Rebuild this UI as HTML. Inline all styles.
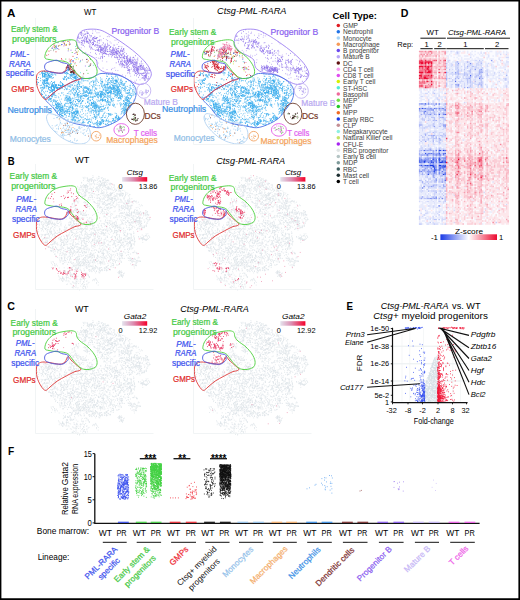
<!DOCTYPE html><html><head><meta charset="utf-8"><style>html,body{margin:0;padding:0;background:#fff;}svg{display:block;}text{font-family:"Liberation Sans",sans-serif;}</style></head><body>
<svg width="520" height="600" viewBox="0 0 520 600">
<rect width="520" height="600" fill="#fff"/>
<defs><g id="nb"><path d="M78.6 94.8h0m15.7-4.6h0m-1.1 12.5h0m32.1-13.3h0m-65.6 15.3h0m48.8 11.7h0m-40.8-16.5h0m37.2-3.6h0m-34.8 1h0m38.7-9.7h0m5.5 5.5h0m7.8-5.5h0m-43.8 10.2h0m21.9 23.7h0m-34.4-35.6h0m6 18.5h0m53.5-7h0m-9.7-7.4h0m-2.3-1.5h0m-62.1 7.1h0m10.2 17.7h0m.3-3.8h0m35.4 14.9h0m3.2-30.1h0m-24.8 20.4h0m53.4-9.4h0m-42.9-14.3h0m-23.3 19.6h0m25-17.6h0m13.3 2.1h0m-39.8 8.2h0m10.1-.9h0m-1.6-15.9h0m39.3 28.8h0m-19.6-32.2h0m4.5-.4h0m12.7 19.2h0m-9.4 22.2h0m-5.9-20.9h0m4.5 15h0m29.3-26.9h0m-45.8 10.1h0m2.3 .7h0m-4.4 3.4h0m12.4 20.1h0m31.7-32.7h0m-27.8 25.3h0m22.7-.8h0m7.9-3h0m-21.6 5.1h0m25.3-14.2h0m-2.7 .1h0m-17.3-18.6h0m9.3 3.1h0m-46.9 17.6h0m29.7-19.4h0m-3.7 36.1h0m-6.2 .3h0m13.6-17.8h0m-37.7 4.9h0m26.5-12.4h0m20.4-21.2h0m11.2 32.2h0m-34.1-10.2h0m36.5 5.7h0m-56.3 7.3h0m40 .5h0m5.6-18.4h0m12 4.3h0m-65.9-11.1h0m9.2 11.9h0m19.8-18.1h0m26.2-.7h0m8.6 28.2h0m-48.7 2h0m8.7-5h0m10.5 1h0m17.3 12.5h0m-15.5-9.2h0m22.3-12.8h0m-25.1 8.7h0m-21-12.6h0m21.3 22.8h0m-18.3-24.2h0m48.3 11.1h0m-41.2-7.9h0m36.4 1.6h0m-29.3 7.7h0m38-6.3h0m-22.5 21.7h0m-54.3-24h0m12.1 7.6h0m9.7 7.6h0m52.5-2.4h0m-54.1-2.8h0m55.3-6.2h0m-62.6 11.2h0m4.7-4.9h0m-18.9-8.1h0m77.3-.1h0m-55.6 14.1h0m58.5-17.1h0m-22.1-17.3h0m-3.9 16.3h0m17.9 14.1h0m7.2-13.7h0m-25.8 14.3h0m19.7-20.2h0m-55.1 21h0m27.5-21.3h0m31.4 14.4h0m-23.9-3.2h0m-28.3 5.7h0m33.6 8.6h0m-4.3-13.9h0m-16.4 5.9h0m20.1-10.6h0m4.7-10.2h0m-46.8 25.2h0m21.5-11.4h0m28.3 17.9h0m-9.1-18.7h0m7.4-3.7h0m-53.8 22.2h0m34.4-11.5h0m31.3-6.5h0m-18.5 3h0m7.8-11.3h0m-60.7 17.2h0m69.8-.2h0m-46.8-26.3h0m40.2 36.9h0m6.3-35h0m-47.9 35.3h0m.6-22.4h0m43.6-15.5h0m-37.9 10.3h0m-30.1 9.1h0m3.8 12.4h0m38.6 5.1h0m-37.6-6.2h0m72.2-5.6h0m-6.8-5.1h0m-38.7 21.7h0m5-29.5h0m12.7 .6h0m-25.6 14.9h0m-6.4-7.9h0m26.6 25.2h0m-42.1-23.8h0m61.5-21.6h0m-8.7 40.8h0m9.7-30.2h0m-3.8 9.8h0m-35.6 11.3h0m45.3-2.8h0m-4.5-11.6h0m-20.5 15.5h0m-30.3-1.4h0m38.4-33.2h0m-54.8 22.6h0m44.5-8.5h0m5 11.9h0m-40.8 3.9h0m66.2-10.8h0m-59.4 11.9h0m34.1-25.6h0m.9 11.1h0m-1.8 28.6h0m10.8-31.5h0m-6.5 25.4h0m21.2-13.3h0m-23.5 5.6h0m-24.8 2.5h0m-5.6-1.8h0m19.7 .9h0m13.5-23.5h0m-25.8 .6h0m8.9-.2h0m27.8-6.7h0m-38.8 33.8h0m16.9-7h0m-22.3-5.6h0m-8.8 9.5h0m6.6-15h0m47.8-5.6h0m-1.8-10.1h0m-38.6 17.9h0m-9.7-.9h0m31.7 25.1h0m21.4-31.2h0m-56.2-2.9h0m37.7-5.7h0m9.6-5.4h0m9.6 12.5h0m-25.3-5.5h0m30.6 24.8h0m-15.5 4.6h0m9.6-30.8h0m-38.9 19.1h0m-2.7-1.2h0m41.7-3.4h0m-30.2 23.8h0m31.1-37.7h0m-71.3 14.5h0m75 3.7h0m-35.5-9.5h0m29-1.5h0m13.9-1.8h0m-8 14.3h0m-25.1 8.6h0m3.5-20.6h0m23.3 7.6h0m-34.4 3.4h0m-19.1-10h0m19.1-1.3h0m29.3-9.5h0m-23.9 24.3h0m17-23.5h0m-56.9 21.9h0m59.8-12.1h0m-20.4 23.3h0m24.5-22h0m-.8-1.4h0m13.3 .7h0m-60.6 15.1h0m9.3-8.1h0m14.6-4.8h0m18.9-5.5h0m-40.5 29.9h0m33.4 1.5h0m3.9-44.7h0m-5.6 31.1h0m1.8-29.3h0m-16.6 24.6h0m-17.4-4.3h0m26.2-7.9h0m7.1 30.6h0m-.8-37.5h0m19.7 12.1h0m-47.4-5.2h0m-24.4 4h0m24.3-11.4h0m-15.9 24.8h0m-6.8-2h0m36.5 5.5h0m-36.2-3.3h0m2.5 4.5h0m18-17.8h0m22.8 1h0m8.2 17.6h0m-37-1.8h0m4-7h0m8-10h0m-9.8 20.5h0m41-35.9h0m-36.5 12.4h0m-4 23.7h0m53.4-14.2h0m-14-12.4h0m-30.1 1.1h0m-26.8 17.7h0m.7-5.6h0m42.7-8.4h0m-22.7 11.7h0m30.1-25.5h0m-23.9 6.9h0m16.7-3.8h0m-2.6 22.9h0m19.1-11.6h0m-55.1 18h0m30.2-13.6h0m-21.8-.9h0m10.1-.7h0m26.8-12.8h0m-40.5 27h0m11.3 8.6h0m40.8-32.1h0m-13.2 2.1h0m-14.9 1.2h0m-19.4 22.2h0m35.1-29.4h0m2.8 1.9h0m-36.5 3h0m-6.7 7.2h0m52.7-4.9h0m-44.8 24.1h0m.1-20.2h0m-3.4-8.8h0m35 7.3h0m-10 23.5h0m-24.5-32.7h0m22.3-.1h0m30 18.5h0m-26.1 17.2h0m-2.6-12.6h0m6-9.8h0m-39.3 17.3h0m69.5-12.7h0m-56-8.9h0m21.8 24h0m33.9-28.9h0m-55.9 32.1h0m13.9-19.9h0m-22.5-3.8h0m23.3 7.5h0m39.1-4.3h0m-72.3 4.8h0m2.9-1.8h0m41.5-9.6h0m-22.5 7.4h0m37.4-6.5h0m-22.9 8.7h0m-20-4.9h0m42.5 18.5h0m13.7-12.9h0m-34.8 12.3h0m-34.4-3.7h0m12.6-5.9h0m6.2 13.9h0m29.8-16.7h0m-51.4 4.5h0m67.1-24.7h0m-53.4 16.4h0m47.4 18.3h0m-9.7-34.7h0m1.1-1.4h0m-36.5 20.3h0m7.8-7h0m-25.1 14.7h0m59.5-27.3h0m-4.3-2.3h0m19.7 17.3h0m-28.9-6.3h0m-43.1 15.1h0m25.8-19h0m6.6 17.1h0m9.4 5.7h0m-6.2-14.3h0m-26.4-.7h0m-11.9 5.5h0m35 3.6h0m-28 2.9h0m45.6-33.7h0m-22.9 18.4h0m32.5 8.3h0m-40.1-18.7h0m-24.8 12.4h0m22.3 6.8h0m27.1-10h0m-36.5 4h0m4.4 10.5h0m26.4-6.1h0m-41.3 7.7h0m62.5 8.6h0m-53.2-1.6h0m12.4-20.9h0m5.6-2.8h0m-32.7 7.9h0m71-.4h0m-44.7-7.2h0m34.4 .4h0m-50.5 10.4h0m61.8-6.4h0m-52.6 17.9h0m35.8-13.8h0m-38.8 7.1h0m28.5-18.9h0m15.9 4.5h0m-24.6-3.8h0m13.6 7.4h0m-.6 28.6h0m16.8-38.1h0m-26.9 32.5h0m26.4-33.3h0m-25 5h0m-21.1 20.9h0m18.6-16h0m37.1 4.3h0m-56.1 8.8h0m15.9-16.9h0m-16.8 17.6h0m23.1-6.8h0m27.2-23.5h0m-3.2 1.5h0m-18 34.4h0m4.1-21.9h0m9.5 .6h0m-55 10.8h0m51.9-15.1h0m0 35.9h0m12.9-33.9h0m-59.4 16.3h0m-6 2.5h0m7.8 6.3h0m32.3-24.5h0m-23.9 13.8h0m34.4 18.6h0m-2.2-38.6h0m-30.8 2.4h0m28.2-6.2h0m20.7 1.6h0m-41 3.9h0m7.7 9.8h0m6-6.3h0m5.9 2.5h0m9.7-9.7h0m.1 3h0m-31.6 26.5h0m45.7-11.3h0m.7-13.7h0m4.1-.9h0m-40.6 6.7h0m38.7-7.6h0m-21.3-4.6h0m16.9 22.6h0m-26.1-9.1h0m-19-.1h0m-14.9 10.7h0m14.2-16.9h0m53.7 6.4h0m-37.7 .9h0m7.4 26.8h0m-14.1-31.3h0m6.9 14.9h0m-37.6-3.7h0m36.5 14.7h0m41.7-22.9h0m-16.9-1.8h0m-21.8 9.8h0m31.3 7.8h0m-48.9-22.5h0m51.9 4.2h0m-22.6 9.5h0m3.8 20.1h0m-40.1-21.2h0m-12.8 5.7h0m54.3-23.9h0m-44.8 11h0m30.7-.5h0m4.7-11.2h0m-33.1 32.1h0m46.5 2.8h0m-.2-21.1h0m-10.6 5.2h0m5.5 13.9h0m9.2-19.1h0m-40.8-3.4h0m5.9 2.2h0m34.3-2.9h0m-3.5-10.7h0m2.3 5.9h0m9.4 3.7h0m-19.9-5.4h0m-5 13.9h0m-7.7 2.9h0m-25.2-2.4h0m17.9-6.7h0m37 14.4h0m-50.8 10.6h0m20.3-31.5h0m-32.6 21.5h0m39 16.7h0m3.3-24h0m2 15.5h0m-30.2-5.8h0m31.5-21.1h0m-50 11.5h0m47.6-7.4h0m11-1.4h0m-11.1 4.8h0m-30 7.5h0m25.3 20.5h0m2-24.6h0m12.2 4.5h0m-54.8 5.2h0m3 .2h0m7.2-7.1h0m28.7-8.3h0m13.5-5.7h0m-14.7 16h0m-10.5 2.9h0m-14 8.2h0m30.3 5.8h0m-28.1-2.3h0m14.6-27.3h0m24.2 1.9h0m-43.5 15.3h0m-6.2 1.2h0m-2.2-6.7h0m1.1 11.9h0m65.3-17.8h0m-27.3-1.7h0m-40.4 11.7h0m20.1-9.7h0m10.7 10.6h0m-16.1-22.9h0m25.1 21h0m9.8-1.4h0m-28-11.5h0m46.9-.1h0m-44.6-6.7h0m2.1 8.1h0m-9.8 18.6h0m19-7.6h0m-1.6 18h0m8.5-29.8h0m-6.3-.6h0m6.5-11.1h0m15.6 34.9h0m-21.7-5.9h0m11.8-18.7h0m-4.2-8.6h0m-28.3 36.5h0m35.1-30.7h0m-.4-2.2h0m-15.1 8.7h0m-31.7-1.8h0m-6.9 12.1h0m9.8 4.3h0m29.6 11.4h0m-8.2 .8h0m9.7 2.6h0m19.2-38.1h0m-52.4 12.1h0m51.2-9.1h0m-47.1 12.7h0m61.1-11.4h0m-6.9 18.1h0m-9.5-19.1h0m8.7 20.6h0m-9.3-25.8h0m13.3 14.4h0m-6.7-16h0m-28.1 18.7h0m-3.5-15.6h0m10.7-5.2h0m24.2 13.9h0m-12.1-1.5h0m2.4-12h0m-36.1 4.4h0m3.2 13.3h0m7.1 15.6h0m7.4-12.2h0m13.5-10.8h0m-8.1 7.5h0m-40.6 8.3h0m71.7-11.4h0m-42.1 24h0m-11-27.5h0m20 17.1h0m22.3-12.7h0m-65.6-3.5h0m40.1 13.6h0m19.2-27.7h0m-7.6 16.4h0m10.1-2h0m-3.1 24.4h0m-50.4-12.7h0m45.8-2.1h0m-30.2-23.5h0m-5.5 27.4h0m51.4-4.5h0m-55.1 11.9h0m43.1-30.5h0m-25.6 5.3h0m13.2 31.3h0m-.8 2.2h0m20.5-38.2h0m-34.4 10.5h0m10.4 14.2h0m18.4-18.5h0m4.4 25.3h0m-5.7-24.2h0m-32.3 7.3h0m20.5 10.5h0m17.3 5.4h0m-31.9-9.7h0m-30 .3h0m4.3 2.6h0m39.6-14.6h0m22.7-10.2h0m-9.4 13.4h0m-20.5 8.6h0m32.6-20.7h0m-56.5 20.9h0m31.8 10.2h0m-18.4-16.7h0m34.6-13.7h0m-38.7 12.2h0m-20.3-2.3h0m15 8h0m51.8-4.8h0m-22.7-18.5h0m-27 11.3h0m21.2 15.1h0m-1.6-1.5h0m9-11.5h0m-24.2-8.6h0m27.7 14.7h0m-13.6 .1h0m35.3-6.1h0m-56.4 24.6h0m31.1-29.3h0m-20.8-4.8h0m17.8 33.2h0m-45.1-15h0m3.4 2.9h0m.4-.4h0m60.2-15.8h0m3.7 12.9h0m-33 22.4h0m-23-12.9h0m52.7-10.1h0m-16.6-13.7h0m-8.7 15.3h0m-6.4-6.2h0m-5.9 24.1h0m13.4-17.5h0m22.4-7.1h0m-18.2 25.6h0m8.5-26.6h0m12.2-14.7h0m-22.1 26.7h0m3.1-29.7h0m-2.5 16.6h0m24.4 5.4h0m-45.4-17.2h0m-20.5 24.6h0m7.5-23h0m47.4-5.7h0m12.4 7.7h0m-33.7 17.5h0m26 13.5h0m-33.5-25.2h0m-.9 14.7h0m16.4 13.8h0m27.7-22.3h0m-74.7-4.9h0m37.1-1.4h0m29.8 .4h0m-12-17.2h0m4.5 17.5h0m-40.2 8.3h0m-3.5-3.5h0m59.2-5h0m1 12.8h0m-17.7-16.1h0m-51.8 18.6h0m41.1-14.6h0m-26.5 18.2h0m22.8-5.4h0m-7.8-17.2h0m12.2 3.5h0m-29.8 9.1h0m18.8-13.9h0m-6.3 4.4h0m-16.3 7.7h0m21.3-2.9h0m-32.6 6.1h0m32.3 6.5h0m-6.3 7.3h0m19.8-22.6h0m15.4-8.6h0m-40.9 25.1h0m48.1-27.8h0m-59.9 27.7h0m42.8-9.4h0m-8.2 9.3h0m8.5-11h0m-10.1 20.9h0m-28.2-9.9h0m52-28.7h0m-25.2 5.4h0m-12 .6h0m-11 18.7h0m50.9-23.4h0m-45.1 17.4h0m-1.4-15.1h0m14.2 26.5h0m27.5 4.8h0m-38.2-35.6h0m-13.7 19.9h0m43.6-2.2h0m-33.8 17.5h0m45.7-35.4h0m-3.7 37.5h0m-58.7-8.2h0m35.6-1.2h0m-37.9-6.3h0m4.1 7.9h0m51.3-30.3h0m-38.4 11.1h0m-2.6-7.5h0m15.3 37.9h0m8.7-19.6h0m24.7-3.5h0m-18.5-7.4h0m19.5-3.3h0m-9.7 29.7h0m2.7-30h0m-48.6 .9h0m60.8 10.6h0m-29.1-5.6h0m-20.9 26.9h0m43.2-23.3h0m4.1 12.8h0m-45.1-10h0m35.2-15.2h0m-2.1 3.2h0m-40.6 25.1h0m25.3-8.6h0m-6.5-15.2h0m39.7 12.5h0m-18.9-13.2h0m2.4 3.9h0m17.7 9.3h0m-17.3 18.2h0m.7-40.7h0m-36.9 30.7h0m26-13.5h0m-5.8-.3h0m-16 8.5h0m-13.8-19.4h0m41.9 .9h0m-49.5 24.1h0m35.2 4.6h0m-7.8-26.4h0m4.2 18h0m16.3-17.3h0m-15.1 12.5h0m-18.8 9.8h0m5.6-19h0m36.7-12.1h0m-7.8 11.2h0m-.4-3.5h0m-31.4 22.8h0m4.4 5.3h0m6.9-24.4h0m-36.8 3.5h0m64.3-15.8h0m-39.3 3.7h0m-3.8 6.6h0m11.9 4.2h0m21.1-7.8h0m-8 6.7h0m-26-8.6h0m46.1 2.6h0m-53.6 17.1h0m40.7 19.4h0m7.3-20h0m-.9-3.6h0m-17.3-4.7h0m-4.4 1.1h0m28.6-5.3h0m-15.4-2.7h0m14.3 5.6h0m-28.1-3.7h0m12.9 3.5h0m-34.6 16.2h0m19.2-3.9h0m-32.4-13.3h0m24.3-7.3h0m11.9 7.9h0m11.8-6.5h0m-25 6.4h0m5.2 25.9h0m44.1-27.6h0m-58.2 15.3h0m52.8 4.2h0m-23-14h0m15.6-6.4h0m-45.5 7.2h0m8.8 13h0m10.4 8h0m-11.5-2.4h0m42.9-19.2h0m13.7-8.6h0m-33.9 21.7h0m26.6-1.3h0m-51 4h0m-25.6-15.2h0m76.2 12.6h0m1.6-8.4h0m-15.3-26.5h0m-12.6 35.3h0m30.2-8.6h0m-18.9 1h0m-45-4.1h0m32.9 25.8h0m34.5-40.1h0m-31.2 7.2h0m28 8.5h0m-32.9 3.7h0m31.2-1.6h0m-20 3.9h0m12.5-11.5h0m-49.3 15.5h0m1.3-7.8h0m-23.1-6.1h0m23.6 16h0m53.5-14.9h0m-43.9 2.8h0m34 14.1h0m-47.2-31.9h0m-6.9 31.8h0m24-20.8h0m15.3-.3h0m-.6 28.2h0m-29.3-10.1h0m-18.4-17.7h0m35.5-4.4h0m19.1 4.5h0m7.4 26.3h0m-48.5-23.5h0m28.5 7.2h0m34.6 2.2h0m-44.2-18.6h0m12.3 33.8h0m29.3-29h0m-8.7 24.2h0m-20.6-21.3h0m27.9-14.3h0m-17 9.3h0m7.8-6.9h0m-39.4 26h0m11.2 11.8h0m-34.6-28.6h0m48.9 6.3h0m15.7 19.8h0m-1.8-38.3h0m-11.7 8.1h0m17.1 19.4h0m-34.9-12.8h0m-31.3 8.6h0m4.6 2.5h0m25.7-14.8h0m18.6 1.5h0m0-9.6h0m-47.4 19.7h0m69.8-13.4h0m-17.4 31.2h0m8.4-26.5h0m9.4 6.2h0m-43.7-20.6h0m-13.3 4.3h0m1.9 34.4h0m33.1-27.4h0m-24.2-5.3h0m-1.6 29.3h0m-12.9-27.3h0m36.2 12h0m7.1 1.6h0m-33.3 1.3h0m47-15.1h0m-12.7-7.4h0m-31.7 .9h0m-12.3 21.6h0m31.7 2.2h0m22.3-22.9h0m-34.6 4.3h0m-18.7-1.6h0m29.7 8.7h0m-11.8-6.8h0m2.8 1.4h0m27.4 3.7h0m-53.8 16.7h0m6.3 7h0m27.2 3.2h0m22.7-35.6h0m-57.1 24.9h0m-6.1-8.4h0m9 12.1h0m40.4-26.6h0m-29.4 33.8h0m9-28.4h0m24.3 22.3h0m18.4-6.5h0m-14.4-17.7h0m-25 12.3h0m-2.2-15.1h0m22.7-2.2h0m7.2 36.3h0m-53.1-13.4h0m58.9-10.7h0m-64.5 5.4h0m38.1 4h0m-19.2 10.3h0m-10.2-29.5h0m13.7 14.8h0m-7.6 14.4h0m9.6-12.8h0m-23.8 5.4h0m60.6-20.7h0m-52.8 26.8h0m18.2-16.4h0m37.8-5.2h0m-62.2 17.4h0m17.6-19.2h0m26 9.3h0m-9.2 5.1h0m-19.7-5.3h0m32.8-9.3h0m3.9 1.4h0m-46.3 17.1h0m57.9-13.1h0m-16.1 3.3h0m3.4-21.3h0m11.4 1.8h0m15 13.4h0m-78.1 13.3h0m38.7-1.1h0m-3.1-18.7h0m23.3 26.3h0m-54-4h0m10.4 .3h0m46.5-15.3h0m-18.5-3.2h0m.1 18.3h0m6.6-19h0m-18 30.6h0m31.4-34.6h0m-37-7.8h0m-5.8 15.9h0m13.6-13h0m-18 38.1h0m-12.9-9.3h0m34.4 1h0m2.9-10.1h0m17.8-9.2h0m10.6 10.4h0m-47.4-6.5h0m29.3-16.6h0m-45.7 8.5h0m62.5 21.6h0m-65.8-5.2h0m8.8-2.7h0m49.6-13.8h0m-7.9 .3h0m-46 23h0m22.7-14.8h0m-27.9 11h0m60.4-14.2h0m-11.4 .3h0m-32.4 20.3h0m2.5-24.3h0m-4.2 23.9h0m21.4-32.3h0m-38.8 23.9h0m26-24.1h0m31.9 10.2h0m-2.4 .2h0m-11.8 0h0m3.9 4.5h0m13-5.1h0m7.8 21.8h0m-50.2 7.9h0m20.2 6.1h0m25.1-7.9h0m-44.3-36.2h0m23.8 43.9h0m-18.2-21.1h0m23.1-11h0m19.4 12.1h0m1-.6h0m-64.2-1.5h0m55.9 15.1h0m-39.9-4.7h0m32.7-22h0m-42.7 10.9h0m11.6 11.9h0m-7.2-12.3h0m31.3 7.9h0m-36.9-2.3h0m42.9-11.7h0m-39.3 1h0m58.5 2.9h0m-49.7-.9h0m22.6 23.3h0m.2 2h0m29.2-18.5h0m-.8-1.2h0m-53.5 8.4h0m1.6-1.6h0m37-24.9h0m-23 34.6h0m-35.6-24.9h0m11 20.2h0m59.1-26.8h0m-47.3 22h0m34.8-24.7h0m-31.5 7.5h0m-9.7 23.9h0m12.2-29.8h0m28 9.5h0m14.1 7.7h0m-41.4-10.6h0m9.1-13.8h0m7.6 13.2h0m22.2-10.1h0m-15.3 12.9h0m-25.1-3h0m18.1-2.5h0m-8-6.5h0m-15.9 8.7h0m19.2-5.7h0m15.4-.7h0m-50.9 16.6h0m47.2-18h0m-1.6 32.1h0m-4.5-12.6h0m13.2-22.5h0m-24.9 41.3h0m5.7-13.2h0m-11.8-16.8h0m33.8-8.3h0m-39.6 16.6h0m20.6 19.6h0m25.6-38.3h0m-63.2 22.5h0m26.6 .3h0m25.6-21.7h0m1.5 3.5h0m-.1-1.5h0m-15.4 28.9h0m4.4 4.2h0m13.2-35.7h0m-14.2 13.4h0m-24.5-11.7h0m18.4 19.8h0m14.9-7.5h0m-50.8 12.4h0m-3.6-5.5h0m12.5-10.1h0m46.4 22.2h0m12.2-13.4h0m-46.6-8.9h0m-4.5-1.8h0m18 9.3h0m2.7 2.2h0m-39.2 .1h0m27.7 13.5h0m32.4-26.5h0m-43.5 18.3h0m35.9-11.9h0m16-1.9h0m-57.9 2.9h0m25.6 16.6h0m-3.8-24.1h0m-37 2.1h0m43 28h0m16.5-32.1h0m-20.3 9.8h0m31.2 10h0m-47.9 2.5h0m43.1-22.8h0m-44.1 11.4h0m12-3.4h0m14.9 21.7h0m-39.7-12.9h0m14.7 4.3h0m0-25.6h0m47.5 22.6h0m-63.9 2.8h0m28.2-8.2h0m1.8-9.9h0m-18.1 24h0m27.4-39.4h0m9.1 27.4h0m-49.3 4.8h0m9.4-12h0m57 7.7h0m-21-19.3h0m-20.4 32.1h0m10.8-5.3h0m31.2-12.1h0m-19.4-8.4h0m-47.6 14.1h0m13.2-18h0m3.7 21.3h0m22.8 .5h0m-5.5 3.8h0m24.2-22.7h0m-21.7 3.1h0m8.3 6.7h0m5.2-8.8h0m-2.9-9.5h0m-12.9 24.4h0m15.8-18.8h0m-38.2 19.1h0m-22.2-8.2h0m16.4 13.2h0m50.3-23h0m-28.4 15.4h0m11.3-19.7h0m13.4 .2h0m-10.2 25.3h0m-20 11.9h0m21.4-9.6h0m5-9.3h0m4.1-17.2h0m-4.4 14.3h0m-44.2 13.3h0m59.7-6.5h0m-15.4-16.2h0m-33.9 25h0m39-28.6h0m-47.8 20.3h0m-15.3-9.6h0m8.6 13.4h0m66.9-15.6h0m-61.2 13.9h0m49.2-23.5h0m-11.6 2.7h0m29.6 1.3h0m-48.9 4h0m-4-10.1h0m8.7 21h0m-9.7-22.8h0m47.6-1.7h0m-10.1 11.8h0m-13.4 6.2h0m16.3-13.4h0m-15.3 11.6h0m-10.6-3.9h0m26.2 1.1h0m-27.2-4.7h0m31.1 20h0m-24.7-2.7h0m8.6-17.1h0m7.8 4.4h0m-37.3-10.4h0m5 22.3h0m30.8-18.4h0m-17.5-7h0m-33.2 25.7h0m43.8-16.9h0m-33.1 21.6h0m44.7-13.7h0m0-4.7h0m11.7 8.8h0m-81-1.6h0m74.4-15.3h0m-16.3 7.2h0m-11.6 30.8h0m23.7-33.6h0m10.4 13.7h0m-26.9-21.9h0m-10.1 5.4h0m-23.3 13.7h0m12.3-1.5h0m26.3-16.4h0m6.7 22.3h0m-58.2-3.5h0m36.7 4.4h0m0-2.1h0m33.9-10.3h0m-50.7-12.1h0m-13.7 25.4h0m53.6-26.4h0m2.1 9.4h0m-23.1 21h0m6.4-1.9h0m20.4 4.5h0m-21.4-13.9h0m-26.2-4.8h0m-.3-6.3h0m-11 22.5h0m65.9-17.6h0m-69.6 14.6h0m60.8 9.5h0m-5.8 4.8h0m-12.6 1.3h0m-19.5-43.9h0m-4.6 20.9h0m-13 12.2h0m36.9-31h0m27 23.1h0m-26.2 12.6h0m-26.8-3h0m34.2-23.1h0m-7.8 30.3h0m-33.4-12.4h0m13.9-8.1h0m-18.3 12.4h0m17.7-26.4h0m10.3 22.9h0m6.2 4.8h0m-23.6-29.5h0m-2.6 21.8h0m38.8-10.8h0m-49.3-8.6h0m3.5 10.4h0m59.4 15.6h0m-12.2-28.8h0m-26 3h0m7.2-5h0m-12.8 29.1h0m-11.3-14h0m-17.5-1h0m8.4 12.6h0m69.2-19.1h0m-63 25.3h0m-12.3-15.1h0m22.3-9.6h0m9.5 4.7h0m39.7 8.2h0m3.4-3.6h0m-40.8 19.2h0m28-29.6h0m-48.5 9.7h0m39.1 4.3h0m-14.1-6.5h0m-34 5.5h0m25.2 16.8h0m21-7.5h0m-46.7-7.6h0m2.7 9.8h0m56.4-29.6h0m-2 32.3h0m-21.9-14.6h0m-14.5 11.5h0m-22.1-5.7h0m-3.2-6.9h0m64.8-3.3h0m-5.7 7.1h0m1.1 1.1h0m-37.2-6.9h0m32.2-11.7h0m17.4 20.9h0m-69 3.3h0m45.5-12.2h0m.8 23.7h0m3.1-3.2h0m-6.3 2.2h0m-7.4-15.8h0m-33 3.9h0m48.7-6.5h0m-38.4-.8h0m58.1-5.7h0m-23 10.2h0m-7.4-14.8h0m-5.5 30h0m-18-33.4h0m-14.7 19.4h0m12.4 6.7h0m-11-8.9h0m17.1 5.1h0m-3.1-2.9h0m-3.4-10h0m20.2 3.4h0m22.6-12.2h0m-22.9 6.9h0m23.6-20.3h0m2.3 13.9h0m-51.3 9.4h0m27 9.9h0m3.7 12.4h0m20.9-33.7h0m-1.7-12.9h0m-19.3 36.9h0m-6.2-22.9h0m-17.7 26.5h0m38.5-33.9h0m-54.8 23.8h0m36.8 4.5h0m-6.5-14.6h0m36.4-7.7h0m-68.6 4.1h0m11.2-3.9h0m41.7 34.8h0m-29.6-35.1h0m-11 9.3h0m11.3-15.1h0m34.9 1.5h0m5.1 6.9h0m-47.8 8.8h0m31-5.3h0m-2.4 14.1h0m-.2 5.4h0m11.8 1.2h0m-32.7-25.6h0m22.2 7h0m-33.5 3.4h0m61.7-1.9h0m-77.1-1.7h0m12.8 22h0m44.3-36.1h0m-14.5 21.3h0m-21.1-2.2h0m43.5-3.9h0m-2.9-9.8h0m-5.6 8.6h0m2-9h0m-13.8 20.7h0m1.4-10.7h0m-.6-17.8h0m-4.8 13.5h0m-2.3-6.2h0m14.7 21.8h0m7.8-10.4h0m3.9-10h0m-4.4 3.9h0m7.2-.2h0m-57.4 19.1h0m32.5 0h0m14.3-22.4h0m-7.1 8.9h0m.3-.9h0m-3.9 27.4h0m.7-23.6h0m-25.7 13.3h0m21.1 .5h0m-.9-33.2h0m-22.3 21.3h0m17.9 7.6h0m-8.9-25.5h0m24.8 3.3h0m-4.7 22.1h0m-.8 5.6h0m21.1-19.2h0m-20.5 11.6h0m6.8-16.2h0m-24.3 5.4h0m35.5-3.2h0m-20.4 .6h0m-28.5 5.2h0m25.1 4.7h0m-1.1 6h0m8-12.9h0m16.9-.9h0m-1.3-14.2h0m-21.3 10.9h0m-17.5-4.4h0m-17.8 25.7h0m54.2-25.1h0m-39.5 24.5h0m-14.2 1h0m22-18.4h0m12.7 9.2h0m27.6 2.7h0m-47-15.5h0m32.1-.3h0m-4.1 27.5h0m4.5-17.4h0m-17.4-1.9h0m23.6-8.8h0m-17.8 13.4h0m-31 .7h0m-4.5 8.6h0m19.8 5.2h0m-8.3-11.8h0m15.4-19.5h0m38.3 14.5h0m-22.7-2.6h0m18.1 4.5h0m-64.5-.1h0m48.5-9.8h0m19.4 15h0m-51.8-5.3h0m2.3 6.5h0m4.2 9.1h0m9.7-41.1h0m35.7 32.7h0m3.9-10.5h0m6.9-7.2h0m-77 11.8h0m65.2-5.1h0m-18.3-10.3h0m9.7-2.1h0m-14.1 3.1h0m9.2 1.6h0m-47.8 22.8h0m46.8-13.9h0m-2.5-9.1h0m-20.9-.8h0m26.4 8.9h0m-24.9 1.4h0m43.4-8.7h0m-56.2 18.6h0m38.3 8.3h0m-4.7-20.9h0m-31.8-13.9h0m-23.4 8.8h0m14.5 16.9h0m23.1-11.4h0m.8 2.3h0m-.6-9.5h0m38.9-3.2h0m-50.6 .8h0m29.7 23.3h0m-5.9 2.8h0m2.7-19.8h0m14.7-3.4h0m-8.7 6.7h0m-59.4-5.1h0m54.2-21.1h0m-.8 13.7h0m-30.4 18.6h0m41.7-23.6h0m-29.4 24.1h0m-25.8 8.6h0m6.3-19.1h0m15.7 26.2h0m27.8-34.7h0m5.9 4.4h0m-22.8 13.9h0m-19.5-1.5h0m44.8 13.9h0m3-31.2h0m-22.2 13.3h0m-39.9 4.3h0m58.9-7.8h0m-17.8-.3h0m-18.6-3.9h0m18.1 27.4h0m-30.3-3.1h0m16.7-28.3h0m-6.2-9.2h0m19.8 19.8h0m4.3-14.3h0m-17.3 23.5h0m-17.6-1.2h0m32.4 13.8h0m21.6-31.5h0m-54.4 14.1h0m14.4-11.4h0m21 28.7h0m9.7-3.4h0m-13.2-17.2h0m8.4-19.7h0m-8.9 42h0m-48.7-17.4h0m65-18.4h0m-36.7 .1h0m29.7 4.8h0m-7.2-6h0m-34 5.4h0m57.3 18.1h0m-65.2-4.2h0m55.2-23.1h0m9.6 21.5h0m-33.5-5.8h0m16.8-12.7h0m15.8 23.9h0m-3.3-25.1h0m-14.4 23.1h0m-9.4 7.3h0m11.5-23.7h0m-15.9 25.9h0m-41.9-13.7h0m49.2-17.6h0m-32.8 8.4h0m35 .5h0m-27.9 17h0m54.1-12.3h0m-.1 4.2h0m-34.7 7.1h0m32.5-14.7h0m-51.5 17.4h0m-7.1-23.4h0m5.2 22.8h0m-5.3-6.1h0m62.3-9.6h0m-25.5-7.5h0m-19.6 16.6h0m8.9 2.9h0m12.6-8.5h0m3.5 23.2h0m-31-25.3h0m-13-8.9h0m41 4.2h0m-31.6-1.4h0m-4.1 16.5h0m5.8 10.4h0m5.1 2.8h0m24.7-28.9h0m-10.2 1.6h0m12.5-2.4h0m2.9-13.2h0m-12.4 45.8h0m3.1-31.1h0m13.4 26.3h0m-3.7-.9h0m11.1-31h0m-42 1h0m4.7 .6h0m25.2 31.2h0m-21.1-16.2h0m30-9.5h0m-48 23.3h0m5.2-18.2h0m19.7-7.1h0m-2.1 13.2h0m-27.7-5.4h0m18 19.2h0m3.5-23.7h0m27.4-18.4h0m-52.6 9.7h0m23.3 6.1h0m23.3 28.4h0m-16.9 1.3h0m22.8-28.3h0m-23.7 10.5h0m-8.8-18h0m-7.1 29.9h0m18.1-21.7h0m25.1-16.6h0m-19.5 7.3h0m16.7 3h0m-1.6 .4h0m-51 8.6h0m51 16.6h0m-5.9-27.2h0m-7.8 34.3h0m-7.7-28.6h0m36.5-.1h0m-14.1-.8h0m-10.6-4.8h0m1.4 22.6h0m-52.5-4.3h0m23-9h0m27.1 23.7h0m5.8-33.3h0m-49.4 21.3h0m26.5 2.9h0m36.3-9h0m-8.1-13h0m-37.1 6.7h0m29.7-8.5h0m-3 37.1h0m12.6-35.7h0m-58.6 25.1h0m24.2 4.3h0m-15.2-17.1h0m.9 1h0m-19.8-3.9h0m34-3h0m18 24.9h0m4.1-25h0m8.7-12.1h0m-20.6 18.7h0m11.5-26h0m-11.3 12.7h0m21.4 27h0m-36.5-12.2h0m43.2 3.5h0m-9-19.9h0m-63.4 13.8h0m29.7-14.6h0m-21.7 19.4h0m72.1-17.4h0m-16.4 8.1h0m-56.1 7.9h0m9.3 14.8h0m-11.1-8.6h0m70.7-11.3h0m-39.9-8h0m38.1 14.4h0m-53-17.6h0m45.2-.8h0m-43.6 29.7h0m24.7-10.1h0m13.6 13.9h0m3.1-44.9h0m-8.2 42h0m-33.8 .1h0m29.6 3.3h0m-26.9-10.4h0m49.3-1.7h0m-36.6-16.8h0m-39.2 6.4h0m26.1 5.9h0m20.7 1.4h0m21.8-18.9h0m-63.7 21.8h0m20.6-20.9h0m19.3 15.6h0m-21.6 14h0m19.3-20.8h0m-23.1 17.5h0m8.2-1.5h0m15.6-9.7h0m-6.6-12.9h0m39.4 13.9h0m-68.2-.7h0m68.5 .8h0m-5.6 .3h0m-62.6 .3h0m-1.5-.6h0m66.9 7.7h0m-22.1-2.6h0m18.2-24.2h0m5.4 13.5h0m-57.5 11.2h0m26.3-28.3h0m-4.9 7.9h0m25.4-6h0m.7 37h0m-5.3-28.1h0" stroke="#30a8ec" stroke-width=".9" stroke-linecap="round"/><path d="M132.8 95h0m-31.3 22.6h0m31.8-30.1h0m-61.4 25.2h0m15.8-13.4h0m20.4-11.9h0m12.5 18h0m-6.9 13.4h0m-9.9-24h0m13 1h0m-46.2 11h0m63.6-17.9h0m-26.8-8h0m21.7 11.1h0m-13.2-12.8h0m-37.7 22.5h0m-27.6-.1h0m48.8-.4h0m-6.2-16.3h0m22.3 10.7h0m-48.1 11h0m41.6-26.6h0m20.9 5.4h0m-27.6 23.9h0m-47.2-7.8h0m36.8 20.5h0m12.7-37.3h0m-30.9 9.7h0m9.9 19.1h0m35.1-30.5h0m-53.3 20.7h0m-16.9-4.2h0m41.5-2.2h0m21.4-12.8h0m11 12.6h0m.2 14.7h0m-47.5-14.3h0m28.3 12.2h0m-7.5-26.9h0m-25 11h0m1.5 27.1h0m14.8-25.3h0m-28.3 2.2h0m36.6-20h0m20.4 9h0m-15.1-6.5h0m-35.9 24.6h0m48.3-5.9h0m-2.2 14.9h0m-28 8.5h0m-23.5-8.5h0m60.4-31.9h0m-53.9 13.8h0m53.7 4.7h0m-19.2 5.9h0m8.2 13.7h0m-13.2-25.6h0m9.7 29.6h0m-21.8-23.3h0m2.2 2.5h0m42.8-3h0m-5.6-5.4h0m-34.7 11.9h0m42.5-20.9h0m-34-7.7h0m23.6 18.7h0m-54.3 13.5h0m9.1-20.7h0m18.3-8.7h0m23.7 8.4h0m-34-10.6h0m-26.9 18.8h0m44.1 9.6h0m-53.2-7.8h0m27.5-18h0m3.4 15.6h0m31 5.2h0m-23.9-5.9h0m-22-3.6h0m10.2 21.2h0m.5-12.7h0m39.9 17.5h0m20.2-18.5h0m-34.9 7.9h0m-13 5.7h0m-.8-33.4h0m18.6 12.3h0m25.3 8.4h0m-7.6-13h0m-47.4 10.2h0m-5.7 15h0m56.6-17h0m0-10.2h0m-34.4 25.6h0m11.6-26.4h0m30.9 7.4h0m-43 7.9h0m44.3-9.4h0m-52.7 32.1h0m2.4-17.6h0m-8.9-10.5h0m53.8 2.8h0m-63.3 15.6h0m29.4-17.2h0m-12.4 13.1h0m24.4-20.8h0m-5.9-6.9h0m-25.7 8.4h0m-25.6 8.2h0m7.9 12.8h0m8.1-8.1h0m52.2-2.5h0m-6.5 23h0m-37.1-28.3h0m23-14h0m13.3 21.5h0m-48.6 9h0m41.4 2.3h0m-26.8-10.4h0m33.2-7.8h0m-51.1 14.6h0m51.2-28.1h0m-22.5 30.8h0m-5 8.9h0m-13-22.3h0m18.5-18.6h0m25.6 24.3h0m17.4-22.5h0m-45.5 4.4h0m9.8 22.5h0m7.5-3.4h0m-25.4-18.1h0m12.5-4.3h0m-10.5 10.7h0m21.4 8.3h0m-38.9-9.6h0m27.1 16.3h0m7.6 .3h0m24.1-3.4h0m-49.5 14.2h0m62.4-29.7h0m-67.9 6.6h0m32.1 11.9h0m-.9-29.4h0m13.2 15.5h0m-12.3 11.9h0m-24.4-17.1h0m.4-3.6h0m-1.3 11h0m-3.7-5.8h0m51.1 11.6h0m-49.6-9.1h0m13-7.7h0m6.7 26h0m1.3-20.3h0m-23.7-5.7h0m-7.7 2.6h0m28.4 13.3h0m-15.8 11.2h0m62-21.5h0m-74.2 19.6h0m33.2 14.5h0m10.2-17.9h0m-.4 6.5h0m14 4h0m-55.8-20.2h0m23.2-11.9h0m44.4 5.5h0m-43.9 22.5h0m28.4-32.4h0m-39.8 .4h0m49.9 7.4h0m6.6-5.4h0m-14 9.2h0m-15.1 5.8h0m-23.7 15.2h0m43.9-11.7h0m-72.6-3.8h0m53.8 20h0m-46.2-12.7h0m45.6-1h0m-48.3-12.2h0m50.2 11.2h0m11.7-19.6h0m-11.1 8.2h0m-20.9 23.3h0m41.7-5.2h0m-48 1.8h0m2.3 7.2h0m-7.4-10.9h0m9-2.5h0m15.4 7.1h0m-5.1-20.8h0m42.1-8.1h0m-37.5 20.3h0m-34.7-13.3h0m30.1 27.4h0m26.5-40h0m-27.7 35.4h0m18.4 8.9h0m-35.9-4.1h0m47.3-44.4h0m-45.1 41.6h0m47.1-20.7h0m-6.9 10.4h0m13.9-12h0m-28.4-15.1h0m12.2-1.4h0m-.2 2.1h0m-25.6 19.1h0m18.9-15.2h0m2.1 24.3h0m3.3-34.7h0m-61.5 25.4h0m63.3 3.4h0m.4-17h0m-11.6 36.7h0m-15.9-42.1h0m13 11.7h0m-8.4 4.9h0m42.3-1.6h0m-43.1 13.1h0m-13.2-3.2h0m16.7 18.3h0m-30.9-10.6h0m33.7-29.6h0m9.1 23.9h0m-28.7-10.5h0m27.5 23.4h0m1.8-14.8h0m-14.7-15.8h0m-21.4-3.1h0m-4.9 24.6h0m-7.7-4.9h0m45.4-25.4h0m-7.1-2h0m-4.8 28.8h0m-15.4-2.7h0m14.2-1.6h0m-1 19h0m30.4-39.5h0m-33.7 23.9h0m-14.2-15.8h0m45.8-5.7h0m-32.9 13h0m-18.4 16.3h0m28.8-30.1h0m22.9 19.3h0m-36.9-7.7h0m26-11.6h0m-26.4 30.6h0m-22-12.1h0m65.6 10.5h0m-43 2.8h0m21.9-1.1h0m-45.1-3.1h0m52.9-25.9h0m9.1 3.8h0m-59.5 9.8h0m61.2 14.2h0m-22.1-18.4h0m8.1 9.2h0m-14.6-16.1h0m-32.7 0h0m68.7 3.7h0m-38.6 27h0m-17.2-27h0m8.3 24.6h0m48.3-23h0m-18.9 3.3h0m-7.7-10.8h0m-20.1 7h0m8.6 25.4h0m-9.2-35.9h0m23.7 34.2h0m-6.6-7h0m-27.2-21.1h0m43.3 23.9h0m13.5-23.4h0m-3.1 3.2h0m-72 14.8h0m33.4-21h0m-5.6 22.9h0m36.6-34.6h0m-1.4 42.1h0m-21.9-1.7h0m26.6-6.2h0m-41-9.9h0m-9.2-9h0m-5 8.3h0m54.9-8.7h0m-5.6 4.6h0m-14.4 12.3h0m16-26.9h0m-56.4 15.7h0m59.5-5.6h0m-16.5 16h0m-19.8-25.1h0m34.8 17.2h0m3.8-16.9h0m-63.4 12.4h0m5.7 12h0m-12.2-9.8h0m38.9-10.4h0m26-8.8h0m11.7 4.1h0m-22 32.7h0m-23.1-22.4h0m46.9 14.5h0m-35.1-25.2h0m5.8 39.5h0m-47.5-14.4h0m35.7 15.9h0m35.9-22.6h0m-43.6 15.8h0m-14.8-13.7h0m37.2-1.1h0m-.1-14.3h0m-16.9 32.5h0m21.1 6.5h0m-10.6-38.8h0m20.3 1.5h0m-7.7 11.2h0m16.1-10h0m-62 16.7h0m43.9-24.9h0m-37.5 10.2h0m34.3-10.2h0m-34.1 11.8h0m37 28.7h0m5.7-15.5h0m3.6-24.2h0m-23.1 24.5h0m-24-18.5h0m50.3 11.5h0m9.4-9.9h0m-53.3 20.3h0m32.7-11.6h0m-56.4 3h0m38 10.2h0m44.4-17.1h0m-80.7 6.5h0m56.7-6.8h0m-54.8 2.8h0m5.8 17.4h0m49.8 1.1h0m-38 7.7h0m37.6-41.5h0m-58.1 19.1h0m5 7.5h0m13.6 11h0m45.6-27.3h0m-3.7-4.7h0m11.1 24.1h0m-42.9 .7h0m5.3-30.5h0m13 42.9h0m13.2-1.3h0m12.4-40.6h0m-15.3 20.1h0m-15.4-16.8h0m-10.1 26h0m34.7-31h0m-50.8 5.5h0m-15.5 20.6h0m25.5 1h0m.6-.3h0m20 .6h0m-18.9-10.3h0m21.2 4.6h0m-31.3 17.8h0m59.6-31.7h0m-33 4.5h0m3.2 4.7h0m20.2-14.4h0m-13.6 10.6h0m-29.8 13.4h0m-12.9 .3h0m9.7-10.7h0m-22.2 8.4h0" stroke="#5cbcf0" stroke-width=".9" stroke-linecap="round"/><path d="M44.5 79.9h0m7.7 6.1h0m0 3.7h0m-6.3-6.6h0m11.1 5h0m18.1-9.9h0m-30.1 3.3h0m11.5 7.3h0m-5.1 0h0m1.6 3.9h0m7.4-6.7h0m-6.4 2.9h0m3.5 .1h0m-14.7-13.9h0m10.4 14.6h0m7-6.8h0m-11.5-6h0m22.4-4.2h0m-22.7 1.9h0m26 3.2h0m-23.5 10.2h0m-6.2-.7h0m7.7-3.9h0m-8.8 8.4h0m27.9-18h0m-26.7 9.5h0m7.5 7.9h0m-.7-17h0m19.9-2.2h0m-25 10.9h0m29.6-3.7h0m-24.2-6.5h0m-10.2 21.1h0m13.7-7.1h0m3.5-1.2h0m-11.6-1.8h0m-.5 2.7h0m5.4-11.2h0m-2.3 1.5h0m17-3.8h0m5.2 2.7h0m-30.4 15.7h0m12.7-1.2h0m18.9-16.2h0m-29.6 7h0m5.4-6h0m-3.7-.9h0m-.8 8.4h0m10.1 4.5h0m-4.1-9.2h0m-8.9 12.3h0m33.5-11.8h0m-14.1 8.7h0m-15.3-11.2h0m.1 3.7h0m5.8 8.7h0m17.7-20.8h0m-25.8 17.3h0m-1.2-4.6h0m10.1 10.6h0m14-15.7h0m-11.2 9.7h0m-4.2 3.2h0m-3.2-9.4h0m-5.1-5.7h0m-1.1 20.5h0m10.9-7.9h0m-1.5-1.2h0m5.2 3.4h0m10.1-14.8h0m7.6 .8h0m-8.4-.2h0m-19.5-1h0m25.1 3.8h0m-12.8 8.9h0m4.3-.9h0m14.7-6.6h0m-34.9 9.9h0m10.7-14.8h0m3.6 12.2h0m13.4-7.2h0m-10.9 10.5h0m-13-13.1h0m-3.9 .6h0m-1.3 12.2h0m2-4.3h0m3.8-3h0m19.5-.5h0m-12.5 7.4h0m-10.8-.4h0m.3-13.5h0m24.9-3.4h0m5.8 8.5h0m-23.3-4.4h0m-3.9 5.9h0m-6.2 .6h0m13.4 9.6h0m-.3-3.5h0m-9.1 10.2h0m23.3-29.1h0m-13.5 20.1h0m4-.4h0m-13.8-14h0m-.1 23.9h0m2.9-6.2h0m7-2.8h0m-16-6h0m13.6 9.3h0m21.4-17.2h0m-24.1 12.9h0m16.8-18.6h0m-16.7 7.3h0m18.1-3.2h0m-23.8 11.6h0m8.7-11.8h0m-1.8 3h0m3.4 11.8h0m-8-7.1h0m15.7 5.2h0m8.8-11h0m-10.4 13.3h0m-17.8-5.8h0m.4 1.6h0m11.7 6.1h0m-6.6-14.6h0m15.8 3.7h0m-18.7 1.4h0m7.7 4.1h0m11.9-5.6h0m6.5-3.7h0m-28.4-.7h0m5.3 4.9h0m26.6-4.6h0m0 2h0m-28.8 18.2h0m3.8-10.1h0m-6.3 12.2h0m-.8-22h0m8.9 14.9h0m-2-14.5h0m14.7 10.6h0m-14.2 3.8h0m8.6-4.7h0m-15.8-10.8h0m.5 14.1h0m20.5-3.9h0m-16.7-5.8h0m8.7 8.5h0m5.2-1.8h0m-1.1 2.2h0" stroke="#30a8ec" stroke-width="1" stroke-linecap="round"/></g>
</defs>
<use href="#nb" xlink:href="#nb" x="0" y="0"/>
<path d="M49.9 90.1h0m-1.4-12.1h0m28.4 .2h0m-28.6 5h0m.8 3.9h0m-7.2 .7h0m36.2-11h0m-2.6 2.2h0m-27.8-6.9h0m-2.2 2.5h0m6.3 12.3h0m1.8 .3h0m20.7-9.7h0m-25.8-2.2h0m-4 .4h0m2.4-2.8h0m-1.1 18.4h0m21.5-23.6h0m-3.7 11.7h0m-.3-7.6h0m1.2 5.2h0m-12 6.1h0m14.1-3.9h0m-26.2 8.8h0m11.8-9.8h0m1.4-5.8h0m21.3 4.2h0m-2.5-3.6h0m-4.4-5.7h0m-26.1 27.3h0m33.2-19.7h0m-6.9-1.3h0m-19.5 10.6h0m19.6-13.7h0m-16.9 6h0m-4.2 5.7h0m4.9 4.3h0m19.6-10.6h0m-26.9-4.6h0m34.9 7.3h0m-37.1-1.4h0m32.7-.4h0m-22.2-1.9h0m-5.5 5.7h0m15 4.7h0m2.3-8.4h0m-15.2-3.5h0m6.5 11.2h0m-4.7 2.3h0m2-1.6h0m22-8.2h0m-28-.1h0m-2.8 16h0m-.7 4.2h0m13-10.2h0m19.8-11.4h0m-30.9 5h0m-1.6-9.3h0m18.1 14.2h0m-12-13.5h0m-13.3 12.4h0m22.5 .8h0m3.2-.6h0m-17.9-10.6h0m-4.7 11.6h0m8-11.3h0m15.4 11.9h0m-16.4-.2h0m29-8.1h0m-16.7 9.9h0m-13.3 .2h0m1.8-14.7h0m6.3 8.9h0m-11.6 12.4h0m3.6-16.4h0m20.5 .9h0m-10.6 8.9h0m-10.7-15.8h0m8.9 .6h0m7 13.9h0m-12.9 1.4h0m-7.2-15.1h0m23.9-1.3h0m-20.5-.4h0m4.2 12.6h0m25.8-9.6h0m-23.2 11.6h0m16.8-8.5h0m-.6 .5h0m-21.7 17.5h0m2.2-20.4h0m-.3 7.7h0m-3.1 4.2h0m15.6-.6h0m-12.4-13.2h0m5.4 13.2h0m3.9 1.6h0m-20.2-8.5h0m4.4 5.8h0m10.7 1h0m5.7 3.3h0m-.3-1h0m-10.5-2.4h0m8.1-1h0m-10.4-8.5h0m17.9 7.4h0m-14.4 3.9h0m-3.3-2h0m1.1-7.4h0m.7-1.9h0m.1 9.1h0m14.3-3.1h0m-6.6 .6h0m-10.6-2.6h0m10.9 5.3h0m-.7 1.1h0m18.2-12.5h0m3.3 3.9h0m-23.1 11.2h0m4.8-2.1h0m-4.2-.8h0m20.6-13.4h0m-36.1 6.3h0m4.7-6.4h0m4.5 5.7h0m20.9-7.9h0m-24.8 5.3h0m10.4 13.8h0m-13.4 2.6h0m35.5-15.8h0m-10.3 .6h0m-21.3 10.2h0m9.6-5.2h0m1.2-.6h0m-7.3 1.5h0m-3.8 13.5h0m10.3-6.2h0m22.2-14.5h0m-29 5.1h0m26-4.3h0m-12.7 4.6h0m-23.5 .9h0m7.3 2.9h0m.1-11.6h0m2.4 6.6h0m8.3-6.1h0m-6.5 14h0m-3.5-14.1h0m-2.1 2.3h0m17.8 8.8h0m-4.6 .3h0m-6 6.8h0m-5-15.3h0m4.5-1h0m12.6 7.3h0m-19.7-11.9h0m4.3 7.1h0m9-3.6h0m12.9-5.5h0m-1 4.2h0m-23.3 .1h0m22.3-3.2h0m2 7.9h0m-18.1 12.1h0m-1.8-1h0m11.4-4.3h0m-9.7 6.9h0m25.3-14.4h0m-4.4-3.1h0m-26 8.9h0m31.1-7.5h0m-33.7-2.9h0m4 12.6h0m15.7-1.8h0m-17.9-3h0m-3.1-8.2h0m10.6 18.3h0m17.9-12.7h0m-23.2 3.7h0m9.2 3.7h0m-4.3 5.7h0m21.9-13.9h0m-33.6-3.3h0m26.4 2.1h0m-12.5 8.6h0m-.5-7.3h0m-16.4 4.1h0m32.3-7.1h0m2.9-4.1h0m-34.9 13.3h0m18.7 1.5h0m-9.7-10.8h0m-3.4 7.7h0m0 7.1h0m28.5-10.7h0m-16.5 6h0m-3.5 3.5h0m7.5 .6h0m13.8-11.6h0m-20.9 .6h0m-7.2 20.5h0m2.7-19h0m22.8-3h0m-4-3.1h0m-16.5 4.4h0m28.8 1.5h0m-2.5-4.3h0m-3.8 7.1h0m-18.3 6.1h0m-1.9-2h0m-7.3-2.1h0m-2.8 10.9h0m6.5-19.4h0m14.8 2.9h0m-18.3 7.6h0m5.1 1.5h0m-5.2-10.4h0m3 3.4h0m-2.8-4.6h0m7.2-1.7h0m-7.3-2.1h0m20 1h0m-8.8 12.8h0m-11.2-3.7h0m6.7 2.9h0m1.5 .7h0m-6.9-2.1h0m9.7 2.4h0m-8.2-13h0m-3.7 8h0m6.9-4.6h0m-6.9-.3h0m20.9 3.2h0m-22.6 11.2h0m5.7-11.4h0m-3.5 9.1h0m7.1-6.7h0m24.1-5h0m-31.4 4.9h0m28.7-1.8h0m.2-3.9h0m-29.1 4.4h0m10 9.4h0m-9.3-15.2h0m3.3 2.6h0m-3.8-5.3h0m-.4 11.2h0m4.6 3.9h0m1 6.1h0m-2.7-7.7h0m-4.2-11.2h0m3.8 4.3h0m16 7.7h0m-21.7-7.6h0m3.7-2.7h0m20.7 1.1h0m-.5-3.9h0m-14.3 10.1h0m3.1 2.4h0m-9.5-8.4h0m11 11.3h0m18.6-14.4h0m-14.7 11.1h0m-8 2.1h0m1.2 3.2h0m-3.2 5.3h0m-3.6-18.7h0m-6.7 .7h0m32.1-2.2h0m-14 12.1h0" stroke="#30a8ec" stroke-width="1" stroke-linecap="round"/>
<path d="M103.9 50.8h0m5 3.6h0m39.3 15.9h0m-26.2-6.3h0m-29.2-25.8h0m-4.1 4.9h0m56 32.8h0m-25.9-20.2h0m18.9 12.2h0m-17-17h0m-15.3 1.1h0m27.2 8.6h0m-6-3.3h0m-46.8-18.7h0m57 27.5h0m-18.4-14.2h0m26.4 28.6h0m-53.5-33h0m38.1 23.4h0m-35.3-30.4h0m.6 5.1h0m-7.7-12.4h0m8.7 17.3h0m34.1 9.8h0m8.4 12.9h0m-42.8-34.8h0m45.3 30.6h0m-25.3-17.3h0m12 8.1h0m-13.7-9.7h0m-14-9.8h0m32.3 19.6h0m-10.5-9.1h0m6.1 13h0m-30.5-14.3h0m-7-7.4h0m15.6 11.4h0m32 15.7h0m-48-28.8h0m15.5 10.3h0m-4.5-.7h0m27.4 12.1h0m-.3-6.6h0m16.2 17.7h0m-59.7-35.3h0m59.2 27.8h0m-23.2-8.2h0m-7.7-1.9h0m16.6 3.2h0m-28-6.2h0m40.2 17h0m-.4 3.7h0m1.6 2.1h0m-12.3-14.5h0m-7.2 .4h0m.5-12.6h0m23.6 22.6h0m-44.8-23.4h0m21.5 16.5h0m10.9-2.3h0m-4.2 1.8h0m-24.1-16.9h0m35.8 20h0m-55.7-27.1h0m26.6 14.8h0m27.6 10.8h0m-57.3-20.1h0m16.1-4.5h0m24.2 7.7h0m3.6 24.4h0m-1.2-16.3h0m1.4 4.3h0m-24.2-12.7h0m35.4 19.9h0m-6-10.4h0m-9.1 6.9h0m-8.4-12.8h0m-11.8 1.6h0m14.3 4h0m-1.9 .1h0m12.4 8h0m.3 4.2h0m-10.1-9.9h0m2.5-4.9h0m-.2 7.1h0m-22.7-21.6h0m31.4 20.9h0m-33.4-22.9h0m31.4 22.6h0m-3.3 6.4h0m18.3 10.2h0m-34.4-26.1h0m19.3 9.5h0m-14.8-12.1h0m20.4 22.2h0m-12.2-7.4h0m-31.4-28.8h0m23.4 12.6h0m3.2 5.3h0m-11.3-5.7h0m23.6 16h0m-11.2-11.3h0m4.3 3.5h0m-29.7-7.4h0m32.9 18h0m-21.4-17.3h0m19.2 2.3h0m4.1 2.8h0m-20.9-.2h0m-21-10.6h0m51.5 20.2h0m-51.8-28.8h0m60.7 34.4h0m-41.8-26.1h0m9.3 11.4h0m9.8 9.5h0m-24.9-21.7h0m47.2 33.8h0m-18.8-14.4h0m-33.1-18.8h0m-14-.5h0m30.9 6.4h0m3.4 4.3h0m-7.6-4.3h0m36.6 18.9h0m-21-17.7h0m-26.6-8.1h0m42.9 27.2h0m-27.8-18.9h0m-5.6-1.8h0m13.2 5.7h0m-.2 2.9h0m26.7 12.7h0m-38.2-22.4h0m-15.2-5.3h0m23.1 10.9h0m-15.2-5.3h0m-2.9-8.6h0m-9.2 .9h0m27.3 13.4h0m-10.3-.5h0m-2.2-4.3h0m-20.1-15.5h0m5 1.6h0m44.8 25.5h0m-42.8-18.2h0m14.1 5.9h0m5.6 4h0m-13.9-7.2h0m47.2 29.4h0m-8.7-11.7h0m-32.3-16h0m1.6 3.2h0m-6-7.5h0m4.2 5.4h0m-17.5-6.2h0m6-2.6h0m-9.7-.2h0m54.7 21.7h0m-5.7-3.1h0m-36-13.4h0m32.2 14.7h0m-17.5-8h0m24.2 8h0m-10.7-1.9h0m10.4 17.7h0m-10.6-18.6h0m26 15.7h0m-18.9-8.2h0m-30.2-24.9h0m-2.6 6.8h0m-5.2-2.5h0m26.7 10.7h0m32.8 16h0m-21.1-12h0m7.3 9h0m2.5 4.9h0m-30.4-16.8h0m-26-15.8h0m36.9 12.8h0m5.7 15.9h0m-40.7-23.9h0m51.6 14.5h0m-5.7 13.2h0m5.3-7.6h0m-40.8-18.2h0m13.2 6.5h0m30.2 11.5h0m-49.4-23.9h0m47.5 32.4h0m4.8 .9h0m-1.5 2.4h0m-21.4-21.3h0m2.1 .9h0m16.6 10.1h0m-53.3-30h0m23 18.8h0m-5.9-4.4h0m12.4-2.1h0m33.3 31.4h0m2-2.5h0m.5 1.6h0m-40.1-29.9h0m7.6 2.6h0m-32.6-7.2h0m59.9 32.3h0m-43.7-29h0m-10.1-8.7h0m11.6 6.1h0m40.2 32.4h0m-14.8-17h0m-27.3-13.6h0m24.9 6.6h0m-21.5-2.5h0m37.9 28.2h0m-39.4-30h0m17.3 4.4h0m25.1 9.4h0m-15.5-.8h0m.1 4.5h0m-39.4-26.8h0m59.3 38h0m-.7 .7h0m-2.8-8.1h0m4.6 4.4h0m-39.8-28.9h0m21.4 18.6h0m18.6 10.3h0m-1.3-2.2h0m-62-30.8h0m51.9 33.4h0m-48.7-38h0m37.2 19.8h0m15.3 11h0m-18.5-8.5h0m8.5 3.1h0m15.8 16.2h0m-19-12.6h0m5-1.2h0m-44.7-21.9h0m41.1 17.4h0m1.5 .8h0m16.1 12.8h0m-16-11.7h0m-22.4-9h0m22.4 8.2h0m-3.3 6.2h0m-32.8-22.6h0m9.2 11.6h0m8.3-2.5h0m35.5 25.3h0m-52.8-34.2h0m52.7 26.6h0m-40.7-20.7h0m-3.3 8.8h0m18.1-7.5h0m19.1 13.1h0m-52.3-30.5h0m46.3 36.4h0m-32.5-22.2h0m25.9 13.4h0m-4.3 4.3h0m-8.2-14.4h0m-18.3-12.1h0m41 20.5h0m6.1 7.7h0m-60.9-29.5h0m18.7 12.7h0m-1 1.2h0m37.3 19.6h0m-45.8-35.1h0m26.8 25.6h0m-3.7-7.3h0m-22.1-5.2h0m45.3 23.5h0m-13-6.9h0m2.9 2.7h0m-8.3-15.7h0m-37.3-15.4h0m18.9 19.3h0m20.3 8.4h0m11.5 1.1h0m-27-18.9h0m35.2 17.8h0m-7.7 2.6h0m-27.8-22.4h0m6.7 8.3h0m12.4 8.8h0m19.6 10.8h0m-21.2-21.2h0m18.2 16.1h0m2.8 11h0m-32.3-24.1h0m.1-1h0m20.3 8.6h0m-50.3-19.4h0m46.5 18.9h0m-6.8-.2h0m8.6-.6h0m3.5-.4h0m-24.7-15.5h0m-24.5-3.8h0m53.3 16.7h0m-27-3.5h0m11.4-3.4h0m23.1 26.7h0m-42.6-28.8h0m27.5 8h0m.5 2.4h0m5.6 8.2h0m-49.3-25.5h0m50.5 28.3h0m-46.6-24.3h0m46.4 20.9h0m11.1 9.8h0m-3.8-6.5h0m-2.1-1.1h0m-55.8-29.1h0m-8.7-2.4h0m59 27.1h0m-41.5-20.4h0m6 5.7h0m12.3 1.1h0m-30.5-11.1h0m16.3 6.9h0m37.4 15.1h0m-46.3-14.1h0m45.6 17.6h0m-43.1-26.5h0m28.7 7.7h0m.8 3.2h0m22.9 25.6h0m-46.8-26.1h0m-1.6-6.8h0m40.9 26.8h0m-8.6-5h0m18.7 14.3h0m-30.9-25.3h0m20.8 17.3h0m-45.4-37.6h0m21.2 15.5h0m-28.9-7.8h0m10.4 4.8h0m38 18.6h0m-40.7-19.7h0m50.8 28.4h0m-3.4-7.7h0m-16.9-11.9h0m-43.4-11.6h0m13.1 .8h0m31.6 19.8h0m18.9 6.2h0m-42.7-10.9h0m-4.2-19.7h0m-12.1 3.8h0m54.3 27.6h0m-60.6-28.9h0m23.3 9h0m35.8 14h0m-20.8-9.9h0m7.6 4h0m-3.8-6.4h0m-5.5 3.2h0m-29.5-20.6h0m45.4 27.1h0m-4.8 2.3h0m-42.9-29.4h0m52.6 21.8h0m-7.4 10.7h0m-11.8-11.1h0m-32.3-15h0m58.9 27.2h0m-21-12.5h0m22.7 14.2h0m-30.8-20.6h0m21.4 23h0m-48.3-29.5h0m10.4-4.5h0m6.3 14h0m37.9 14.4h0m-41.1-18.9h0m-11.5-7.5h0m21.1 7.8h0m27 23.6h0m-6.7-9.7h0m-12.2-11h0m10.2 20.3h0m8-7.5h0m-35.1-13.7h0m33.9 20.6h0m-43.8-29.7h0m5.1 4.8h0m6.4 4.9h0m33.6 23.7h0m-26.9-22.2h0m-27.5-13.2h0m33 11.7h0m22 19.2h0m-24.3-18.7h0m-22.2-8.3h0m33.9 18h0m13.3 8.7h0m-17.8-16.5h0m4.3 6h0m-22.3-8h0m-16.5-13.4h0m-3.8-3.9h0m63.3 45.7h0m-.7-10.9h0m-9.6 7.2h0m-17.7-21.5h0m8 7.1h0m-28-13.3h0m41.8 26h0m-8.9-14.2h0m5 7.4h0m-4.5-3.8h0m-2.7-1.1h0m-24.9-4.7h0m24.6 .9h0m-8.7-11.3h0m21.9 19.7h0m9 3.6h0m-25.1-8.4h0m-41.5-20.6h0m-1.3-5.4h0m25.9 15.8h0m19.1 7h0m15.2 15.4h0m-22.6-9.6h0m-11.5-18.9h0m.1 1.4h0m27.6 13.5h0m-34.6-12.9h0m-19.5-2.5h0m4.9-3.1h0m17.9 4.3h0m31.4 21.8h0m-.7 .9h0m-36.2-18.2h0m27.8 8.5h0m-27.1-19h0m-20.6-3.2h0m21 17.2h0m29.9 7.7h0m-25.2-12.6h0m-16.9-7.7h0m23 5.6h0m35.6 27.3h0m-.2-1.1h0m-.5 6.8h0m-18.6-21.6h0m-8.3 3.9h0m-11.7-7.9h0m30.1 15.7h0m-7.2-2.4h0m4.8 2.8h0m-33.8-18.9h0m4.1-.4h0m41.3 23.6h0m-31.4-17.5h0m26.4 8.6h0m-19.3-4.8h0m-24.8-10.9h0m23.6 11.2h0m-28.3-23.1h0m18.3 9.3h0m7.3 6.4h0m24.1 24.3h0m-5.8-8.9h0m-35.8-18.4h0m44.4 25h0m-60.8-39.7h0m30.3 16.5h0m-11.2-3.2h0m-9.6-11.7h0m21.2 12.5h0m21.4 11.4h0m-8.9 6.1h0m-41.3-30.7h0m37.1 19.9h0m24.9 13.2h0m-49-20h0m5.7 2.3h0m14.9 4.2h0m16 16.8h0m-49.4-35.3h0m14.3 8h0m44 32.8h0m-1.7-5.6h0m-43.9-22h0m3.5 2.7h0m34.1 15.9h0m-49.4-38.3h0m2.3 14.3h0m51.3 19.8h0m-22.3-14.6h0m15.8 18.5h0m-10.8-15.6h0m15.8 12.5h0m3.9 7.1h0m-6-.9h0m-29.8-25.7h0m18.6 15.1h0m-32.3-19.5h0m42.4 24.4h0m-21.2-10.2h0m-24.9-17.6h0m25.9 12.7h0m5.7-3.5h0m-16.4-3.6h0m-.6 11.6h0m29.6 9.9h0m-30.9-17.7h0m24.1 11.6h0m6.5-2.8h0m-2 6.2h0m-29.4-18.9h0m37.7 22.6h0m-7.2-4.3h0m-8-4.7h0m-3.1-2.5h0m-38.4-20.5h0m27.2 14.5h0m22.7 14.8h0m-4.6-2h0m17.8 11.1h0m-14-11.3h0m-34.5-17.4h0m40.3 21.5h0m-21.4-12.5h0m13.1 15.6h0m-12.3-10.7h0m-19.6-18.4h0m30.2 28.7h0m-16.4-17h0m-1.2 2h0m-6-7.7h0m39.9 23.5h0m-55.2-29.7h0m56.7 35.8h0m-38.3-35.5h0m8.5 22.1h0m25.5 2.6h0m-19.7-6.1h0m-22-23.1h0m.9 16.3h0m15.5-3.2h0m11.2 11.1h0m-9-11.9h0m16.4 24.1h0m-.8-3.6h0m-6.1-8.6h0m-33.5-22.1h0m41.9 37.5h0m-1.3-4.1h0m-34.5-25.6h0m13.2-1h0m-8 8.6h0m9.2 1.3h0m13.8 6.1h0m-42-19.7h0m24.6 9.8h0m25.7 18h0m1.4-2.6h0m-4.5 1.4h0m-51.2-24.1h0m64.1 34.7h0m-57-33.9h0m22.8 7.1h0m21 15h0m-4.3 2.7h0m-19.6-16.1h0m19.2 6.6h0m-10.8-8.7h0m-4.7-1.3h0m2.8-.6h0m-22.9-11.9h0m45.4 31.4h0m-44.1-32.5h0m32.7 28.2h0m-40.1-28.2h0m6.5 3.6h0m27 14.5h0m28.6 16h0m-21.8-3.9h0m-5.1-2.6h0m-22.4-5.4h0m35.7 4h0m-16.4-9.5h0m19.3 14.6h0m-3.4-3.5h0m-45.7-23.5h0m-1.6-7.1h0m36.7 34h0m-7.2-10h0m22.8 10.6h0m-2.5-8.1h0m-20-8.1h0m-5.5-2.3h0m10.5 8h0m22.3 19.6h0m-54.8-36.5h0m35.8 26.7h0m-45.7-33.5h0m40.4 29.8h0m-27.6-22.7h0m27 16.3h0m12.1 8.4h0m-42.2-28.8h0m2.3 7.4h0m47.6 25.5h0m-23.2-19.3h0m13.9 10.3h0m7 10.9h0m-28.7-26.3h0m25.3 16.7h0m-22.7-9.6h0m4.7 0h0m-9.7-4h0m9.5 9h0m7.8-1.1h0m-9.8-2.1h0m-11.5-4.1h0m-21-9.9h0m46.4 30.1h0m-41.5-32.2h0m2.4 5.1h0m-6.1-2h0m52.8 23.8h0m-18.9-13.3h0m5.5 11h0m9.4-1.6h0m-7.9-3.9h0m5.3 15.2h0m19.8 .5h0m-37.7-22.8h0m-8 3.3h0m-1.1-.8h0m-3.6-3.3h0m25.3-.2h0m9.4 14.1h0m-29-16.4h0m20.5 5.3h0m14.4 21.1h0m-11.4-13.6h0m-19-4.9h0m-6.3 2.6h0m3.5-6.7h0m10.1 1.7h0m7.6-2.8h0m-4 9.9h0m15.5 7.7h0m-30.4-13.7h0m18 10.3h0m23.8 3.6h0m-.5 8h0m-9.2-7.3h0m7.1 8.9h0m-20.7-11.9h0m-30.9-25.6h0m21.1 14.5h0m3-1.8h0m-15.8-2.5h0m42.4 16.4h0m-48.8-28.2h0m43.2 33.1h0m-1.6-8.1h0m-34.6-14.4h0m-11.7-1.6h0m49.7 27.2h0m-28.5-22.6h0m26.1 16.6h0m-55.1-35.7h0m23.2 18.3h0m33.8 19.4h0m-7.7-7.6h0m-42.8-29.5h0m36.5 22.7h0m-6.9-7.2h0m-18.9-2.9h0m-11.2-12.8h0m20 16.7h0m24.2 12h0m-52-18.8h0m31.5 14.1h0m-13.7-6.6h0m14.4 .3h0m12.8 5.9h0m16.3 6.7h0m-11.5 7.8h0m-27-14.7h0m42.3 14.9h0m-8.8-6.9h0m-9.9-.9h0m8.1 1h0m-3.7-6.2h0m14.8 17.2h0m-4.9-9.1h0m-20.2-12.4h0" stroke="#8d72ea" stroke-width=".9" stroke-linecap="round"/>
<path d="M83.8 40.4h0m31.9 30h0m-12-26.8h0m18.7 11.2h0m-13.6 1.4h0m-7.7-15.4h0m11.4 31.9h0m-10.4-21h0m19.4 15.3h0m-22.5-34.3h0m48.5 47.2h0m-62.8-48.3h0m42.1 33.6h0m-15.3 4.1h0m-5.9-19.9h0m-10 4.1h0m30.8 9.9h0m-10.6-15h0m-23-17.6h0m53 37.9h0m-36.5-32h0m-15.4 12.8h0m1.5 3.6h0m32.1 4.6h0m-43.2-26.8h0m38.3 29.7h0m23.3 14.5h0m-28.8-30.7h0m2.2 13.6h0m12.5 10.1h0m17.1 5.6h0m-38.1-19.2h0m-10.8-8.3h0m12.9 22.2h0m-30.2-23.2h0m24.1 16.6h0m8.2-21.5h0m-16.9 22.8h0m45.2 12.6h0m-42.2-29.9h0m40.1 15.8h0m-56.7-22.8h0m16.5 .8h0m5.3 .1h0m37.2 29.4h0m-28.7-1.3h0m-2.2-16.5h0m-3.7-15.3h0m-12.7 21.5h0m-5.7-4.9h0m14.9-8.6h0m35.7 25.4h0m-56.6-22.7h0m50.4 19.7h0m-4 13.9h0m-10.6-17.5h0m-12.7-19.6h0m6.4 9.8h0m4.4-10.6h0m-23.9 3.4h0m39.1 20.7h0m-47.8-14.1h0m49 28.8h0m8-17.4h0m-58.3-25.1h0m55.5 41.1h0m-41.7-21.6h0m-2.6-27.2h0m14.3 10.9h0m-14.7 8.4h0m19.4-5.1h0m-7.7 24.3h0m-10.2-8.7h0m10.4-6.3h0m-16.9-19h0m33.7 15h0m-6.1 20.1h0m-30.6-27.9h0m51.1 25.9h0m-2.7 13.7h0m-13.4-28.8h0m-6.2-1.5h0m-19.8 2.5h0m6 6.5h0m18.3-3h0m-.7-11.6h0m2.5 28.6h0m14 5.1h0m-16.7-15.6h0m17.3-3.3h0m-18.2-12.7h0m-31 5.9h0m55.8 22.7h0m-40.6-9h0m-6.5-30.5h0m14.6 5.5h0m34.1 26.6h0m-48.2-36.9h0m10.3 3.8h0m36.4 42h0m-9.1-19.3h0m-18.9-11.7h0m-12.1-9.1h0m25.5 31.8h0m2.3-.9h0m-11.4-3.7h0m-38.8-17.9h0m30.4 21.9h0m35.4 5.2h0m-13.5-13.8h0m4.1 1.1h0m-3.3-3.1h0m-42.8-23h0m5.9 14.3h0m19.6-10.4h0m-26.2 9.4h0m34.6 26.5h0m-11.9-28.7h0m35 31.5h0m-17.8-2.5h0" stroke="#a890f0" stroke-width=".8" stroke-linecap="round"/>
<path d="M76.1 52.4h0m-4.9 7.2h0m-9.8-.9h0m8.5-14.4h0m-23.1 11h0m26.5 6.5h0m-17.3-10h0m-7-.7h0m24 5.3h0m4.3-2h0m-23.1-9h0m10.9-4.5h0" stroke="#e02828" stroke-width="1" stroke-linecap="round"/>
<path d="M66.5 44.7h0m23.2 21.4h0m-17.5-13.6h0m18.2 7h0m-16.9 7h0m-7.7-7.4h0m-10.1-13h0m31.1 24.2h0m-11.9-6.5h0m13.1 9.6h0m-34.1-23.8h0m1.5-2.9h0" stroke="#44cc44" stroke-width="1" stroke-linecap="round"/>
<path d="M63.9 45.9h0m1.9-.8h0m-6 .2h0m17 6.6h0m-28.4 2.7h0m5.5-10.2h0m21.3 18.3h0m-6-3.6h0m7.2-6.5h0m-23.5-5.7h0m6 2.6h0m3 10h0" stroke="#f07090" stroke-width="1" stroke-linecap="round"/>
<path d="M68.7 49.2h0m-2.3-4.8h0m11.9 6.6h0m-9-10.9h0m6.8 19.5h0m1.4-6.8h0m-30.5-1.8h0m31.3 8h0m11.5-.3h0m-21.5-8.9h0m3.1 14.7h0m-11.5-18.9h0" stroke="#d8e830" stroke-width="1" stroke-linecap="round"/>
<path d="M88.5 66.4h0m-12.9-20h0m-19.7 2.9h0m21 2.8h0m3.5 20.6h0m-8.9-9.3h0m11.4-10.4h0m-7.4-4h0m-.7 9.5h0m5.7 2.9h0m-9.9-21.4h0m22.7 25.3h0" stroke="#60e0d0" stroke-width="1" stroke-linecap="round"/>
<path d="M87.4 59.3h0m-12.5-5.8h0m15.2 11.4h0m-21.9-16.5h0m12.5 12h0m-16.3-15.8h0m3.8 6.3h0m.4-9.5h0m2.4 8.8h0m-8.8-5.7h0m-7.1 4h0m30.2 17.5h0" stroke="#8a6ee8" stroke-width="1" stroke-linecap="round"/>
<path d="M77 48.6h0m-18.4-2.6h0m25.7 7.5h0m-29.4-6.1h0m15.1 13.7h0m20.8 2.8h0m-26.5-20.6h0m22.1 16.1h0m3.9 5.9h0m-28.2-23.6h0m25 20.4h0m-3.4 11.7h0" stroke="#703020" stroke-width="1" stroke-linecap="round"/>
<path d="M70 44h0m-12-1.4h0m15.1 17.9h0m-1 .6h0m-8.8-19.5h0m-6.7 6.2h0m4.8-3.1h0m-4.7 1.4h0m20.2 11.5h0m-6.4 6.3h0m-12.7-15.3h0m-5.1-.4h0" stroke="#2040e0" stroke-width="1" stroke-linecap="round"/>
<path d="M77.6 47.8h0m-8.1-2.9h0m18.8 15.9h0m-20.6-19.4h0m-13.5 5.4h0m9.6 14.1h0m5.8-18.7h0m1 19.9h0m0-1.5h0m-6.7-17.7h0m12.4 22.7h0m-9.9-20.4h0" stroke="#f08030" stroke-width="1" stroke-linecap="round"/>
<path d="M73.5 66h0m8.9-6.1h0m6.7 6.4h0m-38.2-15.9h0m32.1 25.8h0m-31.6-28h0m13.7-3.1h0m4.1-.9h0m-15.6 6.5h0m21.7-.2h0m2.9-2h0m1.7 13.6h0" stroke="#a0a0a0" stroke-width="1" stroke-linecap="round"/>
<path d="M66.2 67.7h0m4.1 3.5h0m3.7-.4h0m-1.9 1.3h0m-.1-2.5h0m-.1-3.1h0m3.1 5.3h0m-4 .6h0m-4.5-5.3h0m1.6 .5h0m6.3 5.3h0m-2.8-1.4h0m-1.9-1.8h0m4.1 2.4h0m-6.2-6.5h0m6.2 8h0m-.2-.6h0m-.3-.7h0m-2.9-6.3h0m3.7 4.5h0m-4.2-.6h0m4.9 1.1h0m-6.3-3.5h0m2.6 4.2h0m1.4-.3h0m-1.5-4.7h0m-3.5-1.6h0m4.2 7h0m-3.6-5.8h0m-.7 .9h0m2.9-.4h0m3.4 6h0m-.2-1.7h0m-.2-3.1h0m-2.2-.7h0m-.5-.9h0m1.1 1.2h0m-2.5-2.3h0m1.4 7.3h0m-1.9-3.7h0m-.4-3.8h0m5.1 5.6h0m-3.4-.9h0m.1-4.7h0m1.3 6.8h0m.6 .6h0m.7-.9h0m-3-3.1h0m4.9 1.7h0m-3.4 1.5h0" stroke="#602828" stroke-width="1" stroke-linecap="round"/>
<path d="M62.1 131.9h0m16.7-3.7h0m-7.5 1.3h0m-2.3 11.7h0m17.3-9.8h0m-15.7-1h0m-3.3-6.2h0m-1.3 11.2h0m9-6.4h0m3 3.3h0m-19.6-5.4h0m21.5-2.3h0m-19.2 10.3h0m12.7-3.9h0m.9-2.3h0m-11.6 5.3h0m-6.3-16.4h0m2 10.8h0m8.6-2.9h0m-9.5-8h0m2.3 .7h0m9.9 11.8h0m-7.6 6.1h0m12.7 2.7h0m-20.3-7.6h0m5.9-8.6h0m9.5 12.5h0m14.2-2.3h0m-12.6 .5h0m-2.9-2.9h0m-7 2.3h0m6.2-2h0m6.2 1.1h0m-11.1 3.6h0m8.5-6.6h0m-17.4-10.4h0m23.6 11.3h0m-12.4-6.3h0m4.2-.7h0m-13.7 8.7h0m29.4 4.1h0m-18.7-5.4h0m1 4.5h0m16.1-.6h0m-18.5-10.6h0m22.4 5.4h0m-21.2 3.7h0m-10.8-17.3h0m14.8 21h0m14.6-6.5h0m-7.5 10.6h0m-25.1-14.6h0m6.3 3.5h0m24.7-4.2h0m-17.8 5.1h0m-1.7-2.9h0m-3.6-6.3h0m10.5 19.8h0m-.4-9.3h0m5.5 1.8h0m-7.6-1.1h0m-.4-5.3h0m5.2 3.6h0m10.3-.3h0m-5.9 3.1h0m-17.2-10h0m10.9 1.9h0m-7.4 11.9h0m8.7-12.2h0m-1.5 5.9h0m5.5 10.2h0m2.7-14h0m-19.6-8.1h0m27.6 11.5h0m-20 .3h0m-9.8-5.7h0m5.7 10.3h0m-3.1-10.2h0m7.5 1.2h0m9.6 6.7h0m-8.3-3.6h0m-6.5 2.7h0m4.8-10.1h0m-3.9 6.5h0m6.5 5.9h0m-1.3-1.4h0m-5.4 1.7h0m-4.5-18h0m-1.1 1.1h0m22.8 11.2h0m-11.1-3.4h0m9.3 5h0m-3.6 9.6h0m-4.9-7.7h0m-8.1-2.3h0m-4.6 1.9h0m11.4-6.4h0m2.8 2.5h0m-7.5 10.4h0m1.9-12.8h0m14.4 2.6h0m-3 2.6h0m8.3 4.3h0m2.8-1.5h0m-21.8-5.4h0m20.2-1.8h0m-7.3 1.3h0m5-1.3h0m-16.6-3.3h0m4.9 18.8h0m-8.6-7.9h0m10.8-2.6h0m-9.9-2.2h0m-9.6-3.3h0m1.2-.7h0m24.5 6.8h0m-4.2-2.4h0m3.1-2.9h0m-17.9-2.9h0m3.9 8.4h0m17 1h0m-18.6-1.7h0m-11.2-3.5h0m8.8 7.6h0m10.6-3.2h0m-15.6-3.8h0m7.8 6.6h0m4.3-7.3h0m-6 3.9h0m19-4.3h0" stroke="#9ccbef" stroke-width="1" stroke-linecap="round"/>
<path d="M65.2 130.5h0m-2.6 1.7h0m4.8-8.7h0m-8.2-4.4h0m2.3 13.5h0m.2 .3h0m6.4-3.4h0m4.9-2h0m-12.3 .9h0m2.9 4.3h0" stroke="#f0a060" stroke-width="1" stroke-linecap="round"/>
<path d="M67.2 123.2h0m21.2 12.9h0m-19.5-1.8h0m-5.1-8.8h0m13.6 7.9h0m-7.7-6.4h0m6.4 3.8h0m-3.6 1.2h0m-7.2-7h0m4.9 8.2h0" stroke="#a06050" stroke-width="1" stroke-linecap="round"/>
<path d="M143.2 93.4h0m-3.5-.3h0m2.8-1h0m-.1 1.9h0m.3 .6h0m3-2.5h0m-.5 0h0m.8-2.3h0m-2.1 3.1h0m2.8-1.7h0m-4.7 1.6h0m-1 0h0m-1.3-.8h0m7.3 .6h0m-5.3 2.2h0m.7 .2h0m3.7-1h0m.7-1.5h0m-4-.5h0m-1.8-1.2h0m4.9 .1h0m2.5-.5h0m.2 1.1h0m-6.7 2.4h0m-.6 1.1h0m5-1.9h0m-.3-2h0m1.9-.4h0m-1.8-.4h0m1.5 2.2h0" stroke="#b8a8f0" stroke-width="1" stroke-linecap="round"/>
<path d="M133.7 120.3h0m1.5-1.5h0m-.5 .4h0m-.6 .6h0m2.5 .2h0m-2.7-3.3h0m1.2 3.1h0m-.3-.6h0m-.3-3.7h0m-1.2 3.1h0" stroke="#60a050" stroke-width="1" stroke-linecap="round"/>
<path d="M134.3 114.2h0m1.2 3.2h0m-.4-2.7h0m-.6 .3h0m-1.1 4.1h0m.7 .4h0m1.4 1.7h0m-.3-.8h0m2-.5h0m-2-1.2h0" stroke="#806060" stroke-width="1" stroke-linecap="round"/>
<path d="M133.1 114.4h0m-.4 5h0m2.2-1.6h0m.5-2.7h0m2.6 3.4h0m-.5 1.5h0m-5.7-.8h0m3.8-1.3h0m.4 2.8h0m-2.3-6.6h0" stroke="#3a2020" stroke-width="1.2" stroke-linecap="round"/>
<path d="M119.2 129h0m0 2.2h0m3.2 .9h0m2.2-2.8h0m-4.1-.5h0m1.6 2.2h0m2.6-.8h0m-6.2 .2h0m3.2-.7h0m-.5-2.8h0m-.8 .5h0m-.4 3.1h0m-.5-4.2h0m1.1 3.9h0m.3-3.7h0m1.7 5.4h0" stroke="#e060e0" stroke-width="1" stroke-linecap="round"/>
<path d="M121.6 128.5h0m-1.4-.7h0m.5-1h0m2.8 3.2h0m-4.7 1.8h0m1-4h0m.5-1.9h0m.5 .9h0m1.7 5.6h0m-.4-5h0m1.2-.6h0m1.1 .4h0m-7.3 1.8h0m4.3 1.7h0" stroke="#70c060" stroke-width="1" stroke-linecap="round"/>
<path d="M98 137.7h0m-2.4-1.6h0m3.7-.9h0m-2.6-.4h0m-1.5 1.2h0m3.1 1.4h0m-2.2 .7h0m.3-1.1h0" stroke="#f0a060" stroke-width="1" stroke-linecap="round"/>
<use href="#nb" xlink:href="#nb" x="157.5" y="0"/>
<path d="M212.4 74.5h0m-1 .2h0m-12.2 .5h0m15.1 2.4h0m12.1 2h0m-27.8 4.8h0m33.6-4.9h0m-20.8-2.9h0m-14.4 .9h0m19.7 5h0m-6.2-5.9h0m1.9 .6h0m-15.2 9.4h0m6.1-10.8h0m29.2-1.4h0m-36.4 14.6h0m36.9-14.4h0m-2.4 1.8h0m-16.2-1.5h0m.7 .5h0m17.4-.1h0m-20.4 1.2h0m-16.4 11.1h0m3.5-12.2h0m17.2 9.9h0" stroke="#d83040" stroke-width="1" stroke-linecap="round"/>
<path d="M289.8 62h0m-38.8-28.6h0m-9.5 6.7h0m56.9 27.4h0m-18-6.3h0m-33.7-12.7h0m2.9-9.4h0m13.4 11.4h0m10.8 4.4h0m25.5 14.4h0m-11.3-2h0m-27.8-20.9h0m46 32.4h0m-43.3-26.6h0m14.7 11.7h0m10.7-4.5h0m-12.6-3.8h0m13 5.7h0m-7-3.7h0m-3.3 2.8h0m-22.7-17.8h0m44.2 28h0m-43.1-28.5h0m44.8 34.6h0m-49.8-31.4h0m16.1 5.7h0m23.2 17.9h0m-23.4-13.5h0m38.7 18.2h0m-10.4-.8h0m-31.5-19h0m.6-6.3h0m22 22.2h0m-28.1-26.6h0m18.7 7.8h0m.2 9.2h0m27.3 16.4h0m-55.4-35.5h0m47.7 29.7h0m-49.6-22.4h0m32.5 11.7h0m-22.9-22.4h0m4.1 14h0m20.2 5.4h0m4.2 5.8h0m9.5 7.9h0m.1-.5h0m-13.7-2.8h0m-28.7-26h0m22.9 11.4h0m9.5 9.3h0m-8.2-4.5h0m-23.2-9.8h0m-1-7.8h0m7.9-5.6h0m-17.4 5.5h0m23.8 11.1h0m-2.6-8.4h0m41.8 34.1h0m-43.2-25.5h0m2 1.1h0m-19.9-9.1h0m7.6-2h0m40.5 26.8h0m-38.9-25.5h0m43.5 34.4h0m-53.1-33.5h0m49.1 25.7h0m-9-5.7h0m-11.1-10.1h0m-22.8-5.4h0m51.3 23.3h0m-29.7-9.9h0m-1.9-8.3h0m-1.4-2.1h0m-22.4-2.6h0m19.3 2.6h0m15.8 8.4h0m-11.8-6.9h0m20 11.3h0m-20-12.9h0m-9.2-2.3h0m29.2 13.5h0m-32.6-14.7h0m24.5 20h0m-26.8-23.2h0m10.7 3.1h0m-6 1.7h0m39.6 20.6h0m-22.4-5.6h0m24.2 3.8h0m-55.9-25.2h0m32.2 11.5h0m-19.5-10.6h0m9.6 9.8h0m28.9 25.7h0m4.6-3.9h0m-1.1 1.2h0m-51.3-31.3h0m32.4 19h0m10.9-4.5h0m12.4 11.7h0m-26.2-19.2h0m13.4 16.3h0m-44.3-29.6h0m10.8 6.4h0m-18.2-5.4h0m57.7 28.8h0m-61.4-28.4h0m16.5 3.3h0m45.4 28.5h0m-38.9-22.8h0m10.7 4.2h0m-10.5-3h0m17.7 10.9h0m.7-.4h0m-22.2-18.3h0m50.2 27.9h0m-43.9-19.8h0m29.1 9.8h0m-42.5-19.4h0m-12.8-4.6h0m52.5 32.7h0m-20.2-21.6h0m10.5 8.1h0m2.6 2.3h0m9.3 3.6h0m-4.2 4.6h0m-8.6-4.8h0m17.8 8.2h0m-7.1-7h0m-3.2 5.3h0m-6.6 1.1h0m-29.9-19.7h0m29 13.3h0m-16.5-15.2h0m-7-6.7h0m-3.4 .9h0m45.1 27.3h0m-5.1-4.2h0m16.3 10.1h0m-44.4-26.8h0m9.5 7.4h0m15.6 5.9h0m18 12h0m-47.4-30.7h0m45.5 24.4h0m-21.6-10.2h0m13 15.2h0m-49.6-38.1h0m23.3 12.4h0m29 33.2h0m-31.5-28.2h0m-11.3-11.6h0m-3.4 6.4h0m4.8-1.5h0m33.5 9h0m.8 9.3h0m-13.5-1.1h0m-13.5-12.4h0m15.3 16.9h0m-27.9-26.1h0m7.1-4.1h0m13.7 17.4h0m8.4 8.4h0m-32.8-15.5h0m46.1 26.2h0m-6.4-12.1h0m-43.3-15.4h0m52.7 23.3h0m-41.5-27h0m43.6 20.7h0m-52.9-22.6h0m-2.4-.2h0m46.1 28.4h0m12.1 13.8h0m-12.1-10.4h0m-47.2-29.5h0m25.5 7.1h0m12.1 11.6h0m1.6 4.7h0m-43.4-25.9h0m15.9 3h0m2.6 4.6h0m10.1 11.6h0m29.2 18.1h0m-3.3-8.9h0m-52.6-28.1h0m49.8 34h0m-18.3-23.8h0m25.2 19.3h0m-19.2-8.3h0m-35.4-21.7h0m11.5 2.5h0m44.4 31.9h0m1.7-7.7h0m-1.7-1.3h0m-36-14.6h0m39 20.2h0m-30.6-11.3h0m4.1 2.6h0m20.5 11.8h0m-33.8-20.8h0m44 21.1h0m-48.3-29.8h0m49.7 32.6h0m-11.5-5.7h0m-45.8-27.4h0m-1.7 3.5h0m15.3 7.4h0m-10.6-7.1h0m35.3 16.3h0m-20.8-10.2h0m-19.2-15.8h0m3.4 8.2h0m49.4 23.8h0m-53.2-21.5h0m-6.5-14.2h0m19.3 14.6h0m9.7 3.2h0m-16.2-3.2h0m15.1 5h0m31.1 24.8h0m-47.1-35.3h0m43.4 24.6h0m3.5 10.1h0m-47.5-30.4h0m54.9 27h0m-32.8-23.1h0m16.9 20.2h0m-24.9-24.3h0m-22-.6h0m54 24.2h0m-12.6-3.1h0m-7-5.5h0m-31.1-12.8h0m30.9 20.8h0m-37.2-32.7h0m37.5 22.3h0m-6.6-6.6h0m-24.7-9.9h0m4 5.3h0m46.4 23.5h0m5.3 5.2h0m-4.9-7.2h0m-8.9 5.5h0m-2.9-14.3h0m17.7 7.3h0m-65.8-27.1h0m17.7 5.5h0m43.7 28.1h0m-63.4-38.3h0m65.1 39.5h0m-49.3-31.6h0m46.7 25h0m-13.5-8.7h0m6.6 8.8h0m6.4 4.6h0m-30.4-28.4h0m18 22.8h0m-38.3-32.9h0m33.5 30.9h0m-12.7-14.2h0m-15.5-6.9h0m20.8 6.6h0m-10.8-1.2h0m16 11.2h0m18.3 9.6h0m3.2-3h0m-38.2-17h0m16.9 8.2h0m15.1 10.8h0m1.7 .7h0m-42.9-29.1h0m32.7 23h0m-29.7-23.2h0m-.7 8.6h0m-6.4-9.4h0m-11.7-.4h0m44.8 19.4h0m-34-14.1h0m-5-3.8h0m50.2 27h0m-5.1-13.4h0m-35.7-9.4h0m-1.9-4.3h0m48.8 27.8h0m-36.2-17.8h0m5.9 1.9h0m21 15.5h0m-47-37.5h0m26.6 21.4h0m-9.7-2.2h0m35.9 18.4h0m3.4-8.1h0m1 7.6h0m-2 3.9h0m-37-21.4h0m32.4 19.5h0m-52.3-31.3h0" stroke="#8d72ea" stroke-width=".9" stroke-linecap="round"/>
<path d="M256.9 59.8h0m32 18.6h0m-22.2-11.4h0m12.1-24.9h0m9.7 28.5h0m-43.9-34.6h0m23.3 22.7h0m-3.8-9.9h0m-2.9-3.4h0m-14.9 5.3h0m2.1-12.8h0m11.8 12.9h0m36 9h0m-20.7-1.4h0m-18.8-4.1h0m-8-9.5h0m-1.6-7.6h0m35.2 17.8h0m-34.7-10.2h0m20.9 14.6h0m-20.1-27.4h0m29.7 26.3h0m7.3 15.4h0m-19.7-4.6h0m.4-23.4h0m-7.2-11.8h0m17.9 28.1h0m4.9-.6h0m5.9 5.6h0m7.3 12.2h0m-29.2-43.3h0m15.4 21.4h0m-45.1-16.7h0m27.5-6.9h0m-6.3 13.3h0m-2.2 8.4h0m1.5 7.2h0m-12.8-10.5h0m55.3 16.5h0m-34.5-19.4h0m40.1 26.4h0m-27.3-7.3h0m1.1-17.9h0m-28.2 6.4h0m27.3 13.8h0m-6-13.2h0m14.8-3.6h0m-31-13.2h0m-6.7 1.5h0m19.2 29.7h0m-16.2-39.6h0m17.3 39.3h0m10.1-6.5h0m-32.3-28.7h0m-2.1 .9h0m43.3 37.9h0m-45.2-36.9h0m19.8 32.5h0m24.6 3.4h0m-24.3-6.8h0m8.6-3h0m-6-6.7h0m25.3 3.1h0m-26.7-17.8h0m3.6 18.4h0m2.1 1.4h0m-16.3-20.2h0m-2.7 12.7h0m-15.7-14.8h0m56.3 20.7h0m5.7 15h0m-13-8.9h0m8.9-1.3h0m-13-22.1h0m-27.5 12.3h0m-6.9-26.3h0m44.8 52.2h0m-48.1-31.6h0m6.9-15h0m14.7 .3h0m34.9 34.2h0m-56.7-30.5h0m16.9-.9h0m35.6 16.8h0m-27.3 3h0m13.7-2.4h0m-9-12.4h0m-8.5 22.4h0m-.2-28.6h0m18.4 26.8h0m16.1-3.7h0m-43.2-25.2h0m-16.3 8h0m52.8 34.5h0m-53.8-41.4h0m45.2 34.1h0m-15.8-5.2h0m2.2-14.3h0m9 8h0m-21.9-15.6h0" stroke="#a890f0" stroke-width=".8" stroke-linecap="round"/>
<path d="M272.8 70.3h0m-3.7-2.4h0m-4.8-.2h0m-.4 1.2h0m11 2.2h0m-4-4.3h0m-4.4 .2h0m-1.9 .6h0m3.6-1.2h0m-3.8 1.7h0m9.4 1.1h0m-5.9-2.3h0m-.5 .6h0m3.9 2.6h0m6.6 1.9h0m-3.9-1.1h0m-4.5-2.9h0m2.3 1.7h0m2.9-2h0m-9.6 0h0m2 2.6h0m2.5-.7h0m-.2 1.1h0m1.4-3.6h0m-6.2 .2h0m-3.1 .3h0m13.8 2.7h0m-2.4-.2h0m1.5-1.2h0m-3-.1h0m-4.5-.1h0m.1 2.3h0m10.2-1.3h0m-3.6 2.6h0m1.5-4.1h0m1.8-.2h0m-15.7 1h0m5.6-1.5h0m-2.2 1.7h0m-2.8-2h0m7.4 2.2h0m1.6-.3h0m3.7-.7h0m-1.5 1.4h0m-2.8 1.2h0m6 .6h0m-3.6-3.1h0m2.9 0h0m-1.6 2.2h0m-7.1-4.4h0m4.7 5h0m1.1-1.4h0m.4 .4h0m-4.4 .3h0m7-3.2h0m-2.8 1.5h0m4.5 3.3h0m-9.5-2.5h0m7.9 1.1h0m-8.8-2.4h0m9.9 1.8h0m-5.9 2h0m-8.6-3.1h0m11.6-1.3h0m-6.4 .8h0m.4-1.4h0m8.1 2.4h0m-8.8-1.9h0m6.9 2.2h0m-7.1-4.4h0m10.2 5h0m-6.1-2.5h0m3.2 1.5h0m-6.3 1.7h0m3.2-2.6h0m-5.4-.7h0m7.2 4.9h0m-10.1-3.9h0m3 1.3h0m4.3 .3h0m4.7 0h0m-1.8-2.4h0m-11.1 2.2h0m15.3-1.1h0m-6.5-1.2h0m-1.7 3.2h0m3.8-1.6h0m2.7-.2h0m-12.8-2.8h0m7.2 4.8h0m-.9-1.8h0m2.1 1.4h0m6.4-.1h0m-5.2-4.3h0m2.5 2.5h0m1.5-1.3h0m-11.5-.9h0m6.1 2.2h0m2.5 2.1h0m-1.4-3.4h0m-2.1 4.1h0m6.8-.8h0m-1.1-1.1h0m-10.9-3.8h0m-3.4-.3h0m9.1 5.1h0m3.9 0h0m3 1.5h0m-14.4-3.9h0m10.4 1.3h0" stroke="#8466e6" stroke-width=".9" stroke-linecap="round"/>
<path d="M248.8 69.6h0m-12.9-8.5h0m10.2 6.8h0m-21.2-13h0m-2.7-2.1h0m5.9 .4h0m11.6-.3h0m-35.6-1.5h0m31.1 0h0m-13.5 2.8h0m-1.3 .5h0m26 20.8h0m-2.6-6.2h0m6.8 6.2h0m-28.6-27.1h0m-14.4 2.8h0m19 7.3h0" stroke="#e02828" stroke-width="1" stroke-linecap="round"/>
<path d="M227.9 56.7h0m-1-1.7h0m19.4 13.9h0m-17.7-16.6h0m-4.2-4h0m8.5 9.2h0m-7.1-4h0m-5.8-3.9h0m13.7 12.1h0m-9.1-7.2h0m5.5-.2h0m-11.2-3h0m-8.9 5.4h0m32.3 11.1h0m-18.3-17.9h0m-1 6.5h0m-8.5-4.2h0" stroke="#44cc44" stroke-width="1" stroke-linecap="round"/>
<path d="M223.4 50.6h0m-.6-1.2h0m2 1.5h0m9.6 9.5h0m-15.7-5.3h0m27.3 7.4h0m-20.2-16h0m11.2 3.4h0m11.7 16.8h0m-3 5.4h0m-2.8-14.4h0m-5.7-2.3h0m10.4 19.4h0m-24.2-21h0m-4.6 1.6h0m4.2-5.4h0m14.2 2.6h0" stroke="#f07090" stroke-width="1" stroke-linecap="round"/>
<path d="M217.4 41.6h0m16.5 11.3h0m12.8 15.1h0m-13.3-12.3h0m-24.7-4.4h0m32.1 2.3h0m-4.5-1.8h0m5.9 5.2h0m-27.2-13h0m27.4 11.1h0m-30.1 5h0m19.2-1.8h0m-13.1-5.2h0m14.9 10.8h0m-8.9-7.3h0m19.7 14.2h0m-4.6-17.1h0" stroke="#d8e830" stroke-width="1" stroke-linecap="round"/>
<path d="M230.5 63.2h0m-24.8-8.9h0m19.9-5.8h0m-19.3 5h0m20.6-.3h0m-5.5-4.8h0m15 12.6h0m-3.7-2.4h0m-11.6-6h0m-2.1 .7h0m5.6 2.6h0m-18-3.1h0m36.6 8.8h0m-21-7.4h0m22.5 1.4h0m-24.5-1h0m19.3 .9h0" stroke="#60e0d0" stroke-width="1" stroke-linecap="round"/>
<path d="M226.3 60.5h0m-2.3-12.1h0m3.3 9.5h0m-2.9-3.3h0m-17.8-2.7h0m31.8 0h0m-12.1 4.6h0m-4.6-8.4h0m-3.7 7.6h0m29.3 13.4h0m-24.9-12.2h0m19.8-1.1h0m-13.4 .8h0m-9.3-7.5h0m16.1 5.4h0m-24.8-2.7h0m33.2 16h0" stroke="#8a6ee8" stroke-width="1" stroke-linecap="round"/>
<path d="M222.7 60.4h0m-.8-3.8h0m12.6-.1h0m-13.2-3.4h0m2.7-2.1h0m-7.2-.2h0m-8.7 .6h0m11.1 1.4h0m5.1 3.4h0m-19.4-2.2h0m1.4-2h0m20.1 6.3h0m.6-1.4h0m3.5-4h0m-8.1-3.3h0m-.1 2.7h0m-5.4-2.1h0" stroke="#703020" stroke-width="1" stroke-linecap="round"/>
<path d="M226.7 56.4h0m-4.2-3.3h0m-1.6 .6h0m29.9 22.3h0m-44.8-22.5h0m-1.5-1.1h0m23 1.1h0m15.3 5.6h0m-17.2-6.5h0m8.2 .6h0m0-.1h0m11.1 15.9h0m-.6-6.7h0m-20.1-15.2h0m13.5 3.4h0m-10.5-3.3h0m-1 12.3h0" stroke="#2040e0" stroke-width="1" stroke-linecap="round"/>
<path d="M223.7 57.5h0m11.4-1.6h0m9.5 7.2h0m-6.6-12.3h0m11.2 23.6h0m-21-24.6h0m24.1 25.7h0m-46.7-24.2h0m21 3h0m-6.1-.7h0m10.1 .9h0m8.4 12.1h0m-6.8-9.8h0m-10.5 .5h0m-7.5-.8h0m22-7.9h0m-5.5 13.9h0" stroke="#f08030" stroke-width="1" stroke-linecap="round"/>
<path d="M228.1 53.7h0m9.2 1.2h0m-4.2 1.5h0m-22.7-1.1h0m7.6-.3h0m-7.3-1.6h0m15.2 2.4h0m10.5 .2h0m3.4 .8h0m-21.8 .8h0m3.7-2.8h0m-6.8 .6h0m16.7-.6h0m7-3.7h0m-16.2 6.1h0m13.4-2.8h0m-27.6-2.4h0" stroke="#a0a0a0" stroke-width="1" stroke-linecap="round"/>
<path d="M223.1 53.9h0m7.5-3.8h0m.3-1.5h0m-4.8 .5h0m-2.6-1h0m-11.4 1.8h0m18.4-3.7h0m-9.4 2.6h0m3-4.6h0m-5.8 7.4h0m-6.6 .1h0m17.5-2.7h0m-7.3 .8h0m-.1 5.1h0m2.9-10.4h0m2.7 2.6h0m2.1-1.5h0m-9.9 8.3h0m2-1.8h0m4.7-2.4h0m3.1-.8h0m-18.1 1.6h0m11-.9h0m.1 4.2h0m2.3-8.2h0m4.5 3.8h0m-8.4-1.4h0m1.7 1.7h0m2.7-4.9h0m-3.3 10.3h0m7.1-9.9h0m-11.2 11h0m-6.6-7.1h0m17.5 .5h0m-17-1.2h0m13.9 3h0m1.4-8.9h0m1.3 4.4h0m-1.9 3.8h0m-15.4-.1h0m15.6-8.4h0m4.9 7.3h0m-8.7-2.3h0m-.2 2.1h0m.5 4.8h0m1.2-5.2h0m7.7-.7h0m-3.9 .4h0m-3.3-2.5h0m-3.8 3.2h0m-7.1 1.5h0m16.9-1.9h0m-4.4-4.9h0m-6 7.7h0m.1-.1h0m3.3-4.8h0m3.4-1.4h0m-1.9 4.6h0m-3.4 3.7h0m-1.5 3.4h0m9.2-9.8h0m-2.1 1.5h0m-5.9 3.1h0m6.8-3.4h0m-15.8-1h0m14.4-2.7h0m2.3 3.1h0m1 .7h0m-19.4 1.7h0m16.5-1.2h0m3.9-2.4h0m-9.5 6.1h0m-9.8-5.5h0m11.5 5.6h0m7.2-3.8h0m-16.3-1h0m6.9 5.6h0m8.6-5.7h0m-12 1.6h0m7-1.8h0m-1.6-1.5h0m-.7 7.7h0m-2.2 .7h0m-1.4 2.4h0m1.5-7.5h0m1.8 6.1h0m7.3-7.5h0m-8.2 6.8h0m-.5-2.4h0m-8.6-3.7h0m6.8 6.7h0m.1-1.8h0m6.6-2.2h0m-13.6-2.2h0m17.5-2.6h0m1.1 4.9h0m-10 .9h0m10.2-3.5h0m-2.3 3.7h0m-6.1-2.8h0m-3 .3h0m7.9-2.7h0m-8.2 9.2h0m1.3-6.8h0m7.8-2.7h0m1 2.4h0m1.7 .8h0m-7.7 2.8h0m2.5-5.4h0m-6.4 3.5h0m5.3 1.2h0m4.9-3.1h0m-11.3 5h0m9.8-5.7h0m-6.4 6.7h0m2.7-4.5h0m7.4-2.4h0m-5-3.6h0m-15.2 6.3h0m12.7-6.7h0m5.4 .9h0m.5 5.3h0m-5.7-.8h0m-.3-2.8h0m4.7-3.2h0m-5.6 2.5h0m2.8 2.4h0m-13.7 .8h0m6.4 6.2h0m4.1-12h0" stroke="#f080aa" stroke-width="1.1" stroke-linecap="round"/>
<path d="M217.4 70.6h0m-9.7-5.2h0m7.2-.1h0m-1.2-4.2h0m1.2 2h0m8.5 3.7h0m-8.9-6.3h0m-8.6 6.8h0m13.4 0h0m-6.1-4.1h0m4.5 1h0m-3 2.3h0m-6.9-2.8h0m6.5-.6h0m1.9 1h0m2.5 3.9h0m-4-3.4h0m8.9 5h0m-.2-.8h0m-8.7-3h0m1.4-4.4h0m7.8 8.5h0m-19.4-5.1h0m9-1.1h0m1 2.7h0m1.6 3.5h0m5.4 1.5h0m-4.9-4.9h0m.7-1h0m-5.2-4.2h0m3 .5h0m0 5.3h0m.2-3.3h0m-2.5 .5h0m2.1 3.5h0m-1.2-4.6h0m-1.4-1.7h0m.3 .6h0m6.4 9.8h0m-.9-8.2h0m-10.1 3.1h0m15.8 1.6h0m-8.7 0h0m5.4 0h0m-13.7-1.2h0m11.8-.9h0m-3.7-4.7h0m-8.3 9.7h0m1.7-4.9h0m9.5 1.8h0m-11.5-2.6h0m7.5-4.2h0m3.7 5.8h0m-2.6-1h0m1.3 3.6h0m1.1-2.3h0m.8 .8h0m2.8 4.2h0m-4.6-5.6h0m4.3 1.7h0m3.3-.9h0m-6.9-2h0m-3.6-3.2h0m4.3 4.8h0m-9.1 3.2h0m2.1-8h0m6.1 5.3h0m-1.7 1.3h0m-.9-7.7h0m2.4 .9h0m-2.2-1.5h0m8.3 7.6h0m-4.6-4.2h0m-.8 6h0m3.1 1.9h0m-1.8-4.3h0m6.6-.1h0m-3.8-.8h0m-16.3-.1h0m.2-1.6h0m9.3 3.2h0m9.1-1.1h0m-5.3 .6h0m-12.1 .3h0m10.8-1h0m2.8 2.4h0m1.4 2.1h0m-8.5-5.2h0m4.7-1h0m2.5 6.4h0m-.2 .6h0m-5.9-7.7h0m3.7 1.9h0m-1.2-2.2h0m-.8 .1h0m-.4 3.5h0m3.7 1.1h0m-7.1-1.9h0m9.8 1.4h0m-14.1 .6h0m-2.5-1.5h0m9.5-2.7h0m-.4 .6h0m4.6 6.6h0m5.7-2.9h0m-18.4-1.8h0m.8 .5h0m12.2-.3h0m-13.5-1.5h0m7-4.2h0" stroke="#d02030" stroke-width="1" stroke-linecap="round"/>
<path d="M236.9 52.2h0m-28.6 .3h0m18.1-1.9h0m-1.8-1.3h0m-16 5.5h0m23.1 3.8h0m11.7 8.8h0m-31.5-21.3h0m5.9 12.6h0m5.8-6.8h0m14 .9h0m-9.3 5.4h0m-17.6-5.9h0m1-1.7h0m-4.2 1.6h0m29.4 .3h0m-25.3-3.7h0m-.3 2.8h0m11.4 6.8h0m3.1-4.5h0m2.2-.4h0m-21.6-2.2h0m14.3 8.6h0m10.7 .7h0m-6.2-9.2h0m-14.9 3.5h0m19.5 3.2h0m-5.6-5.5h0m7.4 6.2h0m-9.3-.3h0m2.8-1.6h0m10-4.4h0m9.8 14.6h0m-8-14.1h0m-22.6-5.7h0m12.6 9.6h0m4.4 2.5h0m-20.1-5.8h0m1.7-7.1h0m6.2 10.4h0m19.3-5.8h0m-16.2-1.7h0m12.9 .8h0m-21.2 .4h0m-4.9 5.5h0m17.6-4h0m4.6 6h0m-7.9-7.6h0m-11.1 .5h0m18.3 10h0m-17.4-11.6h0m18.4 12.1h0m-18.9-14.2h0m-.9 2.3h0m12.3 4.6h0m-15.6 .9h0m18.2 2h0m-20.4-3.2h0m3.2-2.9h0m17 6.2h0" stroke="#c02030" stroke-width="1" stroke-linecap="round"/>
<path d="M212.4 124.5h0m3.3-.9h0m-2.2 3.7h0m23.8 .6h0m-12 8.2h0m-5.8-.3h0m21.1 6.4h0m-8.5-16.2h0m-4.4 6.3h0m-12.7-.8h0m-9.6-11.7h0m20.9 3.6h0m-17 3.4h0m26.1 6.3h0m2.3 6.7h0m-23.4-22.7h0m22.5 7.4h0m-6.6 7.6h0m-19-8.2h0m29.5 7.1h0m-15.1-1.7h0m12.1 1.2h0m-.1-1.7h0m-3-2.4h0m-9.4 12.6h0m-4.8-19.7h0m-9.1 8h0m8.6 9.8h0m-10.8-15.4h0m30.9 18.1h0m-23.8-15.2h0m-6.7-7.9h0m26.1 9.7h0m-8.6 6h0m16.8 6.7h0m-25.3-11h0m19.3 14.8h0m-25.7-19h0m14.4-2.2h0m5.9 3.2h0m3-.5h0m-11.3 14.9h0m1.6-10.6h0m14.9 10.7h0m-25.3-17.2h0m6.3 15.4h0m-16.4-18.6h0m36.6 22.2h0m-20.6-16.3h0m-12.2-.7h0m9.4 2.2h0m-8-7.8h0m6.8 7.3h0m-12.6-9.1h0m30.8 13.2h0m4.7-1.3h0m-23.6-5.4h0m2.8 11.8h0m11.4-1.7h0m-13.4-4.5h0m-.9-3.7h0m.5-2.2h0m-3.9 4.5h0m17.1 6.1h0m-10.2-7.2h0m4.6 7.9h0m-.8 .8h0m18.4 6.1h0m-12.7-6.4h0m-.3 1.6h0m-8.2-9.5h0m-3.3 6.4h0m7 5.9h0m14.2-9.9h0m-16.7-4.9h0m-16.9-6.2h0m39.3 19.8h0m-1.1-1.2h0m-23.2-1h0m6.7 .4h0m-20.8-17.6h0m21.3 8.6h0m10-2.4h0m-16.6-2.5h0m12.2 13.5h0m-13.9-11.5h0m8.7 13.8h0m-11.7-11.6h0m-5.6 .3h0m11.5-4.4h0m-2.6-2.4h0m-9.8-4.3h0m36.5 23h0m-25.1-.6h0m7.6-9.9h0m-20.4-9.5h0m34.4 22.2h0m-27.8-16.1h0m5-3.3h0m14.1 2.9h0m3.3 5.4h0m-11.3 5.8h0m16.2-1.2h0m-19.6-6.8h0m11.4 1.5h0m-14.9 8.2h0m24.3 .3h0m-6.1 2.4h0m-13.7-5.2h0m7.2-4.6h0m-3.7 1.2h0m.3-3h0m-15.4-3.8h0m14.1 11.8h0m-11-5.2h0m22.3-5.7h0m-7.5 8.2h0m-12-2.4h0m20.9-3.5h0m-1.3 2.5h0m-29.7-10.6h0m21.9 12.2h0m-10.3 3.2h0m-1.9-12.9h0m2.6 14.9h0m5.5-.9h0m15.5 5.4h0m2.8-.3h0m-26.7-15.7h0m10.4 3h0" stroke="#9ccbef" stroke-width="1" stroke-linecap="round"/>
<path d="M210.7 125.6h0m15.9 5.6h0m3.9 4.3h0m-4.2-12.9h0m-13.8 6.1h0m10.7-.5h0m.3 3.9h0m-12.3-6.5h0m4.2 .8h0m4 9.8h0" stroke="#f0a060" stroke-width="1" stroke-linecap="round"/>
<path d="M211.9 115.1h0m3.9 14.2h0m8.4-.4h0m15.1 14h0m-14-5.5h0m-14.8-19.8h0m28.1 8.3h0m-19.4 3.8h0m15.2 3.4h0m-1.3-8.9h0" stroke="#a06050" stroke-width="1" stroke-linecap="round"/>
<path d="M301.6 88h0m1 6.3h0m-3-3.7h0m5.7 1.7h0m-2.9-1h0m-4.2-3h0m5.3 3.3h0m.6 1.6h0m-.2-3.3h0m1.9-.6h0m-3.5 2.3h0m.8 .4h0m-1.1 2.5h0m-1.1-6h0m1.1 2.2h0m-2-4h0m3.3 5.6h0m-2.8-3.2h0m-1.1-.6h0m4.9-.3h0m-4.3 .4h0m3.5 1.5h0m-2.8-2h0m-.5-1.7h0m-1.1 .3h0m6.3 2.3h0m-3.8-1.7h0m1.6 1.2h0m2.4 1.2h0m-4.6-3.1h0" stroke="#b8a8f0" stroke-width="1" stroke-linecap="round"/>
<path d="M292.8 117.7h0m4.5 .5h0m-3.2-1.1h0m3.6-.8h0m-2.3-1.6h0m-1.9 2.8h0m.5-1.6h0m-4.9-1.9h0m4.9 4.6h0m-6.2-4.8h0" stroke="#60a050" stroke-width="1" stroke-linecap="round"/>
<path d="M298 117.3h0m-3.2-.4h0m1.5 0h0m-3.7 1.1h0m-4.2-4.9h0m4.9 4h0m1.8-3.2h0m.4 2.6h0m-5 .6h0m4.7-.8h0" stroke="#806060" stroke-width="1" stroke-linecap="round"/>
<path d="M293.7 117.9h0m-.7-2.6h0m4.4-2.2h0m-5 5.2h0m2.1-2.1h0m-1.1 1h0m2.3-3.3h0m-3.6 4.8h0m-2.9-5h0m3.4 3.6h0" stroke="#3a2020" stroke-width="1.2" stroke-linecap="round"/>
<path d="M274.8 127.7h0m2.5 1.6h0m2.8 2h0m-3.3-5.3h0m4.2 1.6h0m-.2-.5h0m-2 3.1h0m-3.6 .3h0m7.6 1.5h0m-.9-1.2h0m-1.4 1h0m-.3-2.1h0m-1.3-3.6h0m1.4 6.1h0m-6.3-3.8h0m7.6 0h0" stroke="#e060e0" stroke-width="1" stroke-linecap="round"/>
<path d="M278.5 128.6h0m3.5-2h0m-.3 6.3h0m-5-3.2h0m4.4 .5h0m.5 3.5h0m1.3-1.1h0m-2.9-3.9h0m3.3-.5h0m-1.9 1.6h0m-1.1-3.5h0m-5.1 1.5h0m.9 1.8h0m5.5 1.2h0" stroke="#70c060" stroke-width="1" stroke-linecap="round"/>
<path d="M253.8 135.2h0m1.5 1.1h0m-1.2 2.3h0m-.6-1.4h0m-1.7-.6h0m.3 2.4h0m2.5-2.8h0m1.1 .1h0" stroke="#f0a060" stroke-width="1" stroke-linecap="round"/>
<path d="M80.4 32.1C82.1 30.6 84.1 29.8 87.3 29.4C90.5 29.0 95.7 28.9 99.4 29.8C103.2 30.7 106.0 32.6 109.8 34.7C113.6 36.8 117.7 39.5 122.0 42.5C126.3 45.5 131.8 49.4 135.8 52.9C139.8 56.4 143.7 60.1 146.2 63.3C148.7 66.5 150.3 69.6 151.0 72.0C151.7 74.4 151.2 75.8 150.3 77.6C149.4 79.4 147.3 81.9 145.5 83.0C143.7 84.1 141.8 84.6 139.6 84.4C137.4 84.2 135.4 83.5 132.3 82.0C129.2 80.5 124.1 77.0 121.0 75.6C117.9 74.2 116.3 74.1 113.5 73.5C110.7 72.9 106.8 73.0 104.2 72.0C101.6 71.0 99.3 69.3 98.0 67.3C96.7 65.3 97.6 61.9 96.3 60.0C95.0 58.1 92.7 57.1 90.4 55.8C88.1 54.5 84.9 53.8 82.7 52.0C80.5 50.2 78.2 47.2 77.3 45.0C76.4 42.8 76.8 40.6 77.3 38.5C77.8 36.4 78.7 33.6 80.4 32.1Z" fill="none" stroke="#9d80f2" stroke-width="0.9"/>
<path d="M45.4 99.4C44.9 97.5 48.1 97.5 50.0 96.0C51.9 94.5 54.3 92.0 57.0 90.2C59.7 88.4 63.4 86.5 66.2 85.0C69.0 83.5 71.6 82.1 74.0 81.0C76.4 79.9 79.0 78.9 80.8 78.5C82.6 78.1 83.3 78.6 85.0 78.5C86.7 78.4 89.2 78.5 91.0 78.0C92.8 77.5 94.3 76.2 96.0 75.5C97.7 74.8 98.7 73.8 101.0 73.5C103.3 73.2 107.2 73.8 110.0 74.0C112.8 74.2 115.2 74.2 118.0 75.0C120.8 75.8 124.5 77.5 127.0 79.0C129.5 80.5 131.5 82.0 133.0 84.0C134.5 86.0 135.9 88.1 136.2 90.8C136.5 93.5 135.9 96.9 134.6 100.0C133.3 103.1 130.8 106.1 128.5 109.2C126.2 112.3 123.9 115.9 120.8 118.5C117.7 121.1 113.6 123.1 110.0 124.6C106.4 126.1 102.8 127.5 99.2 127.7C95.6 127.9 92.9 126.8 88.5 126.0C84.1 125.2 77.6 124.5 73.0 123.0C68.4 121.5 64.1 119.5 60.8 117.0C57.5 114.5 55.6 110.6 53.0 107.7C50.4 104.8 45.9 101.4 45.4 99.4Z" fill="none" stroke="#4a72e6" stroke-width="0.9"/>
<path d="M48.5 113.8C49.8 113.2 52.1 114.0 54.0 114.5C55.9 115.0 57.8 116.0 60.0 117.0C62.2 118.0 64.8 119.6 67.0 120.5C69.2 121.4 70.7 122.1 73.0 122.5C75.3 122.9 78.5 122.4 80.8 123.0C83.1 123.6 85.5 124.7 87.0 126.0C88.5 127.3 89.5 129.0 90.0 131.0C90.5 133.0 90.6 136.1 90.0 138.0C89.4 139.9 88.2 141.5 86.5 142.5C84.8 143.5 82.1 143.9 80.0 144.0C77.9 144.1 76.0 143.5 74.0 143.0C72.0 142.5 70.2 142.0 68.0 141.0C65.8 140.0 63.1 138.7 60.8 137.0C58.5 135.3 56.0 133.0 54.0 131.0C52.0 129.0 50.2 127.2 49.0 125.0C47.8 122.8 46.6 119.9 46.5 118.0C46.4 116.1 47.2 114.4 48.5 113.8Z" fill="none" stroke="#b3d3f2" stroke-width="0.9"/>
<ellipse cx="143.8" cy="90.8" rx="7.0" ry="7.5" fill="none" stroke="#c4b4f2" stroke-width="0.9"/>
<ellipse cx="135.4" cy="113.8" rx="9.0" ry="10.6" fill="none" stroke="#6e3e30" stroke-width="0.9"/>
<ellipse cx="121.4" cy="129.9" rx="7.5" ry="6.3" fill="none" stroke="#e35ce8" stroke-width="0.9"/>
<ellipse cx="96.2" cy="136.2" rx="4.8" ry="4.8" fill="none" stroke="#f2a463" stroke-width="0.9"/>
<path d="M36.6 76.0C37.0 73.7 38.3 72.8 39.5 72.0C40.7 71.2 41.9 71.0 44.0 71.0C46.1 71.0 49.3 71.6 52.0 72.0C54.7 72.4 57.8 73.4 60.0 73.2C62.2 73.0 63.7 72.3 65.0 71.0C66.3 69.7 67.0 65.8 68.0 65.5C69.0 65.2 69.9 67.9 71.0 69.0C72.1 70.1 73.0 70.7 74.6 72.3C76.2 73.9 80.9 77.0 80.8 78.5C80.7 80.0 76.4 79.9 74.0 81.0C71.6 82.1 69.0 83.5 66.2 85.0C63.4 86.5 59.7 88.4 57.0 90.2C54.3 92.0 51.9 94.5 50.0 96.0C48.1 97.5 46.9 99.6 45.4 99.4C43.9 99.2 42.4 97.2 41.0 95.0C39.6 92.8 37.7 89.2 37.0 86.0C36.3 82.8 36.2 78.3 36.6 76.0Z" fill="none" stroke="#df3a3a" stroke-width="0.9"/>
<path d="M45.0 58.0C44.5 56.8 45.2 53.9 46.0 52.0C46.8 50.1 48.3 48.1 50.0 46.5C51.7 44.9 53.7 43.5 56.0 42.5C58.3 41.5 61.3 41.0 64.0 40.5C66.7 40.0 70.0 39.6 72.0 39.8C74.0 40.0 75.2 40.5 76.0 41.5C76.8 42.5 76.3 44.6 77.0 46.0C77.7 47.4 78.2 48.3 80.0 50.0C81.8 51.7 85.7 53.8 88.0 56.0C90.3 58.2 92.5 60.7 94.0 63.0C95.5 65.3 96.7 67.9 97.0 70.0C97.3 72.1 97.0 74.2 96.0 75.5C95.0 76.8 92.8 77.5 91.0 78.0C89.2 78.5 86.8 78.8 85.0 78.5C83.2 78.2 81.7 77.7 80.0 76.5C78.3 75.3 76.7 73.4 75.0 71.5C73.3 69.6 71.2 66.5 70.0 65.0C68.8 63.5 68.8 63.2 67.5 62.5C66.2 61.8 64.1 61.3 62.0 61.0C59.9 60.7 57.2 60.8 55.0 60.5C52.8 60.2 50.7 59.9 49.0 59.5C47.3 59.1 45.5 59.2 45.0 58.0Z" fill="none" stroke="#4ccf3c" stroke-width="0.9"/>
<path d="M44.6 67.0C44.6 65.8 44.9 64.2 46.2 63.2C47.5 62.2 50.5 61.5 52.3 61.0C54.1 60.5 55.5 60.0 57.0 60.2C58.5 60.5 59.7 61.9 61.5 62.5C63.3 63.1 66.6 63.2 67.7 64.0C68.8 64.8 68.0 66.1 68.0 67.0C68.0 67.9 68.5 68.4 67.7 69.4C66.9 70.4 64.8 72.4 63.0 73.0C61.2 73.6 58.8 73.1 57.0 73.0C55.2 72.9 54.1 73.0 52.3 72.5C50.5 72.0 47.5 71.1 46.2 70.2C44.9 69.3 44.6 68.2 44.6 67.0Z" fill="none" stroke="#4a58e0" stroke-width="0.9"/>
<path d="M237.9 32.1C239.6 30.6 241.6 29.8 244.8 29.4C248.0 29.0 253.1 28.9 256.9 29.8C260.6 30.7 263.5 32.6 267.3 34.7C271.1 36.8 275.2 39.5 279.5 42.5C283.8 45.5 289.3 49.4 293.3 52.9C297.3 56.4 301.2 60.1 303.7 63.3C306.2 66.5 307.8 69.6 308.5 72.0C309.2 74.4 308.7 75.8 307.8 77.6C306.9 79.4 304.8 81.9 303.0 83.0C301.2 84.1 299.3 84.6 297.1 84.4C294.9 84.2 292.9 83.5 289.8 82.0C286.7 80.5 281.6 77.0 278.5 75.6C275.4 74.2 273.8 74.1 271.0 73.5C268.2 72.9 264.3 73.0 261.7 72.0C259.1 71.0 256.8 69.3 255.5 67.3C254.2 65.3 255.1 61.9 253.8 60.0C252.5 58.1 250.2 57.1 247.9 55.8C245.6 54.5 242.4 53.8 240.2 52.0C238.0 50.2 235.7 47.2 234.8 45.0C233.9 42.8 234.3 40.6 234.8 38.5C235.3 36.4 236.2 33.6 237.9 32.1Z" fill="none" stroke="#9d80f2" stroke-width="0.9"/>
<path d="M202.9 99.4C202.4 97.5 205.6 97.5 207.5 96.0C209.4 94.5 211.8 92.0 214.5 90.2C217.2 88.4 220.9 86.5 223.7 85.0C226.5 83.5 229.1 82.1 231.5 81.0C233.9 79.9 236.5 78.9 238.3 78.5C240.1 78.1 240.8 78.6 242.5 78.5C244.2 78.4 246.7 78.5 248.5 78.0C250.3 77.5 251.8 76.2 253.5 75.5C255.2 74.8 256.2 73.8 258.5 73.5C260.8 73.2 264.7 73.8 267.5 74.0C270.3 74.2 272.7 74.2 275.5 75.0C278.3 75.8 282.0 77.5 284.5 79.0C287.0 80.5 289.0 82.0 290.5 84.0C292.0 86.0 293.4 88.1 293.7 90.8C294.0 93.5 293.4 96.9 292.1 100.0C290.8 103.1 288.3 106.1 286.0 109.2C283.7 112.3 281.4 115.9 278.3 118.5C275.2 121.1 271.1 123.1 267.5 124.6C263.9 126.1 260.3 127.5 256.7 127.7C253.1 127.9 250.4 126.8 246.0 126.0C241.6 125.2 235.1 124.5 230.5 123.0C225.9 121.5 221.6 119.5 218.3 117.0C215.0 114.5 213.1 110.6 210.5 107.7C207.9 104.8 203.4 101.4 202.9 99.4Z" fill="none" stroke="#4a72e6" stroke-width="0.9"/>
<path d="M206.0 113.8C207.2 113.2 209.6 114.0 211.5 114.5C213.4 115.0 215.3 116.0 217.5 117.0C219.7 118.0 222.3 119.6 224.5 120.5C226.7 121.4 228.2 122.1 230.5 122.5C232.8 122.9 236.0 122.4 238.3 123.0C240.6 123.6 243.0 124.7 244.5 126.0C246.0 127.3 247.0 129.0 247.5 131.0C248.0 133.0 248.1 136.1 247.5 138.0C246.9 139.9 245.7 141.5 244.0 142.5C242.3 143.5 239.6 143.9 237.5 144.0C235.4 144.1 233.5 143.5 231.5 143.0C229.5 142.5 227.7 142.0 225.5 141.0C223.3 140.0 220.6 138.7 218.3 137.0C216.0 135.3 213.5 133.0 211.5 131.0C209.5 129.0 207.8 127.2 206.5 125.0C205.2 122.8 204.1 119.9 204.0 118.0C203.9 116.1 204.8 114.4 206.0 113.8Z" fill="none" stroke="#b3d3f2" stroke-width="0.9"/>
<ellipse cx="301.3" cy="90.8" rx="7.0" ry="7.5" fill="none" stroke="#c4b4f2" stroke-width="0.9"/>
<ellipse cx="292.9" cy="113.8" rx="9.0" ry="10.6" fill="none" stroke="#6e3e30" stroke-width="0.9"/>
<ellipse cx="278.9" cy="129.9" rx="7.5" ry="6.3" fill="none" stroke="#e35ce8" stroke-width="0.9"/>
<ellipse cx="253.7" cy="136.2" rx="4.8" ry="4.8" fill="none" stroke="#f2a463" stroke-width="0.9"/>
<path d="M194.1 76.0C194.5 73.7 195.8 72.8 197.0 72.0C198.2 71.2 199.4 71.0 201.5 71.0C203.6 71.0 206.8 71.6 209.5 72.0C212.2 72.4 215.3 73.4 217.5 73.2C219.7 73.0 221.2 72.3 222.5 71.0C223.8 69.7 224.5 65.8 225.5 65.5C226.5 65.2 227.4 67.9 228.5 69.0C229.6 70.1 230.5 70.7 232.1 72.3C233.7 73.9 238.4 77.0 238.3 78.5C238.2 80.0 233.9 79.9 231.5 81.0C229.1 82.1 226.5 83.5 223.7 85.0C220.9 86.5 217.2 88.4 214.5 90.2C211.8 92.0 209.4 94.5 207.5 96.0C205.6 97.5 204.4 99.6 202.9 99.4C201.4 99.2 199.9 97.2 198.5 95.0C197.1 92.8 195.2 89.2 194.5 86.0C193.8 82.8 193.7 78.3 194.1 76.0Z" fill="none" stroke="#df3a3a" stroke-width="0.9"/>
<path d="M202.5 58.0C202.0 56.8 202.7 53.9 203.5 52.0C204.3 50.1 205.8 48.1 207.5 46.5C209.2 44.9 211.2 43.5 213.5 42.5C215.8 41.5 218.8 41.0 221.5 40.5C224.2 40.0 227.5 39.6 229.5 39.8C231.5 40.0 232.7 40.5 233.5 41.5C234.3 42.5 233.8 44.6 234.5 46.0C235.2 47.4 235.7 48.3 237.5 50.0C239.3 51.7 243.2 53.8 245.5 56.0C247.8 58.2 250.0 60.7 251.5 63.0C253.0 65.3 254.2 67.9 254.5 70.0C254.8 72.1 254.5 74.2 253.5 75.5C252.5 76.8 250.3 77.5 248.5 78.0C246.7 78.5 244.3 78.8 242.5 78.5C240.7 78.2 239.2 77.7 237.5 76.5C235.8 75.3 234.2 73.4 232.5 71.5C230.8 69.6 228.8 66.5 227.5 65.0C226.2 63.5 226.3 63.2 225.0 62.5C223.7 61.8 221.6 61.3 219.5 61.0C217.4 60.7 214.7 60.8 212.5 60.5C210.3 60.2 208.2 59.9 206.5 59.5C204.8 59.1 203.0 59.2 202.5 58.0Z" fill="none" stroke="#4ccf3c" stroke-width="0.9"/>
<path d="M202.1 67.0C202.1 65.8 202.4 64.2 203.7 63.2C205.0 62.2 208.0 61.5 209.8 61.0C211.6 60.5 213.0 60.0 214.5 60.2C216.0 60.5 217.2 61.9 219.0 62.5C220.8 63.1 224.1 63.2 225.2 64.0C226.3 64.8 225.5 66.1 225.5 67.0C225.5 67.9 226.0 68.4 225.2 69.4C224.4 70.4 222.3 72.4 220.5 73.0C218.7 73.6 216.3 73.1 214.5 73.0C212.7 72.9 211.6 73.0 209.8 72.5C208.0 72.0 205.0 71.1 203.7 70.2C202.4 69.3 202.1 68.2 202.1 67.0Z" fill="none" stroke="#4a58e0" stroke-width="0.9"/>
<defs><g id="gc"><path d="M61.1 112h0m12.9 7.6h0m28.5-17.6h0m-46.4-4.8h0m23.6 4.6h0m-.3 11.6h0m28.2-36.4h0m-35.5 24.6h0m-5.8 4.4h0m52.9-22.2h0m-22.8 13h0m21.2-15.6h0m-31.4 37.1h0m-4.8-21.3h0m46.1-9.8h0m-8.2 25h0m-8.6-16.5h0m-54 6.5h0m4.1-8.3h0m29.2 29.9h0m-12-34h0m6.4 15.7h0m-10.2-4.8h0m56.3-11.9h0m-62.2 13.4h0m-3.9 9.8h0m6.6-27.8h0m36.9 10.2h0m-12.4 25.7h0m20.9-35.6h0m-14.7 26.9h0m-43.8-7.4h0m41.2-9.2h0m24.2 2.1h0m-43.5-7h0m14.4-6.9h0m9.2 6.2h0m-2.5 5.5h0m30.7 3.9h0m-45.5-3.4h0m21.7 3.7h0m8.7-9.6h0m-15.2 27.3h0m-28.9-17.2h0m62.1-6h0m-3.2-2.6h0m-4.5-.5h0m-52 10.8h0m20.4-8.3h0m-3.5 32.1h0m5.5-37h0m-4 5.8h0m38.8 1.1h0m-70.8-1.1h0m2.1 13.5h0m16.3-15.6h0m28.6-4.3h0m4.7 18.3h0m-32.3-13.5h0m-1.5 14.2h0m42.5-28.3h0m-27.4 14.5h0m24.3 3.9h0m-40.8-6.4h0m7.7 20h0m4.9 4.2h0m11.4 7.3h0m-23 1.1h0m5.6-11.1h0m30-13.6h0m-41.5-11.4h0m29.7-1.7h0m-42.7 24.8h0m31.7 11h0m-2 .2h0m33.6-42.6h0m-12.6 .3h0m-32.8 11.3h0m-10.4 5.7h0m3.7 11h0m45.2-20.3h0m-24.4 14h0m-43.2 .7h0m29.7 14.8h0m-4.6-13h0m10.9-7.8h0m46.5-7.1h0m-47.7-4.3h0m44.6 9h0m-39.6 22.5h0m-5.2 1.8h0m11.6 6.8h0m15.5-.1h0m-9.9-18.5h0m27.1-7.6h0m-27.4 7.9h0m10-5.6h0m21.4-10.9h0m-27.4 9.8h0m-24.1-5.9h0m15.2 20.7h0m-10.1-6.7h0m-15.3 .3h0m-14.7-2.3h0m54.4 6.1h0m-26.8 8.9h0m34.6-26.2h0m-36.7 25.6h0m49.6-21.6h0m-24.6-13.6h0m12.4 31h0m-23.6 .4h0m36.8-15.8h0m-35.8 7.1h0m38-20.7h0m-56.6 25.7h0m39.3-16.7h0m-23.3-7.1h0m41.9 8.9h0m-82.3 1.6h0m30.4 15.4h0m15.3 9.5h0m-1.2-11.1h0m4.5-19.9h0m32.8 2.9h0m-31.1 10.9h0m-6.4-19.5h0m6.8 22.1h0m-13.2 8.3h0m-25.4-9h0m50.5 8.3h0m-57.8-12.7h0m20.5-6.1h0m-1.5-7.5h0m32.9-10.3h0m-31.4 36.5h0m3.2-16h0m24.3-25.6h0m-39.8 40.1h0m43 .6h0m12.1-15.7h0m-59.9 .1h0m50.7-5.8h0m-10.6 9.3h0m-42.7 1.2h0m37.9-8.1h0m16.1 18.2h0m-35.2-11.3h0m6.1 15.4h0m2.2-32.6h0m8.6 4.8h0m-13.5 28.7h0m37.4-15.3h0m2.6-9.4h0m-20.4-11.3h0m14.4 1.7h0m-51.6 9h0m-1.3 15.6h0m19.7 8h0m-.3-35.6h0m-7.4 37.9h0m-13.5-20.6h0m29.4 12.1h0m34.4-22.4h0m-46.1 30.7h0m28.4-19.1h0m-29.4 17.4h0m12.1 6.1h0m-2.9-20.4h0m-31.7-7.2h0m73-4.3h0m-36.3 14.8h0m-1.4-15h0m4.5 17.2h0m-6.3 7.1h0m7.4-2.3h0m-13.6-27.4h0m12.5 9.3h0m12.9-4.9h0m-17.6 19.3h0m30.7-16.1h0m-15 18.4h0m-37.9-8.6h0m39.3 20.7h0m-35.6-11h0m29.8 10.9h0m-33.4-35h0m36.2 6.4h0m-7.1 29.1h0m37.9-32.4h0m-20.3 21.2h0m-18.1-19.3h0m34.5 1.8h0m-49 8.5h0m41.8-6.3h0m-28-9.8h0m-26.1 17.8h0m-2.6-8.7h0m36.6 16.2h0m-47-10.8h0m73.4 0h0m-36.6-24h0m26.2 9.3h0m12.6 3.1h0m-8.1 4.5h0m-48.6 3.7h0m29.5-12.2h0m11.4-8.1h0m14.9 14.3h0m-44 19.6h0m-33.7-10.9h0m27.6-.3h0m14.6-12.7h0m28.6 11.6h0m-59 10.4h0m35.2-14.5h0m28.9-4.9h0m-9 22h0m-67-9.8h0m55.9-8.7h0m-30.8 25.8h0m38.9-25.6h0m-1.6-1.7h0m14.6 .8h0m-5.7-6.7h0m-29.4 33h0m13.4 1h0m.9-34h0m-45.7 10.9h0m4.9 16.9h0m12.5-.6h0m20-27.7h0m4 24.1h0m-4.4 7h0m-18.8-2.1h0m10.2-29.2h0m29.5 11h0m-30.1 5.9h0m-15.2-17.7h0m49.6 4.9h0m-35.9 17.3h0m16.1 .9h0m-10.8-22.1h0m-29.9 5.5h0m35.1 24.3h0m-3.3-23.8h0m12.1 20.7h0m-16.5-15h0m22.7 1.1h0m-55.9 13.2h0m16.4 8.7h0m40.4-45h0m-51.7 14.9h0m17.8-8.1h0m19.7 23h0m-32.7 6.2h0m6.2 8.3h0m52.2-21.7h0m-28.8 25.6h0m29-37.8h0m-55.5 10.2h0m23.9 17.4h0m9.9-5.5h0m-41.2-.1h0m52-16.9h0m-40.2 22.4h0m18.4 4.1h0m10.7-43.2h0m22.5 28.4h0m-52.1-12.7h0m15.7 17.4h0m-30.8 2.1h0m31.7 11.9h0m-19-19h0m-17.7-6.5h0m-1.4-1.6h0m15.4 8.1h0m47.4-5.5h0m-10.7 6h0m-1 19h0m-21.3-6.4h0m-14.1-14.1h0m1.2-.9h0m1.4-20.1h0m-8.3 15.2h0m19.1 10.3h0m16.1 14.3h0m-7.7 .1h0m7.9-28.2h0m-14.7 21.3h0m10.8 9.6h0m-11.7-23.8h0m15.9 23.9h0m22.1-16.1h0m-38.6-12.6h0m19.2 6.7h0m-24 9.6h0m-27.4-7.4h0m62.3-10.7h0m-20.4 27.8h0m.6-11.4h0m-11 6.4h0m19.6-.7h0m3.6 4.7h0m-37.4-18.9h0m1.4-2.3h0m5 12.2h0m45.6-20.5h0m-45.4 20.1h0m23.2-19.8h0m-46.6 2.8h0m67.9 17.2h0m-20.4 11.9h0m-14.3-32.1h0m37.8 .5h0m-35.2 .8h0m-30.4 5.7h0m44.2-21.6h0m-35.6 16h0m51.8-12.3h0m-37.1 10.8h0m-27.2 3h0m-.6-1h0m4.1 17.4h0m30-19.1h0m2.9-12.8h0m1.4 17.6h0m3.3 16.6h0m-33.1-.4h0m67.2-31.6h0m-16.6 23.3h0m-33.9 12.9h0m7.2-6.4h0m-24.9-10.5h0m21-6.4h0m8.5 25.2h0m31.1-9.8h0m-35.8-11.7h0m33.4 17.5h0m-11.8-10.4h0m14.4 6.6h0m-10.6-33.3h0m-22.4 15.3h0m24.5 27.5h0m-24.7-5.5h0m-7.8-29.6h0m20.8 13.2h0m16.6-3.1h0m-10.5-5.8h0m19.9-2.2h0m-52 8.3h0m33.7 6.7h0m20.9-.6h0m-49.4-.8h0m40.4 5.2h0m6.6-23.9h0m-47.7 22.9h0m18.1-16h0m-28.2 19.9h0m33.6-.8h0m10.6-12.4h0m-16.1-17.6h0m-19 16.4h0m15.6 1.1h0m-5.5 26.9h0m-24.5-10.6h0m24.1 3.2h0m20.4-31.7h0m-4.8 37.1h0m-43-9.6h0m15.3-11h0m38.4-21.7h0m-37.5 2.5h0m7.4 .3h0m15.9 33.3h0m11.9-25.6h0m-11.2 33.6h0m-35.6-24.9h0m-4.1-2.3h0m14.6 19.6h0m12 2.6h0m1.9-35.9h0m-8.4 22.6h0m-15.7-16.3h0m66.3 4.9h0m-69 5.4h0m59.7-13.2h0m-30.7 30.1h0m7-32.3h0m21.6 21.1h0m-33.6 9.3h0m-1.9-16.6h0m25.7 21.4h0m-50.5-25.2h0m17.2 11.7h0m-14.9-10.3h0m40.1 12.5h0m-2.8 7.9h0m21.9-8h0m-5.9 11.3h0m17.8-26.4h0m-60.4 2.7h0m40.1-14.9h0m-49.7 24.7h0m15.3 14.6h0m.6-3.9h0m.9-33.3h0m-6.6 1h0m27.7 13.1h0m19.8 11.1h0m-29.9 12.7h0m-22.8-22.5h0m17.3 8.3h0m27.6 7.6h0m-27.1-24.9h0m-9.8 23.9h0m2.1-10h0m12.1-3.7h0m-24.1 1.8h0m39.8-10.9h0m-7.4 12.1h0m21.3 5.5h0m-28.5-24.8h0m2.1 42.4h0m26.3-43.2h0m3.5 6.8h0m-45.5 9.7h0m20.6-3.4h0m34.7-3.6h0m-36.1 13.7h0m-36.9-7.2h0m36.7-19.2h0m-44.8 19.6h0m23.6 7.9h0m29.7-26.1h0m-34.7 5.1h0m12.3 8.7h0m35.4-1.1h0m-11.3 15.6h0m26.5-13.1h0m-32.4 2.4h0m26.9-16.2h0m3.6 12.2h0m-59.7-9.8h0m34.7 27.6h0m-43.5-2.8h0m15.3-18h0m53.4 3.9h0m-78.4 13.5h0m10.6 6.3h0m5.5-10.9h0m-1.3 3.2h0m51.8-15h0m-50.9 24.7h0m19.9-25.2h0m11.6 22.4h0m-17.8 9.1h0m10.5-28.8h0m-39.4-1.7h0m30-3.8h0m1.4 32.3h0m26.5-39.5h0m-2.5 1.6h0m-27.8 6.4h0m12.1 14.5h0m-19.6 14h0m47.8-5.3h0m-38.3 4.2h0m7.3-4.3h0m9.9 12h0m-6.5-2h0m24.2-26.1h0m-39.7 7.4h0m51.3-12.5h0m-28.1 24.3h0m-20.6 .6h0m-6-30.7h0m25.5-1.7h0m-39.7 12.8h0m-.6 15.8h0m51.3 1.1h0m-60.4-12.2h0m63.9-16.8h0m-9.4 22.5h0m3.4 7.3h0m-48.9-16.1h0m42.1-10.4h0m27.5 11.7h0m-52.3-18.8h0m34-2.5h0m-23.5 38.8h0m36.6-26.6h0m-8.3 17.6h0m-30.7-19.2h0m-22.4 27.6h0m5.9-4.6h0m36.5-35.3h0m-27.7 43.1h0m52.9-21.6h0m-46.2 2.5h0m9.9 21.7h0m26.5-25.3h0m-35.8 24h0m17-37.1h0m-12.4 30.4h0m-.1-6.5h0m-6.4-17.7h0m2.6 .6h0m-8.5 12.7h0m-.6 7.7h0m19.1 1.5h0m-6.6-23.6h0m30.8 20.2h0m-30.6-20.5h0m-20.2 23.2h0m48.6 6.7h0m-45.6-21.7h0m57.1-13.3h0m-2 25.4h0m1.9-10.9h0m-37.5 17h0m-17.1 6.5h0m19.2-7.2h0m25.9 2h0m-12-41.6h0m-35.6 16.3h0m24.1 30.9h0m21.1-38.1h0m-10.7 15h0m3.1 12h0m-34.2 5.8h0m53.7-15.5h0m-6-7.9h0m-60.6 21.5h0m52.1-14.5h0m-22.9 20.1h0m11.7-31.1h0m-19 27.7h0m15.6-23.8h0m9.2-6.7h0m-12.7 2.9h0m-13.8 29.2h0m15.9-35.6h0m34.3 16.2h0m-46.1-7.9h0m-23.4 18.1h0m26.4-30.8h0m1.5 43.4h0m26.2-26.6h0m4.3 10.4h0m-59.7-3.4h0m18.5 .5h0m39-18.2h0m-44 29.5h0m27.1-3.3h0m-7.1-27.4h0m38.1 12h0m-43.6-5.9h0m-9.4 10h0m49.5-4.9h0m-55.9 13.3h0m23.7 14.3h0m10.9-1.4h0m8.1-16.4h0m-53.6-11.8h0m13.6 25.7h0m40.7-17.2h0m-35.5-1.6h0m-1.8 4.7h0m-6.3 9h0m-5.4-28.8h0m6.2 35.6h0m-15.4-5.7h0m-.9-11h0m40.2 12.6h0m-20.8 1.2h0m-13.4-11h0m15.9-20.5h0m19.6 .7h0m-26-2.8h0m24.3 15.7h0m29.6-1.7h0m-34.5-5.6h0m-30.2 2.9h0m33.2 27.5h0m27-18.9h0m-23.1 13.3h0m-3.4-24.3h0m11.5-15.3h0m20 6.1h0m-33.2-7.2h0m-11.6 30.7h0m19.6-23.5h0m-10.9 4.3h0m-1.6-8.4h0m5 30.3h0m4.9 .5h0m-7.2 7.1h0m15.3-33.6h0m-26.6 10.6h0m28.1 19.6h0m12.9-13.5h0m-2.9-2.2h0m-55.8 18.3h0m17.1-.5h0m49.1-13.2h0m-5.9-3.7h0m-10.3-11.8h0m-37.2 23.5h0m36.5-25.9h0m5.4-2.3h0m-34.1 9.6h0m-10-8.4h0m5.6 35.9h0m-14.8-26.5h0m55.6-15.1h0m-30.6 16.8h0m11.6 23.6h0m-15.4-27.8h0m3.4 29.6h0m31.4-37.9h0m-58.1 26h0m50.8-27.6h0m-34.5 29.7h0m11.8 14.3h0m-35.5-26h0m44.5-11.7h0m13.5-7.3h0m-51.7 19.9h0m-12.3-.8h0m64 6.9h0m-45.7-14.5h0m34.9 12.3h0m-.5-6.1h0m-32.5-8.1h0m-11.5 14.4h0m33.4-9.1h0m-3.2 26.2h0m7-9.5h0m-33.8-11.9h0m30.3 22.9h0m-23-5.9h0m48.2-3.2h0m7.2-31.5h0m-56.2 40.1h0m32.7-10.3h0m-19.6 1.9h0m29 4.5h0m8.4-24h0m-19.8 24.2h0m28.7-30.2h0m-43.7 31h0m2.3-26.1h0m32.6 22.8h0m-26.3-15.4h0m-14.4 2.8h0m4.8 12h0m-21.1-4h0m28.3 .8h0m5.3-16.6h0m-6.9 29.9h0m12.7-27.1h0m-2-18.5h0m-21.7 4.1h0m53.9 4.3h0m-38.9 9.5h0m2-2h0m-7.4 .2h0m15.2 1.6h0m-31.9 2.6h0m40.9-4.8h0m-12.6 17.2h0m-18.8-2h0m33.1-29.1h0m10 14.2h0m-19.7-8.3h0m-16.9 25.2h0m24.6-24.3h0m-10.7 37.1h0m-8.7-3h0m-11.7-15.1h0m-21.2 .2h0m19.7-14.6h0m27.2-14.5h0m-9.1 3.9h0m-16.7 10.8h0m35.7-10.1h0m10.8 11h0m-44.1 30.9h0m-21.4-8.6h0m30.6-32.7h0m3.8 32.5h0m1.8 7.7h0m7.5-2.2h0m-7.4 3.3h0m-38.1-25.5h0m34.2 21.2h0m-15.1-39.6h0m6.1 17.6h0m11.5 12.2h0m-4-2.9h0m-14.9-5.5h0m5.5-9.6h0m4.1 28.7h0m30-22.2h0m-40 21.2h0m38.9-10.3h0m4.2-10.2h0m-47 19.8h0m49.2-13h0m-68.5-4.6h0m33.9 23.9h0m-19.8-38.5h0m18.5 23.4h0m-19.4-5.9h0m32.3 17.3h0m-13.2-4.5h0m-10.1-33.4h0m39.3-3.8h0m-24.7 36.1h0m-8.9-6.6h0m-13.1 1.8h0m41.6-26.8h0m-53.2 19.7h0m69-10.6h0m-6.2 22.6h0m-18.2-8.1h0m-16.7-15h0m-39.9 7h0m41-17.1h0m28.6-3.9h0m1.6 12h0m-25.4 3h0m-21.5 .9h0m36.8 11.7h0m-41.6 1.7h0m26.3-13.4h0m-41.3 1.4h0m13.9 17.9h0m3.1-12h0m29.1-2.6h0m-10 12.4h0m2-9h0m-14.4 17.4h0m25.1-3h0m31.2-34.5h0m-54.9 31.2h0m28.1-11h0m-4.6-11h0m-3 28.6h0m12.3 3.1h0m-12.7-3.1h0m-36.5-12.7h0m17.7 14.4h0m16.3-8.7h0m-8.6-1.9h0m41.9-15.9h0m-51 2.4h0m1 5.1h0m16.3-3.4h0m.4 9.9h0m-26.9-4.2h0m61.5 .6h0m-49.8 8.4h0m-16.6 .1h0m14.9 7.6h0m42.1-41.6h0m1.4 16.2h0m-7.9 1.7h0m-11.4 4.8h0m-23.3 13.7h0m34.3-40.1h0m-17.5 7h0m-16.3 8.9h0m10.4 26.8h0m-26.4-2.1h0m-2.4-24.8h0m38.6 4.9h0m19.4-12.5h0m-54.6 19.3h0m52.1-14h0m-16.4 12.1h0m-5.4-22.6h0m3.9 10.2h0m-12.7 26.6h0m2.4-8.1h0m3.3-2.1h0m-33.1-9.8h0m34.5 28.7h0m11.6-39.1h0m-3 29.9h0m-48.4-14.1h0m42-17.9h0m33.6 13.4h0m-46.8 22h0m42.4-32.3h0m-5.5-6.1h0m-7.6 30.1h0m-35.2-6h0m-13.8-11h0m55.5-13.6h0m9.9-1.2h0m-42.6 20.7h0m-13 1.9h0m49.7-23.7h0m-27.9 2.6h0m-37.5 11.7h0m10 12.5h0m32.6-20.7h0m-19.3 23.4h0m-11.1-16h0m24.6-13.5h0m7.7 18.7h0m-2.4 12.3h0m-21.8 9.7h0m9.2-22.6h0m34.8-12.5h0m-27.7-6.4h0m-24.6 24.2h0m53.9 7.8h0m-6.8-27h0m16.7 17.6h0m-37.4 14.5h0m-17.8-14.7h0m46.5-4.1h0m-5-3.7h0m-40.6 26.6h0m1.9-36.5h0m16.5 2.7h0m-14.6 30.4h0m39.3-35.6h0m-6.3 38.4h0m-32.3-18.8h0m-5.1-8h0m24.7-12.3h0m-15.7 8.6h0m43.2 8.7h0m-.2 2.2h0m-38.2-8.2h0m-12.5 15.5h0m45 3.6h0m-34.5 6.1h0m-17.7-23.4h0m46.3-4.6h0m-44.4 20.1h0m34.7 16.6h0m-42.9-31h0m50.4-7.1h0m-46.5 8.4h0m47.1-10.1h0m-33.5-2.2h0m28.9 41.3h0m7-44.5h0m2.2 15.5h0m-1.4 9.3h0m.8-25.2h0m-37.9 18.2h0m7.6-8.7h0m17.6 12.6h0m-33.2-2.8h0m13.6-18.5h0m1.4-.3h0m14.3 43.8h0m-15.3-19.4h0m-7.4 6.6h0m41.8-16.1h0m-14.3 26.5h0m12.4-8h0m-36.1-20.3h0m-19.2 6.2h0m6-.8h0m7.3 0h0m-23.8-4.1h0m32.2 12.9h0m28.3-30h0m-41.3 39.9h0m11.8-13.8h0m25 20.4h0m-20.7 .2h0m-27.7-19.7h0m1.1 3.1h0m36.2 7.1h0m18.8-28.1h0m-30.9 30.6h0m18.4-19.4h0m-14.8 13.8h0m41.1-12.9h0m-42.7-19.2h0m30.7 12.4h0m-28.8 5.6h0m24-18.3h0m-11.2 5.5h0m-34.2 17.8h0m19.5 4.2h0m-33.6-.4h0m29.7 8.2h0m-4.1-11.9h0m25 20.2h0m8.5-35.3h0m-38.8 3.8h0m32.3-14h0m-29 15.3h0m-23.7 4.3h0m50 21.7h0m-26.8-13.1h0m-16 4.2h0m69.1-8h0m-53.9-.3h0m44.6-17.4h0m-3.7 10.8h0m-20.9 16.2h0m1.4-30h0m-21.7 25.9h0m54.3-13.5h0m-77.8 13.4h0m13.8-7.4h0m33.3 11.8h0m-13.5 11.9h0m-32-27h0m18-.4h0m19.5 14.4h0m-22.5-3.9h0m-6.8-8.3h0m46.9 16.1h0m18.3-21.7h0m-62.9 4.4h0m23.3 8.1h0m-2.5 18.1h0m-6.4-15.7h0m31.6-26.4h0m-52.6 11.5h0m22.1-12.9h0m26.8 4.3h0m-10.3 12.3h0m-42.2 15.3h0m49.5-21.3h0m-24.2 19.3h0m39.1 .4h0m-38.1-24h0m43.9-.2h0m-35.6 23.4h0m21 .1h0m-9.5-28.2h0m18.2 22.4h0m-48.9-16.8h0m35.7 35.1h0m20.6-14.7h0m-27.9-28.7h0m34.7 9.7h0m-82.7 17.3h0m45.9-20.1h0m-33.7 15.1h0m36.8-24.5h0m4.8 .7h0m-41.2 20.4h0m9.7 24h0m25.3-26.7h0m-49.4 7.8h0m27.8 9.5h0m33.7-32.6h0m4.6 4h0m-20.2 8h0m18.2 8.2h0m-10.5 1.1h0m-22.3-5.5h0m27.1 13.2h0m-3.5 17.3h0m13.4-5.1h0m-14.3-11h0m-4.4 18.5h0m3.3-8.9h0m-42.4-13h0m14.9 1.6h0m4.1 2.8h0m10.5 8.6h0m3.6 .2h0m11.2 6.1h0m-19.9-29.2h0m-34 6.8h0m64.9-25.8h0m-2.5 33.3h0m16.7-13.9h0m-51.9 10.7h0m-14.5-3.9h0m-8.5-4.2h0m29.1 18h0m45.4-13.3h0m-30.6-16h0m1.4 .9h0m11.1 24.6h0m-41.2-19.8h0m40 3.7h0m-25.7-3.9h0m48.9 9.8h0m-49.6 .1h0m31.5-19.7h0m-41 5.1h0m44.7 31.2h0m-29.5-14.7h0m27.4-17.5h0m-20 29h0m-18.3-21.5h0m21.2-3.5h0m-11.4 11.8h0m24.4 17.4h0m-30.1-.1h0m-29-26.2h0m40.8 23.2h0m-20.9-9h0m40.9-30.9h0m-29.1 42.9h0m30.6-40.4h0m-18.8 2.4h0m5 5.7h0m24.2 6.2h0m-26.7 30.7h0m22.4-30.3h0m-30.5-10.2h0m-14.3 6.8h0m29.7 32.9h0m-43.4-5.4h0m36.6 8.9h0m-8.5-44h0m-34.8 8.3h0m46.4 16h0m-2.1-1.5h0m14.9-26h0m-42.7 23.1h0m-21.1-.5h0m64.5 12.3h0m12.4-8h0m-36 9.8h0m32.3-16.9h0m-41.8 14.6h0m34.1-34.4h0m-21.4 24.1h0m-6.2-12.2h0m-20.1 12.8h0m16.1 5.2h0m40.9-12h0m-9-12.7h0m-34.7-.7h0m9.1 32.1h0m12-8.7h0m-4.9-.9h0m17.5-3.8h0m-6.3-27.8h0m4.8 16.5h0m-68.1 7.5h0m56.9-5.1h0m-31 14h0m23.3 17.6h0m-14.3-11.5h0m-15.5-5.2h0m4.6-11h0m31.9-14h0m-33.1 28.8h0m-9.1-21.1h0m19-3h0m44.5 3.7h0m-42.5 3.4h0m-7.2 5.7h0m34.8 6.2h0m-41.7-11.7h0m46.2 1.5h0m-18-9.4h0m24.4-1.6h0m-34.7-5.4h0m39.2 5.3h0m-37.1 3.1h0m-18.4-.4h0m34.5 23.9h0m-23-11h0m-11.6 8.2h0m29.2-3.6h0m7.5-21.8h0m5.6 .5h0m13.6 1.6h0m-17.2 32.8h0m-46-18.3h0m71.9-2.8h0m-51.1-19.5h0m49.1 24.1h0m-47.5 .2h0m46.9-4.5h0m-72 13.3h0m60.2-5h0m-21.5-11.4h0m-8.5-16h0m-9.8 37.4h0m45.1-13.3h0m-37.3-22.7h0m36.4 3.6h0m-57 9.5h0m18.4-6.5h0m-11.1 18.1h0m27.6 1.4h0m1.9-2.5h0m-17.3-18.2h0m2.8 21.9h0m27.9-1h0m-22.9-2.7h0m-18.2-6.1h0m2.3 14.8h0m-20.1-8.4h0m25.1-2.6h0m42.1 4.8h0m-28.5 4.6h0m-18.1 9.6h0m33.2-26.5h0m-7.2-6.7h0m-.1 23.2h0m8.2-30h0m-60 19.9h0m53.2-17.4h0m14.8 21.7h0m-22.3 1h0m25.3-23.9h0m-17.1 30.5h0m-34-16.1h0m26.1 13.2h0m-18.8-24.7h0m32.8-8.7h0m-30.3 5.8h0m17.6 17.6h0m-8 4.6h0m-38.9-4.1h0m18.4-16.2h0m50 25.3h0m-64 1.7h0m22.6 9.4h0m13.8-20.1h0m29.2-7.5h0m-17.4-.1h0m10.3 11.8h0m-28.6-9.6h0m26.3 13.2h0m-29.4-11h0m16.5-22.6h0m10.8 36.1h0m-46.5-7.7h0m28.6-14.7h0m25.6 1.7h0m-37.2 4.7h0m10.1 14h0m18.9 11.7h0m-4-35.9h0m3 31.8h0m-2.2-38.4h0m-26.7 8h0m-31.7 13.7h0m6 1.5h0m37.9-11.7h0m-2 5.6h0m42.5 2.1h0m-72-2.9h0m24 5h0m36.4 12.3h0m-4.5-3.6h0m1.1 2.5h0m-42-13.2h0m52.2-6h0m.4 4.8h0m-70.2 7.3h0m13.4-1.9h0m42.6-1.7h0m-40.2-11.3h0m2.6 22.9h0m31.3-35.4h0m-.8 21.8h0m-16.5 3h0m3.7-1.8h0m-24-9.8h0m36.7 19.8h0m-22.2-26.2h0m-31 14.6h0m66.7 12.2h0m-8.5 5.6h0m10.4-22.9h0m-27.4-10.8h0m-22.6 1.1h0m40.9 12.9h0m16 .5h0m-65.8 15.9h0m38.3-5.4h0m-1 9.3h0m-8.2-1.6h0m-18.9-26.9h0m49.2 7.3h0m-21.2-7h0m6.2 17.5h0m19.8-8.6h0m-48.2 21.9h0m-7.3-1.8h0m-21.6-21.2h0m54.1 25.2h0m-33.8-10.4h0m46.9-7.8h0m-45.2-8.9h0m21.2 7.5h0m25.6-1.5h0m-36.5 25.1h0m39.2-24.3h0m-55.1 10.3h0m-3.8-20h0m53 21.9h0m-23.7 .6h0m-.5-26.8h0m32.7 2.8h0m-6.2 12h0m-31.2 10.5h0m2.2-1.3h0m-12.3-5.8h0m25.4-20.3h0m-34.3 17.8h0m41.1-7h0m20.8 3.7h0m-19.5-23.9h0m-41.3 33.3h0m20.4-29.9h0m-28.6 22.3h0m35.1 8.3h0m4.7-27.8h0m-41.8 14.1h0m25.4 19.5h0m-16.9-21.2h0m11.1 24.2h0m6-17h0m33.6-11.1h0m-63.1 12.5h0m29-1.9h0m5.1 7.9h0m-1.9-11.8h0m-30.1-3.8h0m10-2.8h0m8.2 3.6h0m-22.8 9.4h0m60.2-6.5h0m19.5-5.8h0m-47.7 25.3h0m-35.6-11.5h0m32.6-21.5h0m32.2 14.7h0m-60 10.5h0m22.7-21.5h0m51.9-3.1h0m-27.7 3.7h0m-.8 .8h0m-34.7-1.9h0m60.3 9.2h0m-12.6 15.7h0m-18.6 15.9h0m16.5-9.7h0m-35.6-5.6h0m.6 11.9h0m15.3-30.1h0m-8.7 19.2h0m-9.2-8h0m-12.4 7.5h0m5.4-16.3h0m38.3-8.6h0m-10.6-2.4h0m4.2 10.1h0m-17.8 2.1h0m5.2 5h0m17.1-1h0m9-23.1h0m-25.7 43.2h0m-20.4-8.6h0m48.7-3.3h0m14.3-13.7h0m-78.4 9.4h0m32.7-12.5h0m45.8-.7h0m-69.2 1h0m33.4 18.8h0m-24.7 3.1h0m44.2 5.1h0m-4.3-42.5h0m-15.1 19.2h0m33-8.6h0m-5-10.8h0m-41 6.5h0m1.3 23.4h0m-2.3-28.1h0m-9.4 3.8h0m-18.9 16.6h0m9.5-5.9h0m28-8.6h0m17 30.4h0m-48.7-8.3h0m49.6-15.3h0m-33.7 11.5h0m30.2-25h0m-21 38.9h0m3-34.1h0m14.1 33.9h0m27.4-26.7h0m-66.9 15.7h0m49.1-3.9h0m-4.8-8.2h0m1 18.6h0m-.7-8.1h0m-9.4-6.7h0m24.4 3.5h0m-21.5-16.9h0m14.9 33.4h0m-40.6-30.6h0m-.9-.8h0m19.4 2.3h0m-5.8 24.7h0m44.6-16.9h0m-25.4-15.9h0m8.6 39.4h0m-18.9-8.8h0m-15.7 3h0m-.7-12.6h0m44.1 8.1h0m7.6-7.4h0m-9.3 7.8h0m-22.6 8.1h0m9.9-33.3h0m-7.8 37.3h0m14.2-44.7h0m.8 37.8h0m-47.6 3.5h0m3.4-2.7h0m32.6-28.4h0m-13.3 27.8h0m15.2-23h0m-10.8-12.7h0m-9.2 5.4h0m21.8-7.8h0m-21.2 2.3h0m-2.5 15.6h0m-3.8 17.4h0m-7-9.3h0m22.2-21.1h0m-4.1 5.3h0m15.7-6.9h0m-12-2.7h0m1.3 36.4h0m31.7-10.5h0m-34.1 10.5h0m16.3-3.9h0m20.2-17.3h0m-66.6 15.3h0m4.3 5.5h0m12.8 10.6h0m11.9-1.8h0m10.5-10.6h0m-3.2 4h0m7.8-41.5h0m-11.1 39.6h0m-23.9-4.7h0m42.4-18.6h0m.7 .8h0m-18.8 6.2h0m-9.7 21.6h0m24.1-6.7h0m8.9-16.7h0m-58.5-5.2h0m12.6 3h0m19 9h0m-1 8.3h0m5.3-19.5h0m7 30.7h0m-44.1-14.6h0m14.6-17.9h0m-24.3 12.2h0m53.5-24.4h0m-32.7 27.7h0m20.1-19.1h0m2.5 1.5h0m-1.9 22.1h0m-19.3-26.3h0m-1.6 23.6h0m59.2-14.1h0m-9.6 8.3h0m-23.6 11.5h0m-6-1.5h0m2-24.6h0m-.6-4.1h0m-5.6 17.5h0m.3-12.5h0m28.2 29.3h0m-43.4-22.9h0m8.1 29.5h0m-.1-39.9h0m29.9 29.8h0m17.7-10.3h0m-56.9-11.1h0m27.2 4.3h0m6.7-17.8h0m-19.9 27.8h0m19.7 10h0m-32 1.8h0m43.2-2.7h0m14-31.3h0m-43 26.1h0m13.3-19.7h0m-44 19.2h0m4.3 6.7h0m2-19.7h0m-9.2 7.3h0m29.5 3.1h0m19.1-10.1h0m-50.6 8.3h0m30.8-6.3h0m-13.8 3.3h0m56.4-12.6h0m-8.6-14.3h0m-58.2 30.7h0m39.1-1.4h0m-29.5-13.7h0m58.1-12.5h0m-54.6 34.1h0m60.9-23.4h0m-24.9-6h0m1.3 39.4h0m5.4-42.1h0m-2.1 3.3h0m-5.7-9.7h0m-42.2 16.1h0m11.2 19.3h0m-4-5.6h0m35.5 1h0m13.7-23.2h0m-33 1.6h0m5.4 25.7h0m-7.1-23.2h0m33.2 18.4h0m2.5-7.6h0m8.5-12.4h0m-47.8 3.7h0m24.1-8h0m4.3 2.2h0m-38.2 24.2h0m40-15.1h0m-4.6 33.1h0m-19.9-33.9h0m2.5 28.7h0m-16-19.4h0m40.4-.6h0m17.6 .5h0m-53.6-19.1h0m28.6 14.7h0m5.1-3.9h0m.2-5.6h0m-38.3 20.5h0m-7.1-9.6h0m48.8-4h0m-65 6.2h0m27.3 19.7h0m-6.5-16.3h0m13.5 12.2h0m23.2 3.1h0m-40.3-26h0m49.6-2.9h0m-48.9 28.1h0m51.7-8.3h0m8 .5h0m-19.5 10.6h0m-44.8-1.7h0m29.8-9.5h0m25.7-12.2h0m-51.9-5.3h0m-18.4 10.8h0m48.4 14.4h0m-13.5-3.2h0m30.4-6.6h0m-27.4-2.6h0m-2-20.6h0m37.6-5.8h0m-49.8 11.6h0m34.6-7.5h0m-8.1 30.5h0m23.5-12.2h0m-55.2-6.5h0m-13.7 4.3h0m77 3h0m-26.3-4.3h0m.6 26.5h0m-25.2-31.3h0m34 14.4h0m-41.8 16.4h0m15.1-11.7h0m-26.9 4.8h0m42.5-7.4h0m-40.9-5h0m64.6 7h0m-62.7-13h0m22.4 9.3h0m21.2-20.3h0m4.1 24.1h0m-39.9-23.2h0m38.2-11.6h0m-38.3 42.5h0m8.4 1.6h0m44.6-6.6h0m-45.1 4h0m-5.6-2.6h0m13-33.8h0m-31.1 20.5h0m30.7-5h0m-5.7-13.1h0m-12.4 5.9h0m57.1 7.3h0m-15.8-13.8h0m-16.6-1.4h0m26.7 1.6h0m-3.3 2.7h0m-3 17h0m-32-13h0m-13.5 22.6h0m24.3-3.2h0m24.5-31.9h0m-1.2 23h0m-37.1 22.9h0m11.2-33.5h0m-5.8 17.2h0m23.4-25.7h0m3.8 23.8h0m4.7 1.1h0m-6.7-5.6h0m-37.2 1.2h0m15.9-1.2h0m31.8 13.5h0m-17-13.4h0m14.5-10.5h0m-33.1 30.8h0m-5.6-36.6h0m-5.4 23.6h0m12.4 14.3h0m-12.9 .1h0m18-12.4h0m-13.5-21.3h0m21.8 18h0m14.1-25.7h0m-1.7 11.7h0m-3.7 9.5h0m-34.7-12.5h0m15.5 30.8h0m12.9-33.8h0m-27.8 33.6h0m32.2-19.2h0m-27.7 14.3h0m8.6-33.6h0m-16.1 28.1h0m6.3 5.5h0m51.4-21.8h0m-41.5 3.4h0m12.8-.3h0m-13.9-4.6h0m16.9 14h0m-10.4 18.8h0m22.8-38.7h0m-16.4 29.7h0m12.7-6h0m-.8-6.6h0m23.8-12.3h0m-50 14h0m11.5-17.2h0m-36-3.9h0m-3.9 4.3h0m20.1-7.3h0m-1.4-2.1h0m-14.7-4.1h0m-8.4 1.3h0m1.7 5.8h0m-6.1 1.7h0m7.5 8.3h0m-6.3-14.2h0m2-.2h0m21.2-3.7h0m-27.3 1.1h0m6 12.1h0m4.5 1.9h0m2.9-2.9h0m-7.4-9.5h0m-12 6.1h0m13.7-7.9h0m7.1 4.1h0m15.5 .7h0m-2.1-7.7h0m.9 9.1h0m-2.2-1.2h0m-22.5 5.3h0m0-5.1h0m4.1 10h0m1.9-4.4h0m-12.3 10.3h0m24-11.2h0m-17.4-7.8h0m23 6.2h0m1.2-1.3h0m-19.3 2.7h0m15.5-4.8h0m-4.1 2.3h0m8.8-4h0m3-1.4h0m-30.7 0h0m25.4 4.9h0m-30.3-4.3h0m6.1 12.2h0m4-2h0m-11.4-4.4h0m9.9-7.4h0m-5 17.3h0m29-14h0m-.1-2.1h0m-27.9 23.8h0m-3-10.1h0m7.5-5.5h0m21.9-9.3h0m6.2 4.3h0m-2.3-4.8h0m-2.8 5.1h0m-30.4 2.3h0m12.2-3.2h0m-7.6 8.2h0m2.9-9.3h0m23.7-1.3h0m-26.3-2.2h0m23.5 0h0m-26.5 23.2h0m4.9-18.7h0m29.1 1.3h0m-18.3 9.1h0m-13.1 .1h0m-2.6-10.6h0m10.5 11.7h0m18.1-9.6h0m-23.2-4.7h0m9.2 11.1h0m16.8-6.4h0m-28.4 3.8h0m-1.9-.7h0m.2 5.3h0m15.4-3.7h0m-11.4-9.2h0m-2.3 3.9h0m-10.4 6.7h0m13.9 1h0m-8.2-7.2h0m0 8.8h0m35.3-11h0m-8.1-5.7h0m-19.7 4.9h0m-11.8-2.7h0m32.2 4.3h0m-20 8.2h0m17.6-7.5h0m-21.2-7h0m-8 2.9h0m25.7 9.4h0m-21.5 .7h0m27.7-9.9h0m-25.9 13.6h0m2.7 2.6h0m7.2-4.5h0m-12.4-3.5h0m16.6 1.4h0m-7.6 .5h0m-4.5-6.2h0m12.3 4.2h0m-2.2 4.4h0m-9.2-10.2h0m24.4-2.8h0m1.9 5.8h0m-2.8-7.6h0m-27.9 7.7h0m25.7-1.2h0m-30.1 9.7h0m31.8-12.9h0m-24 1h0m12.7 6.6h0m-1.4 5.1h0m-11.9-12h0m2.9 12.8h0m-2.2 5.8h0m17.7-10.9h0m-21.6 11.6h0m4.9-15.1h0m13.1 4.8h0m-16.8-3.7h0m3.9 5.5h0m-2.8 .9h0m6.3-9.8h0m-5.3-5.2h0m-3.8 6.3h0m16.2 .9h0m10.5-1.8h0m-12.4-4.4h0m19.5 2.9h0m-25.1 3.9h0m-5.8-2.1h0m26.8-.1h0m-30.1 4.5h0m11.4-5.2h0m-6.6 16.6h0m-4.7-.1h0m18.1-7.8h0m-19.4 1.2h0m11.2-8.1h0m23.5-.6h0m-24.9 2.7h0m26.1-7.3h0m-6 4.8h0m1-9.6h0m2.5 8.2h0m-27.3 17.8h0m-2.6-7.6h0m3.5-7.5h0m-3.4 8.1h0m-1.1-17.1h0m.2 20.7h0m27.7-19.7h0m-17.5 11.9h0m-1.4-7.5h0m19.5-4.7h0m-26 19.4h0m15.4-6.7h0m-11.4-.7h0m1.3 2.3h0m3.4-13.4h0m-13.7 17.1h0m18.9-7.9h0m-5.7-1.4h0m-6.2 10.8h0m25.8-17.3h0m-30.8 3.7h0m27.2 2.9h0m-23-3.1h0m-5.1-3.1h0m13.3 15.3h0m16-10.6h0m-34 5.6h0m4 4.3h0m7.2-2.2h0m-7.6-5.3h0m10.1 4.6h0m-8.7 6.1h0m6.7-17.8h0m23.3-3.2h0m-27.4 23.2h0m1.4-15.3h0m2.9 5.8h0m16.1-6.8h0m-21.3 12.5h0m-2.3-13.6h0m9.4 7.2h0m19.1-9.2h0m.2 .4h0m-22.4-.2h0m22.7 1.1h0m-27.7 15h0m12.6-19.2h0m-12 3.1h0m23 5h0m-16.8 12.2h0m-6.7-12.3h0m8.9-5.1h0m15.9 7.4h0m-7.7-4.7h0m-6.6-.9h0m-4.7 .5h0m-1.7 13.9h0m3.1-6.6h0m-4.6-10.3h0m1 9h0m4.1-6.5h0m-9.1-6h0m15.2 5.7h0m-6.9-4.7h0m.3 10.1h0m-3.5 11.4h0m-5.6-9.6h0m15-8.8h0m-8.2-2.7h0m12.6 2.5h0m.2 4h0m15.3-1h0m-17 7.9h0m-7.8-9.3h0m-4.9-5.6h0m2.8 18.6h0m7.2-3h0m4.6-9.4h0m-20.2 4.6h0m28.9-10.6h0m-18.4 19.9h0m1-2.2h0m-7.4 8.2h0m.8-5.5h0m10.3-19.1h0m-.5 17.6h0m-2.8-17.9h0m-13.7 6.7h0m6.9-4.5h0m12.9 13.6h0m-10.2-11.4h0m10.6-3.7h0m-8.7 14.6h0m14.4-6.4h0m4.6-11h0m-23.1 25.6h0m-2-4.6h0m5.1 0h0m5.3-10.1h0m-17.5-.6h0m23.3-4h0m3 6.8h0m-11.4-7.2h0m22.6 .8h0m-35.7 1.1h0m-1.1 4.7h0m28.2-1.3h0m-12.3-3.5h0m3.1-1.4h0m11.8-9.9h0m-13.9 18.9h0m-13.5-9.7h0m3.6-3.4h0m2 12.7h0m1.5 3.2h0m1.3-17.1h0m-2.5 25.4h0m-9-11.5h0m6.7 3.9h0m28.6-15.2h0m-4.2 1.5h0m-21.3-1h0m-1.3 4.5h0m22.2-7.1h0m-21.5 4.6h0m9.2 2.8h0m7.4 1.9h0m-12.2-4.5h0m5.4-1.8h0m-2.9 4.1h0m4.6-3.2h0m-14.7 16.1h0m2-.5h0m-.8 2.1h0m9.8-15.6h0m13.3-1.7h0m-2.8-3.6h0m-10.9 7h0m-2.2 8h0m-7.7-11.8h0m.2 7.2h0m.4-6.3h0m.5-5.2h0m10.7 7.6h0m-13.7-1.4h0m-2.3-2.3h0m7.2 2.6h0m.3-2.1h0m6.5-2.8h0m-10.1 .6h0m.9 14.3h0m5.1-16h0m13.3-.1h0m-15.6 15.5h0m1-2.9h0m.7-2.9h0m18.1-14.2h0m-3.6 15.8h0m-10.6-6.5h0m-.2 11.3h0m3.9-14.3h0m-2.8 15.6h0m-12.7-7.5h0m15.7 4.1h0m7.3-1.5h0m-5.2-10.3h0m-13 22.8h0m-6-19.4h0m4.2 4.5h0m-6.3-4.5h0m32.4-5.7h0m1.8 8.7h0m43.5-32.3h0m-5.7 12.9h0m13.7-3.3h0m-28.8-16.5h0m33.3 23.9h0m-.7 10.6h0m-9.6-14.6h0m19.7 4.2h0m-9.1 11h0m-22.8-4.9h0m-4.1-31.2h0m-14.1-5.2h0m-2.5 5.4h0m54.2 37.4h0m-41.2-39.2h0m2.1 8.2h0m10.2 4.6h0m19.9 14.5h0m-11.8-3.1h0m20.6 12.5h0m-51.1-32.9h0m18.5 19.4h0m-2.1-11.1h0m9.6-.9h0m4 20.6h0m-19.1-28.4h0m3.9 3.1h0m-6 5.9h0m13.3 1.9h0m36.2 14.7h0m-26.7-20.4h0m18.9 19.8h0m-10 9h0m-1.1-7h0m-31.3-20.6h0m8.2 21.9h0m16.9-8.6h0m-14.6-4h0m-13-24.6h0m44.9 29h0m-3.6 7.7h0m-21.8-18.2h0m-31.3-1.6h0m56.6 21.9h0m-8.2 4.4h0m-23.7-25.4h0m-15.6-18.3h0m33.5 39.6h0m14 4.1h0m-12.3-17.5h0m14.5 9.6h0m-18.5-9.7h0m-22.5-5.6h0m-9.2-9.4h0m18.9-1.9h0m-9.3 18.9h0m31.8 16.1h0m-31.4-31.6h0m36.9 24.5h0m.8 1h0m-1.2 3.3h0m-34.2-23.3h0m22.7 5.3h0m-12.7-6h0m-12.4-13.3h0m24.1 9.9h0m-36.1-8.3h0m48.6 22.4h0m-31.3-6.6h0m-2.3-18.3h0m35.4 36.6h0m-53.5-33.9h0m22.6 13.5h0m-1.9-6.2h0m22.6 21.2h0m-24-28.2h0m40.2 29.1h0m-41-5.2h0m20.7-2.5h0m22.2 7.6h0m-46.7-29.7h0m9.5 8h0m-20.3-13.9h0m13 25.7h0m-.5-21.4h0m32.4 26.4h0m-31.9-27.1h0m-16.9 7.7h0m13 15h0m40.1 16.6h0m-20.1-32.9h0m9.7 13.4h0m-10.4-12.3h0m11.3 9.9h0m-38.4-18.5h0m54.5 30.8h0m-18.1-9.8h0m-42-16.5h0m4.9-1h0m8.8-4.1h0m38.6 32.5h0m-10.2-7.6h0m-1 11.5h0m-18.2-36.3h0m19.8 40.1h0m8 4.4h0m-7.6-19.5h0m-30.3-11.3h0m35.3 27.9h0m-26.3-41.9h0m-17.5 .2h0m22 9.2h0m-26.8-2.4h0m-1.4 .1h0m34.1 11.2h0m3.4 7h0m-24.2-9.7h0m-12-6.9h0m19.3 7.6h0m.9 3.7h0m-14.1-19.4h0m31.5 9.3h0m3.5 32.1h0m-27.2-15.2h0m13.1-9.7h0m-18.4-3.7h0m4.3-7.4h0m42.4 39.5h0m-59.7-36.1h0m22.2 8.6h0m5.2 15h0m-5.3-30.7h0m8.9 6.5h0m17.3 20.7h0m9.5 4.6h0m-13.4 2.6h0m-25.2-33h0m-12.4 2.9h0m18 16.2h0m35.3 18.1h0m-4.1-10.6h0m3.5 12h0m-25.9-24.3h0m23.9 3.7h0m-57.1-15.5h0m47 16.8h0m-6 4.5h0m24.7 7.2h0m-47.2-15.3h0m2-9h0m1.9-5.2h0m-23.1-.3h0m67.2 29.2h0m-20.2-8.4h0m-.1 15.3h0m-39.2-22.7h0m26.4 19.2h0m-14.9-15h0m39.5 20.4h0m-27.3-25.7h0m-1.3 4.5h0m18.4 7.8h0m8.2 7.5h0m-41.8-36.9h0m22.8 10.6h0m15.5 29.6h0m-34.4-33.6h0m46.8 37.6h0m-37.7-37.3h0m15.9 9.3h0m11.8 10.9h0m-28.4 2.2h0m24.7 18.1h0m1.6-16.2h0m-29-33h0m-4.9 2.8h0m7.2 5.4h0m-4.5-6.2h0m-15.5-.7h0m23.1 19.3h0m0 8.5h0m24.9 14.4h0m-45.5-25h0m7.4 12.8h0m24.6 5.7h0m14.7-5.5h0m4.9 13.1h0m-41-41.6h0m2.2 28.4h0m29.2 5.1h0m-25.3-21.5h0m-7.6-12.3h0m-9.8-.9h0m38.5 33.8h0m-25.4-29h0m34.3 33.4h0m-15.3-10.7h0m12.6 18.2h0m-32-28.2h0m35.6 16.3h0m-15.8-12.4h0m-30.1-6.9h0m-9.5-.5h0m30.1-1.6h0m-24.9-7.2h0m54.4 37.5h0m-12.3 2.4h0m-26.7-32.8h0m4.6 7.9h0m20.4 4.1h0m-3.5 1.5h0m-4.5-16h0m-17.4-12.7h0m32.5 49.7h0m-35-42.2h0m15.1 13.8h0m31.1 15.2h0m-17.3 .4h0m17-3.9h0m-42.6-17.4h0m.6-13h0m7.2 19.1h0m-2.3-2.2h0m-2.5-.5h0m25.2 17h0m-1.6 .3h0m17.6-2.2h0m-3.8 1.2h0m-26.7-9.9h0m-20.5-4.9h0m7.6-3.1h0m-1.7 15.6h0m2.1 1.3h0m5.2-3.1h0m-8.8 4.7h0m13.5-7h0m-2.5 1.2h0m-4.5-23h0m-6.8 22.3h0m-18.5-18.2h0m22.5 27.7h0m-4.2-30.7h0m11.6 12.9h0m-29.1-12.9h0m2.8 .9h0m42.7 28.7h0m-35.6-17.8h0m13.7 8h0m21.3 9.2h0m-3.5-2.6h0m13.1 8.5h0m3.5-3.5h0m-53.3-36.4h0m6.2 1.7h0m44.5 30.9h0m-10.6-12.6h0m-44-16.4h0m39.8 22.4h0m-3.3-19.5h0m25.9 38.5h0m-40.7-39.3h0m34 31.7h0m-42.5-14.8h0m-3.5-16.6h0m14.8 9.7h0m-23.1-11.5h0m46.9 32.3h0m-26.3-35.3h0m21.2 33.3h0m12.1 5.1h0m-11.6-7.4h0m4.6-1.3h0m-19.4-11.7h0m-1.7-5.7h0m22.6 7h0m-35.2-.9h0m33.8 21.6h0m-43.5-40.5h0m51 31.5h0m-36.5-1.6h0m25.4-4.5h0m-8.8-.8h0m-14.6-27.1h0m-6.6 33.4h0m40.7 10.2h0m-27.6-39.2h0m28.9 34.7h0m-38.9-29.1h0m-19.4-3.3h0m33.7 3.3h0m8.2 29h0m9.2-5.5h0m-40.5-15.3h0m45.6 26.9h0m4.4-6.4h0m-38.3-15.3h0m-12.9-9.3h0m11.5 10.2h0m10.5-16.1h0m-32.6 5.4h0m22.2 11.1h0m18 3h0m-21.3-8.8h0m13.1 .7h0m-3.9 2.2h0m-24.4-15.4h0m14.6 12.5h0m45.3 29.7h0m-33.8-24h0m12.2-13.2h0m-35.1-10.8h0m6.7 17.7h0m11.4-9.8h0m10.2 11.8h0m5.5 14.3h0m-27.7-30.5h0m29.2 10.1h0m-5.1 4.4h0m-1.2-7.1h0m-4.4 13.7h0m-24.5-20.8h0m30.2 16.2h0m12 22.7h0m-29.5-22.4h0m27.6 9.8h0m-6.6-16.6h0m9 15.6h0m6.8 8.9h0m-38.8-23h0m13.9 5.6h0m-10.9-16.9h0m37.3 41.3h0m-14.9-21.9h0m16.5 8.9h0m-18.2 4h0m1.8-16.6h0m-26.7-18.8h0m47.8 35.2h0m-49-20.6h0m12.3-8.2h0m33.7 41.2h0m-44.1-23.5h0m21.9-9.8h0m-28.3-13.5h0m37.2 31.4h0m-18.8-.5h0m17.3-10.9h0m-42.7-5.4h0m25.7-12.5h0m5.5 12.5h0m12.6 7.8h0m2.5 3.6h0m-45.3-14.8h0m50.8 8.8h0m-12.5 15.4h0m-16-12.2h0m2.2-9.1h0m-8 15.9h0m-2.5-10.5h0m8.3-6h0m25.6 21h0m-17-25.5h0m-31.5 5.5h0m15.8-13.7h0m-9.1-3.2h0m13.9 26.9h0m2.3-25.7h0m27.1 35.9h0m-13.7-8.1h0m20.4 15.9h0m-9.9 3.9h0m-3.8-26.6h0m-32.4 2h0m-11.5-24h0m38.4 14.6h0m-26.6-13.2h0m18.7 6.7h0m23.2 30.9h0m-46-37.9h0m.2 3.5h0m17.6 20.9h0m-1.4 3.8h0m12.3-8.2h0m11.6 1.8h0m-24.3-6.9h0m-19.7-8.6h0m12.5-.8h0m3.6 29.8h0m-18.6-27.2h0m50.4 26h0m-43.9-34.7h0m22.1 5.2h0m11.5 34.1h0m-41.4-21.8h0m9.8-16h0m36.3 43.4h0m-20.9-35.7h0m-23-3.7h0m7.2 5.1h0m38.1 32.4h0m-5.1-18.8h0m-41.2-13h0m63.4 26.8h0m-12.7-5.1h0m-33.9-12.6h0m18.3-4.3h0m7.1 13.5h0m-44.2-22.9h0m15.1 5.3h0m-7.1-11.1h0m15.6 34.4h0m-9.6-11.5h0m26.4 .3h0m20.5 19h0m-11.2-21h0m-39.3 .6h0m-.6-24.7h0m4.9 28.2h0m9-16.5h0m16.6 8.9h0m-23.2-11.2h0m6.6-4.4h0m3.7 13.4h0m-18.8-.2h0m44.9 22.2h0m-3.9-14.5h0m-22.2 2.2h0m-2 1.6h0m35.1 12.8h0m-57-32.6h0m43.8 14.9h0m-40.7-2.3h0m44.4 1.2h0m-24.6-5.4h0m-5.4-10.1h0m-12.8 3.6h0m18.2 9.5h0m19.1 16.7h0m-20.1-25.9h0m-5-2.8h0m3.9 26.1h0m28 10.8h0m-34.5-21.7h0m7.4-2.2h0m16.6 14.6h0m4.2 1.8h0m16.5-5.4h0m-24.4 6.8h0m10.1-4.3h0m10.1 15.3h0m-11.1-21.1h0m-18 6.9h0m-6.1-6.4h0m40.6 15.4h0m-13.3-22.6h0m-23.7-16.5h0m-4.5 10.7h0m18.4 8.7h0m-4.4 11.9h0m20.2 5.5h0m-25.9-28.4h0m-15.3-2.4h0m15.6 9.9h0m5.7-8.7h0m-26.4-9.8h0m34.4 27.2h0m-38.5-26.7h0m17.8 23h0m25.8 11.7h0m-17.7-25.3h0m-12.9 18.6h0m6.7-14.4h0m-14.8 6.3h0m20.4-5.5h0m-10.4 10.7h0m-25.9-14.9h0m57.1 28.9h0m-35.1-36h0m24.7 33.3h0m-22.4-14.3h0m5.3-23.8h0m37.3 33h0m-32.5-11.4h0m-5.9 11.9h0m20.7-5.3h0m18.6 17.7h0m-54.2-29.4h0m42.8 4.2h0m-4.3 19.1h0m-27.6-36.1h0m-19.4 6.3h0m28 4.6h0m-2.1 8.6h0m-5.5-10.9h0m42.4 26h0m-57.1-39.2h0m-.4 20.6h0m28 17.6h0m-14.5-15.8h0m-16.5-11.8h0m8-9.8h0m10.3 3.4h0m44.6 31h0m-12-1.6h0m-29.6-8.1h0m13.5 15.2h0m-35.6-27.6h0m27.1 5.9h0m35.6 21.6h0m-12.7-.7h0m-40.5-35.4h0m27.7 18.1h0m18.5 22.3h0m3.2-10.3h0m-39.4-9.8h0m11.3-8.4h0m16.1 25.9h0m-46.2-35.6h0m20 18.9h0m10.8-4.2h0m20.6 21.5h0m-39.4-39.7h0m-18.1 7.1h0m48.2 18h0m-22.1-22.3h0m30.1 34.4h0m-7-16.5h0m-25.1-14.3h0m-1.3 4.6h0m16.5 11.1h0m-19.1-6.2h0m7.9-18.1h0m-15.8 15.6h0m-4.5-7.8h0m52.4 37h0m-15.4-8.7h0m2.2-9.3h0m-26.9 1h0m29.5 3.6h0m-20.3-14.7h0m-22.1-6.9h0m38.3 11h0m7.2 24.9h0m-9.9-30.1h0m-1.6-3.2h0m27.8 22.7h0m-23.4-20h0m-20.8 6.4h0m6.5-8.4h0m3.3 1.4h0m-9.4 .7h0m27.3 6.6h0m-7.1-1.5h0m-24.6-19.3h0m-13 5.1h0m43.6 22.1h0m-31.3-21.5h0m24.6 25.5h0m-8.3-22.4h0m20.1 30.6h0m-25.2-37.2h0m11.4 11.6h0m9 19h0m-17.1-28.6h0m25.3 35.1h0m-12.1-16.9h0m3.3 21.4h0m-2-18.4h0m-25.4-3.9h0m-5.5-23.6h0m-10 9.8h0m48.1 31.8h0m-1.3-7.8h0m-15.3-17.6h0m9.5 7.6h0m-2.9-.5h0m-12.8-17.6h0m-9.2 8.9h0m13.9-.2h0m-16.3-9.6h0m8.6 13h0m29 20.5h0m-54.8-25h0m50.3 19.9h0m-25.6-29.2h0m22.1 34h0m-6.5-7.6h0m-20.2-25h0m29.9 25.6h0m-19.8-21.5h0m22 40.6h0m-15.6-39.4h0m-27 11.4h0m36 14.5h0m-28.9-4h0m6.9-16.4h0m30.4 25.4h0m-.6 7.5h0m-3.5-6.9h0m-28.9-41.2h0m4.5 18.9h0m34.7 27.9h0m-27.7-11.4h0m-9.6-8.2h0m-6.6-25.6h0m-2.2 12.6h0m20.8 .1h0m-33.3-16.6h0m25.3 23.8h0m-13.8 4.3h0m-8.5-25.8h0m23.7 13h0m-33.9-3.7h0m60.8 30.3h0m-13.2-11.4h0m-33.4-15h0m16.2-6.2h0m30.4 25.9h0m9.8 6.6h0m-42-19.7h0m5.5 5.5h0m-21.2-15.8h0m.8 3.2h0m5.5 8h0m-11.7-15.7h0m60.4 32.8h0m-15.6 1.4h0m-9.4-19.2h0m-36.2-15.1h0m17.3 28.7h0m18.2-14.2h0m26.6 17.5h0m-41.6-3.6h0m-4-4.3h0m-19-17.8h0m-3.5 1.4h0m3.6-3.5h0m20 23.8h0m10.4 4.6h0m21.2-6.6h0m-.7 5.7h0m-10.9-21.7h0m6.7 20.4h0m-26.2-37h0m32.4 35.4h0m-38.9-26.8h0m6.8 11.8h0m29.3 20.3h0m-2.3-12.7h0m17 14.9h0m-41.4-31.4h0m22.8 10.6h0m-6.3-7h0m-3.7 16.4h0m-34-24.7h0m7.6 14.2h0m36 1.4h0m-42.5-11.7h0m19.9-1.7h0m23.2 22.6h0m-11.2-4.2h0m1.3 7.8h0m-19.1-17.4h0m-16-10.1h0m14.7-2.6h0m-20.5 8.5h0m16 10.4h0m46.8 11.4h0m-21.2-.5h0m-42.3-25.6h0m35.4 14.7h0m-15-10.6h0m25.1 16.5h0m-11.8-15h0m30.6 12.2h0m-59.4-9.4h0m1.9-9.4h0m11.4-2.7h0m23.7 12.2h0m2.6-.5h0m-30.7-11.2h0m51.5 28.2h0m-36.8-32h0m29.1 20.9h0m-49.5-10.1h0m32.3 24.2h0m10.5 7h0m-31.8-32.4h0m34.2 15h0m-2.1 19.5h0m2.7-26.3h0m-46.3-3.1h0m22.6-7.3h0m17.3 33.7h0m-15.1-13.9h0m14.3 1.6h0m-2.3 3.2h0m24.1 13h0m-61.7-34h0m5.6-3.2h0m36.8 31.7h0m-35.4-30h0m15.6-1.8h0m13.9 7.1h0m-14.6-.2h0m26.3 26.5h0m-21.9-17h0m.4-18.2h0m-2.8 1.6h0m40.8 30.5h0m-39.4-33.9h0m29.1 19.6h0m-41.3-1.5h0m8.5 8.8h0m-20.9-18h0m34.8 .1h0m-17.3 1.7h0m-13.2-7.1h0m7.3 1.4h0m4-5.3h0m43.1 40.9h0m-21.8-12.4h0m-35.4-21.5h0m17.2 10.1h0m4.4 2h0m5.2 2.6h0m-13.4 .7h0m19.8-16.3h0m-36.3 5.2h0m5.4-.3h0m21.1 22.5h0m-21.5-38.9h0m28.1 16.8h0m27.4 17h0m-29.2-2.1h0m-32.7-21.1h0m7.7-10.4h0m18.5 24.2h0m22.2 10.3h0m-2.3-12.8h0m-21.3 12.2h0m-8-14.9h0m-14.4-4.2h0m44.5 3.7h0m-2 2.3h0m10.6 27.9h0m-11.4-14.1h0m-29.7-25.2h0m44.9 38h0m-30.7-32.8h0m3.6 7.5h0m.9-1.3h0m-16.9-22h0m25.3 20.5h0m-19 10.6h0m14.1-20.6h0m-8.7 6.3h0m13 25.3h0m3.5-26.2h0m-.9-1.6h0m-9.1 3.5h0m-13.7-11.3h0m39 28h0m1.4 3.1h0m-28-17.6h0m11.6 16.7h0m-34.3-39.4h0m53 40.3h0m-25.9-20.6h0m-13.6-11.2h0m-20.4 11h0m39.4 12h0m1.2 5.2h0m3-10.9h0m-24.5-15.7h0m-14.2-6.6h0m51.1 39.4h0m-17.8-20.4h0m17.1 23h0m-33.4-23.2h0m-7.3-16.9h0m6-.4h0m15.7 39.3h0m-5.5-19.8h0m-27.8-7h0m15.5-9.8h0m11.3 34h0m14.5 6.8h0m7.3-13.9h0m-47.3-15.3h0m20.7-.2h0m-2.5 1h0m14.6 10.3h0m-41.3-18.6h0m19.7-2.1h0m28.5 20.9h0m-25.7-7.2h0m17-4.5h0m-16.8-9.8h0m-21.4-7.3h0m18.1 .5h0m-9.5 10.5h0m40.2 16.6h0m-34.7 .6h0m6.6 11.2h0m8.3-23.8h0m25.5 19.2h0m-53.8-18.4h0m36-6.3h0m27.1 25.1h0m-52.6-27.9h0m7.4 22.8h0m28.2 1.3h0m-27-29.3h0m-4.4 26.5h0m48.4 17h0m-30.2-6.8h0m-16.7-14.7h0m33.7 11.3h0m13.3 .1h0m-.9 5.8h0m-12.8 .2h0m-47.9-23.3h0m11.5-6.6h0m4.6 23.3h0m15.3-18.8h0m-7 4.8h0m26.3 22.7h0m-14.3-14.9h0m-18.7 2.2h0m-21.6-14.5h0m15.5-6.9h0m-10.5 4.7h0m11.2-7.2h0m36.2 27.6h0m6.1 14.6h0m-30.4-32.8h0m30.4 26.9h0m-11.8-21.3h0m-37.3-1.9h0m42.7 21.6h0m-21.6-31.1h0m29.2 25.5h0m-31.9-29.2h0m-31.6 2.1h0m51.4 9.6h0m-30.1-17.6h0m15.4 11.4h0m3.8 4.6h0m-30.5-3.2h0m33.4 19.1h0m-32.8-17.6h0m16.1 20.6h0m-10.7-25.6h0m-3.6 5h0m30.8 19.9h0m-28.7-21.3h0m16.1-2.3h0m16.9 33.8h0m-19.3-13.4h0m-15.6-11.9h0m18-1.3h0m-10.8 2.3h0m22.4 18.1h0m28.8 3.5h0m-23.1-11.8h0m-8.1-20.4h0m-18.2 2h0m26.1 5h0m-.5-3.8h0m-25.3 16.1h0m9 3.5h0m.4 5.7h0m2.7-16.9h0m-18.7-19h0m6.4 23.6h0m-10-11.4h0m38.6 24.3h0m-17.4-2.8h0m-.3-24.9h0m31.5 36.3h0m-29.9-25.1h0m31.3 26.5h0m-.9 .4h0m-3.5-11h0m-11.7-1.1h0m10.9 6.4h0m-5.9-4.3h0m-25.3-25.4h0m-9.9-13.9h0m34.8 34.8h0m-32.6-18.1h0m26.5 10.5h0m21.6 14h0m-29.9 .4h0m20.7 3h0m-9.7-26.9h0m3.3 29.6h0m-50.2-43h0m44.4 35.2h0m-20-8h0m7.8-18.9h0m-2.6 24.7h0m2.6-12h0m2.3 13.8h0m23.6 11.4h0m-19.6-38.7h0m16.2 30.4h0m-10.6-25.4h0m-38-16.4h0m24.2 35.2h0m-10.2-35.4h0m20.2 42.9h0m-1-19.1h0m.6 10.8h0m-1.1-13.7h0m1.6 6.5h0m2.4 14.8h0m4.7-1.9h0m-39.6-38.6h0m31.5 11.5h0m-10.9 12.1h0m4.1 14.2h0m-21.3-40.3h0m.7 4.2h0m30.8 25.8h0m3.2 13.3h0m-24.9-33.3h0m-15.2-9.8h0m26.8 34h0m-16.5-4.1h0m47 18.9h0m-42.1-45.8h0m-17.9 5h0m34.9 8.2h0m3.9 .2h0m9 24.3h0m-24.7-24h0m-17.5-7.3h0m49.8 42.9h0m-25.7-28.3h0m-30.9-21.1h0m33.7 24h0m-.9 .6h0m-34-8.7h0m12.4-2.7h0m-15.1-5.7h0m44.3 25.6h0m-10.9-15.5h0m27.3 7.9h0m-41.6-20.8h0m51.5 34.1h0m-52.3-31.1h0m20.5 14.1h0m-19.3 1h0m1.6-9.7h0m40.2 18.4h0m-38.5-21.6h0m-6.9-1.8h0m-14.5-1.5h0m53.8 34.4h0m9-7.3h0m-59.7-26.6h0m12.7-.1h0m50.6 23.9h0m-39.6-11.7h0m18.1 15.2h0m-3.5-21.7h0m7.6 1.3h0m-46.2-16.3h0m48.4 27.3h0m5.7 23.5h0m3-4h0m-37.1-45h0m3.9 8.1h0m31.4 24.7h0m-46.4-24.2h0m44 33h0m-11.6-24.9h0m-25.7-20h0m-13.5 17.1h0m33.3 15.4h0m-7.1-1.8h0m-7-17.8h0m16.9 32.3h0m-20-28.1h0m13 13.8h0m-4.4 9.2h0m-3.6-1.4h0m-21.2-19.5h0m29.6 10.6h0m-7.1 .8h0m21.6-8.7h0m11.7 6.3h0m3.4 16.3h0m-40-39.5h0m-23.2 1.3h0m49.6 32h0m4.7-13.4h0m-16.6 .4h0m8.4-8.9h0m-29.5-4.1h0m-2.7 2.4h0m43.6 35.3h0m-2.3-23.9h0m1 18h0m-22.8-22.6h0m15.8 7.1h0m-18-2.5h0m-10.6 6.9h0m20.2-.9h0m-41.8-21.6h0m49 7.1h0m-41.3 3.1h0m-3.5-20.2h0m13.6-.9h0m-11.1 23.8h0m46.5 19.9h0m-46.8-39.3h0m39.1 23.9h0m-19.5-.1h0m4.4-11h0m32.3 34.1h0m-24.4-16.5h0m-13.2-28.5h0m-15.8 .9h0m42.3 43.1h0m-30.5-33.9h0m9 14.4h0m-27 74.7h0m-16.9-4.4h0m15.9 6.4h0m-31.4-16.4h0m32.5 18.3h0m-15.4-8.6h0m11.7 2.2h0m-5.1 4.1h0m3.2-12.6h0m6.4 13.6h0m-22-6.5h0m12.1 1.6h0m-2.8-4.2h0m9.2-4.6h0m-13.6 4.8h0m-7.3 3.1h0m12.4 3.2h0m-6.9-1h0m-5.8-2.9h0m3.1 2.9h0m17.7 5.2h0m2.9-4.5h0m-7.1-2.6h0m-11.3-6.9h0m-3.7 7h0m18.7 1h0m5 6.5h0m3.7-4.2h0m-5.9 3.8h0m-5.6 3.2h0m-7.8-21.9h0m13.3 9.6h0m-27.9-10.1h0m26.7 17.5h0m-16.6-12.6h0m23.9 5.1h0m-20.1 4.8h0m-5.1-3h0m23.4 8.1h0m-5.4-10.4h0m-4.5 2.8h0m-26.3-17.3h0m26.9 25.8h0m-12.7-15.4h0m-12.7-7.6h0m33.3 8.1h0m-34.2-9.6h0m4.6 .9h0m32.2 10.7h0m-20.1-2.6h0m14.3 15.6h0m3.2-12h0m-15.7-2.7h0m6.5 10.5h0m-9.2-8.9h0m4-.6h0m-12.4-6.2h0m3.8 10.4h0m17.9 .5h0m-2.8 2.1h0m8.9-7.7h0m-7.3 16.6h0m-22.2-24h0m15.9 8.4h0m-10 4.6h0m5.5 1.8h0m14-4.5h0m-20.1 .8h0m7.6 6.8h0m1.2-13.6h0m5.3 8.1h0m-2.7 .8h0m-14.9 .6h0m15.9 3h0m-12.4-5.7h0m13.6 2.7h0m7.1 9h0m-16.4-7.7h0m6.8-6.3h0m-4.1-3h0m-3.6 5.7h0m9.8 7.5h0m-21.3-21.4h0m15.4 11.2h0m-3.2-.1h0m13 15.1h0m-13.4-9.8h0m22.1-4.2h0m-34.9-13.5h0m18.5 25.2h0m-9.3-9.7h0m20.1 1h0m-23.8-1.8h0m-4.5-11.3h0m7.4 13.2h0m22.1 5.9h0m-.6-8.4h0m.6 3.2h0m-11.3 7.5h0m-9.4-16.3h0m21.2 9.3h0m-21.9 1.5h0m24.1 2.6h0m-.1-10.4h0m-4.2 9.8h0m-9.4-1.4h0m3 4h0m-23.2-24.5h0m25.7 21.9h0m10.6-7h0m-12.2 5.6h0m-8.5-9.8h0m2.8-3.2h0m16 5.8h0m-11.4 12.7h0m-13.5-10h0m10.8-3h0m-2.5 4.3h0m1.3-4h0m-7.4-2.7h0m24.8 5.2h0m-15.6 5.6h0m-3.2-10.7h0m-15.9-8.1h0m23.2 12.1h0m-1.7-1.2h0m9.3 12.5h0m-18.2-3.6h0m17.5-10.5h0m-17.6 4.1h0m4.5-8.8h0m.9 18.9h0m-16.8-22.3h0m6.6 13.2h0m24.6 6.3h0m-3.1-2.6h0m-1.8-8.9h0m-23.7 2.4h0m17.8 7.3h0m5.6-3.4h0m-14.8-4.8h0m8.6-5.3h0m11.5 11.3h0m-19.6-9.4h0m-3.2 8.4h0m2-4h0m20.3 5.4h0m-20-2.9h0m-3.8 2.3h0m25.3 2.4h0m-23.1-11.2h0m9 5.7h0m11.8 10.9h0m-22.5-14.9h0m11.1 13h0m-10.4-7.5h0m9.7 8.8h0m-9.9-14.8h0m3.8-.8h0m13.9 2.7h0m-14.7 9.5h0m2.3-5.9h0m14.4 7.8h0m-3.3-4.9h0m-8.2-12.4h0m-4.2-.8h0m8.7 13.2h0m-6.5-11h0m3.7 15.5h0m1.3-13h0m-8.3 4h0m-1.2-6.2h0m9.1 .5h0m-4 2.9h0m5.4 6.9h0m-4.3 3.1h0m3-14.7h0m-13.4 10.8h0m24.4-1.8h0m-21.5-10.7h0m20.6 18.9h0m-14.3-11.1h0m9.7 7.4h0m-6-79.3h0m11.1 9h0m-10.2-6.9h0m10.3-3.3h0m-12 9h0m13.2 4h0m-2.7 0h0m1.5-9.6h0m-.4 9.7h0m-1-1.4h0m-2.8 3.6h0m-6.6-7.9h0m4.1-11.2h0m14 23.7h0m-20.6-17.6h0m5.5-3.4h0m12.9 3.9h0m-1 3.5h0m-8.3 5.4h0m7.2 7.1h0m4 1.2h0m-11.6-10.8h0m6.3 5.7h0m.3-15.4h0m-11 7.6h0m-2.9-10.9h0m12.8 12.3h0m-10-11.7h0m10.9 3.4h0m-8.3 7.4h0m9.8-3.8h0m-11.8 9.8h0m-2.9-1h0m5.6 4.8h0m-8.4-9.4h0m16.3-4.2h0m-4.3 8.9h0m-9.3-2.8h0m13.5-5.9h0m-9.4-4.1h0m11.2 16.3h0m-10.3-17.6h0m13.5 14.3h0m-13.9 2h0m12.5 .5h0m-4.8-13.7h0m1.3 1.2h0m-7.7 13.4h0m-1-3.1h0m5.1 2.2h0m1.3 5.3h0m2.5 .4h0m-11.7-23.7h0m4.6 12.1h0m-5.6-5.7h0m8.8-3.9h0m-9.5 2.6h0m13.3 15h0m-9.6-7.2h0m-1-2.4h0m13.8 11.2h0m-6.1-20h0m-4.1 11.9h0m-9.9-4.7h0m10.1 13.8h0m-8.8-15.3h0m19.9 12h0m-8.8-7.6h0m4.4-7.4h0m-5.2 10.8h0m6-.4h0m-12 1.1h0m5.1-1.6h0m-7.2-11.7h0m8.9 17h0m.1-5.9h0m9.6 6.1h0m-12.9 .3h0m-2.9-9.3h0m-3.8 3.9h0m13.5-.1h0m-11.2 .6h0m2.5-12h0m2.8 19.4h0m7.1-.3h0m-15.8-12h0m4.8-1.9h0m9.8-1.3h0m3.9 14.5h0m-5.6-6.1h0m-5.7 3.7h0m8.5 1.1h0m-9.6-9.3h0m10.3 10.4h0m-7 1.4h0m10.5-2.9h0m-18.1-9.3h0m15.9 11.9h0m-17.6-18.7h0m10.5 13.7h0m8.1 4.5h0m-5.2-15.3h0m-7.9 6.8h0m6.6-7.5h0m2-1.3h0m-11.1 4.3h0m1.2 6.6h0m17.5-.9h0m-13.4 0h0m-2.5 3.2h0m12.3 4.4h0m-16.8-22.2h0m3.1 12.1h0m13.2 10.2h0m-10.6-10.9h0m10.2-5.1h0m-2.7-.6h0m-4.3 9.7h0m4.9-7.7h0m-1.6-4.9h0m-11.9 4.2h0m9.1 5h0m12.3 1.8h0m-5.5 3.9h0m-3.7-2.1h0m4.1 7.8h0m-1-2.1h0m-10.4-7.5h0m12.9 7.5h0m-11.5-1.7h0m-3.9-8.6h0m5.2 7.5h0m-8.5-6h0m-.5-8.8h0m2.9 6.9h0m1.4 1.9h0m14.6 9.4h0m-2.8 2.1h0m-3.2-9h0m-1.3-9.5h0m-8.5 2.7h0m.1 .7h0m9.3 4.9h0m1.9 7.6h0m-13.9-10h0m6.2 6h0m2.5-4.3h0m-5-12.5h0m-.6 .7h0m2.6-2.6h0m1.3 13.7h0m10.3 9.8h0m-12.9-8.1h0m7.5-11.1h0m7.5 18.3h0m-17.6-18.9h0m9.5 21.4h0m-7-12.7h0m11.3-7.7h0m56.3 36.1h0m2.5-.1h0m-.4-3.3h0m-.3-1h0m-3.9 3.5h0m1-2.3h0m2-.5h0m.6 3.6h0m3.4-2h0m-.2-1.1h0m-5.4 2.9h0m-1.3 3.2h0m.8-5.1h0m-4.8 0h0m8.6-.2h0m-4.6 2.1h0m3.2 .1h0m-.7-3.7h0m2.6-1.8h0m-6.6 4.5h0m7.1 .3h0m-5.8 1.5h0m-.2-2.5h0m2.9 2.5h0m-4.6-3.2h0m1.5-1.9h0m3.9-1.1h0m-5.5 4.8h0m3.6 0h0m-5.7-2.2h0m4.6 1.4h0m1.9 1.8h0m.8 .1h0m-1.8-3.6h0m-2.6 1.8h0m1.7 1.4h0m4.1-.4h0m-5.6-.8h0m6.8-2.5h0m-2 4.8h0m-4.6-1.7h0m1.4-.2h0m-12.6 15.4h0m-.1 6.5h0m1.5 1.2h0m3.7-2.1h0m3.2 1.4h0m1.2-.3h0m-5.8 7.3h0m-1.4-15.5h0m3.1-.2h0m.7 1.2h0m-3.5 5.6h0m-2.6-1.2h0m6.4 4.6h0m-2-3.6h0m-3.6 .6h0m-.7-.8h0m1.1 1.5h0m2.3 4.5h0m-3.1-4.8h0m7.7-2.9h0m-4.8-4.7h0m3.2 9.1h0m-7.9-3.1h0m2.8 7h0m5.1-11.4h0m-.9 11.5h0m.4-4.8h0m-2.5 .9h0m-3.5 2.3h0m9.9-2.3h0m-11.7-1h0m6.3 1.3h0m2.3-1.5h0m1.7-2.6h0m-5.8 1.2h0m-1.1 3.7h0m2.5-11.5h0m1.5 12.6h0m.1 2h0m-1.1-.4h0m-5.4-6.4h0m2.2 2.6h0m6.9-.5h0m1 .5h0m-5.5-3.2h0m-.3 7.9h0m1.9-2.4h0m2-5.8h0m-6.6 .3h0m1.7-5.6h0m-.1 7.7h0m2.5 4.7h0m-1.6-12.5h0m-.8 12.3h0m-4.7-6.6h0m1.2-1.6h0m7.2-4h0m.4 .9h0m-2.4 6.1h0m-1.6 1.7h0m2.9 .8h0m-8.1-4.2h0m2 2.8h0m6.9 .1h0m-16.8 10.8h0m-2.2 .9h0m1.4-.3h0m4.4 1.3h0m-1.6 1.8h0m.2 1h0m-.9-.9h0m0-3.1h0m-2.1 0h0m2.4 3.5h0m-2.2-2.4h0m1.2 2.2h0m.8-4.7h0m.9 6.3h0m-4-4.2h0m5.2 2.6h0m-2-2.9h0m.2 2.4h0m1.3-.5h0m-1.8 1.7h0m-.6-2.1h0m-1.2-3.3h0m4.8 2.1h0m-4.2-1.2h0m2.1 .4h0m-2.4-1.5h0m1.5 3.6h0m-.3-1.5h0m-1-.5h0m-.4 3.9h0m-.4-2.4h0m-.4-2.3h0m-22.4 8.6h0m-.2-1h0m2 5.9h0m-2.6-6.7h0m-.7 1.1h0m2.7 1.6h0m.7 1.3h0m-1.9 .1h0m-3.7-1.8h0m2 0h0m1.8 2.9h0m-2.5-4.3h0m-.8 .5h0" stroke="#dce3e8" stroke-width=".9" stroke-linecap="round"/></g></defs>
<use href="#gc" xlink:href="#gc" x="0" y="146"/>
<path d="M53 239.8h0m-7.3 9h0m75.4 2.5h0m11.3 7.3h0m6.8-19.7h0m-72.6-26.6h0m68.4 9.4h0m-28.6 4.9h0m-31.6 33h0m3.8-64.2h0m22.7 47.4h0m-46.9 6.5h0m52.4-34.8h0m33.3 .4h0m-92.8 1.6h0m19.4 19.3h0m10.4 34.1h0m60.7-38.6h0m-10.9-27.8h0m-70.7 53.1h0m10.9-4.9h0m41.5-2.7h0m-21.3-44.6h0m27.9 63.4h0m-49-51.6h0m-28.5 8.1h0m20.4 49.1h0m50.7-12.4h0m-9.1-43.1h0m38.5 35.7h0m-17.6-22.9h0m-25 29.4h0m46.2-30.4h0m-96.9 7.7h0m49.3 7h0m38.6 20.2h0m8.4-35.7h0m-70.6 47.2h0m23-84.6h0m56.5 25.9h0m-76.8 68.4h0m70.3-72.7h0m-31.5 26.2h0m-2.4 30.1h0m8.9 7.9h0m13.6-75.4h0m-33.4 41h0m20.8 20.9h0m-71.5-16.9h0m27.6-7.9h0m44.5-8.1h0m-74.3 11.6h0m7.9-40.7h0m41.1 32.5h0m17.2-50.1h0" stroke="#f09ab4" stroke-width="1" stroke-linecap="round"/>
<path d="M63.7 195.8h0m6.3-5.2h0m-1.4 6.7h0m-3.3 0h0m-13.8-.8h0m26.1 16h0m-1.6-7.2h0m-1.3-4.4h0m-21.4-2h0m1.4-6.4h0m16.6 .4h0m-4.1 .1h0m19 29.1h0m-37.9-24h0m22.6 8.7h0m6.3 2.6h0m-9.2-18.4h0m-17.7 7.4h0m10.9 5.6h0m.2 1.6h0m24.2 .4h0m-17.7-8.6h0m9.5 .5h0m-6.7-9h0m3.3 12.1h0m2.4-2.4h0m-24.4-4.5h0m9.2 2.4h0m22.3 14.2h0m-7.3-14.2h0m10.1 26.2h0m-3.4-3.6h0m-11.1-22.5h0m-4.2 1h0m22.9 26.3h0m-15.5-24.2h0m11.2 7.8h0m-12.7-13.7h0m-14.2 11.1h0m9.1-12.6h0m2.4 17.1h0m-6.3-10.8h0m20 7h0m-.5 17.5h0m-5.4-11.3h0m-8.1-1.2h0m-1.2 1.9h0m4.5 4.1h0m3.7 2.5h0m-7.8-7.3h0m8 4.8h0m-.3 2.3h0m-7-6.9h0m7.9 6.4h0m-8.5-6.9h0m8.4 8.2h0m-.1-1.8h0m-3.1-1.3h0m1.6 1.4h0m-7.3-5h0m6.8 2.6h0m1.2 .9h0m-7.1-6h0m6.9 7.9h0m-.2 0h0m-7.2-6.9h0m1.2-1.5h0m-1.1 2.2h0m.4-2h0m7 8h0m-6.5-8h0m2.9 6.3h0m4 2.7h0m-.4-2h0m-6-5.4h0m14.3 63.7h0m-2.8-.1h0m1.2-1.5h0m.2 2.7h0m-8.5-1.6h0m.2 .2h0m-11.6-4.3h0m-.4 2.1h0m8.4 3.7h0m4.3-3.4h0m5.5 3.6h0m-21.3-3.9h0m5 .9h0m3.1-2.5h0m6.1 7.3h0m8.1-2.9h0m.9 2.2h0m-20.8-3.5h0m12 2.4h0m-8.1-2.9h0m-3.6-1.7h0m-10.3-4.4h0m23.1 3.1h0m-7.5 2.1h0m2.1-5.1h0m12.3 7.1h0m-13.9-7.2h0m.6 2.4h0m5.4 7.6h0m-1.1-4.4h0m11.7 .7h0m-25.9-3h0m22.9 2.4h0m2.2 .9h0m-28.5-5.8h0m7.4 4.5h0m-3 .2h0m24.2 .5h0m-3.7-1.6h0m.4 2.3h0m-5.6 2.3h0m-4-7h0m-2.7-2.1h0m7.6 3.7h0m-2.1 3.1h0m-13.7-1.8h0m20.4 1.7h0m-25.4-5.5h0m11.6 4.1h0m-10.6-2.9h0m1.3 1.4h0m4.2 2.5h0m-10-5.3h0m11.7 4.7h0m10.7 2.9h0" stroke="#e83a64" stroke-width="1" stroke-linecap="round"/>
<path d="M36.6 222.0C37.0 219.7 38.3 218.8 39.5 218.0C40.7 217.2 41.9 217.0 44.0 217.0C46.1 217.0 49.3 217.6 52.0 218.0C54.7 218.4 57.8 219.4 60.0 219.2C62.2 219.0 63.7 218.3 65.0 217.0C66.3 215.7 67.0 211.8 68.0 211.5C69.0 211.2 69.9 213.9 71.0 215.0C72.1 216.1 73.0 216.7 74.6 218.3C76.2 219.9 80.9 223.1 80.8 224.5C80.7 225.9 76.4 225.9 74.0 227.0C71.6 228.1 69.0 229.5 66.2 231.0C63.4 232.5 59.7 234.4 57.0 236.2C54.3 238.0 51.9 240.5 50.0 242.0C48.1 243.5 46.9 245.6 45.4 245.4C43.9 245.2 42.4 243.2 41.0 241.0C39.6 238.8 37.7 235.2 37.0 232.0C36.3 228.8 36.2 224.3 36.6 222.0Z" fill="none" stroke="#df3a3a" stroke-width="0.9"/>
<path d="M45.0 204.0C44.5 202.8 45.2 199.9 46.0 198.0C46.8 196.1 48.3 194.1 50.0 192.5C51.7 190.9 53.7 189.5 56.0 188.5C58.3 187.5 61.3 186.9 64.0 186.5C66.7 186.1 70.0 185.6 72.0 185.8C74.0 186.0 75.2 186.5 76.0 187.5C76.8 188.5 76.3 190.6 77.0 192.0C77.7 193.4 78.2 194.3 80.0 196.0C81.8 197.7 85.7 199.8 88.0 202.0C90.3 204.2 92.5 206.7 94.0 209.0C95.5 211.3 96.7 213.9 97.0 216.0C97.3 218.1 97.0 220.2 96.0 221.5C95.0 222.8 92.8 223.5 91.0 224.0C89.2 224.5 86.8 224.8 85.0 224.5C83.2 224.2 81.7 223.7 80.0 222.5C78.3 221.3 76.7 219.4 75.0 217.5C73.3 215.6 71.2 212.5 70.0 211.0C68.8 209.5 68.8 209.2 67.5 208.5C66.2 207.8 64.1 207.3 62.0 207.0C59.9 206.7 57.2 206.8 55.0 206.5C52.8 206.2 50.7 205.9 49.0 205.5C47.3 205.1 45.5 205.2 45.0 204.0Z" fill="none" stroke="#4ccf3c" stroke-width="0.9"/>
<path d="M44.6 213.0C44.6 211.8 44.9 210.2 46.2 209.2C47.5 208.2 50.5 207.5 52.3 207.0C54.1 206.5 55.5 205.9 57.0 206.2C58.5 206.4 59.7 207.9 61.5 208.5C63.3 209.1 66.6 209.2 67.7 210.0C68.8 210.8 68.0 212.1 68.0 213.0C68.0 213.9 68.5 214.4 67.7 215.4C66.9 216.4 64.8 218.4 63.0 219.0C61.2 219.6 58.8 219.1 57.0 219.0C55.2 218.9 54.1 219.0 52.3 218.5C50.5 218.0 47.5 217.1 46.2 216.2C44.9 215.3 44.6 214.2 44.6 213.0Z" fill="none" stroke="#4a58e0" stroke-width="0.9"/>
<use href="#gc" xlink:href="#gc" x="158" y="146"/>
<path d="M250.1 287.3h0m-8.2-66.2h0m-10.1-11.5h0m1.8 72.7h0m-16.9-29.1h0m16.2-51.5h0m-30.1 18.2h0m86.7 23.3h0m2.7 10.6h0m-66.8-21.7h0m11.2-31.3h0m38.8 1.9h0m-5.4 1.8h0m-44-10.6h0m45.4 60.7h0m26.2-30h0m-44-48.9h0m31.9 96.7h0m-39.2-38.1h0m-16.4 42.4h0m21.8 9h0m-.4-68.3h0m-21.2 2.3h0m61.4 33.1h0m-96.2-22.4h0m83.3 28.5h0m-21.3-41.7h0m8-35.9h0m-36.1 54.7h0m41.2-20.1h0m2.2 64.9h0m19.7-13.5h0m-16.1-21.2h0m-47.2-51.5h0m55.9 3.8h0m-10.6 48.9h0m-53.3 35.1h0m62.8-21.5h0m-77-15.6h0m18 13.1h0m30.6-27.1h0m4.3 1.2h0m20.5 42.2h0m-20.5-73.9h0m-2.3 37h0m37.7-17.2h0m-28.2 10.2h0m-33.8 11h0m67.1 10.6h0m-22-58.6h0m13.9 24.9h0m-34.4 58.4h0m-34.9-8.3h0m26.4-90.7h0m-29.3 9.3h0m26.6 95.6h0m19.6-93.7h0m-19.2 92.6h0m56.8-58.9h0m-59.6 21.2h0m18.4 6h0m-2.1 27h0m1.2 4.3h0m-49.8-43.8h0m-3.7 31h0m89.5-62.9h0m.4 22.6h0m-85.4-13.2h0m.9 39.4h0m27 32.1h0m17.8-24h0m3.1-32.4h0m4 43.9h0m19.4-7.8h0m-19.8-51.9h0m1-9.3h0m19.7 21.5h0m-6.6-16.4h0m18.9 46.3h0m-64.8 24.9h0m26.6-94.7h0m-29.5 15.9h0m57.4 11.5h0m-31.9 52.3h0m-17.4 2.6h0m43.4 7.2h0m-4.7-26.1h0m1.7-54.8h0m24.1 45.1h0m-77.6 45.1h0" stroke="#f09ab4" stroke-width="1" stroke-linecap="round"/>
<path d="M212.5 200.1h0m-2.8-1.3h0m10.3-10.2h0m-4 4.6h0m-.7 6.1h0m1.8 5.2h0m2.5-1.7h0m-12.4-7.4h0m12.9 8h0m-11.1-6.4h0m4.5 2h0m6.9-11.9h0m-.7 17h0m-6.4-3.9h0m4.6-6.9h0m.3 7.5h0m-.4-7.4h0m12.3-.9h0m-12.2 9.8h0m1.6-10.9h0m-7.3-1.9h0m.1 9.3h0m6.1-4.4h0m-9.8 2.2h0m9.2-.2h0m-8.2-.5h0m18.6-3.6h0m-17.3 1.2h0m10.4-3.6h0m-5.6 13.3h0m12.1-12.6h0m-7.3 1h0m-3.6 5.5h0m8.6-6.6h0m-18.3 6.4h0m5.8 1.8h0m16.3-4.9h0m-17.6 1.8h0m2.3 2.8h0m13.6-6.5h0m-18.8 4.1h0m.1 1.3h0m19.4-2.4h0m-8.5-6.2h0m1.5-1.3h0m-2.3 7.3h0m1.1 5.3h0m-7.8-3.8h0m-1.2 1.5h0m2.1-.2h0m3.7-6.6h0m-9.7 6.1h0m11.8 5.4h0m1.7-.4h0m4.1-11.3h0m-16.1 9.2h0m9-3.3h0m-1.7 1.8h0m2.6 2.8h0m-6.2-1.9h0m-.6-3.2h0m5.4 .4h0m3.1 1.2h0m-9.6 1.3h0m6-3h0m2.8 .6h0m-8.6-4.8h0m6.9 .1h0m.9 1.2h0m2 8.3h0m3.4-12.7h0m-9.6 2.2h0m3.6 12.5h0m1.9-8.4h0m-12.3 2.2h0m16.2-8.3h0m-4.8 13.9h0m0-9.1h0m-3.6-1.2h0m12.8-.2h0m-3.3-.9h0m-6.5 6.1h0m.1 5h0m-5.6-10.8h0m14.3 2.7h0m-14.3-4.2h0m-5.3 5h0m7.2 2h0m11.5-3.6h0m-17.3 5.1h0m3.9-6.4h0m5.8 8.6h0m-1.9-5.6h0m-9.5 2.7h0m15.2-7.7h0m-11.9 6.3h0m6.3-1.5h0m3.2-2.7h0m-3 6.3h0m.8-4.3h0m-9.1 1.7h0m9.2-1.4h0m6.2-3.9h0m-5.2 2.2h0m-1.4 1h0m9.5-1.9h0m-9 8.4h0m5.7-10.5h0m-11.6-.8h0m-1.9 11.6h0m.2 1.6h0m16.1-10.7h0m1 .4h0m-17.1 4.7h0m16-4.5h0m4.5 .2h0m-5.9-1.7h0m3.1 2.3h0m.3 .1h0m.1 2.2h0m12.1 22.3h0m1.9-3.9h0m-3.7-5.2h0m0 3h0m-2.2-5h0m-.5 3.3h0m1.1 .7h0m3.1 1.7h0m-.2 5.2h0m1.8-5.1h0m-1.4 .8h0m-3.9-1.5h0m3.7 2.2h0m.1-2.6h0m-1.1-1.6h0m.6 .5h0m-3.3 .2h0m1.7-1.1h0m3.7 3.5h0m2.5-.5h0m-2.9 1.5h0m-.5-.5h0m-4.7-5.5h0m4.9 2.4h0m-1.5 7.3h0m-1.1-.6h0m3-5.6h0m-1.5 2.5h0m2.2-2.3h0m-5.9-3.1h0m4.7 7.1h0m-.7-3.3h0m-.4 4.6h0m-4.9-7.5h0m8 7h0m-.8 1.7h0m-2.1-7.9h0m-4.1-.6h0m4.5 9h0m2.3-5.7h0m-27-4.6h0m2 .2h0m2.2 .5h0m-6.1 1.7h0m-9.2 3.3h0m6.6-6.9h0m3.3 2h0m3.4 1.7h0m3.2 3h0m-3.7 0h0m3.2 .2h0m-4.6-6h0m-12.2 7h0m.9-2.6h0m15.2-2.7h0m-1.6-.6h0m-.6 1.6h0m-.5 1h0m7.3 3.6h0m-7 .2h0m-14.1-4.2h0m1.4-.6h0m15.7 1.6h0m-16.4 1.1h0m20.2 .3h0m-7.9-1.9h0m2.8-2.9h0m-.2-.1h0m-15.5 4.2h0m10.6-4.1h0m8.6 4.4h0m-5.5-.6h0m7.1 2.7h0m-5.9-1.8h0m-15.6-.7h0m2-2.2h0m-.7 4.3h0m.6-4.7h0m8.3-2.3h0m-8.5 4.6h0m18.2-.6h0m.3-1.5h0m-19.4 3.4h0m20 2.1h0m-2.2-.9h0m-5.6-8h0m-12.1 2.8h0m15.7 6.2h0m-5.2-8h0m9 7.9h0m-19.4-6.6h0m20.1 2.6h0m-19.7-1.2h0m.2 .4h0m16.4 2.1h0m-17.7-2.3h0m20 3.6h0m-6.5-3.9h0m-4-3h0m2.2 5.8h0m10.8 57.9h0m-7.8-.1h0m8.2-.1h0m-5.5-3.7h0m17.4 11.5h0m-18.9-14.9h0m-5.5-.7h0m2.2 .3h0m.8-.3h0m-1.7 2.4h0m2.2 3.1h0m20 11h0m-10.4-12h0m-6 1.1h0m5.4 0h0m.1-.4h0m-9-.7h0m21 10.8h0m-22-13.7h0m9.4 3.6h0m9.8 12h0m-22.8-9.9h0m6.5-1.5h0m-1-.1h0m.9 .1h0m-.2-2.2h0m9.4 1.6h0m-14.3-5h0m.4 7.6h0m13.9-3.2h0m-9.2 .3h0m6.8-.1h0m-6.7-.1h0m-2.7 .2h0m-1.4-5.5h0" stroke="#e83a64" stroke-width="1" stroke-linecap="round"/>
<path d="M194.6 222.0C195.0 219.7 196.3 218.8 197.5 218.0C198.7 217.2 199.9 217.0 202.0 217.0C204.1 217.0 207.3 217.6 210.0 218.0C212.7 218.4 215.8 219.4 218.0 219.2C220.2 219.0 221.7 218.3 223.0 217.0C224.3 215.7 225.0 211.8 226.0 211.5C227.0 211.2 227.9 213.9 229.0 215.0C230.1 216.1 231.0 216.7 232.6 218.3C234.2 219.9 238.9 223.1 238.8 224.5C238.7 225.9 234.4 225.9 232.0 227.0C229.6 228.1 227.0 229.5 224.2 231.0C221.4 232.5 217.7 234.4 215.0 236.2C212.3 238.0 209.9 240.5 208.0 242.0C206.1 243.5 204.9 245.6 203.4 245.4C201.9 245.2 200.4 243.2 199.0 241.0C197.6 238.8 195.7 235.2 195.0 232.0C194.3 228.8 194.2 224.3 194.6 222.0Z" fill="none" stroke="#df3a3a" stroke-width="0.9"/>
<path d="M203.0 204.0C202.5 202.8 203.2 199.9 204.0 198.0C204.8 196.1 206.3 194.1 208.0 192.5C209.7 190.9 211.7 189.5 214.0 188.5C216.3 187.5 219.3 186.9 222.0 186.5C224.7 186.1 228.0 185.6 230.0 185.8C232.0 186.0 233.2 186.5 234.0 187.5C234.8 188.5 234.3 190.6 235.0 192.0C235.7 193.4 236.2 194.3 238.0 196.0C239.8 197.7 243.7 199.8 246.0 202.0C248.3 204.2 250.5 206.7 252.0 209.0C253.5 211.3 254.7 213.9 255.0 216.0C255.3 218.1 255.0 220.2 254.0 221.5C253.0 222.8 250.8 223.5 249.0 224.0C247.2 224.5 244.8 224.8 243.0 224.5C241.2 224.2 239.7 223.7 238.0 222.5C236.3 221.3 234.7 219.4 233.0 217.5C231.3 215.6 229.2 212.5 228.0 211.0C226.8 209.5 226.8 209.2 225.5 208.5C224.2 207.8 222.1 207.3 220.0 207.0C217.9 206.7 215.2 206.8 213.0 206.5C210.8 206.2 208.7 205.9 207.0 205.5C205.3 205.1 203.5 205.2 203.0 204.0Z" fill="none" stroke="#4ccf3c" stroke-width="0.9"/>
<path d="M202.6 213.0C202.6 211.8 202.9 210.2 204.2 209.2C205.5 208.2 208.5 207.5 210.3 207.0C212.1 206.5 213.5 205.9 215.0 206.2C216.5 206.4 217.7 207.9 219.5 208.5C221.3 209.1 224.6 209.2 225.7 210.0C226.8 210.8 226.0 212.1 226.0 213.0C226.0 213.9 226.5 214.4 225.7 215.4C224.9 216.4 222.8 218.4 221.0 219.0C219.2 219.6 216.8 219.1 215.0 219.0C213.2 218.9 212.1 219.0 210.3 218.5C208.5 218.0 205.5 217.1 204.2 216.2C202.9 215.3 202.6 214.2 202.6 213.0Z" fill="none" stroke="#4a58e0" stroke-width="0.9"/>
<use href="#gc" xlink:href="#gc" x="0" y="291"/>
<path d="M113 383.4h0m-49.3-35.8h0m39.4 34.3h0m-31.5 15.8h0m-26.5-34.2h0m50.9-26.8h0" stroke="#f09ab4" stroke-width="1" stroke-linecap="round"/>
<path d="M68 332.3h0m-11.7 5.9h0m-6.2 8.6h0m2.8-6.5h0m12-7.9h0m-7.4 9.1h0m11.3-9.5h0m-14.5 13.5h0m-2.1 .8h0m-.8 .2h0m20.7-3.1h0m-14.4 6.5h0m-1.2-8.9h0m9.5-6.5h0m-12.6 11.5h0m-.8-.5h0m13.3-8.2h0m-10.5 3.4h0m.3 0h0m-2.3 5.4h0m20.2-2.1h0m-19.5-4.8h0m5.5 1.5h0m-4.9 4h0m2-3.3h0m-8.1 6.3h0m21.2-15.9h0m-19.2 15.7h0m4.8-3.5h0m-6.6 .5h0m22.8-11.6h0m-19.1 15.4h0m19.9-4.9h0m-18.4 5.4h0m-1.8-5.8h0m.5 3.2h0m11.3-12.6h0m-11 12.8h0m5.5-5.4h0m5.3-5.8h0m-11.3 13.4h0m-.2-5.6h0m5.8 .5h0m-5.9 1.4h0m3.7-1.4h0m-2.6 1.2h0m.2 2.1h0m12.8-13.3h0m-16.2 12.1h0m15.1-11.3h0" stroke="#e83a64" stroke-width="1" stroke-linecap="round"/>
<path d="M36.6 367.0C37.0 364.7 38.3 363.8 39.5 363.0C40.7 362.2 41.9 362.0 44.0 362.0C46.1 362.0 49.3 362.6 52.0 363.0C54.7 363.4 57.8 364.4 60.0 364.2C62.2 364.0 63.7 363.3 65.0 362.0C66.3 360.7 67.0 356.8 68.0 356.5C69.0 356.2 69.9 358.9 71.0 360.0C72.1 361.1 73.0 361.7 74.6 363.3C76.2 364.9 80.9 368.1 80.8 369.5C80.7 370.9 76.4 370.9 74.0 372.0C71.6 373.1 69.0 374.5 66.2 376.0C63.4 377.5 59.7 379.4 57.0 381.2C54.3 383.0 51.9 385.5 50.0 387.0C48.1 388.5 46.9 390.6 45.4 390.4C43.9 390.2 42.4 388.2 41.0 386.0C39.6 383.8 37.7 380.2 37.0 377.0C36.3 373.8 36.2 369.3 36.6 367.0Z" fill="none" stroke="#df3a3a" stroke-width="0.9"/>
<path d="M45.0 349.0C44.5 347.8 45.2 344.9 46.0 343.0C46.8 341.1 48.3 339.1 50.0 337.5C51.7 335.9 53.7 334.5 56.0 333.5C58.3 332.5 61.3 331.9 64.0 331.5C66.7 331.1 70.0 330.6 72.0 330.8C74.0 331.0 75.2 331.5 76.0 332.5C76.8 333.5 76.3 335.6 77.0 337.0C77.7 338.4 78.2 339.3 80.0 341.0C81.8 342.7 85.7 344.8 88.0 347.0C90.3 349.2 92.5 351.7 94.0 354.0C95.5 356.3 96.7 358.9 97.0 361.0C97.3 363.1 97.0 365.2 96.0 366.5C95.0 367.8 92.8 368.5 91.0 369.0C89.2 369.5 86.8 369.8 85.0 369.5C83.2 369.2 81.7 368.7 80.0 367.5C78.3 366.3 76.7 364.4 75.0 362.5C73.3 360.6 71.2 357.5 70.0 356.0C68.8 354.5 68.8 354.2 67.5 353.5C66.2 352.8 64.1 352.3 62.0 352.0C59.9 351.7 57.2 351.8 55.0 351.5C52.8 351.2 50.7 350.9 49.0 350.5C47.3 350.1 45.5 350.2 45.0 349.0Z" fill="none" stroke="#4ccf3c" stroke-width="0.9"/>
<path d="M44.6 358.0C44.6 356.8 44.9 355.2 46.2 354.2C47.5 353.2 50.5 352.5 52.3 352.0C54.1 351.5 55.5 350.9 57.0 351.2C58.5 351.4 59.7 352.9 61.5 353.5C63.3 354.1 66.6 354.2 67.7 355.0C68.8 355.8 68.0 357.1 68.0 358.0C68.0 358.9 68.5 359.4 67.7 360.4C66.9 361.4 64.8 363.4 63.0 364.0C61.2 364.6 58.8 364.1 57.0 364.0C55.2 363.9 54.1 364.0 52.3 363.5C50.5 363.0 47.5 362.1 46.2 361.2C44.9 360.3 44.6 359.2 44.6 358.0Z" fill="none" stroke="#4a58e0" stroke-width="0.9"/>
<use href="#gc" xlink:href="#gc" x="158" y="291"/>
<path d="M219.8 358.3h0m10.3 .8h0m38.1 64.7h0m19-11.2h0m-67.8-47.9h0m75.7 12.1h0m-51.8-6.9h0m36.4 53.5h0m20.4-72h0m-87.8 58.8h0m64.3-4.3h0m23.9-31.6h0m-48.5 30.3h0m-5.5-76.4h0m-35.9 38.5h0m25.5-26.7h0m42.5 3h0m-54.3 29h0" stroke="#f09ab4" stroke-width="1" stroke-linecap="round"/>
<path d="M208.6 342h0m7.8-5.5h0m6.8 5.1h0m-7.1 4.4h0m-1.9 1h0m2.2-3.6h0m4.2 6.7h0m9.9-6.4h0m-8.1-11h0m-8.5 16h0m-3.5-5.8h0m16.4-10.3h0m-7.5 1.8h0m13.9 12.2h0m-23.1-1.2h0m9.4-12h0m-3.8 14.6h0m7.3-.5h0m-2.9 1h0m-9.1-1.1h0m19.1-2.2h0m-8.9-11.8h0m-6.3 11.5h0m6.9-11.3h0m-5.9 15.4h0m-.5-11.6h0m-.9 9h0m7.2-8h0m-6.1 8.3h0m-6.5-4.1h0m5.4 2.3h0m11.6-12.3h0m6.8 11.3h0m-23.9 1h0m3.4-2.8h0m14.1-6.3h0m-10.8 11.9h0m8.8-15.1h0m-14.2 9.1h0m-1.5 3.5h0m9.2-3.9h0m.3-.9h0m-3.2 7.4h0m4-14.3h0m1.7 2.9h0m-.4-2.2h0m11.1 13.3h0m-13.4-9.9h0m-8.6 7.9h0m16.5-11.1h0m5.1 10.5h0m-10.7-4.5h0m-7 3.7h0m8.2 4.5h0m-12.6-7.7h0m13.8 7.6h0m-8.8-.7h0m13.2-14.2h0m-17 8.7h0m18-7.1h0m-5.3 9h0m-6.1-6.2h0m5.4 10.8h0m-7.1-2.6h0m9.4-12.4h0m-3.2 13.5h0m1.2-8.5h0m-4.2-4.8h0m3.3 13.6h0m-9.1-11.7h0m12.3-3.7h0m-6.4 6.5h0m-11.4 3.4h0m8.2-4.1h0m5.5 10.3h0m-2.6-2.6h0m-9-.7h0m10.1-9.2h0m-11.8 6.6h0m14.9 3.4h0m-2.8-10.5h0m-4.7 2.3h0m.8 1h0m7.9-2.1h0m-4.6 2.2h0m-4.4 7.1h0m4 .8h0m-3.7-1.9h0m15.5 .2h0m-19.8 1.7h0m7.3-1.1h0m1.3-10.8h0m8.6-1h0m-13.4 2.5h0m-4.7 8.2h0m10.1-10.7h0m-4.9 10.2h0m3.4-7.2h0m-.2 3.1h0m2.2 7.8h0m-11.7-5.4h0m12.8-9.2h0m-11.4 11h0m-3.4-.2h0m3.3 .7h0m8.7-5.3h0m-5.3 8.3h0m-2.1 .8h0m.3-3.6h0m4.7-6.8h0m.2 10.1h0m7-2.2h0m-13.8-2.2h0m4.9 1.4h0m3.2-.4h0m-8.6-3.6h0m9.2-6.8h0m2.7 5.5h0m-1 8.2h0m3-2h0m-13.3-1.7h0m9.5-3.8h0m5.1-8.2h0m-4.9 1.2h0m-11.9 13.2h0m8.4-1h0m-.5-10.1h0m4.2 13.7h0m-1.3-1.7h0m.6-7.2h0m-4.7 14.8h0m.7 7.9h0m1.7-5.7h0m5.5 2.7h0m-6.9-.1h0m5.6-4h0m-4.6 4.6h0m-.9-1.3h0m-3.1 3.3h0m3.8 .7h0m7.3-2h0m-.1-1.2h0m-.9-1.1h0m2.3-.7h0m-6.8 .9h0m1.6 2.7h0m-.6-5.7h0m-1.6 6.5h0m4.3-3.7h0m-4-2h0m1.3 2.8h0m-2.5 2.1h0m-2.7-3.8h0m-.2-5.6h0m2.4 4.6h0m1.1-.2h0m8.7 1.5h0m-9.2 1.9h0m1-.6h0m3.2-3.8h0m-1.7 3.4h0m2.2-1.7h0m-.1 1.5h0m-1.8-2.5h0m-7 4.6h0" stroke="#e83a64" stroke-width="1" stroke-linecap="round"/>
<path d="M194.6 367.0C195.0 364.7 196.3 363.8 197.5 363.0C198.7 362.2 199.9 362.0 202.0 362.0C204.1 362.0 207.3 362.6 210.0 363.0C212.7 363.4 215.8 364.4 218.0 364.2C220.2 364.0 221.7 363.3 223.0 362.0C224.3 360.7 225.0 356.8 226.0 356.5C227.0 356.2 227.9 358.9 229.0 360.0C230.1 361.1 231.0 361.7 232.6 363.3C234.2 364.9 238.9 368.1 238.8 369.5C238.7 370.9 234.4 370.9 232.0 372.0C229.6 373.1 227.0 374.5 224.2 376.0C221.4 377.5 217.7 379.4 215.0 381.2C212.3 383.0 209.9 385.5 208.0 387.0C206.1 388.5 204.9 390.6 203.4 390.4C201.9 390.2 200.4 388.2 199.0 386.0C197.6 383.8 195.7 380.2 195.0 377.0C194.3 373.8 194.2 369.3 194.6 367.0Z" fill="none" stroke="#df3a3a" stroke-width="0.9"/>
<path d="M203.0 349.0C202.5 347.8 203.2 344.9 204.0 343.0C204.8 341.1 206.3 339.1 208.0 337.5C209.7 335.9 211.7 334.5 214.0 333.5C216.3 332.5 219.3 331.9 222.0 331.5C224.7 331.1 228.0 330.6 230.0 330.8C232.0 331.0 233.2 331.5 234.0 332.5C234.8 333.5 234.3 335.6 235.0 337.0C235.7 338.4 236.2 339.3 238.0 341.0C239.8 342.7 243.7 344.8 246.0 347.0C248.3 349.2 250.5 351.7 252.0 354.0C253.5 356.3 254.7 358.9 255.0 361.0C255.3 363.1 255.0 365.2 254.0 366.5C253.0 367.8 250.8 368.5 249.0 369.0C247.2 369.5 244.8 369.8 243.0 369.5C241.2 369.2 239.7 368.7 238.0 367.5C236.3 366.3 234.7 364.4 233.0 362.5C231.3 360.6 229.2 357.5 228.0 356.0C226.8 354.5 226.8 354.2 225.5 353.5C224.2 352.8 222.1 352.3 220.0 352.0C217.9 351.7 215.2 351.8 213.0 351.5C210.8 351.2 208.7 350.9 207.0 350.5C205.3 350.1 203.5 350.2 203.0 349.0Z" fill="none" stroke="#4ccf3c" stroke-width="0.9"/>
<path d="M202.6 358.0C202.6 356.8 202.9 355.2 204.2 354.2C205.5 353.2 208.5 352.5 210.3 352.0C212.1 351.5 213.5 350.9 215.0 351.2C216.5 351.4 217.7 352.9 219.5 353.5C221.3 354.1 224.6 354.2 225.7 355.0C226.8 355.8 226.0 357.1 226.0 358.0C226.0 358.9 226.5 359.4 225.7 360.4C224.9 361.4 222.8 363.4 221.0 364.0C219.2 364.6 216.8 364.1 215.0 364.0C213.2 363.9 212.1 364.0 210.3 363.5C208.5 363.0 205.5 362.1 204.2 361.2C202.9 360.3 202.6 359.2 202.6 358.0Z" fill="none" stroke="#4a58e0" stroke-width="0.9"/>
<path d="M35.5 18V144.5H153.5" fill="none" stroke="#eef1f3" stroke-width="0.8"/>
<path d="M193.5 18V144.5H311.5" fill="none" stroke="#eef1f3" stroke-width="0.8"/>
<path d="M35.5 164V289.5H153.5" fill="none" stroke="#eef1f3" stroke-width="0.8"/>
<path d="M193.5 164V289.5H311.5" fill="none" stroke="#eef1f3" stroke-width="0.8"/>
<path d="M35.5 309V433.5H153.5" fill="none" stroke="#eef1f3" stroke-width="0.8"/>
<path d="M193.5 309V433.5H311.5" fill="none" stroke="#eef1f3" stroke-width="0.8"/>
<text x="7.0" y="16.5" font-size="11.2" font-weight="bold" textLength="8.4" lengthAdjust="spacingAndGlyphs">A</text>
<text x="84.0" y="15.2" font-size="8.6" textLength="12.3" lengthAdjust="spacingAndGlyphs">WT</text>
<text x="217.0" y="14.3" font-size="8.6" font-style="italic" textLength="69.5" lengthAdjust="spacingAndGlyphs">Ctsg-PML-RARA</text>
<text x="11.0" y="32.1" font-size="9.0" fill="#43c943" stroke="#43c943" stroke-width="0.22" textLength="46.7" lengthAdjust="spacingAndGlyphs">Early stem &amp;</text>
<text x="12.1" y="41.9" font-size="9.0" fill="#43c943" stroke="#43c943" stroke-width="0.22" textLength="44.4" lengthAdjust="spacingAndGlyphs">progenitors</text>
<text x="10.3" y="57.0" font-size="8.2" fill="#3d52ee" stroke="#3d52ee" stroke-width="0.22" font-style="italic" textLength="18.7" lengthAdjust="spacingAndGlyphs">PML-</text>
<text x="9.0" y="66.7" font-size="8.2" fill="#3d52ee" stroke="#3d52ee" stroke-width="0.22" font-style="italic" textLength="21.8" lengthAdjust="spacingAndGlyphs">RARA</text>
<text x="5.8" y="76.4" font-size="8.6" fill="#3d52ee" stroke="#3d52ee" stroke-width="0.22" textLength="28.2" lengthAdjust="spacingAndGlyphs">specific</text>
<text x="11.3" y="92.4" font-size="9.0" fill="#e02a2a" stroke="#e02a2a" stroke-width="0.22" textLength="22.7" lengthAdjust="spacingAndGlyphs">GMPs</text>
<text x="7.5" y="112.6" font-size="8.8" fill="#3a8fe6" stroke="#3a8fe6" stroke-width="0.22" textLength="44.5" lengthAdjust="spacingAndGlyphs">Neutrophils</text>
<text x="9.7" y="142.0" font-size="8.8" fill="#8fbde6" stroke="#8fbde6" stroke-width="0.22" textLength="41.1" lengthAdjust="spacingAndGlyphs">Monocytes</text>
<text x="111.5" y="34.0" font-size="8.8" fill="#8a62ef" stroke="#8a62ef" stroke-width="0.22" textLength="47.6" lengthAdjust="spacingAndGlyphs">Progenitor B</text>
<text x="143.8" y="105.2" font-size="8.8" fill="#b9a9f1" stroke="#b9a9f1" stroke-width="0.22" textLength="34.2" lengthAdjust="spacingAndGlyphs">Mature B</text>
<text x="144.6" y="119.2" font-size="8.8" fill="#7a3c2c" stroke="#7a3c2c" stroke-width="0.22" textLength="16.2" lengthAdjust="spacingAndGlyphs">DCs</text>
<text x="133.8" y="135.7" font-size="8.8" fill="#e05ef0" stroke="#e05ef0" stroke-width="0.22" textLength="23.2" lengthAdjust="spacingAndGlyphs">T cells</text>
<text x="106.2" y="143.3" font-size="8.8" fill="#f4a35a" stroke="#f4a35a" stroke-width="0.22" textLength="51.5" lengthAdjust="spacingAndGlyphs">Macrophages</text>
<text x="169.0" y="35.2" font-size="9.0" fill="#43c943" stroke="#43c943" stroke-width="0.22" textLength="47.3" lengthAdjust="spacingAndGlyphs">Early stem &amp;</text>
<text x="171.0" y="45.2" font-size="9.0" fill="#43c943" stroke="#43c943" stroke-width="0.22" textLength="43.2" lengthAdjust="spacingAndGlyphs">progenitors</text>
<text x="170.6" y="57.0" font-size="8.2" fill="#3d52ee" stroke="#3d52ee" stroke-width="0.22" font-style="italic" textLength="19.2" lengthAdjust="spacingAndGlyphs">PML-</text>
<text x="169.6" y="67.0" font-size="8.2" fill="#3d52ee" stroke="#3d52ee" stroke-width="0.22" font-style="italic" textLength="21.4" lengthAdjust="spacingAndGlyphs">RARA</text>
<text x="165.8" y="76.8" font-size="8.6" fill="#3d52ee" stroke="#3d52ee" stroke-width="0.22" textLength="29.2" lengthAdjust="spacingAndGlyphs">specific</text>
<text x="170.8" y="92.3" font-size="9.0" fill="#e02a2a" stroke="#e02a2a" stroke-width="0.22" textLength="22.2" lengthAdjust="spacingAndGlyphs">GMPs</text>
<text x="162.0" y="111.7" font-size="8.8" fill="#3a8fe6" stroke="#3a8fe6" stroke-width="0.22" textLength="44.2" lengthAdjust="spacingAndGlyphs">Neutrophils</text>
<text x="173.8" y="140.8" font-size="8.8" fill="#8fbde6" stroke="#8fbde6" stroke-width="0.22" textLength="40.8" lengthAdjust="spacingAndGlyphs">Monocytes</text>
<text x="270.6" y="34.6" font-size="8.8" fill="#8a62ef" stroke="#8a62ef" stroke-width="0.22" textLength="47.7" lengthAdjust="spacingAndGlyphs">Progenitor B</text>
<text x="301.2" y="106.0" font-size="8.8" fill="#b9a9f1" stroke="#b9a9f1" stroke-width="0.22" textLength="34.3" lengthAdjust="spacingAndGlyphs">Mature B</text>
<text x="302.0" y="119.4" font-size="8.8" fill="#7a3c2c" stroke="#7a3c2c" stroke-width="0.22" textLength="16.3" lengthAdjust="spacingAndGlyphs">DCs</text>
<text x="287.2" y="135.8" font-size="8.8" fill="#e05ef0" stroke="#e05ef0" stroke-width="0.22" textLength="22.2" lengthAdjust="spacingAndGlyphs">T cells</text>
<text x="260.4" y="143.5" font-size="8.8" fill="#f4a35a" stroke="#f4a35a" stroke-width="0.22" textLength="51.1" lengthAdjust="spacingAndGlyphs">Macrophages</text>
<text x="332.5" y="18.6" font-size="9.0" font-weight="bold" textLength="44.5" lengthAdjust="spacingAndGlyphs">Cell Type:</text>
<circle cx="338.3" cy="25.50" r="1.75" fill="#e01b22"/>
<text x="343.0" y="28.1" font-size="6.6" fill="#3a3a3a">GMP</text>
<circle cx="338.3" cy="31.74" r="1.75" fill="#1f72e6"/>
<text x="343.0" y="34.3" font-size="6.6" fill="#3a3a3a">Neutrophil</text>
<circle cx="338.3" cy="37.97" r="1.75" fill="#a6d4f7"/>
<text x="343.0" y="40.6" font-size="6.6" fill="#3a3a3a">Monocyte</text>
<circle cx="338.3" cy="44.21" r="1.75" fill="#f79a58"/>
<text x="343.0" y="46.8" font-size="6.6" fill="#3a3a3a">Macrophage</text>
<circle cx="338.3" cy="50.44" r="1.75" fill="#6a48ee"/>
<text x="343.0" y="53.0" font-size="6.6" fill="#3a3a3a">B progenitor</text>
<circle cx="338.3" cy="56.68" r="1.75" fill="#b9a6f7"/>
<text x="343.0" y="59.3" font-size="6.6" fill="#3a3a3a">Mature B</text>
<circle cx="338.3" cy="62.92" r="1.75" fill="#5e1010"/>
<text x="343.0" y="65.5" font-size="6.6" fill="#3a3a3a">DC</text>
<circle cx="338.3" cy="69.15" r="1.75" fill="#f79af0"/>
<text x="343.0" y="71.8" font-size="6.6" fill="#3a3a3a">CD4 T cell</text>
<circle cx="338.3" cy="75.39" r="1.75" fill="#e04cf0"/>
<text x="343.0" y="78.0" font-size="6.6" fill="#3a3a3a">CD8 T cell</text>
<circle cx="338.3" cy="81.62" r="1.75" fill="#d6f000"/>
<text x="343.0" y="84.2" font-size="6.6" fill="#3a3a3a">Early T cell</text>
<circle cx="338.3" cy="87.86" r="1.75" fill="#52ecd8"/>
<text x="343.0" y="90.5" font-size="6.6" fill="#3a3a3a">ST-HSC</text>
<circle cx="338.3" cy="94.10" r="1.75" fill="#f0689a"/>
<text x="343.0" y="96.7" font-size="6.6" fill="#3a3a3a">Basophil</text>
<circle cx="338.3" cy="100.33" r="1.75" fill="#6ee04a"/>
<text x="343.0" y="102.9" font-size="6.6" fill="#3a3a3a">MEP</text>
<circle cx="338.3" cy="106.57" r="1.75" fill="#22c72a"/>
<text x="343.0" y="109.2" font-size="6.6" fill="#3a3a3a">NP</text>
<circle cx="338.3" cy="112.80" r="1.75" fill="#f06a22"/>
<text x="343.0" y="115.4" font-size="6.6" fill="#3a3a3a">MPP</text>
<circle cx="338.3" cy="119.04" r="1.75" fill="#1c3ae6"/>
<text x="343.0" y="121.6" font-size="6.6" fill="#3a3a3a">Early RBC</text>
<circle cx="338.3" cy="125.28" r="1.75" fill="#c48e94"/>
<text x="343.0" y="127.9" font-size="6.6" fill="#3a3a3a">CLP</text>
<circle cx="338.3" cy="131.51" r="1.75" fill="#8ef0e2"/>
<text x="343.0" y="134.1" font-size="6.6" fill="#3a3a3a">Megakaryocyte</text>
<circle cx="338.3" cy="137.75" r="1.75" fill="#c6e266"/>
<text x="343.0" y="140.3" font-size="6.6" fill="#3a3a3a">Natural Killer cell</text>
<circle cx="338.3" cy="143.98" r="1.75" fill="#a622f0"/>
<text x="343.0" y="146.6" font-size="6.6" fill="#3a3a3a">CFU-E</text>
<circle cx="338.3" cy="150.22" r="1.75" fill="#dfe4e4"/>
<text x="343.0" y="152.8" font-size="6.6" fill="#3a3a3a">RBC progenitor</text>
<circle cx="338.3" cy="156.46" r="1.75" fill="#b4c4c4"/>
<text x="343.0" y="159.1" font-size="6.6" fill="#3a3a3a">Early B cell</text>
<circle cx="338.3" cy="162.69" r="1.75" fill="#7e9a9a"/>
<text x="343.0" y="165.3" font-size="6.6" fill="#3a3a3a">MDP</text>
<circle cx="338.3" cy="168.93" r="1.75" fill="#3e5e60"/>
<text x="343.0" y="171.5" font-size="6.6" fill="#3a3a3a">RBC</text>
<circle cx="338.3" cy="175.16" r="1.75" fill="#1c2e30"/>
<text x="343.0" y="177.8" font-size="6.6" fill="#3a3a3a">Mast cell</text>
<circle cx="338.3" cy="181.40" r="1.75" fill="#000000"/>
<text x="343.0" y="184.0" font-size="6.6" fill="#3a3a3a">T cell</text>
<text x="400.8" y="16.6" font-size="11.2" font-weight="bold" textLength="7.7" lengthAdjust="spacingAndGlyphs">D</text>
<text x="426.5" y="35.4" font-size="7.6" textLength="12.3" lengthAdjust="spacingAndGlyphs">WT</text>
<text x="448.0" y="35.2" font-size="7.6" font-style="italic" textLength="58.2" lengthAdjust="spacingAndGlyphs">Ctsg-PML-RARA</text>
<text x="397.3" y="47.0" font-size="7.6" textLength="15.9" lengthAdjust="spacingAndGlyphs">Rep:</text>
<text x="426.5" y="47.0" font-size="7.6" text-anchor="middle">1</text>
<text x="439.6" y="47.0" font-size="7.6" text-anchor="middle">2</text>
<text x="465.4" y="47.0" font-size="7.6" text-anchor="middle">1</text>
<text x="497.2" y="47.0" font-size="7.6" text-anchor="middle">2</text>
<path d="M420.4 38.2H445.8M447 38.2H510M420.4 48.7H432.7M434.2 48.7H445.8M446.4 48.7H483.8M485 48.7H508.5" stroke="#111" stroke-width="1"/>
<rect x="418.9" y="50.8" width="90.3" height="173.8" fill="#fbfbff"/>
<path d="M435.4 104h1.5m1.5 0h1.5m4.5 6h1.5m-7.5 4.6h1.5m4.5 0h1.5m-7.5 36h1.5m3 0h1.5m-6 3h1.5m4.5 0h1.5m-19.5 1.4h1.5m10.5 3h1.5m-7.5 1.6h1.5m4.5 0h1.5m-21 1.4h1.5m3 0h1.5m0 0h1.5m4.5 0h1.5m3 0h1.5m1.5 0h1.5m1.5 0h1.5m1.5 0h1.5m-22.5 1.6h1.5m7.5 0h1.5m6 0h1.5m0 0h1.5m1.5 0h1.5m-25.5 3h1.5m4.5 0h1.5m1.5 0h1.5m0 0h1.5m0 0h1.5m4.5 0h1.5m0 0h1.5m3 0h1.5m-13.5 1.4h1.5m0 0h1.5m6 0h1.5m0 0h1.5m0 0h1.5m-12 3h1.5m0 0h1.5m1.5 0h1.5m4.5 3h1.5m-3 1.6h1.5" stroke="#183ae4" stroke-width="1.5"/>
<path d="M424.9 104h1.5m-4.5 4.6h1.5m9 1.4h1.5m-10.5 40.6h1.5m15 0h1.5m-16.5 3h1.5m9 1.4h1.5m-4.5 3h1.5m10.5 0h1.5m-15 4.6h1.5m6 0h1.5m-15 3h1.5m7.5 3h1.5m-1.5 3h1.5m3 1.4h1.5m-12 1.6h1.5m15 6h1.5" stroke="#2f4ee7" stroke-width="1.5"/>
<path d="M469.9 75.6h1.5m-16.5 6h1.5m-28.5 22.4h1.5m-6 9h1.5m10.5 37.6h1.5m7.5 0h1.5m-7.5 4.4h1.5m0 0h1.5m-19.5 6h1.5m6 0h1.5m12 0h1.5m-9 1.6h1.5m6 3h1.5m-6 1.4h1.5m1.5 4.6h1.5m-9 1.4h1.5m9 1.6h1.5" stroke="#4661e9" stroke-width="1.5"/>
<path d="M478.9 78.6h1.5m-60 25.4h1.5m-3 4.6h1.5m4.5 0h1.5m7.5 0h1.5m3 0h1.5m-15 3h1.5m3 3h1.5m13.5 10.4h1.5m-15 28.6h1.5m10.5 0h1.5m-1.5 1.4h1.5m-25.5 3h1.5m9 0h1.5m12 0h1.5m-24 1.6h1.5m13.5 0h1.5m-16.5 1.4h1.5m4.5 0h1.5m4.5 0h1.5m0 0h1.5m-16.5 1.6h1.5m0 0h1.5m6 0h1.5m13.5 0h1.5m-12 1.4h1.5m-10.5 1.6h1.5m3 0h1.5m12 0h1.5m-7.5 1.4h1.5m3 0h1.5m-3 1.6h1.5m0 0h1.5m-18 1.4h1.5m19.5 0h1.5m-25.5 1.6h1.5m10.5 0h1.5m-1.5 4.4h1.5m1.5 3h1.5m4.5 19.6h1.5m-4.5 7.4h1.5" stroke="#5d75ec" stroke-width="1.5"/>
<path d="M469.9 63.6h1.5m3 6h1.5m4.5 0h1.5m-60 34.4h1.5m21 0h1.5m-1.5 3h1.5m-22.5 1.6h1.5m4.5 0h1.5m4.5 0h1.5m4.5 0h1.5m0 0h1.5m-25.5 1.4h1.5m10.5 0h1.5m-9 1.6h1.5m18 3h1.5m-1.5 10.4h1.5m0 1.6h1.5m-7.5 25.4h1.5m-12 1.6h1.5m0 0h1.5m1.5 0h1.5m-13.5 1.4h1.5m1.5 0h1.5m7.5 0h1.5m-7.5 3h1.5m6 0h1.5m0 0h1.5m4.5 0h1.5m-24 1.6h1.5m19.5 0h1.5m3 0h1.5m-18 1.4h1.5m0 1.6h1.5m-1.5 1.4h1.5m-12 1.6h1.5m1.5 1.4h1.5m3 0h1.5m1.5 0h1.5m0 1.6h1.5m10.5 0h1.5m-25.5 1.4h1.5m1.5 0h1.5m9 0h1.5m6 0h1.5m1.5 0h1.5m-16.5 3h1.5m6 0h1.5m7.5 6h1.5m-10.5 1.6h1.5m-15 1.4h1.5m18 0h1.5m0 3h1.5m-21 1.6h1.5m-3 1.4h1.5m12 9h1.5m-7.5 1.6h1.5m4.5 0h1.5" stroke="#7489ef" stroke-width="1.5"/>
<path d="M490.9 60.6h1.5m-36 1.4h1.5m9 0h1.5m-10.5 1.6h1.5m19.5 7.4h1.5m-34.5 1.6h1.5m7.5 0h1.5m1.5 1.4h1.5m19.5 0h1.5m-24 3h1.5m12 0h1.5m-3 1.6h1.5m-12 6h1.5m-1.5 1.4h1.5m7.5 1.6h1.5m-49.5 16.4h1.5m3 0h1.5m7.5 0h1.5m-13.5 4.6h1.5m9 0h1.5m-4.5 1.4h1.5m0 0h1.5m7.5 0h1.5m-13.5 3h1.5m15 0h1.5m-24 1.6h1.5m12 0h1.5m6 3h1.5m-7.5 3h1.5m-18 4.4h1.5m0 0h1.5m12 1.6h1.5m-3 9h1.5m4.5 3h1.5m0 1.4h1.5m-16.5 1.6h1.5m3 7.4h1.5m7.5 0h1.5m-19.5 1.6h1.5m4.5 0h1.5m1.5 0h1.5m1.5 0h1.5m-1.5 1.4h1.5m1.5 1.6h1.5m-15 1.4h1.5m4.5 0h1.5m4.5 0h1.5m1.5 0h1.5m-18 3h1.5m3 0h1.5m1.5 0h1.5m10.5 0h1.5m-18 1.6h1.5m0 0h1.5m0 0h1.5m0 0h1.5m4.5 0h1.5m7.5 0h1.5m-4.5 1.4h1.5m-19.5 1.6h1.5m1.5 0h1.5m12 1.4h1.5m4.5 0h1.5m-24 1.6h1.5m10.5 0h1.5m0 0h1.5m-9 1.4h1.5m-4.5 1.6h1.5m9 0h1.5m4.5 0h1.5m-15 1.4h1.5m1.5 0h1.5m4.5 0h1.5m-19.5 1.6h1.5m6 0h1.5m0 0h1.5m0 0h1.5m4.5 0h1.5m1.5 0h1.5m-10.5 1.4h1.5m1.5 0h1.5m-7.5 1.6h1.5m4.5 0h1.5m4.5 0h1.5m1.5 4.4h1.5m-7.5 6h1.5m-6 1.6h1.5m-10.5 10.4h1.5m9 0h1.5m-13.5 1.6h1.5m9 0h1.5m1.5 0h1.5m3 0h1.5" stroke="#8c9cf2" stroke-width="1.5"/>
<path d="M456.4 53h1.5m22.5 10.6h1.5m-25.5 1.4h1.5m9 1.6h1.5m-22.5 1.4h1.5m9 0h1.5m10.5 3h1.5m0 0h1.5m9 0h1.5m-3 1.6h1.5m0 0h1.5m0 0h1.5m-28.5 1.4h1.5m7.5 0h1.5m21 0h1.5m-10.5 1.6h1.5m1.5 0h1.5m24 0h1.5m-33 1.4h1.5m3 0h1.5m0 0h1.5m-36 1.6h1.5m7.5 0h1.5m1.5 0h1.5m22.5 0h1.5m-37.5 1.4h1.5m33 0h1.5m-7.5 1.6h1.5m3 1.4h1.5m-25.5 1.6h1.5m0 0h1.5m22.5 0h1.5m-36 1.4h1.5m9 0h1.5m12 0h1.5m9 0h1.5m-18 1.6h1.5m-34.5 16.4h1.5m1.5 1.6h1.5m-9 3h1.5m0 0h1.5m10.5 0h1.5m-15 1.4h1.5m7.5 0h1.5m6 0h1.5m-12 3h1.5m0 0h1.5m3 0h1.5m-12 1.6h1.5m6 0h1.5m-12 1.4h1.5m13.5 1.6h1.5m1.5 0h1.5m-22.5 1.4h1.5m9 1.6h1.5m9 6h1.5m-21 1.4h1.5m19.5 0h1.5m-13.5 4.6h1.5m-9 1.4h1.5m16.5 0h1.5m-19.5 1.6h1.5m4.5 0h1.5m1.5 0h1.5m9 0h1.5m-24 1.4h1.5m9 0h1.5m1.5 0h1.5m-1.5 1.6h1.5m-13.5 1.4h1.5m7.5 0h1.5m4.5 0h1.5m-7.5 1.6h1.5m-9 9h1.5m1.5 0h1.5m1.5 0h1.5m9 0h1.5m-24 3h1.5m6 0h1.5m6 0h1.5m1.5 0h1.5m3 0h1.5m-24 1.4h1.5m4.5 0h1.5m3 0h1.5m13.5 0h1.5m-13.5 1.6h1.5m10.5 0h1.5m-22.5 1.4h1.5m6 0h1.5m-10.5 1.6h1.5m6 0h1.5m-4.5 3h1.5m-7.5 1.4h1.5m9 0h1.5m1.5 0h1.5m0 0h1.5m6 0h1.5m-24 3h1.5m1.5 0h1.5m0 0h1.5m4.5 0h1.5m-6 1.6h1.5m1.5 0h1.5m13.5 0h1.5m-21 1.4h1.5m-3 1.6h1.5m6 0h1.5m12 0h1.5m-27 1.4h1.5m1.5 0h1.5m3 0h1.5m12 0h1.5m0 0h1.5m0 0h1.5m-22.5 1.6h1.5m12 0h1.5m4.5 0h1.5m-3 1.4h1.5m0 0h1.5m1.5 0h1.5m-13.5 1.6h1.5m0 0h1.5m9 0h1.5m-16.5 1.4h1.5m10.5 1.6h1.5m-16.5 1.4h1.5m6 0h1.5m0 0h1.5m1.5 0h1.5m-7.5 3h1.5m0 0h1.5m-3 1.6h1.5m9 0h1.5m0 0h1.5m-4.5 1.4h1.5m-15 3h1.5m3 0h1.5m6 0h1.5m3 0h1.5m-10.5 1.6h1.5m3 4.4h1.5m3 0h1.5m-19.5 1.6h1.5m0 0h1.5m3 0h1.5" stroke="#a3b0f4" stroke-width="1.5"/>
<path d="M478.9 60.6h1.5m0 1.4h1.5m-36 1.6h1.5m4.5 1.4h1.5m4.5 0h1.5m10.5 0h1.5m6 0h1.5m-7.5 1.6h1.5m0 0h1.5m-7.5 1.4h1.5m6 0h1.5m1.5 0h1.5m3 0h1.5m-34.5 1.6h1.5m7.5 0h1.5m4.5 0h1.5m4.5 0h1.5m7.5 0h1.5m-24 1.4h1.5m0 0h1.5m22.5 0h1.5m3 0h1.5m-36 1.6h1.5m3 0h1.5m0 0h1.5m4.5 0h1.5m4.5 0h1.5m-25.5 1.4h1.5m9 0h1.5m1.5 0h1.5m4.5 0h1.5m0 0h1.5m3 0h1.5m1.5 0h1.5m1.5 0h1.5m1.5 0h1.5m-36 1.6h1.5m16.5 0h1.5m1.5 0h1.5m7.5 0h1.5m9 0h1.5m-42 1.4h1.5m21 0h1.5m6 0h1.5m-28.5 1.6h1.5m15 0h1.5m0 0h1.5m1.5 0h1.5m9 0h1.5m22.5 0h1.5m-54 1.4h1.5m1.5 0h1.5m10.5 0h1.5m1.5 0h1.5m33 0h1.5m-39 1.6h1.5m1.5 0h1.5m9 0h1.5m-36 1.4h1.5m19.5 0h1.5m1.5 0h1.5m9 0h1.5m0 0h1.5m-37.5 1.6h1.5m30 0h1.5m0 0h1.5m-25.5 1.4h1.5m4.5 0h1.5m15 0h1.5m27 0h1.5m-39 1.6h1.5m-36 6h1.5m9 0h1.5m-18 9h1.5m-3 1.4h1.5m1.5 0h1.5m3 0h1.5m-12 1.6h1.5m3 1.4h1.5m9 0h1.5m-7.5 1.6h1.5m3 0h1.5m6 0h1.5m-25.5 1.4h1.5m1.5 0h1.5m0 0h1.5m13.5 0h1.5m0 0h1.5m-24 1.6h1.5m0 0h1.5m0 0h1.5m3 0h1.5m1.5 0h1.5m1.5 0h1.5m0 0h1.5m4.5 0h1.5m3 0h1.5m-16.5 1.4h1.5m0 0h1.5m9 0h1.5m1.5 0h1.5m-22.5 1.6h1.5m0 0h1.5m0 0h1.5m3 0h1.5m9 0h1.5m-24 1.4h1.5m18 0h1.5m-15 1.6h1.5m4.5 0h1.5m0 0h1.5m0 0h1.5m3 0h1.5m-19.5 1.4h1.5m1.5 0h1.5m9 0h1.5m3 0h1.5m3 0h1.5m0 0h1.5m-22.5 1.6h1.5m3 0h1.5m4.5 0h1.5m9 0h1.5m-13.5 3h1.5m6 0h1.5m-19.5 1.4h1.5m9 0h1.5m7.5 0h1.5m-24 1.6h1.5m12 0h1.5m4.5 0h1.5m0 0h1.5m-18 7.4h1.5m19.5 0h1.5m-25.5 1.6h1.5m6 0h1.5m0 0h1.5m9 0h1.5m0 0h1.5m-19.5 1.4h1.5m6 0h1.5m9 0h1.5m1.5 0h1.5m-18 1.6h1.5m3 0h1.5m0 0h1.5m-16.5 1.4h1.5m1.5 0h1.5m4.5 0h1.5m-9 1.6h1.5m16.5 0h1.5m-7.5 1.4h1.5m4.5 0h1.5m0 0h1.5m-13.5 3h1.5m-4.5 3h1.5m1.5 0h1.5m1.5 0h1.5m3 0h1.5m6 0h1.5m-25.5 1.6h1.5m-1.5 1.4h1.5m15 0h1.5m7.5 0h1.5m-24 1.6h1.5m16.5 0h1.5m-10.5 1.4h1.5m9 0h1.5m-22.5 1.6h1.5m4.5 0h1.5m7.5 0h1.5m1.5 0h1.5m0 0h1.5m-4.5 1.4h1.5m3 1.6h1.5m-9 3h1.5m12 0h1.5m-27 1.4h1.5m16.5 0h1.5m0 0h1.5m-19.5 4.6h1.5m1.5 1.4h1.5m1.5 0h1.5m-9 1.6h1.5m1.5 0h1.5m16.5 0h1.5m-19.5 1.4h1.5m4.5 0h1.5m-12 1.6h1.5m1.5 0h1.5m6 0h1.5m1.5 0h1.5m-9 1.4h1.5m6 0h1.5m-9 1.6h1.5m0 1.4h1.5m9 0h1.5m-21 1.6h1.5m0 0h1.5m3 0h1.5m7.5 0h1.5m3 0h1.5m-10.5 1.4h1.5m0 0h1.5m7.5 0h1.5m1.5 0h1.5m0 0h1.5m-22.5 1.6h1.5m3 0h1.5m15 0h1.5m-18 3h1.5m0 0h1.5m7.5 0h1.5m0 0h1.5m-13.5 1.4h1.5m13.5 0h1.5m-18 1.6h1.5m-6 1.4h1.5m7.5 0h1.5m1.5 0h1.5m0 0h1.5m1.5 0h1.5m-6 3h1.5m3 0h1.5m1.5 0h1.5m1.5 0h1.5m-3 1.6h1.5m-24 1.4h1.5m4.5 0h1.5m6 0h1.5m-12 1.6h1.5m0 0h1.5m18 0h1.5m-1.5 1.4h1.5m-7.5 1.6h1.5m4.5 0h1.5m-27 9h1.5m18 1.4h1.5m-16.5 3h1.5m13.5 0h1.5m-21 3h1.5m13.5 1.6h1.5m0 0h1.5m1.5 0h1.5m-10.5 3h1.5m64.5 0h1.5m-78 1.4h1.5m0 0h1.5m12 0h1.5m9 0h1.5" stroke="#bac4f7" stroke-width="1.5"/>
<path d="M450.4 51.6h1.5m4.5 0h1.5m0 1.4h1.5m21 0h1.5m1.5 0h1.5m15 1.6h1.5m4.5 0h1.5m-19.5 1.4h1.5m-19.5 1.6h1.5m34.5 0h1.5m0 0h1.5m-10.5 1.4h1.5m-52.5 1.6h1.5m0 0h1.5m24 0h1.5m0 0h1.5m4.5 0h1.5m16.5 0h1.5m-54 1.4h1.5m6 0h1.5m1.5 0h1.5m6 0h1.5m1.5 0h1.5m7.5 0h1.5m0 0h1.5m12 0h1.5m12 0h1.5m0 0h1.5m-58.5 1.6h1.5m3 0h1.5m0 0h1.5m6 0h1.5m3 0h1.5m1.5 0h1.5m3 0h1.5m0 0h1.5m9 0h1.5m-43.5 1.4h1.5m3 0h1.5m3 0h1.5m7.5 0h1.5m1.5 0h1.5m0 0h1.5m1.5 0h1.5m3 0h1.5m1.5 0h1.5m0 0h1.5m4.5 0h1.5m3 0h1.5m12 0h1.5m-60 1.6h1.5m3 0h1.5m3 0h1.5m0 0h1.5m0 0h1.5m1.5 0h1.5m1.5 0h1.5m3 0h1.5m4.5 0h1.5m0 0h1.5m3 0h1.5m4.5 0h1.5m-33 1.4h1.5m1.5 0h1.5m4.5 0h1.5m0 0h1.5m3 0h1.5m0 0h1.5m3 0h1.5m3 0h1.5m10.5 0h1.5m-42 1.6h1.5m1.5 0h1.5m0 0h1.5m3 0h1.5m9 0h1.5m9 0h1.5m3 0h1.5m16.5 0h1.5m-60 1.4h1.5m1.5 0h1.5m9 0h1.5m0 0h1.5m1.5 0h1.5m1.5 0h1.5m6 0h1.5m1.5 0h1.5m6 0h1.5m21 0h1.5m-61.5 1.6h1.5m1.5 0h1.5m13.5 0h1.5m1.5 0h1.5m7.5 0h1.5m7.5 0h1.5m6 0h1.5m3 0h1.5m3 0h1.5m-55.5 1.4h1.5m0 0h1.5m0 0h1.5m0 0h1.5m6 0h1.5m0 0h1.5m4.5 0h1.5m0 0h1.5m4.5 0h1.5m16.5 0h1.5m10.5 0h1.5m-55.5 1.6h1.5m3 0h1.5m0 0h1.5m3 0h1.5m1.5 0h1.5m4.5 0h1.5m1.5 0h1.5m12 0h1.5m3 0h1.5m4.5 0h1.5m-45 1.4h1.5m1.5 0h1.5m0 0h1.5m1.5 0h1.5m1.5 0h1.5m0 0h1.5m3 0h1.5m4.5 0h1.5m3 0h1.5m3 0h1.5m-40.5 1.6h1.5m1.5 0h1.5m4.5 0h1.5m4.5 0h1.5m0 0h1.5m9 0h1.5m22.5 0h1.5m3 0h1.5m1.5 0h1.5m-54 1.4h1.5m6 0h1.5m3 0h1.5m1.5 0h1.5m3 0h1.5m0 0h1.5m3 0h1.5m25.5 0h1.5m-58.5 1.6h1.5m0 0h1.5m0 0h1.5m4.5 0h1.5m0 0h1.5m0 0h1.5m0 0h1.5m4.5 0h1.5m1.5 0h1.5m9 0h1.5m15 0h1.5m7.5 0h1.5m-52.5 1.4h1.5m1.5 0h1.5m3 0h1.5m3 0h1.5m1.5 0h1.5m0 0h1.5m0 0h1.5m1.5 0h1.5m28.5 0h1.5m-58.5 1.6h1.5m0 0h1.5m10.5 0h1.5m1.5 0h1.5m1.5 0h1.5m0 0h1.5m1.5 0h1.5m0 0h1.5m4.5 0h1.5m1.5 0h1.5m-36 1.4h1.5m12 0h1.5m3 0h1.5m1.5 0h1.5m9 0h1.5m3 0h1.5m16.5 0h1.5m-55.5 1.6h1.5m3 0h1.5m0 0h1.5m0 0h1.5m10.5 0h1.5m0 0h1.5m4.5 0h1.5m1.5 0h1.5m0 0h1.5m3 0h1.5m7.5 0h1.5m9 0h1.5m-84 1.4h1.5m13.5 0h1.5m3 0h1.5m-10.5 1.6h1.5m-15 1.4h1.5m6 0h1.5m3 0h1.5m-9 1.6h1.5m0 0h1.5m4.5 0h1.5m4.5 1.4h1.5m-19.5 1.6h1.5m0 0h1.5m15 0h1.5m4.5 0h1.5m-19.5 1.4h1.5m7.5 0h1.5m0 0h1.5m6 0h1.5m-18 1.6h1.5m7.5 0h1.5m0 0h1.5m1.5 0h1.5m-15 1.4h1.5m3 0h1.5m4.5 0h1.5m58.5 0h1.5m-67.5 1.6h1.5m30 0h1.5m-25.5 1.4h1.5m0 0h1.5m0 0h1.5m-25.5 1.6h1.5m4.5 0h1.5m6 0h1.5m4.5 0h1.5m3 0h1.5m0 0h1.5m-25.5 1.4h1.5m0 0h1.5m6 0h1.5m9 0h1.5m0 0h1.5m-21 3h1.5m4.5 1.6h1.5m6 0h1.5m0 0h1.5m4.5 0h1.5m-25.5 1.4h1.5m0 0h1.5m3 0h1.5m1.5 0h1.5m6 0h1.5m3 0h1.5m-19.5 1.6h1.5m9 0h1.5m6 0h1.5m-21 1.4h1.5m4.5 0h1.5m0 0h1.5m0 0h1.5m0 0h1.5m0 0h1.5m1.5 0h1.5m4.5 0h1.5m0 0h1.5m-25.5 1.6h1.5m1.5 0h1.5m4.5 0h1.5m15 0h1.5m-18 1.4h1.5m0 0h1.5m1.5 0h1.5m7.5 0h1.5m-21 1.6h1.5m3 0h1.5m1.5 0h1.5m7.5 0h1.5m0 0h1.5m1.5 0h1.5m-25.5 1.4h1.5m0 0h1.5m9 0h1.5m1.5 0h1.5m3 0h1.5m3 0h1.5m-25.5 1.6h1.5m0 0h1.5m4.5 0h1.5m6 0h1.5m3 0h1.5m1.5 0h1.5m0 0h1.5m-16.5 1.4h1.5m0 0h1.5m0 0h1.5m1.5 0h1.5m3 0h1.5m0 0h1.5m-19.5 1.6h1.5m1.5 0h1.5m0 0h1.5m0 0h1.5m0 0h1.5m-12 1.4h1.5m0 0h1.5m0 0h1.5m1.5 0h1.5m0 0h1.5m1.5 0h1.5m3 0h1.5m0 0h1.5m0 0h1.5m4.5 0h1.5m-22.5 1.6h1.5m18 0h1.5m0 0h1.5m-22.5 1.4h1.5m6 0h1.5m3 0h1.5m0 0h1.5m-18 1.6h1.5m6 0h1.5m0 0h1.5m0 0h1.5m3 0h1.5m0 0h1.5m1.5 0h1.5m0 0h1.5m0 0h1.5m1.5 0h1.5m-19.5 1.4h1.5m6 0h1.5m3 0h1.5m-4.5 1.6h1.5m0 0h1.5m0 0h1.5m3 0h1.5m-25.5 1.4h1.5m6 0h1.5m10.5 0h1.5m3 0h1.5m-21 1.6h1.5m1.5 0h1.5m1.5 0h1.5m0 0h1.5m7.5 0h1.5m-16.5 1.4h1.5m0 0h1.5m7.5 0h1.5m4.5 0h1.5m1.5 0h1.5m16.5 0h1.5m-34.5 1.6h1.5m4.5 0h1.5m0 0h1.5m3 0h1.5m-24 1.4h1.5m1.5 0h1.5m4.5 1.6h1.5m3 0h1.5m0 0h1.5m3 0h1.5m4.5 0h1.5m-25.5 1.4h1.5m1.5 0h1.5m0 0h1.5m-6 1.6h1.5m0 0h1.5m6 0h1.5m4.5 0h1.5m1.5 0h1.5m0 0h1.5m-22.5 1.4h1.5m0 0h1.5m0 0h1.5m3 0h1.5m12 0h1.5m0 0h1.5m1.5 0h1.5m-24 1.6h1.5m10.5 0h1.5m-15 1.4h1.5m1.5 0h1.5m0 0h1.5m0 0h1.5m0 0h1.5m0 0h1.5m3 0h1.5m4.5 0h1.5m0 0h1.5m0 0h1.5m-24 1.6h1.5m1.5 0h1.5m-6 3h1.5m7.5 0h1.5m-7.5 1.4h1.5m13.5 3h1.5m-1.5 1.6h1.5m-19.5 1.4h1.5m3 0h1.5m3 0h1.5m7.5 0h1.5m-19.5 3h1.5m16.5 0h1.5m-19.5 1.6h1.5m0 0h1.5m10.5 0h1.5m-13.5 1.4h1.5m19.5 0h1.5m-3 1.6h1.5m-21 1.4h1.5m55.5 0h1.5m-60 1.6h1.5m9 0h1.5m6 0h1.5m1.5 0h1.5m-22.5 1.4h1.5m1.5 0h1.5m1.5 0h1.5m9 0h1.5m1.5 0h1.5m3 0h1.5m-19.5 1.6h1.5m3 0h1.5m6 0h1.5m1.5 0h1.5m-21 1.4h1.5m1.5 0h1.5m7.5 0h1.5m0 0h1.5m4.5 0h1.5m1.5 0h1.5m-16.5 1.6h1.5m1.5 0h1.5m0 0h1.5m6 0h1.5m1.5 0h1.5m-24 1.4h1.5m3 0h1.5m1.5 0h1.5m3 0h1.5m58.5 0h1.5m-72 1.6h1.5m1.5 0h1.5m-6 1.4h1.5m1.5 0h1.5m0 0h1.5m0 0h1.5m0 0h1.5m0 0h1.5m0 0h1.5m4.5 0h1.5m0 0h1.5m0 0h1.5m0 0h1.5m1.5 0h1.5m-25.5 1.6h1.5m4.5 0h1.5m6 0h1.5m0 0h1.5m-18 1.4h1.5m0 0h1.5m1.5 0h1.5m4.5 0h1.5m0 0h1.5m0 0h1.5m0 0h1.5m0 0h1.5m1.5 0h1.5m0 0h1.5m3 0h1.5m-25.5 1.6h1.5m-3 1.4h1.5m0 0h1.5m1.5 0h1.5m4.5 0h1.5m10.5 0h1.5m-22.5 1.6h1.5m12 0h1.5m4.5 0h1.5m1.5 0h1.5m39 0h1.5m-60 1.4h1.5m1.5 0h1.5m3 0h1.5m1.5 0h1.5m12 0h1.5m-24 1.6h1.5m1.5 0h1.5m3 0h1.5m18 0h1.5m-36 1.4h1.5m3 0h1.5m3 0h1.5m1.5 0h1.5m6 0h1.5m1.5 0h1.5m-24 1.6h1.5m1.5 0h1.5m19.5 0h1.5m-13.5 1.4h1.5m3 0h1.5m1.5 0h1.5m-21 1.6h1.5m6 0h1.5m0 0h1.5m3 0h1.5m6 0h1.5m1.5 0h1.5m-10.5 1.4h1.5m7.5 0h1.5m61.5 1.6h1.5m-79.5 1.4h1.5m0 0h1.5m1.5 0h1.5m0 0h1.5m4.5 0h1.5m-9 1.6h1.5m1.5 0h1.5m0 0h1.5m9 0h1.5m-27 1.4h1.5m61.5 0h1.5m-61.5 1.6h1.5m27 0h1.5m-28.5 1.4h1.5m7.5 0h1.5m6 0h1.5m39 0h1.5m-64.5 1.6h1.5m3 0h1.5m0 0h1.5m9 0h1.5m-19.5 3h1.5m1.5 0h1.5m9 0h1.5m1.5 0h1.5m-12 1.4h1.5m3 0h1.5m1.5 0h1.5m7.5 0h1.5m1.5 0h1.5m-27 1.6h1.5m6 0h1.5m1.5 0h1.5m1.5 0h1.5m7.5 0h1.5m0 0h1.5m0 0h1.5m-4.5 1.4h1.5m16.5 0h1.5m-28.5 1.6h1.5m19.5 0h1.5m-28.5 1.4h1.5m0 0h1.5m3 0h1.5m1.5 0h1.5m0 0h1.5m3 0h1.5" stroke="#d1d8fa" stroke-width="1.5"/>
<path d="M445.9 51.6h1.5m0 0h1.5m3 0h1.5m0 0h1.5m3 0h1.5m0 0h1.5m1.5 0h1.5m3 0h1.5m3 0h1.5m1.5 0h1.5m4.5 0h1.5m4.5 0h1.5m1.5 0h1.5m0 0h1.5m3 0h1.5m1.5 0h1.5m3 0h1.5m1.5 0h1.5m-61.5 1.4h1.5m3 0h1.5m3 0h1.5m10.5 0h1.5m1.5 0h1.5m6 0h1.5m16.5 0h1.5m0 0h1.5m0 0h1.5m0 0h1.5m1.5 0h1.5m1.5 0h1.5m0 0h1.5m-60 1.6h1.5m4.5 0h1.5m0 0h1.5m0 0h1.5m10.5 0h1.5m0 0h1.5m1.5 0h1.5m3 0h1.5m1.5 0h1.5m3 0h1.5m0 0h1.5m6 0h1.5m0 0h1.5m6 0h1.5m-60 1.4h1.5m0 0h1.5m1.5 0h1.5m6 0h1.5m0 0h1.5m3 0h1.5m0 0h1.5m0 0h1.5m1.5 0h1.5m1.5 0h1.5m6 0h1.5m0 0h1.5m0 0h1.5m7.5 0h1.5m1.5 0h1.5m9 0h1.5m0 0h1.5m-61.5 1.6h1.5m4.5 0h1.5m1.5 0h1.5m3 0h1.5m13.5 0h1.5m0 0h1.5m7.5 0h1.5m0 0h1.5m9 0h1.5m0 0h1.5m3 0h1.5m-60 1.4h1.5m0 0h1.5m9 0h1.5m1.5 0h1.5m1.5 0h1.5m0 0h1.5m0 0h1.5m0 0h1.5m1.5 0h1.5m1.5 0h1.5m1.5 0h1.5m0 0h1.5m0 0h1.5m0 0h1.5m3 0h1.5m1.5 0h1.5m0 0h1.5m0 0h1.5m13.5 0h1.5m-55.5 1.6h1.5m6 0h1.5m0 0h1.5m6 0h1.5m0 0h1.5m0 0h1.5m6 0h1.5m13.5 0h1.5m9 0h1.5m-61.5 1.4h1.5m1.5 0h1.5m1.5 0h1.5m0 0h1.5m4.5 0h1.5m0 0h1.5m0 0h1.5m0 0h1.5m4.5 0h1.5m3 0h1.5m0 0h1.5m4.5 0h1.5m1.5 0h1.5m10.5 0h1.5m1.5 0h1.5m1.5 0h1.5m-55.5 1.6h1.5m1.5 0h1.5m6 0h1.5m1.5 0h1.5m1.5 0h1.5m0 0h1.5m6 0h1.5m3 0h1.5m1.5 0h1.5m1.5 0h1.5m0 0h1.5m1.5 0h1.5m0 0h1.5m4.5 0h1.5m4.5 0h1.5m0 0h1.5m0 0h1.5m0 0h1.5m-61.5 1.4h1.5m0 0h1.5m9 0h1.5m1.5 0h1.5m9 0h1.5m0 0h1.5m6 0h1.5m1.5 0h1.5m6 0h1.5m3 0h1.5m0 0h1.5m6 0h1.5m0 0h1.5m-60 1.6h1.5m1.5 0h1.5m0 0h1.5m4.5 0h1.5m4.5 0h1.5m3 0h1.5m6 0h1.5m0 0h1.5m4.5 0h1.5m1.5 0h1.5m1.5 0h1.5m0 0h1.5m0 0h1.5m4.5 0h1.5m1.5 0h1.5m0 0h1.5m0 0h1.5m-60 1.4h1.5m0 0h1.5m0 0h1.5m0 0h1.5m6 0h1.5m0 0h1.5m6 0h1.5m3 0h1.5m4.5 0h1.5m4.5 0h1.5m0 0h1.5m3 0h1.5m1.5 0h1.5m0 0h1.5m1.5 0h1.5m0 0h1.5m0 0h1.5m0 0h1.5m0 0h1.5m-60 1.6h1.5m3 0h1.5m7.5 0h1.5m1.5 0h1.5m1.5 0h1.5m1.5 0h1.5m3 0h1.5m1.5 0h1.5m0 0h1.5m9 0h1.5m3 0h1.5m1.5 0h1.5m10.5 0h1.5m-61.5 1.4h1.5m1.5 0h1.5m0 0h1.5m0 0h1.5m0 0h1.5m6 0h1.5m1.5 0h1.5m4.5 0h1.5m0 0h1.5m1.5 0h1.5m10.5 0h1.5m0 0h1.5m0 0h1.5m0 0h1.5m4.5 0h1.5m0 0h1.5m4.5 0h1.5m-58.5 1.6h1.5m3 0h1.5m12 0h1.5m3 0h1.5m1.5 0h1.5m0 0h1.5m6 0h1.5m0 0h1.5m1.5 0h1.5m0 0h1.5m1.5 0h1.5m3 0h1.5m3 0h1.5m3 0h1.5m0 0h1.5m-61.5 1.4h1.5m24 0h1.5m7.5 0h1.5m1.5 0h1.5m3 0h1.5m0 0h1.5m0 0h1.5m1.5 0h1.5m1.5 0h1.5m0 0h1.5m1.5 0h1.5m0 0h1.5m-58.5 1.6h1.5m0 0h1.5m4.5 0h1.5m3 0h1.5m0 0h1.5m6 0h1.5m3 0h1.5m4.5 0h1.5m1.5 0h1.5m1.5 0h1.5m3 0h1.5m0 0h1.5m1.5 0h1.5m4.5 0h1.5m0 0h1.5m-54 1.4h1.5m0 0h1.5m0 0h1.5m30 0h1.5m3 0h1.5m3 0h1.5m1.5 0h1.5m0 0h1.5m0 0h1.5m4.5 0h1.5m0 0h1.5m0 0h1.5m-55.5 1.6h1.5m6 0h1.5m9 0h1.5m0 0h1.5m1.5 0h1.5m0 0h1.5m7.5 0h1.5m1.5 0h1.5m0 0h1.5m0 0h1.5m0 0h1.5m0 0h1.5m3 0h1.5m6 0h1.5m-60 1.4h1.5m6 0h1.5m1.5 0h1.5m1.5 0h1.5m0 0h1.5m6 0h1.5m3 0h1.5m0 0h1.5m3 0h1.5m3 0h1.5m1.5 0h1.5m0 0h1.5m3 0h1.5m3 0h1.5m0 0h1.5m0 0h1.5m3 0h1.5m-63 1.6h1.5m0 0h1.5m4.5 0h1.5m1.5 0h1.5m6 0h1.5m0 0h1.5m9 0h1.5m0 0h1.5m0 0h1.5m6 0h1.5m3 0h1.5m4.5 0h1.5m4.5 0h1.5m-55.5 1.4h1.5m0 0h1.5m0 0h1.5m0 0h1.5m0 0h1.5m4.5 0h1.5m0 0h1.5m1.5 0h1.5m9 0h1.5m15 0h1.5m0 0h1.5m1.5 0h1.5m6 0h1.5m0 0h1.5m-58.5 1.6h1.5m10.5 0h1.5m0 0h1.5m1.5 0h1.5m1.5 0h1.5m16.5 0h1.5m4.5 0h1.5m0 0h1.5m1.5 0h1.5m6 0h1.5m0 0h1.5m0 0h1.5m-61.5 1.4h1.5m0 0h1.5m1.5 0h1.5m6 0h1.5m1.5 0h1.5m1.5 0h1.5m0 0h1.5m6 0h1.5m0 0h1.5m13.5 0h1.5m0 0h1.5m4.5 0h1.5m3 0h1.5m-58.5 1.6h1.5m1.5 0h1.5m1.5 0h1.5m7.5 0h1.5m0 0h1.5m9 0h1.5m0 0h1.5m3 0h1.5m10.5 0h1.5m1.5 0h1.5m4.5 0h1.5m1.5 0h1.5m0 0h1.5m1.5 0h1.5m-90 1.4h1.5m0 0h1.5m3 0h1.5m0 0h1.5m1.5 0h1.5m1.5 0h1.5m0 0h1.5m0 0h1.5m3 0h1.5m0 0h1.5m1.5 0h1.5m13.5 0h1.5m12 0h1.5m9 0h1.5m16.5 0h1.5m-84 1.6h1.5m0 0h1.5m1.5 0h1.5m1.5 0h1.5m1.5 0h1.5m1.5 0h1.5m1.5 0h1.5m1.5 0h1.5m1.5 0h1.5m4.5 0h1.5m4.5 0h1.5m15 0h1.5m3 0h1.5m-37.5 1.4h1.5m0 0h1.5m0 0h1.5m1.5 0h1.5m1.5 0h1.5m7.5 0h1.5m7.5 0h1.5m6 0h1.5m-54 1.6h1.5m0 0h1.5m0 0h1.5m4.5 0h1.5m4.5 0h1.5m0 0h1.5m0 0h1.5m1.5 0h1.5m40.5 0h1.5m4.5 0h1.5m-72 1.4h1.5m0 0h1.5m1.5 0h1.5m3 0h1.5m1.5 0h1.5m1.5 0h1.5m0 0h1.5m24 0h1.5m13.5 0h1.5m10.5 0h1.5m10.5 0h1.5m0 0h1.5m-79.5 1.6h1.5m0 0h1.5m0 0h1.5m0 0h1.5m3 0h1.5m0 0h1.5m0 0h1.5m3 0h1.5m0 0h1.5m0 0h1.5m-25.5 1.4h1.5m0 0h1.5m7.5 0h1.5m0 0h1.5m7.5 0h1.5m0 0h1.5m-22.5 1.6h1.5m0 0h1.5m0 0h1.5m9 0h1.5m0 0h1.5m52.5 0h1.5m3 0h1.5m3 0h1.5m-81 1.4h1.5m0 0h1.5m3 0h1.5m7.5 0h1.5m7.5 0h1.5m3 0h1.5m19.5 0h1.5m12 0h1.5m10.5 0h1.5m-69 1.6h1.5m1.5 0h1.5m3 0h1.5m3 0h1.5m1.5 0h1.5m1.5 0h1.5m19.5 0h1.5m-30 1.4h1.5m24 0h1.5m-43.5 1.6h1.5m0 0h1.5m4.5 0h1.5m6 0h1.5m4.5 0h1.5m-19.5 1.4h1.5m0 0h1.5m6 0h1.5m0 0h1.5m1.5 0h1.5m4.5 0h1.5m28.5 0h1.5m-40.5 3h1.5m1.5 0h1.5m9 0h1.5m-18 1.6h1.5m6 0h1.5m-18 1.4h1.5m-4.5 1.6h1.5m16.5 0h1.5m-16.5 1.4h1.5m0 0h1.5m9 0h1.5m4.5 0h1.5m3 0h1.5m16.5 0h1.5m-43.5 1.6h1.5m1.5 0h1.5m1.5 0h1.5m1.5 0h1.5m4.5 0h1.5m0 0h1.5m22.5 0h1.5m-43.5 1.4h1.5m4.5 0h1.5m0 0h1.5m3 0h1.5m3 0h1.5m3 0h1.5m9 0h1.5m21 0h1.5m-55.5 1.6h1.5m0 0h1.5m9 0h1.5m4.5 0h1.5m3 0h1.5m-21 1.4h1.5m0 0h1.5m1.5 0h1.5m0 0h1.5m0 0h1.5m4.5 0h1.5m0 0h1.5m1.5 0h1.5m0 0h1.5m45 0h1.5m-67.5 1.6h1.5m4.5 0h1.5m0 0h1.5m0 0h1.5m3 0h1.5m7.5 0h1.5m7.5 0h1.5m4.5 0h1.5m-37.5 1.4h1.5m0 0h1.5m0 0h1.5m7.5 0h1.5m0 0h1.5m45 0h1.5m-64.5 1.6h1.5m1.5 0h1.5m6 0h1.5m3 0h1.5m0 0h1.5m3 0h1.5m4.5 0h1.5m51 0h1.5m-73.5 1.4h1.5m1.5 0h1.5m0 0h1.5m4.5 0h1.5m0 0h1.5m0 0h1.5m40.5 0h1.5m-66 1.6h1.5m0 0h1.5m1.5 0h1.5m0 0h1.5m1.5 0h1.5m0 0h1.5m3 0h1.5m0 0h1.5m1.5 0h1.5m0 0h1.5m3 0h1.5m3 0h1.5m13.5 0h1.5m-46.5 1.4h1.5m0 0h1.5m1.5 0h1.5m6 0h1.5m0 0h1.5m3 0h1.5m0 0h1.5m0 0h1.5m0 0h1.5m0 0h1.5m0 0h1.5m43.5 0h1.5m-70.5 1.6h1.5m0 0h1.5m0 0h1.5m0 0h1.5m4.5 0h1.5m4.5 0h1.5m4.5 0h1.5m-25.5 1.4h1.5m0 0h1.5m0 0h1.5m6 0h1.5m1.5 0h1.5m3 0h1.5m1.5 0h1.5m0 0h1.5m22.5 0h1.5m-48 1.6h1.5m1.5 0h1.5m0 0h1.5m1.5 0h1.5m51 0h1.5m-60 1.4h1.5m3 0h1.5m1.5 0h1.5m0 0h1.5m3 0h1.5m4.5 0h1.5m-22.5 1.6h1.5m0 0h1.5m0 0h1.5m1.5 0h1.5m10.5 0h1.5m3 0h1.5m0 0h1.5m0 0h1.5m1.5 0h1.5m39 0h1.5m-69 1.4h1.5m7.5 0h1.5m0 0h1.5m1.5 0h1.5m1.5 0h1.5m4.5 0h1.5m19.5 0h1.5m-43.5 1.6h1.5m0 0h1.5m3 0h1.5m1.5 0h1.5m7.5 0h1.5m6 0h1.5m-28.5 1.4h1.5m1.5 0h1.5m3 0h1.5m0 0h1.5m0 0h1.5m1.5 0h1.5m6 0h1.5m0 0h1.5m0 0h1.5m52.5 0h1.5m-81 1.6h1.5m1.5 0h1.5m0 0h1.5m1.5 0h1.5m1.5 0h1.5m4.5 0h1.5m0 0h1.5m1.5 0h1.5m0 0h1.5m0 0h1.5m7.5 0h1.5m30 0h1.5m-63 1.4h1.5m3 0h1.5m1.5 0h1.5m0 0h1.5m0 0h1.5m0 0h1.5m3 0h1.5m1.5 0h1.5m0 0h1.5m0 0h1.5m3 0h1.5m42 0h1.5m-70.5 1.6h1.5m1.5 0h1.5m0 0h1.5m1.5 0h1.5m1.5 0h1.5m7.5 0h1.5m0 0h1.5m7.5 0h1.5m19.5 0h1.5m-52.5 1.4h1.5m7.5 0h1.5m0 0h1.5m1.5 0h1.5m64.5 0h1.5m-67.5 1.6h1.5m61.5 0h1.5m-79.5 1.4h1.5m7.5 0h1.5m-9 4.6h1.5m0 0h1.5m3 0h1.5m0 0h1.5m1.5 0h1.5m1.5 0h1.5m4.5 0h1.5m49.5 0h1.5m-4.5 1.4h1.5m-67.5 6h1.5m0 0h1.5m55.5 0h1.5m-19.5 1.6h1.5m-45 3h1.5m4.5 0h1.5m7.5 0h1.5m69 0h1.5m-72 3h1.5m-15 1.4h1.5m12 0h1.5m-13.5 1.6h1.5m69 0h1.5m-76.5 1.4h1.5m1.5 0h1.5m3 0h1.5m0 0h1.5m0 0h1.5m4.5 0h1.5m45 0h1.5m-66 1.6h1.5m0 0h1.5m0 0h1.5m0 0h1.5m3 0h1.5m1.5 0h1.5m3 0h1.5m1.5 0h1.5m1.5 0h1.5m0 0h1.5m9 0h1.5m-36 1.4h1.5m4.5 0h1.5m4.5 0h1.5m4.5 0h1.5m-16.5 1.6h1.5m6 0h1.5m6 0h1.5m-19.5 1.4h1.5m3 0h1.5m-4.5 1.6h1.5m4.5 0h1.5m1.5 0h1.5m0 0h1.5m0 0h1.5m0 0h1.5m0 0h1.5m1.5 0h1.5m0 0h1.5m1.5 0h1.5m21 0h1.5m-13.5 1.4h1.5m-36 1.6h1.5m4.5 0h1.5m10.5 0h1.5m3 0h1.5m12 0h1.5m-31.5 1.4h1.5m37.5 0h1.5m-46.5 1.6h1.5m3 0h1.5m3 0h1.5m1.5 0h1.5m0 0h1.5m0 0h1.5m3 0h1.5m0 0h1.5m0 0h1.5m0 0h1.5m0 0h1.5m51 0h1.5m-73.5 1.4h1.5m0 0h1.5m9 0h1.5m-19.5 1.6h1.5m1.5 0h1.5m0 0h1.5m0 0h1.5m0 0h1.5m1.5 0h1.5m0 0h1.5m0 0h1.5m4.5 0h1.5m51 0h1.5m-73.5 1.4h1.5m0 0h1.5m0 0h1.5m0 0h1.5m4.5 0h1.5m6 0h1.5m1.5 0h1.5m1.5 0h1.5m7.5 0h1.5m-34.5 1.6h1.5m0 0h1.5m1.5 0h1.5m0 0h1.5m1.5 0h1.5m3 0h1.5m1.5 0h1.5m0 0h1.5m0 0h1.5m0 0h1.5m0 0h1.5m1.5 0h1.5m-21 1.4h1.5m3 0h1.5m12 0h1.5m16.5 0h1.5m-25.5 1.6h1.5m1.5 0h1.5m-22.5 1.4h1.5m3 0h1.5m4.5 0h1.5m3 0h1.5m4.5 0h1.5m30 0h1.5m0 0h1.5m-54 1.6h1.5m0 0h1.5m1.5 0h1.5m3 0h1.5m0 0h1.5m1.5 0h1.5m0 0h1.5m4.5 0h1.5m-21 1.4h1.5m0 0h1.5m0 0h1.5m1.5 0h1.5m0 0h1.5m0 0h1.5m0 0h1.5m1.5 0h1.5m0 0h1.5m0 0h1.5m0 0h1.5m0 0h1.5m1.5 0h1.5m37.5 0h1.5m4.5 0h1.5m9 0h1.5m-81 1.6h1.5m0 0h1.5m3 0h1.5m1.5 0h1.5m0 0h1.5m1.5 0h1.5m0 0h1.5m4.5 0h1.5m49.5 0h1.5m-75 1.4h1.5m0 0h1.5m0 0h1.5m0 0h1.5m1.5 0h1.5m3 0h1.5m3 0h1.5m4.5 0h1.5m1.5 0h1.5m-27 1.6h1.5m0 0h1.5m0 0h1.5m0 0h1.5m0 0h1.5m3 0h1.5m0 0h1.5m1.5 0h1.5m3 0h1.5m1.5 0h1.5m1.5 0h1.5m7.5 0h1.5m-31.5 1.4h1.5m0 0h1.5m1.5 0h1.5m0 0h1.5m1.5 0h1.5m1.5 0h1.5m1.5 0h1.5m0 0h1.5m0 0h1.5m6 0h1.5m3 0h1.5m43.5 0h1.5m-73.5 1.6h1.5m7.5 0h1.5m1.5 0h1.5m0 0h1.5m0 0h1.5m1.5 0h1.5m46.5 0h1.5m-73.5 1.4h1.5m3 0h1.5m1.5 0h1.5m0 0h1.5m1.5 0h1.5m3 0h1.5m1.5 0h1.5m3 0h1.5m43.5 0h1.5m0 0h1.5m-64.5 1.6h1.5m1.5 0h1.5m0 0h1.5m0 0h1.5m0 0h1.5m4.5 0h1.5m0 0h1.5m0 0h1.5m-24 1.4h1.5m1.5 0h1.5m7.5 0h1.5m0 0h1.5m27 0h1.5m1.5 0h1.5m-48 1.6h1.5m4.5 0h1.5m0 0h1.5m9 0h1.5m0 0h1.5m0 0h1.5m1.5 0h1.5m40.5 0h1.5m-67.5 1.4h1.5m0 0h1.5m0 0h1.5m3 0h1.5m1.5 0h1.5m1.5 0h1.5m1.5 0h1.5m0 0h1.5m0 0h1.5m1.5 0h1.5m9 0h1.5m28.5 0h1.5m-60 1.6h1.5m1.5 0h1.5m45 0h1.5m-57 1.4h1.5m1.5 0h1.5m0 0h1.5m6 0h1.5m0 0h1.5m1.5 0h1.5m-18 1.6h1.5m0 0h1.5m3 0h1.5m0 0h1.5m0 0h1.5m4.5 0h1.5m0 0h1.5m0 0h1.5m0 0h1.5m1.5 0h1.5m1.5 0h1.5m33 0h1.5m-58.5 1.4h1.5m6 0h1.5m0 0h1.5m7.5 0h1.5m1.5 0h1.5m37.5 0h1.5" stroke="#e8ebfc" stroke-width="1.5"/>
<path d="M439.9 51.6h1.5m22.5 0h1.5m31.5 0h1.5m1.5 0h1.5m-82.5 1.4h1.5m9 0h1.5m6 0h1.5m1.5 0h1.5m0 0h1.5m0 0h1.5m16.5 0h1.5m0 0h1.5m0 0h1.5m22.5 0h1.5m-57 1.6h1.5m6 0h1.5m1.5 0h1.5m9 0h1.5m30 0h1.5m16.5 0h1.5m3 0h1.5m-88.5 1.4h1.5m1.5 0h1.5m16.5 0h1.5m0 0h1.5m52.5 0h1.5m6 0h1.5m-82.5 1.6h1.5m1.5 0h1.5m0 0h1.5m0 0h1.5m0 0h1.5m0 0h1.5m6 0h1.5m0 0h1.5m1.5 0h1.5m0 0h1.5m54 0h1.5m0 0h1.5m-82.5 1.4h1.5m13.5 0h1.5m1.5 0h1.5m-4.5 1.6h1.5m3 0h1.5m12 0h1.5m3 0h1.5m6 0h1.5m25.5 0h1.5m-58.5 1.4h1.5m45 0h1.5m9 0h1.5m-58.5 1.6h1.5m3 0h1.5m30 0h1.5m-42 1.4h1.5m6 0h1.5m12 0h1.5m34.5 0h1.5m10.5 0h1.5m0 0h1.5m-21 1.6h1.5m-46.5 1.4h1.5m1.5 0h1.5m0 0h1.5m-10.5 1.6h1.5m1.5 0h1.5m-1.5 1.4h1.5m0 0h1.5m0 0h1.5m1.5 0h1.5m57 0h1.5m-43.5 1.6h1.5m43.5 0h1.5m-73.5 1.4h1.5m4.5 0h1.5m1.5 0h1.5m1.5 0h1.5m-12 1.6h1.5m0 0h1.5m4.5 0h1.5m0 1.4h1.5m58.5 0h1.5m-84 3h1.5m3 0h1.5m1.5 0h1.5m4.5 0h1.5m3 0h1.5m0 0h1.5m0 0h1.5m0 0h1.5m3 0h1.5m39 0h1.5m9 0h1.5m-63 1.6h1.5m1.5 0h1.5m1.5 0h1.5m28.5 0h1.5m18 0h1.5m-60 1.4h1.5m6 0h1.5m57 0h1.5m-67.5 1.6h1.5m6 0h1.5m0 0h1.5m-10.5 1.4h1.5m1.5 0h1.5m3 0h1.5m0 0h1.5m28.5 0h1.5m4.5 0h1.5m-46.5 1.6h1.5m1.5 0h1.5m0 0h1.5m1.5 0h1.5m7.5 1.4h1.5m3 0h1.5m0 0h1.5m13.5 0h1.5m1.5 0h1.5m1.5 0h1.5m0 0h1.5m4.5 0h1.5m1.5 0h1.5m0 0h1.5m1.5 0h1.5m0 0h1.5m4.5 0h1.5m1.5 0h1.5m3 0h1.5m-84 1.6h1.5m13.5 0h1.5m1.5 0h1.5m13.5 0h1.5m0 0h1.5m0 0h1.5m0 0h1.5m0 0h1.5m1.5 0h1.5m0 0h1.5m1.5 0h1.5m0 0h1.5m1.5 0h1.5m7.5 0h1.5m1.5 0h1.5m1.5 0h1.5m1.5 0h1.5m3 0h1.5m0 0h1.5m3 0h1.5m0 0h1.5m0 0h1.5m-63 1.4h1.5m1.5 0h1.5m1.5 0h1.5m4.5 0h1.5m1.5 0h1.5m6 0h1.5m4.5 0h1.5m0 0h1.5m3 0h1.5m7.5 0h1.5m0 0h1.5m6 0h1.5m0 0h1.5m0 0h1.5m1.5 0h1.5m1.5 0h1.5m-61.5 1.6h1.5m1.5 0h1.5m1.5 0h1.5m4.5 0h1.5m0 0h1.5m4.5 0h1.5m7.5 0h1.5m3 0h1.5m3 0h1.5m6 0h1.5m1.5 0h1.5m1.5 0h1.5m0 0h1.5m6 0h1.5m-84 1.4h1.5m6 0h1.5m9 0h1.5m0 0h1.5m0 0h1.5m1.5 0h1.5m0 0h1.5m0 0h1.5m1.5 0h1.5m9 0h1.5m0 0h1.5m0 0h1.5m3 0h1.5m3 0h1.5m0 0h1.5m3 0h1.5m0 0h1.5m0 0h1.5m6 0h1.5m0 0h1.5m0 0h1.5m0 0h1.5m3 0h1.5m0 0h1.5m-60 1.6h1.5m0 0h1.5m1.5 0h1.5m0 0h1.5m3 0h1.5m0 0h1.5m0 0h1.5m0 0h1.5m3 0h1.5m0 0h1.5m0 0h1.5m1.5 0h1.5m0 0h1.5m0 0h1.5m1.5 0h1.5m1.5 0h1.5m0 0h1.5m3 0h1.5m0 0h1.5m0 0h1.5m0 0h1.5m0 0h1.5m4.5 0h1.5m0 0h1.5m1.5 0h1.5m0 0h1.5m0 0h1.5m-82.5 1.4h1.5m12 0h1.5m12 0h1.5m0 0h1.5m0 0h1.5m0 0h1.5m9 0h1.5m1.5 0h1.5m0 0h1.5m0 0h1.5m3 0h1.5m10.5 0h1.5m0 0h1.5m0 0h1.5m0 0h1.5m0 0h1.5m1.5 0h1.5m1.5 0h1.5m0 0h1.5m0 0h1.5m0 0h1.5m0 0h1.5m-82.5 1.6h1.5m15 0h1.5m4.5 0h1.5m1.5 0h1.5m0 0h1.5m0 0h1.5m1.5 0h1.5m3 0h1.5m1.5 0h1.5m1.5 0h1.5m0 0h1.5m6 0h1.5m0 0h1.5m7.5 0h1.5m6 0h1.5m4.5 0h1.5m-76.5 1.4h1.5m13.5 0h1.5m9 0h1.5m3 0h1.5m0 0h1.5m0 0h1.5m0 0h1.5m1.5 0h1.5m0 0h1.5m0 0h1.5m1.5 0h1.5m0 0h1.5m3 0h1.5m0 0h1.5m0 0h1.5m0 0h1.5m3 0h1.5m1.5 0h1.5m1.5 0h1.5m0 0h1.5m1.5 0h1.5m9 0h1.5m0 0h1.5m-73.5 1.6h1.5m31.5 0h1.5m0 0h1.5m7.5 0h1.5m7.5 0h1.5m4.5 0h1.5m3 0h1.5m0 0h1.5m0 0h1.5m0 0h1.5m-54 1.4h1.5m4.5 0h1.5m3 0h1.5m9 0h1.5m0 0h1.5m9 0h1.5m0 0h1.5m0 0h1.5m0 0h1.5m0 0h1.5m0 0h1.5m0 0h1.5m3 0h1.5m0 0h1.5m1.5 0h1.5m0 0h1.5m-57 1.6h1.5m0 0h1.5m3 0h1.5m7.5 0h1.5m3 0h1.5m0 0h1.5m1.5 0h1.5m0 0h1.5m3 0h1.5m9 0h1.5m1.5 0h1.5m0 0h1.5m0 0h1.5m0 0h1.5m0 0h1.5m1.5 0h1.5m0 0h1.5m0 0h1.5m-85.5 1.4h1.5m31.5 0h1.5m0 0h1.5m4.5 0h1.5m0 0h1.5m13.5 0h1.5m12 0h1.5m1.5 0h1.5m0 0h1.5m0 0h1.5m3 0h1.5m0 0h1.5m1.5 0h1.5m1.5 0h1.5m-61.5 1.6h1.5m3 0h1.5m10.5 0h1.5m7.5 0h1.5m0 0h1.5m1.5 0h1.5m0 0h1.5m3 0h1.5m3 0h1.5m0 0h1.5m0 0h1.5m1.5 0h1.5m0 0h1.5m0 0h1.5m0 0h1.5m1.5 0h1.5m0 0h1.5m3 0h1.5m-55.5 1.4h1.5m4.5 0h1.5m4.5 0h1.5m16.5 0h1.5m4.5 0h1.5m0 0h1.5m6 0h1.5m0 0h1.5m0 0h1.5m4.5 0h1.5m-60 1.6h1.5m3 0h1.5m6 0h1.5m3 0h1.5m1.5 0h1.5m6 0h1.5m6 0h1.5m4.5 0h1.5m0 0h1.5m1.5 0h1.5m0 0h1.5m1.5 0h1.5m0 0h1.5m0 0h1.5m0 0h1.5m3 0h1.5m-55.5 1.4h1.5m7.5 0h1.5m10.5 0h1.5m3 0h1.5m4.5 0h1.5m4.5 0h1.5m0 0h1.5m1.5 0h1.5m0 0h1.5m0 0h1.5m0 0h1.5m0 0h1.5m1.5 0h1.5m1.5 0h1.5m-57 1.6h1.5m0 0h1.5m4.5 0h1.5m1.5 0h1.5m3 0h1.5m4.5 0h1.5m0 0h1.5m0 0h1.5m7.5 0h1.5m3 0h1.5m0 0h1.5m1.5 0h1.5m3 0h1.5m0 0h1.5m0 0h1.5m4.5 0h1.5m-63 1.4h1.5m1.5 0h1.5m1.5 0h1.5m0 0h1.5m10.5 0h1.5m9 0h1.5m6 0h1.5m3 0h1.5m0 0h1.5m0 0h1.5m0 0h1.5m1.5 0h1.5m0 0h1.5m0 0h1.5m1.5 0h1.5m0 0h1.5m-55.5 1.6h1.5m0 0h1.5m1.5 0h1.5m4.5 0h1.5m1.5 0h1.5m1.5 0h1.5m0 0h1.5m0 0h1.5m1.5 0h1.5m0 0h1.5m0 0h1.5m7.5 0h1.5m0 0h1.5m0 0h1.5m0 0h1.5m7.5 0h1.5m1.5 0h1.5m0 0h1.5m1.5 0h1.5m0 0h1.5m0 0h1.5m-72 1.4h1.5m13.5 0h1.5m1.5 0h1.5m3 0h1.5m3 0h1.5m0 0h1.5m3 0h1.5m4.5 0h1.5m0 0h1.5m4.5 0h1.5m0 0h1.5m1.5 0h1.5m6 0h1.5m3 0h1.5m6 0h1.5m-61.5 1.6h1.5m0 0h1.5m1.5 0h1.5m0 0h1.5m4.5 0h1.5m0 0h1.5m0 0h1.5m0 0h1.5m1.5 0h1.5m0 0h1.5m3 0h1.5m0 0h1.5m3 0h1.5m3 0h1.5m4.5 0h1.5m3 0h1.5m4.5 0h1.5m1.5 0h1.5m1.5 0h1.5m0 0h1.5m-63 1.4h1.5m0 0h1.5m10.5 0h1.5m0 0h1.5m0 0h1.5m0 0h1.5m0 0h1.5m4.5 0h1.5m1.5 0h1.5m0 0h1.5m1.5 0h1.5m1.5 0h1.5m1.5 0h1.5m0 0h1.5m1.5 0h1.5m0 0h1.5m1.5 0h1.5m6 0h1.5m0 0h1.5m3 0h1.5m-63 1.6h1.5m10.5 0h1.5m1.5 0h1.5m3 0h1.5m1.5 0h1.5m1.5 0h1.5m4.5 0h1.5m0 0h1.5m0 0h1.5m0 0h1.5m0 0h1.5m4.5 0h1.5m3 0h1.5m3 0h1.5m1.5 0h1.5m1.5 0h1.5m1.5 0h1.5m-60 1.4h1.5m0 0h1.5m1.5 0h1.5m6 0h1.5m0 0h1.5m1.5 0h1.5m1.5 0h1.5m3 0h1.5m13.5 0h1.5m1.5 0h1.5m0 0h1.5m1.5 0h1.5m3 0h1.5m0 0h1.5m0 0h1.5m0 0h1.5m-60 1.6h1.5m1.5 0h1.5m0 0h1.5m0 0h1.5m3 0h1.5m1.5 0h1.5m0 0h1.5m0 0h1.5m4.5 0h1.5m4.5 0h1.5m3 0h1.5m3 0h1.5m3 0h1.5m0 0h1.5m0 0h1.5m1.5 0h1.5m6 0h1.5m0 0h1.5m1.5 0h1.5m-60 1.4h1.5m0 0h1.5m3 0h1.5m4.5 0h1.5m1.5 0h1.5m0 0h1.5m3 0h1.5m3 0h1.5m1.5 0h1.5m0 0h1.5m10.5 0h1.5m0 0h1.5m0 0h1.5m1.5 0h1.5m0 0h1.5m6 0h1.5m1.5 0h1.5m-82.5 1.6h1.5m27 0h1.5m0 0h1.5m1.5 0h1.5m0 0h1.5m0 0h1.5m1.5 0h1.5m0 0h1.5m0 0h1.5m0 0h1.5m3 0h1.5m1.5 0h1.5m0 0h1.5m4.5 0h1.5m1.5 0h1.5m1.5 0h1.5m3 0h1.5m3 0h1.5m3 0h1.5m-81 1.4h1.5m21 0h1.5m10.5 0h1.5m0 0h1.5m0 0h1.5m1.5 0h1.5m0 0h1.5m0 0h1.5m6 0h1.5m0 0h1.5m0 0h1.5m4.5 0h1.5m4.5 0h1.5m0 0h1.5m0 0h1.5m0 0h1.5m1.5 0h1.5m0 0h1.5m0 0h1.5m1.5 0h1.5m-60 1.6h1.5m0 0h1.5m3 0h1.5m6 0h1.5m0 0h1.5m3 0h1.5m0 0h1.5m3 0h1.5m0 0h1.5m4.5 0h1.5m1.5 0h1.5m1.5 0h1.5m3 0h1.5m3 0h1.5m1.5 0h1.5m1.5 0h1.5m0 0h1.5m1.5 0h1.5m1.5 0h1.5m-63 1.4h1.5m3 0h1.5m1.5 0h1.5m0 0h1.5m1.5 0h1.5m1.5 0h1.5m0 0h1.5m7.5 0h1.5m0 0h1.5m1.5 0h1.5m1.5 0h1.5m1.5 0h1.5m3 0h1.5m1.5 0h1.5m1.5 0h1.5m0 0h1.5m1.5 0h1.5m0 0h1.5m0 0h1.5m6 0h1.5m-63 1.6h1.5m0 0h1.5m0 0h1.5m0 0h1.5m0 0h1.5m1.5 0h1.5m1.5 0h1.5m9 0h1.5m3 0h1.5m1.5 0h1.5m3 0h1.5m0 0h1.5m0 0h1.5m3 0h1.5m0 0h1.5m0 0h1.5m0 0h1.5m0 0h1.5m3 0h1.5m4.5 0h1.5m0 0h1.5m-61.5 1.4h1.5m0 0h1.5m3 0h1.5m0 0h1.5m4.5 0h1.5m0 0h1.5m1.5 0h1.5m1.5 0h1.5m0 0h1.5m4.5 0h1.5m0 0h1.5m0 0h1.5m3 0h1.5m0 0h1.5m4.5 0h1.5m0 0h1.5m1.5 0h1.5m0 0h1.5m3 0h1.5m1.5 0h1.5m0 0h1.5m0 0h1.5m-58.5 1.6h1.5m0 0h1.5m1.5 0h1.5m1.5 0h1.5m0 0h1.5m3 0h1.5m0 0h1.5m1.5 0h1.5m10.5 0h1.5m1.5 0h1.5m3 0h1.5m1.5 0h1.5m0 0h1.5m1.5 0h1.5m1.5 0h1.5m0 0h1.5m0 0h1.5m1.5 0h1.5m0 0h1.5m-57 1.4h1.5m9 0h1.5m0 0h1.5m3 0h1.5m3 0h1.5m3 0h1.5m3 0h1.5m0 0h1.5m1.5 0h1.5m0 0h1.5m0 0h1.5m0 0h1.5m0 0h1.5m0 0h1.5m3 0h1.5m0 0h1.5m1.5 0h1.5m0 0h1.5m1.5 0h1.5m1.5 0h1.5m-66 1.6h1.5m13.5 0h1.5m1.5 0h1.5m1.5 0h1.5m1.5 0h1.5m0 0h1.5m1.5 0h1.5m1.5 0h1.5m0 0h1.5m3 0h1.5m0 0h1.5m0 0h1.5m0 0h1.5m1.5 0h1.5m0 0h1.5m0 0h1.5m0 0h1.5m3 0h1.5m1.5 0h1.5m1.5 0h1.5m0 0h1.5m-81 1.4h1.5m0 0h1.5m19.5 0h1.5m0 0h1.5m0 0h1.5m0 0h1.5m4.5 0h1.5m0 0h1.5m1.5 0h1.5m0 0h1.5m0 0h1.5m4.5 0h1.5m0 0h1.5m0 0h1.5m0 0h1.5m0 0h1.5m0 0h1.5m3 0h1.5m0 0h1.5m1.5 0h1.5m0 0h1.5m0 0h1.5m1.5 0h1.5m0 0h1.5m0 0h1.5m1.5 0h1.5m4.5 0h1.5m0 0h1.5m-84 1.6h1.5m4.5 0h1.5m27 0h1.5m3 0h1.5m6 0h1.5m4.5 0h1.5m1.5 0h1.5m0 0h1.5m1.5 0h1.5m0 0h1.5m0 0h1.5m1.5 0h1.5m0 0h1.5m1.5 0h1.5m0 0h1.5m0 0h1.5m1.5 0h1.5m3 0h1.5m0 0h1.5m-63 1.4h1.5m0 0h1.5m1.5 0h1.5m0 0h1.5m3 0h1.5m1.5 0h1.5m0 0h1.5m1.5 0h1.5m1.5 0h1.5m1.5 0h1.5m1.5 0h1.5m1.5 0h1.5m0 0h1.5m3 0h1.5m1.5 0h1.5m0 0h1.5m0 0h1.5m1.5 0h1.5m4.5 0h1.5m0 0h1.5m3 0h1.5m1.5 0h1.5m-60 1.6h1.5m0 0h1.5m4.5 0h1.5m0 0h1.5m0 0h1.5m0 0h1.5m1.5 0h1.5m0 0h1.5m0 0h1.5m0 0h1.5m0 0h1.5m3 0h1.5m7.5 0h1.5m0 0h1.5m4.5 0h1.5m1.5 0h1.5m0 0h1.5m1.5 0h1.5m0 0h1.5m0 0h1.5m0 0h1.5m1.5 0h1.5m1.5 0h1.5m-63 1.4h1.5m1.5 0h1.5m1.5 0h1.5m6 0h1.5m0 0h1.5m10.5 0h1.5m0 0h1.5m0 0h1.5m0 0h1.5m4.5 0h1.5m0 0h1.5m1.5 0h1.5m1.5 0h1.5m0 0h1.5m0 0h1.5m0 0h1.5m1.5 0h1.5m0 0h1.5m3 0h1.5m-55.5 1.6h1.5m0 0h1.5m0 0h1.5m7.5 0h1.5m1.5 0h1.5m1.5 0h1.5m16.5 0h1.5m19.5 0h1.5m-63 1.4h1.5m1.5 0h1.5m6 0h1.5m6 0h1.5m3 0h1.5m3 0h1.5m15 0h1.5m7.5 0h1.5m0 0h1.5m0 0h1.5m4.5 0h1.5m-63 1.6h1.5m6 0h1.5m1.5 0h1.5m1.5 0h1.5m0 0h1.5m0 0h1.5m1.5 0h1.5m4.5 0h1.5m3 0h1.5m15 0h1.5m1.5 0h1.5m3 0h1.5m0 0h1.5m0 0h1.5m0 0h1.5m0 0h1.5m0 0h1.5m-61.5 1.4h1.5m0 0h1.5m9 0h1.5m0 0h1.5m0 0h1.5m1.5 0h1.5m6 0h1.5m1.5 0h1.5m10.5 0h1.5m0 0h1.5m0 0h1.5m0 0h1.5m1.5 0h1.5m1.5 0h1.5m0 0h1.5m3 0h1.5m1.5 0h1.5m-61.5 1.6h1.5m0 0h1.5m0 0h1.5m0 0h1.5m6 0h1.5m4.5 0h1.5m6 0h1.5m0 0h1.5m0 0h1.5m0 0h1.5m0 0h1.5m4.5 0h1.5m6 0h1.5m1.5 0h1.5m6 0h1.5m3 0h1.5m-55.5 1.4h1.5m18 0h1.5m9 0h1.5m3 0h1.5m0 0h1.5m3 0h1.5m0 0h1.5m0 0h1.5m3 0h1.5m-55.5 1.6h1.5m3 0h1.5m12 0h1.5m0 0h1.5m15 0h1.5m4.5 0h1.5m0 0h1.5m0 0h1.5m3 0h1.5m0 0h1.5m1.5 0h1.5m1.5 0h1.5m-58.5 1.4h1.5m24 0h1.5m1.5 0h1.5m10.5 0h1.5m1.5 0h1.5m12 0h1.5m-57 1.6h1.5m1.5 0h1.5m6 0h1.5m1.5 0h1.5m0 0h1.5m18 0h1.5m0 0h1.5m6 0h1.5m3 0h1.5m3 0h1.5m-52.5 1.4h1.5m10.5 0h1.5m0 0h1.5m22.5 0h1.5m0 0h1.5m1.5 0h1.5m1.5 0h1.5m3 0h1.5m1.5 0h1.5m0 0h1.5m0 0h1.5m-70.5 1.6h1.5m9 0h1.5m34.5 0h1.5m6 0h1.5m0 0h1.5m1.5 0h1.5m-48 1.4h1.5m10.5 0h1.5m9 0h1.5m0 0h1.5m10.5 0h1.5m3 0h1.5m4.5 0h1.5m-49.5 1.6h1.5m0 0h1.5m1.5 0h1.5m7.5 0h1.5m0 0h1.5m0 0h1.5m19.5 0h1.5m1.5 0h1.5m3 0h1.5m0 0h1.5m0 0h1.5m0 0h1.5m0 0h1.5m1.5 0h1.5m0 0h1.5m-55.5 1.4h1.5m9 0h1.5m0 0h1.5m0 0h1.5m0 0h1.5m0 0h1.5m1.5 0h1.5m15 0h1.5m1.5 0h1.5m4.5 0h1.5m0 0h1.5m0 0h1.5m4.5 0h1.5m-55.5 1.6h1.5m0 0h1.5m0 0h1.5m0 0h1.5m7.5 0h1.5m1.5 0h1.5m6 0h1.5m1.5 0h1.5m1.5 0h1.5m1.5 0h1.5m0 0h1.5m0 0h1.5m1.5 0h1.5m1.5 0h1.5m0 0h1.5m0 0h1.5m0 0h1.5m3 0h1.5m3 0h1.5m-58.5 1.4h1.5m0 0h1.5m1.5 0h1.5m9 0h1.5m1.5 0h1.5m7.5 0h1.5m0 0h1.5m12 0h1.5m3 0h1.5m0 0h1.5m4.5 0h1.5m1.5 0h1.5m-55.5 1.6h1.5m12 0h1.5m7.5 0h1.5m1.5 0h1.5m6 0h1.5m0 0h1.5m4.5 0h1.5m0 0h1.5m0 0h1.5m4.5 0h1.5m0 0h1.5m0 0h1.5m0 0h1.5m-60 1.4h1.5m1.5 0h1.5m1.5 0h1.5m7.5 0h1.5m0 0h1.5m1.5 0h1.5m1.5 0h1.5m9 0h1.5m9 0h1.5m0 0h1.5m7.5 0h1.5m0 0h1.5m0 0h1.5m3 0h1.5m-61.5 1.6h1.5m1.5 0h1.5m9 0h1.5m9 0h1.5m0 0h1.5m13.5 0h1.5m0 0h1.5m3 0h1.5m0 0h1.5m0 0h1.5m1.5 0h1.5m3 0h1.5m-58.5 1.4h1.5m16.5 0h1.5m-19.5 1.6h1.5m0 0h1.5m1.5 0h1.5m0 0h1.5m10.5 0h1.5m4.5 0h1.5m1.5 0h1.5m0 0h1.5m0 0h1.5m6 0h1.5m3 0h1.5m0 0h1.5m0 0h1.5m0 0h1.5m1.5 0h1.5m3 0h1.5m1.5 0h1.5m-52.5 1.4h1.5m0 0h1.5m4.5 0h1.5m0 0h1.5m1.5 0h1.5m4.5 0h1.5m0 0h1.5m7.5 0h1.5m0 0h1.5m1.5 0h1.5m0 0h1.5m0 0h1.5m3 0h1.5m0 0h1.5m1.5 0h1.5m1.5 0h1.5m0 0h1.5m-58.5 1.6h1.5m1.5 0h1.5m0 0h1.5m0 0h1.5m0 0h1.5m0 0h1.5m4.5 0h1.5m0 0h1.5m10.5 0h1.5m0 0h1.5m7.5 0h1.5m0 0h1.5m1.5 0h1.5m1.5 0h1.5m3 0h1.5m-49.5 1.4h1.5m0 0h1.5m12 0h1.5m3 0h1.5m3 0h1.5m1.5 0h1.5m6 0h1.5m3 0h1.5m0 0h1.5m1.5 0h1.5m1.5 0h1.5m0 0h1.5m4.5 0h1.5m0 0h1.5m1.5 0h1.5m-61.5 1.6h1.5m0 0h1.5m3 0h1.5m6 0h1.5m0 0h1.5m4.5 0h1.5m1.5 0h1.5m1.5 0h1.5m6 0h1.5m0 0h1.5m1.5 0h1.5m7.5 0h1.5m1.5 0h1.5m0 0h1.5m0 0h1.5m4.5 0h1.5m-61.5 1.4h1.5m4.5 0h1.5m6 0h1.5m0 0h1.5m7.5 0h1.5m0 0h1.5m12 0h1.5m0 0h1.5m1.5 0h1.5m0 0h1.5m0 0h1.5m6 0h1.5m0 0h1.5m1.5 0h1.5m-70.5 1.6h1.5m13.5 0h1.5m0 0h1.5m0 0h1.5m0 0h1.5m0 0h1.5m0 0h1.5m1.5 0h1.5m1.5 0h1.5m1.5 0h1.5m3 0h1.5m10.5 0h1.5m1.5 0h1.5m1.5 0h1.5m0 0h1.5m0 0h1.5m0 0h1.5m4.5 0h1.5m0 0h1.5m0 0h1.5m0 0h1.5m-55.5 1.4h1.5m0 0h1.5m0 0h1.5m4.5 0h1.5m0 0h1.5m9 0h1.5m3 0h1.5m12 0h1.5m3 0h1.5m0 0h1.5m0 0h1.5m0 0h1.5m0 0h1.5m0 0h1.5m3 0h1.5m-63 1.6h1.5m9 0h1.5m1.5 0h1.5m0 0h1.5m3 0h1.5m4.5 0h1.5m0 0h1.5m3 0h1.5m6 0h1.5m0 0h1.5m6 0h1.5m0 0h1.5m1.5 0h1.5m6 0h1.5m0 0h1.5m-61.5 1.4h1.5m10.5 0h1.5m0 0h1.5m0 0h1.5m1.5 0h1.5m10.5 0h1.5m1.5 0h1.5m0 0h1.5m3 0h1.5m0 0h1.5m0 0h1.5m0 0h1.5m1.5 0h1.5m0 0h1.5m-49.5 1.6h1.5m0 0h1.5m0 0h1.5m0 0h1.5m7.5 0h1.5m0 0h1.5m4.5 0h1.5m7.5 0h1.5m10.5 0h1.5m4.5 0h1.5m0 0h1.5m3 0h1.5m1.5 0h1.5m1.5 0h1.5m-60 1.4h1.5m0 0h1.5m0 0h1.5m0 0h1.5m4.5 0h1.5m1.5 0h1.5m13.5 0h1.5m9 0h1.5m0 0h1.5m3 0h1.5m0 0h1.5m1.5 0h1.5m0 0h1.5m1.5 0h1.5m0 0h1.5m0 0h1.5m-60 1.6h1.5m0 0h1.5m0 0h1.5m0 0h1.5m1.5 0h1.5m6 0h1.5m0 0h1.5m0 0h1.5m3 0h1.5m0 0h1.5m1.5 0h1.5m0 0h1.5m0 0h1.5m3 0h1.5m1.5 0h1.5m1.5 0h1.5m3 0h1.5m0 0h1.5m0 0h1.5m3 0h1.5m1.5 0h1.5m3 0h1.5m-61.5 1.4h1.5m0 0h1.5m7.5 0h1.5m4.5 0h1.5m3 0h1.5m6 0h1.5m0 0h1.5m0 0h1.5m3 0h1.5m1.5 0h1.5m0 0h1.5m0 0h1.5m1.5 0h1.5m1.5 0h1.5m0 0h1.5m0 0h1.5m1.5 0h1.5m0 0h1.5m0 0h1.5m0 0h1.5m-58.5 1.6h1.5m0 0h1.5m7.5 0h1.5m1.5 0h1.5m1.5 0h1.5m0 0h1.5m0 0h1.5m4.5 0h1.5m3 0h1.5m1.5 0h1.5m1.5 0h1.5m0 0h1.5m0 0h1.5m3 0h1.5m1.5 0h1.5m3 0h1.5m1.5 0h1.5m0 0h1.5m1.5 0h1.5m-63 1.4h1.5m1.5 0h1.5m0 0h1.5m0 0h1.5m6 0h1.5m1.5 0h1.5m0 0h1.5m0 0h1.5m1.5 0h1.5m0 0h1.5m7.5 0h1.5m1.5 0h1.5m3 0h1.5m3 0h1.5m0 0h1.5m0 0h1.5m1.5 0h1.5m0 0h1.5m1.5 0h1.5m0 0h1.5m0 0h1.5m0 0h1.5m-67.5 1.6h1.5m6 0h1.5m0 0h1.5m1.5 0h1.5m1.5 0h1.5m0 0h1.5m1.5 0h1.5m1.5 0h1.5m0 0h1.5m1.5 0h1.5m0 0h1.5m3 0h1.5m0 0h1.5m1.5 0h1.5m1.5 0h1.5m0 0h1.5m0 0h1.5m3 0h1.5m0 0h1.5m4.5 0h1.5m4.5 0h1.5m4.5 0h1.5m-84 1.4h1.5m21 0h1.5m0 0h1.5m4.5 0h1.5m0 0h1.5m0 0h1.5m3 0h1.5m0 0h1.5m0 0h1.5m1.5 0h1.5m1.5 0h1.5m0 0h1.5m0 0h1.5m1.5 0h1.5m3 0h1.5m0 0h1.5m0 0h1.5m3 0h1.5m1.5 0h1.5m1.5 0h1.5m1.5 0h1.5m7.5 0h1.5m-66 1.6h1.5m4.5 0h1.5m0 0h1.5m0 0h1.5m3 0h1.5m1.5 0h1.5m0 0h1.5m7.5 0h1.5m0 0h1.5m3 0h1.5m0 0h1.5m1.5 0h1.5m7.5 0h1.5m0 0h1.5m0 0h1.5m0 0h1.5m1.5 0h1.5m0 0h1.5m0 0h1.5m6 0h1.5m-88.5 1.4h1.5m30 0h1.5m1.5 0h1.5m1.5 0h1.5m3 0h1.5m1.5 0h1.5m6 0h1.5m1.5 0h1.5m0 0h1.5m0 0h1.5m3 0h1.5m1.5 0h1.5m0 0h1.5m6 0h1.5m3 0h1.5m3 0h1.5m1.5 0h1.5m-88.5 1.6h1.5m9 0h1.5m15 0h1.5m1.5 0h1.5m0 0h1.5m1.5 0h1.5m0 0h1.5m6 0h1.5m1.5 0h1.5m1.5 0h1.5m3 0h1.5m3 0h1.5m6 0h1.5m3 0h1.5m1.5 0h1.5m4.5 0h1.5m0 0h1.5m1.5 0h1.5m0 0h1.5m0 0h1.5m-60 1.4h1.5m0 0h1.5m3 0h1.5m4.5 0h1.5m0 0h1.5m3 0h1.5m0 0h1.5m3 0h1.5m1.5 0h1.5m0 0h1.5m0 0h1.5m4.5 0h1.5m1.5 0h1.5m3 0h1.5m0 0h1.5m3 0h1.5m1.5 0h1.5m3 0h1.5m0 0h1.5m-61.5 1.6h1.5m3 0h1.5m0 0h1.5m0 0h1.5m0 0h1.5m4.5 0h1.5m0 0h1.5m0 0h1.5m0 0h1.5m3 0h1.5m12 0h1.5m0 0h1.5m4.5 0h1.5m6 0h1.5m0 0h1.5m0 0h1.5m0 0h1.5m0 0h1.5m0 0h1.5m-88.5 1.4h1.5m22.5 0h1.5m3 0h1.5m0 0h1.5m0 0h1.5m0 0h1.5m1.5 0h1.5m3 0h1.5m0 0h1.5m6 0h1.5m1.5 0h1.5m0 0h1.5m0 0h1.5m0 0h1.5m6 0h1.5m1.5 0h1.5m1.5 0h1.5m6 0h1.5m0 0h1.5m0 0h1.5m0 0h1.5m0 0h1.5m0 0h1.5m0 0h1.5m-79.5 1.6h1.5m15 0h1.5m1.5 0h1.5m0 0h1.5m3 0h1.5m0 0h1.5m1.5 0h1.5m0 0h1.5m6 0h1.5m0 0h1.5m1.5 0h1.5m0 0h1.5m0 0h1.5m1.5 0h1.5m1.5 0h1.5m0 0h1.5m0 0h1.5m3 0h1.5m0 0h1.5m1.5 0h1.5m0 0h1.5m1.5 0h1.5m0 0h1.5m1.5 0h1.5m0 0h1.5m0 0h1.5m-58.5 1.4h1.5m0 0h1.5m0 0h1.5m3 0h1.5m3 0h1.5m0 0h1.5m1.5 0h1.5m1.5 0h1.5m0 0h1.5m3 0h1.5m0 0h1.5m0 0h1.5m0 0h1.5m1.5 0h1.5m4.5 0h1.5m0 0h1.5m0 0h1.5m0 0h1.5m1.5 0h1.5m0 0h1.5m3 0h1.5m1.5 0h1.5m0 0h1.5m0 0h1.5m-63 1.6h1.5m0 0h1.5m1.5 0h1.5m0 0h1.5m4.5 0h1.5m1.5 0h1.5m0 0h1.5m7.5 0h1.5m12 0h1.5m1.5 0h1.5m4.5 0h1.5m0 0h1.5m0 0h1.5m1.5 0h1.5m0 0h1.5m0 0h1.5m3 0h1.5m-75 1.4h1.5m12 0h1.5m0 0h1.5m1.5 0h1.5m0 0h1.5m0 0h1.5m1.5 0h1.5m3 0h1.5m1.5 0h1.5m0 0h1.5m0 0h1.5m1.5 0h1.5m0 0h1.5m1.5 0h1.5m0 0h1.5m0 0h1.5m0 0h1.5m1.5 0h1.5m3 0h1.5m1.5 0h1.5m0 0h1.5m3 0h1.5m0 0h1.5m1.5 0h1.5m0 0h1.5m0 0h1.5m0 0h1.5m-64.5 1.6h1.5m1.5 0h1.5m1.5 0h1.5m0 0h1.5m0 0h1.5m6 0h1.5m0 0h1.5m4.5 0h1.5m0 0h1.5m0 0h1.5m1.5 0h1.5m0 0h1.5m0 0h1.5m0 0h1.5m9 0h1.5m0 0h1.5m3 0h1.5m1.5 0h1.5m3 0h1.5m0 0h1.5m0 0h1.5m0 0h1.5m-60 1.4h1.5m0 0h1.5m1.5 0h1.5m1.5 0h1.5m3 0h1.5m0 0h1.5m10.5 0h1.5m1.5 0h1.5m0 0h1.5m6 0h1.5m0 0h1.5m0 0h1.5m0 0h1.5m1.5 0h1.5m7.5 0h1.5m0 0h1.5m1.5 0h1.5m0 0h1.5" stroke="#fde7eb" stroke-width="1.5"/>
<path d="M426.4 51.6h1.5m4.5 0h1.5m0 0h1.5m-13.5 1.4h1.5m0 0h1.5m7.5 0h1.5m0 0h1.5m0 0h1.5m48 0h1.5m-67.5 1.6h1.5m7.5 0h1.5m1.5 0h1.5m1.5 0h1.5m0 0h1.5m0 0h1.5m0 0h1.5m1.5 0h1.5m25.5 0h1.5m-39 1.4h1.5m1.5 0h1.5m-16.5 1.6h1.5m0 0h1.5m0 0h1.5m1.5 0h1.5m9 0h1.5m1.5 0h1.5m3 0h1.5m39 0h1.5m-66 1.4h1.5m6 0h1.5m0 0h1.5m1.5 0h1.5m0 0h1.5m0 0h1.5m0 0h1.5m4.5 0h1.5m0 0h1.5m-13.5 1.6h1.5m69 0h1.5m-69 1.4h1.5m0 0h1.5m3 0h1.5m0 0h1.5m-9 1.6h1.5m0 0h1.5m64.5 0h1.5m-76.5 1.4h1.5m7.5 0h1.5m1.5 0h1.5m1.5 0h1.5m-10.5 1.6h1.5m3 0h1.5m57 0h1.5m10.5 0h1.5m-76.5 1.4h1.5m0 0h1.5m1.5 0h1.5m-6 1.6h1.5m1.5 0h1.5m3 0h1.5m0 0h1.5m-10.5 1.4h1.5m7.5 0h1.5m-1.5 1.6h1.5m-9 1.4h1.5m4.5 0h1.5m-1.5 1.6h1.5m3 0h1.5m-12 1.4h1.5m4.5 0h1.5m-9 1.6h1.5m3 0h1.5m-19.5 1.4h1.5m24 0h1.5m-12 1.6h1.5m3 0h1.5m1.5 0h1.5m1.5 0h1.5m43.5 0h1.5m-63 1.4h1.5m10.5 0h1.5m1.5 0h1.5m-21 1.6h1.5m0 0h1.5m0 0h1.5m1.5 0h1.5m1.5 0h1.5m4.5 0h1.5m4.5 0h1.5m49.5 0h1.5m-73.5 1.4h1.5m10.5 0h1.5m3 0h1.5m-10.5 1.6h1.5m10.5 0h1.5m1.5 1.4h1.5m0 0h1.5m13.5 0h1.5m6 0h1.5m4.5 0h1.5m3 0h1.5m0 0h1.5m7.5 0h1.5m4.5 0h1.5m7.5 0h1.5m-61.5 1.6h1.5m7.5 0h1.5m21 0h1.5m1.5 0h1.5m21 0h1.5m-40.5 1.4h1.5m12 0h1.5m0 0h1.5m3 0h1.5m21 0h1.5m-52.5 1.6h1.5m1.5 0h1.5m4.5 0h1.5m4.5 0h1.5m6 0h1.5m15 0h1.5m7.5 0h1.5m-48 1.4h1.5m12 0h1.5m0 0h1.5m1.5 0h1.5m30 0h1.5m0 0h1.5m-30 1.6h1.5m27 0h1.5m-63 1.4h1.5m3 0h1.5m9 0h1.5m3 0h1.5m13.5 0h1.5m4.5 0h1.5m9 0h1.5m-52.5 1.6h1.5m3 0h1.5m15 0h1.5m3 0h1.5m1.5 0h1.5m4.5 0h1.5m0 0h1.5m3 0h1.5m15 0h1.5m1.5 0h1.5m0 0h1.5m-64.5 1.4h1.5m0 0h1.5m55.5 0h1.5m-58.5 1.6h1.5m7.5 0h1.5m0 0h1.5m0 0h1.5m7.5 0h1.5m3 0h1.5m1.5 0h1.5m4.5 0h1.5m-33 1.4h1.5m1.5 0h1.5m6 0h1.5m3 0h1.5m3 0h1.5m0 0h1.5m4.5 0h1.5m0 0h1.5m1.5 0h1.5m0 0h1.5m12 0h1.5m3 0h1.5m4.5 0h1.5m-61.5 1.6h1.5m3 0h1.5m7.5 0h1.5m0 0h1.5m3 0h1.5m12 0h1.5m0 0h1.5m0 0h1.5m6 0h1.5m-45 1.4h1.5m1.5 0h1.5m12 0h1.5m1.5 0h1.5m7.5 0h1.5m1.5 0h1.5m3 0h1.5m1.5 0h1.5m1.5 0h1.5m7.5 0h1.5m4.5 0h1.5m1.5 0h1.5m-58.5 1.6h1.5m9 0h1.5m1.5 0h1.5m6 0h1.5m0 0h1.5m3 0h1.5m7.5 0h1.5m6 0h1.5m6 0h1.5m4.5 0h1.5m-61.5 1.4h1.5m1.5 0h1.5m7.5 0h1.5m1.5 0h1.5m0 0h1.5m3 0h1.5m1.5 0h1.5m0 0h1.5m0 0h1.5m0 0h1.5m0 0h1.5m4.5 0h1.5m3 0h1.5m7.5 0h1.5m7.5 0h1.5m0 0h1.5m-61.5 1.6h1.5m3 0h1.5m7.5 0h1.5m1.5 0h1.5m0 0h1.5m1.5 0h1.5m1.5 0h1.5m15 0h1.5m4.5 0h1.5m3 0h1.5m7.5 0h1.5m-61.5 1.4h1.5m1.5 0h1.5m0 0h1.5m0 0h1.5m7.5 0h1.5m1.5 0h1.5m3 0h1.5m7.5 0h1.5m1.5 0h1.5m21 0h1.5m1.5 0h1.5m-52.5 1.6h1.5m1.5 0h1.5m4.5 0h1.5m3 0h1.5m0 0h1.5m10.5 0h1.5m3 0h1.5m4.5 0h1.5m9 0h1.5m0 0h1.5m0 0h1.5m-57 1.4h1.5m3 0h1.5m3 0h1.5m0 0h1.5m1.5 0h1.5m4.5 0h1.5m0 0h1.5m1.5 0h1.5m1.5 0h1.5m6 0h1.5m0 0h1.5m18 0h1.5m-61.5 1.6h1.5m4.5 0h1.5m4.5 0h1.5m4.5 0h1.5m13.5 0h1.5m10.5 0h1.5m0 0h1.5m0 0h1.5m-42 1.4h1.5m1.5 0h1.5m4.5 0h1.5m4.5 0h1.5m4.5 0h1.5m3 0h1.5m0 0h1.5m0 0h1.5m6 0h1.5m1.5 0h1.5m4.5 0h1.5m3 0h1.5m1.5 0h1.5m-57 1.6h1.5m3 0h1.5m1.5 0h1.5m6 0h1.5m3 0h1.5m0 0h1.5m4.5 0h1.5m6 0h1.5m0 0h1.5m7.5 0h1.5m0 0h1.5m0 0h1.5m-75 1.4h1.5m24 0h1.5m0 0h1.5m3 0h1.5m0 0h1.5m10.5 0h1.5m24 0h1.5m1.5 0h1.5m-51 1.6h1.5m0 0h1.5m3 0h1.5m0 0h1.5m15 0h1.5m10.5 0h1.5m0 0h1.5m0 0h1.5m16.5 0h1.5m-52.5 1.4h1.5m0 0h1.5m0 0h1.5m0 0h1.5m3 0h1.5m1.5 0h1.5m1.5 0h1.5m0 0h1.5m1.5 0h1.5m21 0h1.5m7.5 0h1.5m-37.5 1.6h1.5m0 0h1.5m3 0h1.5m3 0h1.5m3 0h1.5m9 0h1.5m0 0h1.5m0 0h1.5m-54 1.4h1.5m3 0h1.5m4.5 0h1.5m0 0h1.5m1.5 0h1.5m9 0h1.5m1.5 0h1.5m4.5 0h1.5m3 0h1.5m0 0h1.5m13.5 0h1.5m3 0h1.5m-61.5 1.6h1.5m0 0h1.5m1.5 0h1.5m6 0h1.5m22.5 0h1.5m3 0h1.5m9 0h1.5m3 0h1.5m4.5 0h1.5m-63 1.4h1.5m1.5 0h1.5m0 0h1.5m0 0h1.5m1.5 0h1.5m0 0h1.5m0 0h1.5m4.5 0h1.5m4.5 0h1.5m0 0h1.5m1.5 0h1.5m6 0h1.5m3 0h1.5m15 0h1.5m1.5 0h1.5m0 0h1.5m-58.5 1.6h1.5m3 0h1.5m13.5 0h1.5m4.5 0h1.5m9 0h1.5m3 0h1.5m0 0h1.5m4.5 0h1.5m3 0h1.5m1.5 0h1.5m-76.5 1.4h1.5m24 0h1.5m6 0h1.5m1.5 0h1.5m0 0h1.5m4.5 0h1.5m9 0h1.5m16.5 0h1.5m1.5 0h1.5m-51 1.6h1.5m12 0h1.5m6 0h1.5m6 0h1.5m9 0h1.5m0 0h1.5m1.5 0h1.5m0 0h1.5m0 0h1.5m3 0h1.5m-52.5 1.4h1.5m0 0h1.5m6 0h1.5m4.5 0h1.5m6 0h1.5m6 0h1.5m4.5 0h1.5m4.5 0h1.5m7.5 0h1.5m-57 1.6h1.5m1.5 0h1.5m3 0h1.5m15 0h1.5m0 0h1.5m1.5 0h1.5m24 0h1.5m0 0h1.5m-63 1.4h1.5m7.5 0h1.5m0 0h1.5m9 0h1.5m0 0h1.5m6 0h1.5m15 0h1.5m9 0h1.5m1.5 0h1.5m-61.5 1.6h1.5m1.5 0h1.5m4.5 0h1.5m9 0h1.5m27 0h1.5m3 0h1.5m6 0h1.5m-51 1.4h1.5m9 0h1.5m0 0h1.5m0 0h1.5m9 0h1.5m4.5 0h1.5m15 0h1.5m0 0h1.5m-60 1.6h1.5m7.5 0h1.5m9 0h1.5m0 0h1.5m6 0h1.5m18 0h1.5m7.5 0h1.5m0 0h1.5m-52.5 1.4h1.5m13.5 0h1.5m4.5 0h1.5m4.5 0h1.5m12 0h1.5m6 0h1.5m1.5 0h1.5m-60 1.6h1.5m4.5 0h1.5m24 0h1.5m0 0h1.5m4.5 0h1.5m4.5 0h1.5m3 0h1.5m6 0h1.5m1.5 0h1.5m-57 1.4h1.5m3 0h1.5m0 0h1.5m0 0h1.5m6 0h1.5m0 0h1.5m0 0h1.5m9 0h1.5m6 0h1.5m9 0h1.5m7.5 0h1.5m0 0h1.5m-60 1.6h1.5m6 0h1.5m1.5 0h1.5m3 0h1.5m9 0h1.5m3 0h1.5m1.5 0h1.5m1.5 0h1.5m7.5 0h1.5m1.5 0h1.5m3 0h1.5m0 0h1.5m1.5 0h1.5m-60 1.4h1.5m3 0h1.5m4.5 0h1.5m1.5 0h1.5m3 0h1.5m4.5 0h1.5m1.5 0h1.5m1.5 0h1.5m1.5 0h1.5m1.5 0h1.5m6 0h1.5m3 0h1.5m0 0h1.5m4.5 0h1.5m-57 1.6h1.5m0 0h1.5m1.5 0h1.5m13.5 0h1.5m0 0h1.5m0 0h1.5m9 0h1.5m3 0h1.5m4.5 0h1.5m-46.5 1.4h1.5m3 0h1.5m0 0h1.5m10.5 0h1.5m1.5 0h1.5m3 0h1.5m7.5 0h1.5m1.5 0h1.5m0 0h1.5m0 0h1.5m6 0h1.5m7.5 0h1.5m-49.5 1.6h1.5m6 0h1.5m0 0h1.5m21 0h1.5m0 0h1.5m0 0h1.5m7.5 0h1.5m0 0h1.5m4.5 0h1.5m-60 1.4h1.5m12 0h1.5m13.5 0h1.5m15 0h1.5m6 0h1.5m3 0h1.5m1.5 0h1.5m-60 1.6h1.5m9 0h1.5m0 0h1.5m7.5 0h1.5m1.5 0h1.5m0 0h1.5m0 0h1.5m4.5 0h1.5m3 0h1.5m0 0h1.5m4.5 0h1.5m0 0h1.5m3 0h1.5m1.5 0h1.5m1.5 0h1.5m0 0h1.5m-63 1.4h1.5m1.5 0h1.5m0 0h1.5m1.5 0h1.5m6 0h1.5m3 0h1.5m1.5 0h1.5m4.5 0h1.5m10.5 0h1.5m1.5 0h1.5m3 0h1.5m0 0h1.5m0 0h1.5m0 0h1.5m0 0h1.5m1.5 0h1.5m-54 1.6h1.5m1.5 0h1.5m6 0h1.5m3 0h1.5m0 0h1.5m7.5 0h1.5m12 0h1.5m0 0h1.5m1.5 0h1.5m0 0h1.5m1.5 0h1.5m-54 1.4h1.5m0 0h1.5m0 0h1.5m1.5 0h1.5m7.5 0h1.5m13.5 0h1.5m1.5 0h1.5m10.5 0h1.5m1.5 0h1.5m1.5 0h1.5m0 0h1.5m7.5 0h1.5m-63 1.6h1.5m12 0h1.5m3 0h1.5m10.5 0h1.5m7.5 0h1.5m10.5 0h1.5m0 0h1.5m0 0h1.5m0 0h1.5m1.5 0h1.5m0 0h1.5m-60 1.4h1.5m1.5 0h1.5m1.5 0h1.5m0 0h1.5m0 0h1.5m1.5 0h1.5m1.5 0h1.5m13.5 0h1.5m9 0h1.5m3 0h1.5m3 0h1.5m0 0h1.5m0 0h1.5m0 0h1.5m3 0h1.5m0 0h1.5m-58.5 1.6h1.5m1.5 0h1.5m10.5 0h1.5m7.5 0h1.5m0 0h1.5m1.5 0h1.5m0 0h1.5m4.5 0h1.5m1.5 0h1.5m0 0h1.5m7.5 0h1.5m4.5 0h1.5m-57 1.4h1.5m1.5 0h1.5m0 0h1.5m10.5 0h1.5m3 0h1.5m4.5 0h1.5m10.5 0h1.5m7.5 0h1.5m1.5 0h1.5m-57 1.6h1.5m7.5 0h1.5m3 0h1.5m13.5 0h1.5m10.5 0h1.5m9 0h1.5m4.5 0h1.5m1.5 0h1.5m-48 1.4h1.5m6 0h1.5m0 0h1.5m15 0h1.5m1.5 0h1.5m7.5 0h1.5m1.5 0h1.5m1.5 0h1.5m-58.5 1.6h1.5m0 0h1.5m3 0h1.5m1.5 0h1.5m1.5 0h1.5m1.5 0h1.5m6 0h1.5m12 0h1.5m15 0h1.5m7.5 0h1.5m-52.5 1.4h1.5m1.5 0h1.5m3 0h1.5m1.5 0h1.5m3 0h1.5m0 0h1.5m12 0h1.5m0 0h1.5m3 0h1.5m1.5 0h1.5m0 0h1.5m6 0h1.5m-54 1.6h1.5m9 0h1.5m0 0h1.5m1.5 0h1.5m7.5 0h1.5m0 0h1.5m0 0h1.5m4.5 0h1.5m6 0h1.5m4.5 0h1.5m7.5 0h1.5m-60 1.4h1.5m1.5 0h1.5m1.5 0h1.5m0 0h1.5m3 0h1.5m1.5 0h1.5m6 0h1.5m1.5 0h1.5m3 0h1.5m4.5 0h1.5m1.5 0h1.5m0 0h1.5m0 0h1.5m4.5 0h1.5m3 0h1.5m0 0h1.5m0 0h1.5m1.5 0h1.5m-58.5 1.6h1.5m3 0h1.5m6 0h1.5m0 0h1.5m4.5 0h1.5m10.5 0h1.5m3 0h1.5m7.5 0h1.5m1.5 0h1.5m3 0h1.5m1.5 0h1.5m0 0h1.5m-58.5 1.4h1.5m7.5 0h1.5m6 0h1.5m0 0h1.5m6 0h1.5m0 0h1.5m0 0h1.5m4.5 0h1.5m10.5 0h1.5m6 0h1.5m0 0h1.5m0 0h1.5m-51 1.6h1.5m4.5 0h1.5m3 0h1.5m1.5 0h1.5m4.5 0h1.5m0 0h1.5m7.5 0h1.5m4.5 0h1.5m3 0h1.5m1.5 0h1.5m0 0h1.5m1.5 0h1.5m-51 1.4h1.5m0 0h1.5m0 0h1.5m4.5 0h1.5m0 0h1.5m9 0h1.5m0 0h1.5m4.5 0h1.5m4.5 0h1.5m7.5 0h1.5m0 0h1.5m3 0h1.5m-61.5 1.6h1.5m3 0h1.5m6 0h1.5m4.5 0h1.5m4.5 0h1.5m13.5 0h1.5m3 0h1.5m0 0h1.5m10.5 0h1.5m-55.5 1.4h1.5m0 0h1.5m7.5 0h1.5m7.5 0h1.5m6 0h1.5m0 0h1.5m1.5 0h1.5m3 0h1.5m9 0h1.5m0 0h1.5m0 0h1.5m-39 1.6h1.5m1.5 0h1.5m4.5 0h1.5m0 0h1.5m1.5 0h1.5m1.5 0h1.5m0 0h1.5m9 0h1.5m7.5 0h1.5m-49.5 1.4h1.5m4.5 0h1.5m0 0h1.5m0 0h1.5m3 0h1.5m0 0h1.5m3 0h1.5m0 0h1.5m3 0h1.5m4.5 0h1.5m1.5 0h1.5m3 0h1.5m1.5 0h1.5m0 0h1.5m10.5 0h1.5m-60 1.6h1.5m0 0h1.5m0 0h1.5m1.5 0h1.5m0 0h1.5m6 0h1.5m6 0h1.5m10.5 0h1.5m4.5 0h1.5m3 0h1.5m-43.5 1.4h1.5m1.5 0h1.5m1.5 0h1.5m6 0h1.5m1.5 0h1.5m0 0h1.5m0 0h1.5m0 0h1.5m0 0h1.5m1.5 0h1.5m7.5 0h1.5m12 0h1.5m0 0h1.5m0 0h1.5m0 0h1.5m1.5 0h1.5m0 0h1.5m-63 1.6h1.5m16.5 0h1.5m0 0h1.5m0 0h1.5m1.5 0h1.5m0 0h1.5m1.5 0h1.5m0 0h1.5m1.5 0h1.5m6 0h1.5m0 0h1.5m3 0h1.5m12 0h1.5m-42 1.4h1.5m12 0h1.5m1.5 0h1.5m3 0h1.5m3 0h1.5m0 0h1.5m3 0h1.5m9 0h1.5m-63 1.6h1.5m10.5 0h1.5m7.5 0h1.5m15 0h1.5m4.5 0h1.5m7.5 0h1.5m4.5 0h1.5m-60 1.4h1.5m3 0h1.5m3 0h1.5m0 0h1.5m3 0h1.5m4.5 0h1.5m1.5 0h1.5m-19.5 1.6h1.5m1.5 0h1.5m0 0h1.5m12 0h1.5m0 0h1.5m0 0h1.5m3 0h1.5m12 0h1.5m13.5 0h1.5m-52.5 1.4h1.5m1.5 0h1.5m12 0h1.5m12 0h1.5m21 0h1.5m-37.5 1.6h1.5m6 0h1.5m4.5 0h1.5m12 0h1.5m3 0h1.5m-58.5 1.4h1.5m4.5 0h1.5m25.5 0h1.5m0 0h1.5m21 0h1.5m0 0h1.5m0 0h1.5m-52.5 1.6h1.5m7.5 0h1.5m3 0h1.5m12 0h1.5m3 0h1.5m0 0h1.5m16.5 0h1.5m-61.5 1.4h1.5m9 0h1.5m1.5 0h1.5m3 0h1.5m1.5 0h1.5m0 0h1.5m1.5 0h1.5m7.5 0h1.5m0 0h1.5m7.5 0h1.5m10.5 0h1.5m1.5 0h1.5m-49.5 1.6h1.5m6 0h1.5m1.5 0h1.5m1.5 0h1.5m7.5 0h1.5m0 0h1.5m1.5 0h1.5m16.5 0h1.5m-52.5 1.4h1.5m4.5 0h1.5m10.5 0h1.5m0 0h1.5m1.5 0h1.5m4.5 0h1.5m0 0h1.5m3 0h1.5m9 0h1.5m4.5 0h1.5m-54 1.6h1.5m7.5 0h1.5m7.5 0h1.5m0 0h1.5m3 0h1.5m0 0h1.5m0 0h1.5m0 0h1.5m18 0h1.5m-54 1.4h1.5m7.5 0h1.5m1.5 0h1.5m6 0h1.5m1.5 0h1.5m1.5 0h1.5m7.5 0h1.5m4.5 0h1.5m7.5 0h1.5m-39 1.6h1.5m4.5 0h1.5m6 0h1.5m7.5 0h1.5m25.5 0h1.5m-54 1.4h1.5m1.5 0h1.5m4.5 0h1.5m1.5 0h1.5m12 0h1.5m4.5 0h1.5m6 0h1.5m-31.5 1.6h1.5m10.5 0h1.5m0 0h1.5m0 0h1.5m0 0h1.5m7.5 0h1.5m1.5 0h1.5m4.5 0h1.5m-73.5 1.4h1.5m18 0h1.5m22.5 0h1.5m10.5 0h1.5m1.5 0h1.5m7.5 0h1.5m4.5 0h1.5m-46.5 1.6h1.5m0 0h1.5m0 0h1.5m12 0h1.5m7.5 0h1.5m4.5 0h1.5m12 0h1.5m6 0h1.5m-63 1.4h1.5m3 0h1.5m4.5 0h1.5m0 0h1.5m7.5 0h1.5m0 0h1.5m0 0h1.5m0 0h1.5m6 0h1.5m0 0h1.5m12 0h1.5" stroke="#fbced6" stroke-width="1.5"/>
<path d="M423.4 51.6h1.5m10.5 0h1.5m1.5 0h1.5m1.5 0h1.5m0 0h1.5m-24 1.4h1.5m3 0h1.5m0 0h1.5m10.5 0h1.5m-18 1.6h1.5m21 0h1.5m-18 1.4h1.5m0 0h1.5m1.5 0h1.5m-9 3h1.5m12 0h1.5m4.5 0h1.5m-7.5 1.6h1.5m-7.5 1.4h1.5m10.5 0h1.5m-13.5 1.6h1.5m6 0h1.5m1.5 0h1.5m-25.5 1.4h1.5m16.5 0h1.5m6 0h1.5m-12 1.6h1.5m0 0h1.5m3 0h1.5m0 0h1.5m0 0h1.5m-4.5 1.4h1.5m3 0h1.5m-3 1.6h1.5m-10.5 1.4h1.5m0 0h1.5m-4.5 1.6h1.5m9 0h1.5m-25.5 1.4h1.5m3 0h1.5m10.5 0h1.5m6 0h1.5m-1.5 1.6h1.5m-12 1.4h1.5m10.5 0h1.5m-10.5 1.6h1.5m3 0h1.5m-18 1.4h1.5m4.5 0h1.5m0 0h1.5m-7.5 1.6h1.5m3 0h1.5m1.5 0h1.5m1.5 0h1.5m-10.5 1.4h1.5m16.5 0h1.5m-10.5 1.6h1.5m-4.5 1.4h1.5m-13.5 1.6h1.5m0 0h1.5m0 0h1.5m7.5 0h1.5m10.5 0h1.5m12 1.4h1.5m-7.5 1.6h1.5m3 0h1.5m9 1.4h1.5m1.5 0h1.5m-25.5 1.6h1.5m24 0h1.5m9 0h1.5m3 0h1.5m16.5 0h1.5m-13.5 1.4h1.5m-24 1.6h1.5m4.5 1.4h1.5m-10.5 6h1.5m6 0h1.5m-24 1.6h1.5m4.5 0h1.5m15 0h1.5m9 0h1.5m19.5 0h1.5m0 0h1.5m-52.5 1.4h1.5m6 0h1.5m1.5 0h1.5m0 0h1.5m0 0h1.5m7.5 0h1.5m18 0h1.5m-54 1.6h1.5m7.5 0h1.5m10.5 0h1.5m0 0h1.5m12 0h1.5m21 0h1.5m-55.5 1.4h1.5m4.5 0h1.5m6 0h1.5m3 0h1.5m10.5 0h1.5m-27 1.6h1.5m0 0h1.5m0 0h1.5m15 0h1.5m1.5 0h1.5m9 0h1.5m-42 1.4h1.5m27 0h1.5m4.5 0h1.5m-34.5 1.6h1.5m0 0h1.5m9 0h1.5m3 0h1.5m12 0h1.5m-22.5 1.4h1.5m9 0h1.5m9 0h1.5m0 0h1.5m12 0h1.5m-25.5 1.6h1.5m6 0h1.5m1.5 0h1.5m7.5 0h1.5m7.5 0h1.5m3 0h1.5m-43.5 1.4h1.5m4.5 0h1.5m3 0h1.5m13.5 0h1.5m-42 1.6h1.5m33 0h1.5m10.5 0h1.5m-45 1.4h1.5m4.5 0h1.5m21 0h1.5m-15 1.6h1.5m9 0h1.5m27 0h1.5m-58.5 1.4h1.5m31.5 0h1.5m0 0h1.5m0 0h1.5m1.5 0h1.5m12 0h1.5m7.5 0h1.5m-54 1.6h1.5m1.5 0h1.5m7.5 0h1.5m9 0h1.5m3 0h1.5m3 0h1.5m19.5 0h1.5m-42 1.4h1.5m10.5 0h1.5m19.5 0h1.5m-30 1.6h1.5m7.5 0h1.5m21 0h1.5m1.5 0h1.5m-39 3h1.5m7.5 0h1.5m1.5 0h1.5m-12 1.4h1.5m6 0h1.5m12 0h1.5m-28.5 1.6h1.5m1.5 0h1.5m3 0h1.5m1.5 0h1.5m10.5 0h1.5m-33 1.4h1.5m13.5 0h1.5m13.5 1.6h1.5m-36 1.4h1.5m6 0h1.5m39 0h1.5m-43.5 1.6h1.5m19.5 0h1.5m7.5 0h1.5m19.5 0h1.5m-54 1.4h1.5m4.5 0h1.5m-6 1.6h1.5m0 0h1.5m10.5 0h1.5m-16.5 1.4h1.5m1.5 0h1.5m6 0h1.5m12 0h1.5m15 0h1.5m-27 1.6h1.5m-7.5 1.4h1.5m4.5 0h1.5m-16.5 1.6h1.5m10.5 0h1.5m3 0h1.5m7.5 0h1.5m6 0h1.5m9 0h1.5m-13.5 1.4h1.5m18 0h1.5m-57 1.6h1.5m3 0h1.5m18 0h1.5m6 0h1.5m3 0h1.5m-18 1.4h1.5m3 0h1.5m1.5 0h1.5m0 0h1.5m1.5 0h1.5m18 0h1.5m3 0h1.5m-51 1.6h1.5m0 0h1.5m9 0h1.5m0 0h1.5m0 0h1.5m7.5 0h1.5m0 0h1.5m-34.5 1.4h1.5m0 0h1.5m0 0h1.5m9 0h1.5m7.5 0h1.5m25.5 0h1.5m-46.5 1.6h1.5m0 0h1.5m0 0h1.5m4.5 0h1.5m-4.5 1.4h1.5m10.5 0h1.5m19.5 0h1.5m13.5 0h1.5m-40.5 1.6h1.5m1.5 0h1.5m0 0h1.5m7.5 0h1.5m3 0h1.5m-28.5 1.4h1.5m4.5 0h1.5m1.5 0h1.5m3 0h1.5m-25.5 1.6h1.5m0 0h1.5m0 0h1.5m7.5 0h1.5m0 0h1.5m3 0h1.5m3 0h1.5m4.5 0h1.5m3 0h1.5m4.5 0h1.5m0 0h1.5m3 0h1.5m7.5 0h1.5m3 0h1.5m-57 1.4h1.5m12 0h1.5m9 0h1.5m9 0h1.5m3 0h1.5m1.5 0h1.5m7.5 0h1.5m-48 1.6h1.5m9 0h1.5m0 0h1.5m3 0h1.5m3 0h1.5m25.5 0h1.5m-60 1.4h1.5m4.5 0h1.5m3 0h1.5m0 0h1.5m13.5 0h1.5m0 0h1.5m6 0h1.5m3 0h1.5m3 0h1.5m0 0h1.5m6 0h1.5m3 0h1.5m0 0h1.5m0 0h1.5m-45 1.6h1.5m1.5 0h1.5m0 0h1.5m1.5 0h1.5m4.5 0h1.5m1.5 0h1.5m7.5 0h1.5m7.5 0h1.5m7.5 0h1.5m-63 1.4h1.5m3 0h1.5m4.5 0h1.5m3 0h1.5m10.5 0h1.5m4.5 0h1.5m0 0h1.5m0 0h1.5m3 0h1.5m3 0h1.5m0 0h1.5m4.5 0h1.5m6 0h1.5m0 0h1.5m-60 1.6h1.5m21 0h1.5m4.5 0h1.5m0 0h1.5m0 0h1.5m4.5 0h1.5m0 0h1.5m16.5 0h1.5m-57 1.4h1.5m24 0h1.5m0 0h1.5m15 0h1.5m3 0h1.5m6 0h1.5m-51 1.6h1.5m0 0h1.5m22.5 0h1.5m3 0h1.5m15 0h1.5m1.5 0h1.5m-57 1.4h1.5m7.5 0h1.5m1.5 0h1.5m19.5 0h1.5m21 0h1.5m-51 1.6h1.5m0 0h1.5m1.5 0h1.5m16.5 0h1.5m-24 1.4h1.5m0 0h1.5m4.5 0h1.5m9 0h1.5m4.5 0h1.5m-22.5 1.6h1.5m19.5 0h1.5m-27 1.4h1.5m18 0h1.5m4.5 0h1.5m0 0h1.5m3 0h1.5m-36 1.6h1.5m12 0h1.5m10.5 0h1.5m0 0h1.5m0 0h1.5m10.5 0h1.5m12 0h1.5m-61.5 1.4h1.5m4.5 0h1.5m13.5 0h1.5m10.5 0h1.5m27 0h1.5m-63 1.6h1.5m39 0h1.5m-39 1.4h1.5m16.5 0h1.5m6 0h1.5m3 0h1.5m-28.5 1.6h1.5m4.5 0h1.5m9 0h1.5m6 0h1.5m3 0h1.5m-36 1.4h1.5m7.5 0h1.5m1.5 0h1.5m19.5 0h1.5m16.5 0h1.5m-43.5 1.6h1.5m0 0h1.5m22.5 0h1.5m0 0h1.5m19.5 0h1.5m-49.5 1.4h1.5m0 0h1.5m0 0h1.5m4.5 0h1.5m1.5 0h1.5m0 0h1.5m1.5 0h1.5m1.5 0h1.5m4.5 0h1.5m3 0h1.5m-18 1.6h1.5m3 0h1.5m6 0h1.5m4.5 0h1.5m-13.5 1.4h1.5m-18 1.6h1.5m4.5 0h1.5m33 0h1.5m1.5 0h1.5m-46.5 1.4h1.5m-12 1.6h1.5m10.5 0h1.5m10.5 0h1.5m-1.5 1.4h1.5m15 0h1.5m9 0h1.5m-52.5 1.6h1.5m10.5 0h1.5m10.5 1.4h1.5m18 0h1.5m10.5 0h1.5m-4.5 1.6h1.5m-43.5 1.4h1.5m-12 1.6h1.5m1.5 0h1.5m30 0h1.5m0 0h1.5m-28.5 6h1.5m0 0h1.5m-7.5 1.4h1.5m4.5 0h1.5m40.5 1.6h1.5m-37.5 1.4h1.5m10.5 0h1.5" stroke="#f9b6c2" stroke-width="1.5"/>
<path d="M418.9 51.6h1.5m0 0h1.5m0 0h1.5m4.5 0h1.5m15 0h1.5m-18 1.4h1.5m0 1.6h1.5m-12 1.4h1.5m4.5 0h1.5m0 0h1.5m10.5 0h1.5m-19.5 3h1.5m1.5 0h1.5m4.5 0h1.5m-7.5 1.6h1.5m1.5 0h1.5m10.5 1.4h1.5m3 0h1.5m-18 1.6h1.5m10.5 0h1.5m-18 1.4h1.5m0 0h1.5m3 0h1.5m0 0h1.5m12 0h1.5m-6 1.6h1.5m-16.5 1.4h1.5m4.5 0h1.5m4.5 0h1.5m-3 4.6h1.5m0 0h1.5m3 0h1.5m-9 3h1.5m4.5 0h1.5m-4.5 1.4h1.5m4.5 0h1.5m-9 1.6h1.5m6 0h1.5m0 0h1.5m-18 1.4h1.5m-7.5 1.6h1.5m7.5 1.4h1.5m1.5 0h1.5m1.5 0h1.5m1.5 0h1.5m-21 1.6h1.5m1.5 0h1.5m4.5 1.4h1.5m15 0h1.5m-27 1.6h1.5m9 0h1.5m4.5 0h1.5m19.5 6h1.5m6 4.4h1.5m9 0h1.5m-21 6h1.5m22.5 0h1.5m27 0h1.5m-39 1.6h1.5m15 0h1.5m-37.5 1.4h1.5m3 0h1.5m15 0h1.5m13.5 0h1.5m-30 1.6h1.5m21 0h1.5m4.5 0h1.5m-10.5 1.4h1.5m0 0h1.5m4.5 0h1.5m-1.5 1.6h1.5m-15 1.4h1.5m-27 1.6h1.5m24 0h1.5m4.5 0h1.5m1.5 0h1.5m-25.5 1.4h1.5m0 3h1.5m-3 1.6h1.5m22.5 1.4h1.5m-12 1.6h1.5m15 1.4h1.5m-18 3h1.5m9 3h1.5m-12 7.6h1.5m7.5 3h1.5m-1.5 3h1.5m0 4.4h1.5m-36 1.6h1.5m10.5 0h1.5m10.5 0h1.5m-16.5 1.4h1.5m3 0h1.5m6 0h1.5m1.5 0h1.5m-16.5 3h1.5m0 0h1.5m10.5 0h1.5m-15 3h1.5m3 0h1.5m3 0h1.5m1.5 0h1.5m0 0h1.5m0 0h1.5m3 0h1.5m6 0h1.5m1.5 0h1.5m16.5 0h1.5m-58.5 1.6h1.5m3 0h1.5m12 0h1.5m6 0h1.5m4.5 0h1.5m-24 1.4h1.5m1.5 0h1.5m7.5 0h1.5m13.5 0h1.5m1.5 0h1.5m19.5 0h1.5m-49.5 1.6h1.5m10.5 0h1.5m6 0h1.5m0 0h1.5m25.5 0h1.5m0 0h1.5m-51 1.4h1.5m10.5 0h1.5m0 0h1.5m1.5 0h1.5m6 0h1.5m-28.5 1.6h1.5m12 0h1.5m16.5 0h1.5m-24 1.4h1.5m1.5 0h1.5m1.5 0h1.5m3 0h1.5m6 0h1.5m-37.5 1.6h1.5m7.5 0h1.5m3 0h1.5m21 0h1.5m-4.5 1.4h1.5m0 0h1.5m-12 1.6h1.5m-16.5 1.4h1.5m7.5 0h1.5m6 0h1.5m-13.5 1.6h1.5m6 0h1.5m-10.5 1.4h1.5m10.5 0h1.5m3 0h1.5m-30 1.6h1.5m7.5 0h1.5m12 1.4h1.5m0 0h1.5m9 0h1.5m0 0h1.5m3 0h1.5m4.5 0h1.5m-48 1.6h1.5m19.5 0h1.5m0 0h1.5m10.5 0h1.5m6 0h1.5m-40.5 1.4h1.5m19.5 0h1.5m-15 1.6h1.5m-12 1.4h1.5m22.5 0h1.5m0 0h1.5m-16.5 1.6h1.5m9 0h1.5m-12 1.4h1.5m0 0h1.5m10.5 0h1.5m3 0h1.5m28.5 0h1.5m-39 1.6h1.5m12 0h1.5m-36 1.4h1.5m21 0h1.5m10.5 0h1.5m-18 1.6h1.5m1.5 0h1.5m10.5 0h1.5m22.5 0h1.5m-30 1.4h1.5m-18 1.6h1.5m31.5 0h1.5m-46.5 1.4h1.5m9 1.6h1.5m48 0h1.5m-55.5 1.4h1.5m27 0h1.5m-1.5 1.6h1.5m-1.5 1.4h1.5m4.5 1.6h1.5m-21 1.4h1.5m6 1.6h1.5m-30 4.4h1.5m30 4.6h1.5m-33 1.4h1.5m24 0h1.5m33 1.6h1.5m0 1.4h1.5" stroke="#f79eae" stroke-width="1.5"/>
<path d="M424.9 51.6h1.5m4.5 0h1.5m-12 3h1.5m1.5 0h1.5m1.5 0h1.5m-6 1.4h1.5m12 0h1.5m-9 4.6h1.5m0 0h1.5m9 0h1.5m1.5 0h1.5m-15 3h1.5m13.5 0h1.5m-25.5 4.4h1.5m-3 1.6h1.5m0 0h1.5m4.5 1.4h1.5m-4.5 1.6h1.5m0 1.4h1.5m0 0h1.5m0 0h1.5m0 0h1.5m-9 1.6h1.5m15 1.4h1.5m-9 1.6h1.5m6 0h1.5m4.5 0h1.5m-24 1.4h1.5m1.5 3h1.5m4.5 0h1.5m-12 1.6h1.5m6 0h1.5m-3 1.4h1.5m3 0h1.5m-4.5 1.6h1.5m16.5 16.4h1.5m10.5 0h1.5m-4.5 1.6h1.5m24 1.4h1.5m-25.5 1.6h1.5m21 3h1.5m-25.5 1.4h1.5m10.5 0h1.5m-12 1.6h1.5m9 1.4h1.5m-12 16.6h1.5m0 0h1.5m40.5 12h1.5m-21 3h1.5m0 4.4h1.5m-25.5 1.6h1.5m-13.5 3h1.5m-1.5 1.4h1.5m9 0h1.5m10.5 1.6h1.5m-18 1.4h1.5m16.5 0h1.5m-16.5 1.6h1.5m46.5 0h1.5m-48 1.4h1.5m9 0h1.5m9 0h1.5m-22.5 1.6h1.5m0 0h1.5m-13.5 1.4h1.5m21 0h1.5m10.5 0h1.5m-24 1.6h1.5m10.5 1.4h1.5m-15 1.6h1.5m0 1.4h1.5m-4.5 3h1.5m28.5 0h1.5m-18 1.6h1.5m0 0h1.5m3 0h1.5m-18 1.4h1.5m7.5 4.6h1.5m39 6h1.5m-34.5 3h1.5m-6 4.4h1.5m21 25.6h1.5" stroke="#f6869a" stroke-width="1.5"/>
<path d="M430.9 53h1.5m12 0h1.5m-27 7.6h1.5m1.5 0h1.5m9 0h1.5m-13.5 4.4h1.5m22.5 1.6h1.5m-15 1.4h1.5m-10.5 1.6h1.5m1.5 0h1.5m3 0h1.5m0 0h1.5m12 0h1.5m-22.5 1.4h1.5m-3 3h1.5m7.5 0h1.5m-3 1.6h1.5m-9 1.4h1.5m4.5 0h1.5m0 1.6h1.5m-12 3h1.5m1.5 0h1.5m4.5 0h1.5m-7.5 1.4h1.5m15 3h1.5m-13.5 1.6h1.5m28.5 18h1.5m0 1.4h1.5m12 4.6h1.5m7.5 0h1.5m-24 43.4h1.5m-1.5 3h1.5m18 0h1.5m0 0h1.5m6 0h1.5m-3 1.6h1.5m-9 1.4h1.5m-4.5 1.6h1.5m4.5 0h1.5m4.5 1.4h1.5m-18 1.6h1.5m7.5 0h1.5m-1.5 1.4h1.5m-10.5 1.6h1.5m-1.5 4.4h1.5m3 1.6h1.5m6 1.4h1.5m-37.5 3h1.5m30 0h1.5" stroke="#f46d85" stroke-width="1.5"/>
<path d="M429.4 51.6h1.5m3 9h1.5m-12 1.4h1.5m-1.5 1.6h1.5m-1.5 6h1.5m13.5 0h1.5m-21 1.4h1.5m0 0h1.5m0 0h1.5m7.5 1.6h1.5m-9 3h1.5m0 0h1.5m0 0h1.5m-9 1.4h1.5m6 0h1.5m-6 1.6h1.5m4.5 0h1.5m-6 3h1.5m-6 1.4h1.5m0 0h1.5m3 3h1.5m3 0h1.5m27 27h1.5m19.5 40.6h1.5m-1.5 6h1.5m0 0h1.5m-25.5 1.4h1.5m6 0h1.5m15 0h1.5m-1.5 3h1.5m-7.5 1.6h1.5m-18 6h1.5m21 4.4h1.5m-12 7.6h1.5" stroke="#f25571" stroke-width="1.5"/>
<path d="M435.4 60.6h1.5m-18 3h1.5m4.5 1.4h1.5m4.5 0h1.5m-9 1.6h1.5m4.5 0h1.5m0 0h1.5m-7.5 1.4h1.5m-1.5 4.6h1.5m3 4.4h1.5m-10.5 1.6h1.5m1.5 4.4h1.5m-6 3h1.5m1.5 0h1.5m33 27h1.5m-12 25.6h1.5m33 19.4h1.5m24 0h1.5m-51 4.6h1.5m22.5 3h1.5m-24 1.4h1.5m10.5 7.6h1.5" stroke="#f03d5d" stroke-width="1.5"/>
<path d="M420.4 60.6h1.5m3 0h1.5m18 0h1.5m-19.5 6h1.5m-9 1.4h1.5m1.5 0h1.5m4.5 1.6h1.5m1.5 1.4h1.5m6 1.6h1.5m-19.5 1.4h1.5m6 1.6h1.5m1.5 1.4h1.5m-7.5 10.6h1.5m30 87h1.5m22.5 3h1.5" stroke="#ee2448" stroke-width="1.5"/>
<path d="M418.9 62h1.5m0 0h1.5m0 0h1.5m1.5 0h1.5m0 0h1.5m0 0h1.5m0 0h1.5m0 0h1.5m-12 1.6h1.5m0 0h1.5m1.5 0h1.5m1.5 0h1.5m1.5 0h1.5m-13.5 3h1.5m0 0h1.5m0 0h1.5m1.5 0h1.5m1.5 0h1.5m-3 1.4h1.5m0 0h1.5m-3 1.6h1.5m-3 1.4h1.5m1.5 0h1.5m0 0h1.5m-12 1.6h1.5m0 0h1.5m0 0h1.5m3 0h1.5m0 0h1.5m0 0h1.5m13.5 0h1.5m-27 3h1.5m0 0h1.5m9 0h1.5m-12 1.4h1.5m1.5 0h1.5m0 0h1.5m-7.5 1.6h1.5m3 0h1.5m0 0h1.5m0 0h1.5m-1.5 3h1.5m3 0h1.5m-1.5 3h1.5m-12 1.4h1.5m36 73.6h1.5m19.5 1.4h1.5m-34.5 1.6h1.5" stroke="#ec0c34" stroke-width="1.5"/>
<defs><linearGradient id="zs" x1="0" x2="1"><stop offset="0" stop-color="#1a3ae6"/><stop offset="0.5" stop-color="#ffffff"/><stop offset="1" stop-color="#ec0a30"/></linearGradient><linearGradient id="cg" x1="0" x2="1"><stop offset="0" stop-color="#e4e4ee"/><stop offset="0.45" stop-color="#dc8cb0"/><stop offset="1" stop-color="#f5002a"/></linearGradient></defs>
<text x="455.0" y="233.6" font-size="8.0" textLength="28.0" lengthAdjust="spacingAndGlyphs">Z-score</text>
<rect x="440.4" y="234.3" width="56.6" height="5.7" fill="url(#zs)"/>
<text x="431.0" y="240.2" font-size="7.6" textLength="7.0" lengthAdjust="spacingAndGlyphs">-1</text>
<text x="499.0" y="240.2" font-size="7.6">1</text>
<text x="7.7" y="164.9" font-size="11.2" font-weight="bold" textLength="6.9" lengthAdjust="spacingAndGlyphs">B</text>
<text x="75.0" y="163.4" font-size="8.6" textLength="14.4" lengthAdjust="spacingAndGlyphs">WT</text>
<text x="216.2" y="163.6" font-size="8.6" font-style="italic" textLength="69.0" lengthAdjust="spacingAndGlyphs">Ctsg-PML-RARA</text>
<text x="7.3" y="310.2" font-size="11.2" font-weight="bold" textLength="7.7" lengthAdjust="spacingAndGlyphs">C</text>
<text x="75.0" y="312.1" font-size="8.6" textLength="13.8" lengthAdjust="spacingAndGlyphs">WT</text>
<text x="180.2" y="311.6" font-size="8.6" font-style="italic" textLength="68.7" lengthAdjust="spacingAndGlyphs">Ctsg-PML-RARA</text>
<text x="9.6" y="178.6" font-size="9.0" fill="#43c943" stroke="#43c943" stroke-width="0.22" textLength="47.5" lengthAdjust="spacingAndGlyphs">Early stem &amp;</text>
<text x="11.2" y="188.6" font-size="9.0" fill="#43c943" stroke="#43c943" stroke-width="0.22" textLength="44.2" lengthAdjust="spacingAndGlyphs">progenitors</text>
<text x="16.2" y="202.0" font-size="8.2" fill="#3d52ee" stroke="#3d52ee" stroke-width="0.22" font-style="italic" textLength="20.0" lengthAdjust="spacingAndGlyphs">PML-</text>
<text x="15.4" y="211.5" font-size="8.2" fill="#3d52ee" stroke="#3d52ee" stroke-width="0.22" font-style="italic" textLength="21.5" lengthAdjust="spacingAndGlyphs">RARA</text>
<text x="12.0" y="221.6" font-size="8.6" fill="#3d52ee" stroke="#3d52ee" stroke-width="0.22" textLength="27.7" lengthAdjust="spacingAndGlyphs">specific</text>
<text x="13.1" y="237.7" font-size="9.0" fill="#e02a2a" stroke="#e02a2a" stroke-width="0.22" textLength="22.6" lengthAdjust="spacingAndGlyphs">GMPs</text>
<text x="168.7" y="180.8" font-size="9.0" fill="#43c943" stroke="#43c943" stroke-width="0.22" textLength="48.0" lengthAdjust="spacingAndGlyphs">Early stem &amp;</text>
<text x="170.6" y="190.4" font-size="9.0" fill="#43c943" stroke="#43c943" stroke-width="0.22" textLength="44.2" lengthAdjust="spacingAndGlyphs">progenitors</text>
<text x="174.4" y="201.9" font-size="8.2" fill="#3d52ee" stroke="#3d52ee" stroke-width="0.22" font-style="italic" textLength="18.3" lengthAdjust="spacingAndGlyphs">PML-</text>
<text x="172.5" y="211.7" font-size="8.2" fill="#3d52ee" stroke="#3d52ee" stroke-width="0.22" font-style="italic" textLength="22.1" lengthAdjust="spacingAndGlyphs">RARA</text>
<text x="169.6" y="221.6" font-size="8.6" fill="#3d52ee" stroke="#3d52ee" stroke-width="0.22" textLength="27.9" lengthAdjust="spacingAndGlyphs">specific</text>
<text x="172.5" y="237.7" font-size="9.0" fill="#e02a2a" stroke="#e02a2a" stroke-width="0.22" textLength="22.1" lengthAdjust="spacingAndGlyphs">GMPs</text>
<text x="10.6" y="325.6" font-size="9.0" fill="#43c943" stroke="#43c943" stroke-width="0.22" textLength="47.1" lengthAdjust="spacingAndGlyphs">Early stem &amp;</text>
<text x="12.5" y="335.4" font-size="9.0" fill="#43c943" stroke="#43c943" stroke-width="0.22" textLength="43.7" lengthAdjust="spacingAndGlyphs">progenitors</text>
<text x="15.8" y="346.2" font-size="8.2" fill="#3d52ee" stroke="#3d52ee" stroke-width="0.22" font-style="italic" textLength="18.8" lengthAdjust="spacingAndGlyphs">PML-</text>
<text x="14.4" y="356.3" font-size="8.2" fill="#3d52ee" stroke="#3d52ee" stroke-width="0.22" font-style="italic" textLength="21.8" lengthAdjust="spacingAndGlyphs">RARA</text>
<text x="11.2" y="366.4" font-size="8.6" fill="#3d52ee" stroke="#3d52ee" stroke-width="0.22" textLength="28.0" lengthAdjust="spacingAndGlyphs">specific</text>
<text x="13.1" y="382.6" font-size="9.0" fill="#e02a2a" stroke="#e02a2a" stroke-width="0.22" textLength="22.6" lengthAdjust="spacingAndGlyphs">GMPs</text>
<text x="171.5" y="325.4" font-size="9.0" fill="#43c943" stroke="#43c943" stroke-width="0.22" textLength="46.5" lengthAdjust="spacingAndGlyphs">Early stem &amp;</text>
<text x="173.0" y="335.0" font-size="9.0" fill="#43c943" stroke="#43c943" stroke-width="0.22" textLength="43.7" lengthAdjust="spacingAndGlyphs">progenitors</text>
<text x="176.3" y="346.5" font-size="8.2" fill="#3d52ee" stroke="#3d52ee" stroke-width="0.22" font-style="italic" textLength="19.3" lengthAdjust="spacingAndGlyphs">PML-</text>
<text x="175.0" y="356.2" font-size="8.2" fill="#3d52ee" stroke="#3d52ee" stroke-width="0.22" font-style="italic" textLength="21.5" lengthAdjust="spacingAndGlyphs">RARA</text>
<text x="172.0" y="365.8" font-size="8.6" fill="#3d52ee" stroke="#3d52ee" stroke-width="0.22" textLength="28.0" lengthAdjust="spacingAndGlyphs">specific</text>
<text x="173.0" y="382.1" font-size="9.0" fill="#e02a2a" stroke="#e02a2a" stroke-width="0.22" textLength="22.0" lengthAdjust="spacingAndGlyphs">GMPs</text>
<rect x="122.1" y="177.1" width="25.1" height="4.5" fill="url(#cg)"/>
<text x="126.7" y="175.0" font-size="8.0" font-style="italic" textLength="16.2" lengthAdjust="spacingAndGlyphs">Ctsg</text>
<text x="118.5" y="188.5" font-size="8.0" textLength="4.1" lengthAdjust="spacingAndGlyphs">0</text>
<text x="138.8" y="188.5" font-size="8.0" textLength="18.5" lengthAdjust="spacingAndGlyphs">13.86</text>
<rect x="280.3" y="177.1" width="25.1" height="4.5" fill="url(#cg)"/>
<text x="284.9" y="175.0" font-size="8.0" font-style="italic" textLength="16.2" lengthAdjust="spacingAndGlyphs">Ctsg</text>
<text x="276.7" y="188.5" font-size="8.0" textLength="4.1" lengthAdjust="spacingAndGlyphs">0</text>
<text x="297.0" y="188.5" font-size="8.0" textLength="18.5" lengthAdjust="spacingAndGlyphs">13.86</text>
<rect x="122.1" y="321.2" width="25.1" height="4.5" fill="url(#cg)"/>
<text x="123.8" y="319.4" font-size="8.0" font-style="italic" textLength="22.5" lengthAdjust="spacingAndGlyphs">Gata2</text>
<text x="118.5" y="332.6" font-size="8.0" textLength="4.1" lengthAdjust="spacingAndGlyphs">0</text>
<text x="138.8" y="332.6" font-size="8.0" textLength="18.5" lengthAdjust="spacingAndGlyphs">12.92</text>
<rect x="280.3" y="321.2" width="25.1" height="4.5" fill="url(#cg)"/>
<text x="282.0" y="319.4" font-size="8.0" font-style="italic" textLength="22.5" lengthAdjust="spacingAndGlyphs">Gata2</text>
<text x="276.7" y="332.6" font-size="8.0" textLength="4.1" lengthAdjust="spacingAndGlyphs">0</text>
<text x="297.0" y="332.6" font-size="8.0" textLength="18.5" lengthAdjust="spacingAndGlyphs">12.92</text>
<text x="346.5" y="310.0" font-size="11.2" font-weight="bold" textLength="6.5" lengthAdjust="spacingAndGlyphs">E</text>
<text x="380.7" y="308.7" font-size="8.8" font-style="italic" textLength="67.9" lengthAdjust="spacingAndGlyphs">Ctsg-PML-RARA</text>
<text x="452.1" y="308.7" font-size="8.8" textLength="28.5" lengthAdjust="spacingAndGlyphs">vs. WT</text>
<text x="373.3" y="319.2" font-size="8.8" font-style="italic" textLength="19.4" lengthAdjust="spacingAndGlyphs">Ctsg</text>
<text x="392.9" y="319.2" font-size="8.8" textLength="95.0" lengthAdjust="spacingAndGlyphs">+ myeloid progenitors</text>
<path d="M393 346.2H467M393 363.8H467M393 381H467" stroke="#dfe7ea" stroke-width="0.7"/>
<path d="M402 328V402M409.7 328V402M423.5 328V402M452.8 328V402M460.5 328V402" stroke="#eef2f3" stroke-width="0.6"/>
<path d="M424.6 401.2h0m12.7-14.7h0m-2.8 5.9h0m2.6-30.6h0m-9.8 19.6h0m5.4 5.3h0m-2.2-17.8h0m-.8 11.1h0m-2.9 15.8h0m-1-9.1h0m8.7-7h0m2-1.9h0m-2.9-14.2h0m-.4 32h0m-4.6-19.5h0m2.8 20.6h0m-.4-23.3h0m6.1-10.6h0m-10.1 23.2h0m6.9-11.2h0m-1.1 9.4h0m-6.5-.6h0m9.7 11.7h0m-10.9-3.8h0m11.4-25.7h0m-.5 2h0m-2 26h0m1.8-34.9h0m-6.7 13.8h0m6-2.8h0m0 18h0m.6-7.9h0m-12.2 19.3h0m9.7-4.5h0m4.5-24.1h0m-10.2 19.5h0m4.8 1.9h0m-5.8-11h0m-.1 3.9h0m1.3-7.4h0m5.6 19.5h0m-2.7-25.4h0m5.7 28.5h0m-4.9-22.3h0m2-10.3h0m-11.5 31.2h0m8.4-.8h0m6.7-8.6h0m-9.1 7.2h0m7.2-27.7h0m-9.7 25.7h0m3.6-9.7h0m1.5-2.2h0m-2.4 17h0m7.1-40.3h0m-2.9 7.9h0m-.4 33.6h0m-2.4-20.8h0m6.2-14.6h0m-7 29.8h0m7.8-11.6h0m-5.6-8.8h0m2.8 2h0m3.3 24.3h0m-4.3-4.8h0m1.5-22.3h0m1.6-8h0m-5.6 5.9h0m4.2 5.5h0m-1.9 7.8h0m-.2 5.7h0m5.6-21h0m-3.9 18.1h0m-10.1 11.4h0m11.8-6.1h0m0-22.8h0m-8.5 14.9h0m1.7 12.4h0m7.3 2h0m-1.4-4.2h0m-5.1-17.6h0m-3.9 8.6h0m11.9 .9h0m-.4-16.4h0m-13.7 24.9h0m12.9-31.2h0m-3.6 13.2h0m3.2 22.8h0m.7-42.1h0m-11.8 29.6h0m6.7-3.5h0m-7.1 9.6h0m1.5-2.6h0m4.6 1.1h0m-3.3-.9h0m7.1-27.1h0m-6.4 18.1h0m4.9-.7h0m-3.5 5.6h0m-4.1-3h0m11.5 3.4h0m-10.1 3.4h0m-1.5 8.6h0m3.5-22.3h0m2.9 4.7h0m-4 10.4h0m8.1-24.1h0m1.9 5.2h0m-7.2 8.2h0m1.9 6.6h0m2.1-28.3h0m-1.8 32.8h0m1-23.3h0m3.1 8.1h0m-11.6 10.5h0m10.7-6h0m-4.3 19.1h0m1.3-4.3h0m-9.6-4.7h0m12.6-22.5h0m-1.3 28h0m-3.6-2.9h0m2.8-26.8h0m-5.8 19.2h0m-3.7 8.7h0m8.6 .8h0m.7-2.8h0m.7-10.7h0m-8.5 14.3h0m10.9 .7h0m.2 2.6h0m-3.2-16.6h0m-2.8-4.7h0m-6.1 17.6h0m6.3-29.2h0m-3.6 15h0m7.5-15.4h0m-5.6 13.2h0m2.8 19.9h0m-.8-30.9h0m-2.8 17.1h0m.7-14.7h0m6.7-5.2h0m-.8 .3h0m2.1 2.8h0m-12.7 17.3h0m10.6-14.2h0m-.3-11.5h0m-4.1 12.3h0m-6.3 23.8h0m1.4-13.2h0m11.9-22.5h0m-7.7 34.1h0m5.8-10.3h0m-3.7 13.5h0m1.8-31.7h0m.6 29.3h0m-6.8-11h0m-5.9 13.5h0m8.3-9.4h0m5.9-17.9h0m-9.3 23.6h0m-.4-7.9h0m1.9 7.2h0m6.8-18.1h0m-4.2-2.2h0m-8.9 24.2h0m6.4-4.7h0m5.8 6.1h0m1.9-19.8h0m-11.1 19.7h0m6.2-17.8h0m6.4-22.3h0m-1.8 23.9h0m-2.9-20.2h0m1 18.5h0m-4.5-7h0m-2.2 19.1h0m5.5-12.6h0m-6.8 9.8h0m9.1-18.3h0m-5.2 9.7h0m6.5-16.8h0m.5-.4h0m-2.3 25.4h0m-3.9-1.5h0m3.4-22.7h0m2 14.4h0m-2.9 4.3h0m-6.8 9.1h0m8.2-16h0m1.8 5.8h0m-1.3 1.7h0m-13.5 13.6h0m12.8-4.8h0m-5.2-19.7h0m-2.2 19.6h0m2.8-3.3h0m4-6.6h0m-1.4 10.3h0m3.8-8.1h0m-1.5-22.8h0m-5.4 32.8h0m4.4-22.5h0m-1.2-3.8h0m-1.7 17.1h0m3.2-16.9h0m3.6-4.7h0m-.4 25.7h0m-6-3.6h0m.5-9h0m-9.5 17h0m9.7-27.8h0m4.3-.7h0m-.4-6h0m-.6 37.9h0m-2.2-38h0m1.6 14.9h0m-2.2-12.1h0m3.6-.6h0m1.2 25.2h0m-11.5-4.6h0m2.8 2.8h0m3 6.4h0m-.5-1.4h0m2.3-19.7h0m.6-8.8h0m-10.7 30.7h0m3.1 1.2h0m1.8-3.7h0m1.5-19.6h0m7.3 25.3h0m-7.5-13h0m.8-5.8h0m6.8 16.5h0m.8 4.9h0m-5.3-5.6h0m4.1-8.5h0m-3.1-16.1h0m.6 5h0m-5.6 13.6h0m6-5.5h0m-9.8 10.9h0m7.2-15.5h0m-.2 3.8h0m1-16.3h0m-7.8 19.9h0m7.3-.9h0m-.2 5h0m-8.6 8.3h0m2.1-12.7h0m-.2 11h0m12.5-16.4h0m-9.4 20.3h0m9-14.6h0m-2.8-28.8h0m-1.9 16.2h0m.1-10.2h0m4.4 17.6h0m-.1 14.2h0m-.8-35h0m.7 15.3h0m-4.1 7.8h0m4.1 13.5h0m-1-11.1h0m-7.8-4.4h0m4.7-16.1h0m-7.7 25.1h0m3.1 8.7h0m6.5-7.2h0m-9 3h0m-.3 6.3h0m9.2-43.5h0m-.9 14.4h0m-7.1 16.7h0m6.6-9.3h0m1.5 10.3h0m-10.4 1.6h0m12.4-14.8h0m-11.3 20.2h0m7.6-15.7h0m-1.2 19.9h0m5.6-45.9h0m-1.7 11.9h0m-5.3 8.5h0m2.8 21.4h0m.9 .7h0m-1.8 1.3h0m1.7-39h0m-.5 39.6h0m-2.9-19.3h0m4-10.6h0m-1.1-6.9h0m-7.5 34.4h0m5.8-10h0m2.8 13.4h0m-2.9-11.7h0m5.3-14.8h0m0-7.7h0m-4.2 7.2h0m-6.8 11.8h0m6.2-18.4h0m-4.8 29.3h0m5.7-5h0m4.4-30.3h0m-1.6 5.7h0m-10.6 27.9h0m6.4-14.1h0m6.1-20.7h0m-9.2 29.1h0m8-24.7h0m-2.7 35.3h0m3.1-.7h0m-.8-27.6h0m-8.2 19.7h0m4.9-1.8h0m-8.4 .1h0m11.3 5.5h0m-8.8 1.7h0m2.7 2.9h0m7.2-9h0m-9-1.3h0m5.1-17.5h0m-1-4.8h0m0 25.1h0m3.7-16.3h0m.9-9.9h0m0 7.7h0m-12.8 27.8h0m12.1-10.9h0m-4.1-25.4h0m-3.5 12.7h0m4.2 .1h0m-1.4 15.7h0m3.3-.3h0m-4-13.6h0m-5.7 13.6h0m10.1-7.3h0m-7 10.9h0m2.6 .6h0m4.1-30.6h0m.4 9h0m-7.7 9.7h0m9.7-18.7h0m-.1 34.1h0m-2-14.7h0m.1 1.2h0m-8.7 3.5h0m8.8-17.1h0m-5.4 20.1h0m-.5 5.4h0m5.8-20.9h0m-1 21.2h0m-.9-36.8h0m1.7 27.2h0m-6.2 8.2h0m9.1-16.7h0m-5.9-2.9h0m2.1 2.5h0m-8.6 10.2h0m10-23.5h0m0-7.4h0m1.8 23.8h0m-7.8-5.2h0m6.3 7h0m.6-18.7h0m-9 26.5h0m2.1-9.9h0m5-1.1h0m-.1 9.3h0m3.2 3.4h0m-13.3 3.8h0m9.4-35.8h0m4 18.5h0m-10.4 6h0m7.3-18.2h0m-10.9 31.4h0m8.4-13.2h0m1.3-3.1h0m-1.3-.5h0m.9-2.3h0m2.7 9.4h0m1.4-17.2h0m-7.7 18.1h0m5.6 2.2h0m-.7 3.6h0m3.2-32.4h0m-4.2 10.1h0m.5 14.6h0m-7.6-6.5h0m-2.3 11.7h0m1.6 4.5h0m.2-9.8h0m4.5 10.7h0m-.3-12.5h0m5.6-24.1h0m-.4 32h0m-4.1-1.3h0m-8.2 .4h0m1.7 2.4h0m4.1-16.1h0m4.9-20.2h0m-1.8 13.5h0m5.3 .4h0m-3.1 .5h0m-1 14.2h0m-.5-14.7h0m.6 20.6h0m-5.6-17.9h0m1.6 7.7h0m1.2-11.5h0m-4.6 17.7h0m1.9-.1h0m10-19.4h0m-5.7 15.8h0m-3.3 12.6h0m6.4-19.7h0m-7.8 17.4h0m11.1-9.9h0m-15.9 11.5h0m9.8-12h0m5.9-19.9h0m-1.7 6.1h0m.1 9.3h0m-2.6 7.7h0m-10.3 3.1h0m11.3-16.9h0m-4.4 23.2h0m-4.4-17.2h0m9.8 16.4h0m-3.9-24h0m4.5 23h0m.2-38h0m-3.3 20.9h0m-6.2 12.1h0m7.6-18.9h0m.5 5h0m.7-15.6h0m-13.8 35.1h0m13.8-27.8h0m1.3-15.9h0m-3.4 28.3h0m-8.9 3.5h0m8.5-9.8h0m-1.1-11.3h0m4 21.8h0m-1.1-8.6h0m0-10.1h0m2 1.6h0m-4.9 8.7h0m-1.6-9.9h0m7.4 18.1h0m-2.2-2.8h0m-7.8 10.8h0m10.1-30.9h0m-12.5 31.5h0m10.3-34.1h0m1.3-4.4h0m-6.2 9.6h0m5.8-1.4h0m1 20.2h0m-.7-1.9h0m-5.2-19.3h0m-4.1 28.3h0m1 6h0m6-32.3h0m1.3 17.2h0m-1.5-7h0m-7.4 15.5h0m6.3-7h0m-2-5.7h0m1.5 8.7h0m4.9-26.8h0m-.3 20.2h0m-1.2 6h0m-6.3 9.9h0m1.8-1.5h0m5-32.8h0m-1 21.9h0m-.3 15.1h0m-10.3-11.2h0m10.7-3.4h0m-7.6 6.7h0m5.5 6.8h0m-4.3-13.9h0m2 11.7h0m5.7-3.2h0m-4.1-15.6h0m2.2 10.7h0m-2.9-3.2h0m5.1-14.3h0m-11.2 27.4h0m8.2-19h0m-1.2 18.6h0m4.7-13.9h0m-1.7-9.2h0m-3.6-11.9h0m-.2-1h0m3.3 28.5h0m-7.3-1.8h0m-2.2-4.4h0m11-22.7h0m.6 29.2h0m-3.7-4.3h0m-4.1 11.6h0m2.2-5.8h0m-10.2 4.4h0m-.4 2h0m13.5-43.4h0m-8.2 24.9h0m5.9-11.8h0m4.7-4.1h0m-3.6 23.8h0m-4.5-12.9h0m2.9 5.9h0m1.5-12.9h0m-1.4 1.5h0m1.6-9.5h0m3.2 14.2h0m-6.3 10.3h0m.7-9.7h0m-.2 18.5h0m.8-6.3h0m4-23.1h0m-10.3 26.2h0m10.9-15.2h0m-1.1 18.6h0m-6.3 2.3h0m-5.5-7.4h0m7.6-15h0m-1.6-1.2h0m-2.8 15.2h0m6.5-18.1h0m-9.5 24.4h0m1.2-4.6h0m10.5-15.4h0m2.1-.3h0m-1.1-1.9h0m-4.3 11.3h0m-8.2 8.7h0m8.9-7.2h0m-10.2 7.8h0m7.1-7.3h0m2.7-8.8h0m-8.4 10.8h0m10.6-16.9h0m-.1 1.7h0m-8.3 19.3h0m7.4-13.2h0m1.5 10.4h0m-6.7 11h0m2.9-1.2h0m-.5-32.6h0m6.2 29.2h0m-5.8-.6h0m6.3-14.8h0m-8.9-2.4h0m5.5 7.2h0m-4.9 15.1h0m-1.1-.9h0m.5-13.9h0m-2.9-4h0m4.1-6.6h0m7.7 19h0m-1.9-33.2h0m-11.8 33h0m7.2 3.7h0m-1.2-7.4h0m-3.9 5.4h0m7.3-23.1h0m-4.1 26.7h0m6.1-35.9h0m-3.3 18.7h0m2.6-23.7h0m3.1 32.1h0m-7.7-2.6h0m7.6-.4h0m-4.5-15.1h0m-7.3 13.2h0m1-6.1h0m9.4 14.2h0m-1.9-14.4h0m-1.3 17.2h0m3.1-20.4h0m-6.1 6.1h0m-2 6h0m8 10.7h0m-6.3 .1h0m-1.6-22.1h0m7.7 19h0m-6.7-21.6h0m-1.5 14.8h0m3.6-10.7h0m5.2 19.4h0m-4.6-34.5h0m0 2.5h0m1.2 14.7h0m-1.2 11.1h0m-4.6-4.2h0m7.6 10h0m2-38.2h0m-11.8 33.4h0m-.7 .5h0m12.6-14.8h0m-6.8-6.9h0m2.1 18.3h0m-1.9 10.3h0m6.5-15.3h0m-11 10.5h0m5.5-5.1h0m4.9 2h0m-2.1-14.9h0m-5 8.8h0m6.6-9.6h0m1-19.4h0m-.1 17.9h0m-8.4 4.2h0m7.8 13.3h0m-4.5-19h0m-2.5 2.5h0m3.9-13.4h0m-.6 21.6h0m-1.2-15.6h0m-1.6 32.9h0m-.8-23.7h0m-3.6 7.3h0m3.8 15.5h0m-5-10.6h0m8.3-13.3h0m3.2 10.9h0m-3.5 6.5h0m-2.4-3.6h0m-3.7-5.2h0m10.2 12.2h0m-2.4-14.3h0m3.1 7.9h0m-4.7-4.1h0m-3.1 5.4h0m7.8 8h0m0-30.7h0m-5 14.2h0m-.5-1.7h0m-3.3-7h0m5.9-2.1h0m1.8 24h0m-13.2-1.2h0m9-17.9h0m.4-6h0m2.5 18.8h0m-5.6-11.8h0m6.4 18.2h0m-4.2-11.5h0m-.8-12.6h0m3.9 23.9h0m-.4 3.1h0m1.1-35h0m-2.4 32.2h0m5.1-2h0m-6.3-24.9h0m3.4-3.3h0m-1.4 10.4h0m1.3 12h0m-3.4-21h0m-3.4 23.7h0m6.7-22.6h0m-12.2 31.1h0m4-19.9h0m-.5 6.7h0m8.8 7.4h0m1.5 .4h0m-7.3-7h0m8.6-30.2h0m-14.6 36.2h0m9.9-18.4h0m.5-14.8h0m-.2 26.8h0m2.7 2.4h0m-4.6-7.1h0m6.8 .4h0m-2.5 6.5h0m-1.6 .2h0m-1.7 9.1h0m5.4-31.8h0m-4.5 17.5h0m-7.2-.1h0m4.6-5.7h0m-.3 11.3h0m7.8-18h0m-5.8 17.3h0m5.6-8.9h0m-9.8 12.3h0m2-7.1h0m-.9-8.4h0m-1 23.2h0m5.7-34.5h0m-6.8 34.2h0m5.2-10.4h0m-4.3 8.1h0m1.2 1.5h0m-2.4-18.5h0m-1 9.8h0m-.2-6.9h0m5.9-5.7h0m3 5.3h0m.4-19h0m.9 26.5h0m-.8-15.7h0m-6.2 19h0m7.2-34.5h0m-11.5 32.5h0m12.3 3h0m-7-1.5h0m-7 1.3h0m2.7 4.4h0m4.6-3h0m.2-1.3h0m4.5 1.2h0m1.5-26.6h0m-5.9 12.6h0m3.5 18.7h0m-2.2-34.5h0m.8 4h0m-1.9 29.9h0m7-31.3h0m-1.4-5.6h0m-5.1 4.4h0m.5 19h0m4.1-13.7h0m-6.4 2.7h0m2.2-1.2h0m-.8-4.5h0m.2 6.7h0m-.6 9h0m7.2 4.9h0m-8.6-16.1h0m6.8 6.8h0m-10.4 12.9h0m8.9-35.8h0m-3.8 19.9h0m7-7.2h0m-7.3 13.7h0m8-28.3h0m-4 30.8h0m-2.1 .8h0m3.6-17.9h0m2.1-5.4h0m-14.2 29.1h0m1.7-7.1h0m5.2 4h0m-3.2 4.8h0m-.9-13h0m10.9 3h0m-13.3 11.1h0m13.5-24h0m-12.5 26.3h0m12.8-26.9h0m-13.6 26.8h0m13.8-9.4h0m-11.6-.6h0m3.5-14.5h0m-.5 7.7h0m6-25.7h0m-2.8 5.7h0m-2 5h0m3.2-7.7h0m1.3 33.1h0m.1 5.2h0m-2-8h0m4.1 10.8h0m-9.4-11.2h0m-.6 7.3h0m9.7 .9h0m-6.7-18.5h0m-1.9 19.7h0m1.2-13.6h0m8.5 7h0m-5.1-5.5h0m2.5-11.2h0m-8.3 13.4h0m6.9-8h0m1.5-21.1h0m-5.5 34.3h0m7.9-4.2h0m-6.9 3.2h0m-4-2.1h0m2.7 .6h0m4.4 1.1h0m-1.9-23.8h0m.8 25.3h0m2.9 6.4h0m.5-8.7h0m-4.1-21.3h0m2.2 23.4h0m-4-1.7h0m5.5-12.4h0m-10 8.1h0m11.4-11.7h0m-4.7 16.5h0m-1.2 1h0m-.7-8.6h0" stroke="#d8e2e8" stroke-width="1.1" stroke-linecap="round"/>
<path d="M420 344.2h0m4.7 43h0m-1.7-11.2h0m-5 25.6h0m4.8-7.9h0m-9.2-21.3h0m10.3 10.8h0m-8.8 11.6h0m7-6.4h0m.9 2.7h0m1.1 1.2h0m.2-39h0m-.3 19.7h0m-1.1 12.3h0m.5 7.7h0m1.3 4.1h0m-2.3 3.1h0m-3.3-14.8h0m1.4 7.6h0m.5-23.3h0m3.6 24.4h0m-2.1 7.2h0m.3-2.9h0m1-17.4h0m-7.2 19.4h0m6-5.4h0m-1.6-3h0m2.2 4h0m-1.3-9.6h0m.9 8.8h0m-1.2 .4h0m2.3 5h0m-14.7-45.3h0m15 30.6h0m.6 12.2h0m-3.4-24.5h0m-.5 22.4h0m1.4 3.7h0m1.7-6.4h0m-2.4-32.6h0m-.8 36.3h0m3.3-.8h0m-.8-3.4h0m1.4-20.3h0m-4.8 3h0m3.5 13.7h0m-1.6-6.9h0m1.6 9.4h0m-5.8-3.2h0m4.2 11.8h0m1.4-8.2h0m0-.9h0m-2.6 10.6h0m2.7-18.4h0m-.7 5.6h0m-2.6 12.2h0m-.5-12h0m4.4 .3h0m.4 11.5h0m-2-4.3h0m1.9-11.8h0m-1.4 10.9h0m1.5 3.8h0m-5.7-15.6h0m3.1 15.4h0m-2.3-6.3h0m5.4-2.1h0m-.2 1.4h0m-2.4 9h0m2-8.3h0m-.4 2.1h0m-.2-9.3h0m-1.8 15.9h0m2.9-13.6h0m-2.9 8.7h0m-1.5-2.2h0m-.3 .2h0m-2 6h0m3.9-19h0m2.6 5.9h0m-5.4-17.6h0m3.9 24.2h0m1.4-22.6h0m-12.2 6.6h0m12.3 5.2h0m-3-19.8h0m2.7 34.9h0m-10.3-13.4h0m7.9-5.4h0m.7 15.5h0m-4.4 3h0m2.8-3.4h0m-2.2 4.7h0m1.9-20.5h0m1.2 18.5h0m.2 4.3h0m2.5-2.6h0m-1.6-27.4h0m.6 14h0m.2-21.4h0m-1.4 21.6h0m1.2 12.2h0m-2.8-41.9h0m-3.4 5.1h0m7.3 36.8h0m-1.8-24.2h0m1.4 26.2h0m-2.8-51.8h0m-3.3 40.5h0m6.4 3.4h0m.5 9.4h0m-5.2-9h0m.5 2.1h0m3.2-3.7h0m0-24.1h0m1.3 20.1h0m-1.8 6.8h0m-.3 6h0m-.7 .5h0m-5.9-14.2h0m6.2-41.7h0m-10.4 44.6h0m5.5 10.9h0m-11-32.9h0m11.2 25.2h0m3.5 8.3h0m-4.2-4.2h0m.5-2.1h0m5.4 6h0m-3.5-6.7h0m-1.9-3.4h0m7.3-38.2h0m-2.4 43.8h0m-2.1-18.8h0m1.4-7h0m3.3 1.7h0m-.7 23.7h0m0-30.5h0m-.1 26h0m-2.8 9.3h0m.6 1.4h0m.2-6h0m-3.8 1.3h0m-2.6-11.9h0m6.8 1.5h0m-8.7 6.6h0m2.6-8.8h0m-4.6 6h0m3.5 10.2h0m-.6-20.4h0m7.5 2.5h0m.5 7h0m-3.2-39h0m1.7 25.3h0m-9.2 12.8h0m10.6 1.3h0m-2.8-29.5h0m4.4 35.3h0m-4.2 0h0m-4.6-2.2h0m1-1.5h0m.6-2.3h0m6.7 .9h0m-.1 4.3h0m-1.4-7.4h0m-1.9-1.7h0m-3.5 14.1h0m.8 1.4h0m7-4.7h0m-1.4-.1h0m-1.7-.3h0m3.3-32.9h0m-6.5 29.3h0m5.3-1.3h0m-3.5-10.7h0m-7.7 7h0m9 .2h0m-1.7 3.1h0m4.4 4.6h0m-.1-35.5h0m-3.4 8.2h0m2.4 16.1h0m-12.3 3.7h0m8.7 1.4h0m5.5 6.4h0m-2.4-.7h0m.8-6.7h0m1.3 11.8h0m.1-9h0m-.1 2.7h0m-11-15.9h0m10.8-5.4h0m-3 22.7h0m2-15.8h0m1.3 19.2h0m-1-4.9h0m.9-23h0m-4.7 25.6h0m1.6-11h0m-.2 15.4h0m.4-4.2h0m3.1-11.8h0m-2.7 5.4h0m2 9.2h0m-2.3-3.2h0m2.4-1.2h0m.3 4.8h0m-.8-3h0m.1-9.6h0m-.8-1.8h0m-3.9 8.8h0m4.9 5.2h0m.5-2.9h0m-5.2-9.1h0m5-22.7h0m-4.4 33.8h0m5-40.8h0m-.5 30.9h0m-.7 11.7h0m-.2-18.3h0m-4.4 8.1h0m-5.7 3.3h0m9.2-7.5h0m-7.2 12.5h0m4.2 1.4h0m4.6 1.3h0m-6.6 .3h0m5-7h0m-2.7-5.7h0m4.8-28.8h0m-8.1-32.4h0m-6 .2h0m-3.9 .3h0m15.2-.8h0m-4.3 1.5h0m-10.1-1.2h0m4.9 .7h0m3.1-.7h0m4.1-.4h0m-14.3 .3h0m8.5-.1h0m6.1 .5h0m-11.4-.2h0m11.5 .4h0m-12.8 .2h0m6.2-.1h0m-5.4-1h0m5.8 .3h0m-7.9 .4h0m3.3 .2h0m11.8-.5h0m-5.5 .3h0m-1.8 .1h0m-7.3-.4h0m11.8-.3h0m-5.1 .6h0m-1.9 .2h0m11-1h0m-2.8 .9h0m.6-.3h0m-1.4-.3h0m-4.7 .5h0m-8.6 .5h0m14.2-.3h0m-10.8-.3h0m9.7 .4h0m-2.5-.8h0m2.9 .1h0m-5.8 .6h0m3.3-.4h0m-3.2 18.1h0m-1.2 32.5h0m9.7 6.3h0m-1.5 13.7h0m-14.3-22.3h0m-.4 1.7h0m3.1-32.2h0m13.1 16.9h0m-6.3 5.6h0m9 24.1h0m-10.7-33.1h0m-2.4 20.1h0m8.6-24.6h0m-12.6 26.5h0m5.4-40.2h0m8.1 42h0m2.6-30.8h0m-17.7 41.2h0m-.7-12.6h0m5.9 16h0" stroke="#3550f0" stroke-width=".9" stroke-linecap="round"/>
<path d="M438 393.2h0m4.5 8.6h0m-3.9-8.3h0m.6 8.2h0m-.8-8.7h0m.3 6.2h0m4-23.7h0m-4.4 25.9h0m1.9-24.6h0m-2.3-39.6h0m1.2 50.8h0m.7 4h0m1.1-17.9h0m-2.7 13.6h0m5.3-45.9h0m-5 58.9h0m3.5-18.9h0m-4.1 18.2h0m9.9-25.4h0m-10-5.3h0m1.1 28.4h0m.9-.2h0m4.2 1.5h0m-6.2-6.8h0m1.5-21.5h0m2.7 14.7h0m-3.6 15.1h0m7.5-33.8h0m-.2 10.3h0m-7.5-19.3h0m7.5 29.1h0m-5.4-28.6h0m-.5 19.1h0m.6 18.2h0m-1.8-21.9h0m1.9-31.1h0m7.4 20.9h0m3.9 35.9h0m-12.3-25h0m-1.7 16.9h0m1.6 2.8h0m3.9-14.5h0m-4.5 19h0m5.1-7.4h0m2.1 6.6h0m-2.1-38.6h0m2 40.6h0m-1.9 1.4h0m-4.9-48h0m-.7-1.1h0m7.9 47.8h0m-8.4-1.1h0m1.2-25.3h0m-.9 27.6h0m.2-3.3h0m1.3 2.5h0m1.2-23.4h0m2.4-13.6h0m-5.3 16.3h0m.8 8.3h0m0-.5h0m-.5-30.2h0m-.4 39.7h0m.1-13.6h0m-.1 10.2h0m2.5 7.4h0m-.7-18.4h0m-.3 13.1h0m1.5-5.4h0m-1.4 10h0m4-31.6h0m-2.6 24.6h0m-2.8-7h0m1 15.2h0m1.8-11.3h0m-2.7-11.5h0m.8 11h0m8.4-9.3h0m-8.1 16.4h0m3.4-19.5h0m-4.9 15.1h0m1.5-19.4h0m-.2 23.6h0m5-3.6h0m2.4-6.4h0m-8.1 4.1h0m-.2-.3h0m-.2 3h0m1-31.3h0m-.2 1.8h0m12 13.8h0m-11.3 7.1h0m-.6 4.2h0m.4-21h0m14 20.3h0m-15.5 7.8h0m5.3 .6h0m-3.5-4.4h0m.2-33.3h0m.1 31.7h0m-1.9-23.2h0m4.3 25.2h0m-4.5 8.2h0m5.5 .5h0m-4.3-23.5h0m-1.2 3.7h0m.5-8h0m1.6-19.6h0m-2 39.9h0m1.2-2.9h0m2.7-44.6h0m-2 50.5h0m-1.3 4.1h0m9.3-11.1h0m-9.3 1.3h0m7 7h0m-.8-3.4h0m-5.1-48.3h0m15.6 34.6h0m-16.8-38h0m4.2 38.2h0m-4.3 15.3h0m.9 5.3h0m0 .1h0m6.7-35.9h0m-5.4 .6h0m6.6 30.8h0m-7.2-1.3h0m7.8-51.4h0m-6.9 55.6h0m-3-29.9h0m0 13h0m3.4 13.2h0m-3.4-8.6h0m3 1.1h0m-1.2-14.6h0m.3 23.6h0m-1.7-10.6h0m-.3-3.7h0m2 8.6h0m-.2-4.8h0m-.1-.2h0m-.3 11.4h0m1 .4h0m-1.8-.8h0m-.8-9.6h0m.3 1.7h0m-.1 5.5h0m1.5-19.7h0m4.6 13.7h0m-5.8-2h0m0 4.1h0m1.9-6.2h0m2.1 12.8h0m.4 1.4h0m-4.5 1.3h0m2.5-3.3h0m-.2-7.2h0m-1.1 2.4h0m-.7-8.1h0m2.2 11h0m-2.9-3.7h0m.6 2.8h0m-.2-15.6h0m2.3-3.9h0m-1.3-16.2h0m-1-8h0m1.7 45.2h0m-1-18.9h0m-.5 14.6h0m-.1-19.8h0m2.1-12.2h0m-1.9 34.1h0m.4-37.4h0m-.6 7.4h0m3.3 19.5h0m-.8 4.9h0m-2.8 .1h0m3.6-2.2h0m9.1 9.2h0m-10.9 .1h0m.1 4.7h0m11.6-5.4h0m-7.5 2.1h0m-5.6 3.9h0m.6-.8h0m5.9-4.2h0m-1.5-.3h0m-3.5-25.6h0m-2.1 5.7h0m8.6 24.2h0m-5.9-2.5h0m-.7-7h0m-1.4 7.3h0m1.6 3.3h0m2.8-4.1h0m-4.9-2h0m.7-37.4h0m1.3 12.5h0m4.8 27.4h0m-5.4-22.9h0m-1.2-4.3h0m.7 14.1h0m9.2 12.1h0m-7.9-9.2h0m3.3 6.6h0m-4.4-42.5h0m.3 47.3h0m3.5-2.1h0m-4-2.4h0m.2-38.5h0m1.6 42.5h0m-1.5-10.8h0m-.7-6.4h0m1.1-32.6h0m-1.3 29.9h0m4.1 17.6h0m-3.7-6.7h0m.1-3.6h0m6.8-41h0m-2.1 24.5h0m-2.7 12.2h0m-2.3 11.8h0m3.3-19h0m-2.7 27.2h0m1.9-4h0m-1.9-19h0m1.1 15.5h0m-1.9 5.6h0m-.1-40.9h0m1.3 31.3h0m-1.2 7.5h0m15.5 3.5h0m-10.2-33.5h0m-5.1 31.6h0m1.7-1.1h0m1.3-32.6h0m-3.7-17.6h0m9.9 52.4h0m-8.7-20.1h0m-.9 13h0m2.8-.1h0m-.5 7.2h0m-1.1-15.5h0m-.6 13.9h0m-.9-5.7h0m1-40.9h0m.2 30.3h0m3.5-34.2h0m-1.8 41.7h0m-1.4 5.1h0m0-24.4h0m4.3 15.6h0m1.1 6.2h0m-1.6-2h0m-4.1-1.7h0m.1-.3h0m.6 .5h0m.8 .1h0m-2.2 6.3h0m4.4-1.5h0m-4.4 2.7h0m1.2-1.4h0m-1-1.2h0m4-3.7h0m-4.6 1h0m10.3 5.6h0m-5.6 3.9h0m-4.5-7.9h0m6.1-6.8h0m-5.8-8.3h0m.9-4.9h0m-.6 21.3h0m7.8-7.5h0m-7.7-14h0m-.4 25.3h0m2-.6h0m4.7-8.6h0m-6.2-52.3h0m-.9 36.8h0m1.9 15.1h0m.2 3.3h0m.2-6.1h0m-2.5 4.5h0m1.8 8.7h0m.8-9.5h0m-.5 4.1h0m-1.3-26.2h0m1.1 19.1h0m-1.8 .9h0m5 1.5h0m-2.6 9.8h0m-1.2-15.6h0m1.5 14.3h0m-2.4 2.9h0m-.1-11.1h0m.3-1.4h0m-.5-24.4h0m1.6 36.8h0m-1.6-57.9h0m-.1 26.8h0m.8 25.9h0m-.8-26.9h0m1.5 31.5h0m2.4-3.8h0m-3.9-36.3h0m3.1 14.3h0m-2.8 17.2h0m.6-14.2h0m-.3-10.9h0m-.2 31.9h0m1.5-20.2h0m-1.3-20h0m.1 44.5h0m-.3-2.2h0m1.4-29.1h0m3.2 25h0m-4.9 .8h0m11.7-11.9h0m-11.3 .4h0m.8 12.3h0m-1.1-19.5h0m1.1 20.1h0m2 .3h0m-2.7 3h0m16.2-23.5h0m-16.2 24.2h0m-.5-4.6h0m8.6-23.2h0m-8.2 15.6h0m-.1 4.5h0m.9-25.8h0m3.5 19.2h0m-1.6 8.2h0m.4-4h0m1.4 5h0m-2.2 3.4h0m-.6-13.1h0m-1.1 10.8h0m1.2-16.2h0m-.3 7.8h0m7.1 10.7h0m1.5-8.3h0m-6.8-18h0m13.5 11.4h0m-8.7-11.6h0m-6.7 15.2h0m-1.1-12.5h0m3 13.7h0m-.6-25.4h0m.1-9h0m-2.2 30.1h0m-.5-32.6h0m6.6 48.8h0m-.4-18.8h0m-2 15.1h0m0-24h0m-3.7 14.4h0m-1.1 11.3h0m.5-13.6h0m.2 5.8h0m6.1 5.8h0m-6.6-48.6h0m1.7 17.1h0m-.2-31h0m-1.1 50.2h0m8.3-46h0m-8.9 19.7h0m.2 32.5h0m2.3-14.8h0m.9 18.2h0m-3.1-3.6h0m.6-6.1h0m3.4 11.4h0m4.9 3.9h0m-4.4-8.6h0m-4.9 4.7h0m2.5-3.6h0m-1.6-6.9h0m.4-18.2h0m.1 12.6h0m-.9 9.3h0m.8 2.9h0m-1.1-.7h0m-.1-21.3h0m.5 3.4h0m3 16.3h0m-1.6-7.7h0m-.3 3.4h0m4.1 12.7h0m-5.5-14.7h0m4.2-20.6h0m-4.3 24.2h0m5.7 2.1h0m-5.6 4.2h0m1.8-7.6h0m.4 12.4h0m-2.4 2h0m6.2-16.4h0m-5.7 15.9h0m.3-3.5h0m7.5-10h0m-5.8-23.6h0m-.8-1.3h0m1 39.5h0m-.9-15.2h0m-.1-37.6h0m.3 48.8h0m2.1-2.9h0m-3.3 3.1h0m2.9 .4h0m-1.2-6.8h0m-2.3 .6h0m-.2-53.8h0m3.1 50h0m.8 13.1h0m-2.9-30.2h0m1-6.9h0m-.7 34.6h0m1.3-.5h0m.4-4.8h0m-.8-2h0m-2.1-2.6h0m.6-33.4h0m5.1 25.1h0m-4-4.4h0m2.6 12.2h0m-1.9-5.3h0m-1.5 16.6h0m4.9-3.3h0m-2.6 .6h0m-3.2-8.5h0m.2 10.6h0m.7-13h0m.8-7.6h0m-1.5 11.1h0m.4 4.8h0m-.6-25.3h0m1.8 26.6h0m2.2-1.9h0m.7 4.5h0m-1.4-12.5h0m-2.8 12.4h0m-.3-50h0m6.9 30h0m-6.4-42.6h0m3 24.8h0m-3.5 40h0m1.3-13.9h0m1-39.3h0m-1.9 27.4h0m1.7 22.4h0m-1.3-33.2h0m.1 21.6h0m.4-19.5h0m2.2 31.6h0m-1.7-23.4h0m-1.2 7.8h0m-.8-4.2h0m3.6 23.2h0m-1.2-27h0m6.6 17h0m-5.6-26h0m-1.2 24.8h0m-2.2-18.5h0m5.5-15.9h0m-4.9 12.2h0m-.4 32.3h0m2.4-24.5h0m1.6 23.2h0m-1.5-48.9h0m2.8 48.8h0m3.2-48.6h0m-7.5 32.3h0m-.9 14.5h0m1.8-4.1h0m-.9-8.6h0m3.7 14.7h0m-.1-2.9h0m1-2.9h0m-3.4 4.2h0m-.4-6.2h0m-1.4 1.8h0m-.4-17.5h0m-.3-7.7h0m.3 32.5h0m.6-25h0m4.7-4.4h0m-5.4 2.6h0m.5 26.3h0m2.8-12.7h0m6-23.8h0m-1.4 22h0m-7.7-18.9h0m14.4-30.8h0m-11 54.3h0m1.6-38.8h0m-4.9 39.6h0m-.4 3.3h0m.7 1.6h0m4.2-3.3h0m9-9.8h0m-13.6 14.4h0m4.5-8.1h0m-1-7.6h0m3.6 14.2h0m-7.2-15.8h0m.1-24.4h0m-.3 42.6h0m5.1-9.7h0m.7-2.9h0m.7 11.7h0m-6.7-8.1h0m1.1 9.8h0m6.6 2.4h0m-5.9-3.3h0m-.3-1.3h0m-.4-33.6h0m.7 39h0m12.9-1.3h0m1.2-72h0m3.2 .2h0m-1.9-.7h0m-16.4 .7h0m23.5-.4h0m-13.8 .1h0m7.1 .1h0m4.4-.2h0m-3-.1h0m-18.3 .1h0m23.9-.2h0m2 .2h0m-17.8-.2h0m1.6 .1h0m-3.3 .8h0m18.5 .3h0m-14.1-1.3h0m-2.1 .9h0m-8.2-.5h0m5.1-.6h0m12.7 .6h0m-15.4 .1h0m18.8-.5h0m-15.1 .3h0m7.4-.2h0m8.3 .2h0m-.5-.1h0m-7 .2h0m4.2-.2h0m-3.2-.3h0m-9.7 .4h0m7.1-.8h0m10.6 .8h0m-5.8 .4h0m-8.9-.3h0m7.4 0h0m-11.9-.3h0m9.9 .6h0m7.6-.3h0m-4 .2h0m5.5 .5h0m-16.1-1.1h0m8.1 .2h0m-10.2-.1h0m16.5 .4h0m2.9 .1h0m0-.7h0m-11.2-.2h0m-9.8 .9h0m8.1-.5h0m4.7 22.5h0m-10.5 7.7h0m-3 8.8h0m9.2 26.8h0m3.3-44.6h0m-3.5 24.8h0m-.4-23.4h0m-5.3 30.1h0m9.8 19.4h0m-.5-12.9h0m-.6-42.5h0m-3.1 26.9h0m-3.4 5.5h0m-5.2-24.8h0m11.4 39h0m2.5-20.9h0m-3.2 4.8h0m-.1-24.9h0m-4.3-2.8h0m5.8 9.9h0m-11.1-.8h0m10.1 14.1h0m-8.9 22.2h0m7.7-6.4h0m-7-29.3h0m4.7-9.5h0m-8 51.5h0m-1.5-3.1h0m.4-41h0m10.1 44.6h0m3.7-6.2h0m-2.7-14.3h0m-10.2 12.7h0m4.8-17.6h0m-3.2-11.7h0m-1.5-20h0m8.2 22.8h0m-1.6-16.2h0m9.2 36.5h0m-1.6-33.7h0" stroke="#f2183a" stroke-width=".9" stroke-linecap="round"/>
<path d="M392.5 327.7V402.6H467.6" fill="none" stroke="#111" stroke-width="1.2"/>
<path d="M390.8 328.5H392.5" stroke="#111" stroke-width="0.9"/>
<path d="M390.8 346.2H392.5" stroke="#111" stroke-width="0.9"/>
<path d="M390.8 363.8H392.5" stroke="#111" stroke-width="0.9"/>
<path d="M390.8 381H392.5" stroke="#111" stroke-width="0.9"/>
<path d="M390.8 395.3H392.5" stroke="#111" stroke-width="0.9"/>
<path d="M390.8 401.9H392.5" stroke="#111" stroke-width="0.9"/>
<path d="M392.5 402.6V404.3" stroke="#111" stroke-width="0.9"/>
<path d="M408 402.6V404.3" stroke="#111" stroke-width="0.9"/>
<path d="M422.5 402.6V404.3" stroke="#111" stroke-width="0.9"/>
<path d="M438 402.6V404.3" stroke="#111" stroke-width="0.9"/>
<path d="M452.5 402.6V404.3" stroke="#111" stroke-width="0.9"/>
<path d="M466.5 402.6V404.3" stroke="#111" stroke-width="0.9"/>
<text x="389.2" y="330.9" font-size="7.4" text-anchor="end">1e-50</text>
<text x="389.2" y="348.9" font-size="7.4" text-anchor="end">1e-38</text>
<text x="389.2" y="366.4" font-size="7.4" text-anchor="end">1e-26</text>
<text x="389.2" y="383.6" font-size="7.4" text-anchor="end">1e-14</text>
<text x="389.2" y="397.9" font-size="7.4" text-anchor="end">5e-2</text>
<text x="389.2" y="404.5" font-size="7.4" text-anchor="end">1</text>
<text x="391.5" y="412.5" font-size="7.4" text-anchor="middle">-32</text>
<text x="408.0" y="412.5" font-size="7.4" text-anchor="middle">-8</text>
<text x="422.5" y="412.5" font-size="7.4" text-anchor="middle">-2</text>
<text x="438.0" y="412.5" font-size="7.4" text-anchor="middle">2</text>
<text x="452.5" y="412.5" font-size="7.4" text-anchor="middle">8</text>
<text x="465.5" y="412.5" font-size="7.4" text-anchor="middle">32</text>
<text x="413.8" y="424.0" font-size="8.4" textLength="40.0" lengthAdjust="spacingAndGlyphs">Fold-change</text>
<text x="362.4" y="362.9" font-size="8.0" text-anchor="middle" transform="rotate(-90 362.4 362.9)">FDR</text>
<text x="345.7" y="336.8" font-size="8.0" font-style="italic" textLength="19.1" lengthAdjust="spacingAndGlyphs">Prtn3</text>
<text x="344.9" y="345.0" font-size="8.0" font-style="italic" textLength="18.7" lengthAdjust="spacingAndGlyphs">Elane</text>
<text x="339.9" y="389.5" font-size="8.0" font-style="italic" textLength="23.1" lengthAdjust="spacingAndGlyphs">Cd177</text>
<text x="470.8" y="337.2" font-size="8.0" font-style="italic" textLength="24.6" lengthAdjust="spacingAndGlyphs">Pdgfrb</text>
<text x="470.8" y="349.2" font-size="8.0" font-style="italic" textLength="25.4" lengthAdjust="spacingAndGlyphs">Zbtb16</text>
<text x="470.8" y="361.0" font-size="8.0" font-style="italic" textLength="21.0" lengthAdjust="spacingAndGlyphs">Gata2</text>
<text x="470.8" y="372.8" font-size="8.0" font-style="italic" textLength="12.8" lengthAdjust="spacingAndGlyphs">Hgf</text>
<text x="470.8" y="384.6" font-size="8.0" font-style="italic" textLength="14.4" lengthAdjust="spacingAndGlyphs">Hdc</text>
<text x="470.8" y="396.5" font-size="8.0" font-style="italic" textLength="14.8" lengthAdjust="spacingAndGlyphs">Bcl2</text>
<path d="M367.1 334.7L415.8 328.3M367.1 342.3L415.4 328.5M367.1 387.2L420 383.8M438.8 328L469 335.4M439.6 328L469 347.7M440.4 328L469 358.5M441.2 328L469 370.5M442 328L469 382.3M442.8 328L469 394.6" stroke="#111" stroke-width="1.15" fill="none"/>
<text x="8.0" y="455.0" font-size="11.2" font-weight="bold" textLength="6.2" lengthAdjust="spacingAndGlyphs">F</text>
<path d="M94.8 453.7V523.4H479.6" fill="none" stroke="#111" stroke-width="1.3"/>
<path d="M92.6 522.9H94.8" stroke="#111" stroke-width="1"/>
<text x="91.9" y="525.8" font-size="8.4" text-anchor="end" textLength="4.3" lengthAdjust="spacingAndGlyphs">0</text>
<path d="M92.6 499.8H94.8" stroke="#111" stroke-width="1"/>
<text x="91.9" y="502.7" font-size="8.4" text-anchor="end" textLength="4.3" lengthAdjust="spacingAndGlyphs">5</text>
<path d="M92.6 476.7H94.8" stroke="#111" stroke-width="1"/>
<text x="91.9" y="479.6" font-size="8.4" text-anchor="end" textLength="8.2" lengthAdjust="spacingAndGlyphs">10</text>
<path d="M92.6 453.6H94.8" stroke="#111" stroke-width="1"/>
<text x="91.9" y="456.5" font-size="8.4" text-anchor="end" textLength="8.2" lengthAdjust="spacingAndGlyphs">15</text>
<text x="67.9" y="488.5" font-size="8.8" text-anchor="middle" textLength="53.1" lengthAdjust="spacingAndGlyphs" transform="rotate(-90 67.9 488.5)">Relative <tspan font-size="9.8">Gata2</tspan></text>
<text x="77.9" y="488.9" font-size="8.8" text-anchor="middle" textLength="50.1" lengthAdjust="spacingAndGlyphs" transform="rotate(-90 77.9 488.9)">RNA expression</text>
<path d="M117.9 522.3H128.8" stroke="#3a50ee" stroke-width="1.2"/>
<text x="105.4" y="535.8" font-size="8.6" text-anchor="middle" textLength="13.2" lengthAdjust="spacingAndGlyphs">WT</text>
<text x="121.5" y="535.8" font-size="8.6" text-anchor="middle" textLength="10.2" lengthAdjust="spacingAndGlyphs">PR</text>
<path d="M102.8 542.3H126.7" stroke="#111" stroke-width="1"/>
<path d="M135.8 522.3H146.7" stroke="#43d143" stroke-width="1.2"/>
<path d="M150.7 522.3H161.5" stroke="#43d143" stroke-width="1.2"/>
<text x="139.3" y="535.8" font-size="8.6" text-anchor="middle" textLength="13.2" lengthAdjust="spacingAndGlyphs">WT</text>
<text x="155.9" y="535.8" font-size="8.6" text-anchor="middle" textLength="10.2" lengthAdjust="spacingAndGlyphs">PR</text>
<path d="M136.7 542.3H161.1" stroke="#111" stroke-width="1"/>
<path d="M169.7 522.3H180.5" stroke="#ee2a34" stroke-width="1.2"/>
<path d="M185.8 522.3H196.6" stroke="#ee2a34" stroke-width="1.2"/>
<text x="173.7" y="535.8" font-size="8.6" text-anchor="middle" textLength="13.2" lengthAdjust="spacingAndGlyphs">WT</text>
<text x="190.8" y="535.8" font-size="8.6" text-anchor="middle" textLength="10.2" lengthAdjust="spacingAndGlyphs">PR</text>
<path d="M171.1 542.3H196.0" stroke="#111" stroke-width="1"/>
<path d="M204.1 522.3H214.9" stroke="#111111" stroke-width="1.2"/>
<path d="M219.9 522.3H230.7" stroke="#111111" stroke-width="1.2"/>
<text x="207.9" y="535.8" font-size="8.6" text-anchor="middle" textLength="13.2" lengthAdjust="spacingAndGlyphs">WT</text>
<text x="224.3" y="535.8" font-size="8.6" text-anchor="middle" textLength="10.2" lengthAdjust="spacingAndGlyphs">PR</text>
<path d="M205.3 542.3H229.5" stroke="#111" stroke-width="1"/>
<path d="M237.4 522.3H248.2" stroke="#93c1ea" stroke-width="1.2"/>
<path d="M253.1 522.3H263.9" stroke="#93c1ea" stroke-width="1.2"/>
<text x="241.6" y="535.8" font-size="8.6" text-anchor="middle" textLength="13.2" lengthAdjust="spacingAndGlyphs">WT</text>
<text x="258.0" y="535.8" font-size="8.6" text-anchor="middle" textLength="10.2" lengthAdjust="spacingAndGlyphs">PR</text>
<path d="M239.0 542.3H263.2" stroke="#111" stroke-width="1"/>
<path d="M271.5 522.3H282.2" stroke="#f4ad6a" stroke-width="1.2"/>
<path d="M286.2 522.3H297.0" stroke="#f4ad6a" stroke-width="1.2"/>
<text x="275.4" y="535.8" font-size="8.6" text-anchor="middle" textLength="13.2" lengthAdjust="spacingAndGlyphs">WT</text>
<text x="291.6" y="535.8" font-size="8.6" text-anchor="middle" textLength="10.2" lengthAdjust="spacingAndGlyphs">PR</text>
<path d="M272.8 542.3H296.8" stroke="#111" stroke-width="1"/>
<path d="M306.2 522.3H317.0" stroke="#3a8fe6" stroke-width="1.2"/>
<path d="M321.6 522.3H332.4" stroke="#3a8fe6" stroke-width="1.2"/>
<text x="309.8" y="535.8" font-size="8.6" text-anchor="middle" textLength="13.2" lengthAdjust="spacingAndGlyphs">WT</text>
<text x="326.6" y="535.8" font-size="8.6" text-anchor="middle" textLength="10.2" lengthAdjust="spacingAndGlyphs">PR</text>
<path d="M307.2 542.3H331.8" stroke="#111" stroke-width="1"/>
<path d="M342.0 522.3H352.8" stroke="#7c3030" stroke-width="1.2"/>
<path d="M357.4 522.3H368.2" stroke="#7c3030" stroke-width="1.2"/>
<text x="345.5" y="535.8" font-size="8.6" text-anchor="middle" textLength="13.2" lengthAdjust="spacingAndGlyphs">WT</text>
<text x="362.3" y="535.8" font-size="8.6" text-anchor="middle" textLength="10.2" lengthAdjust="spacingAndGlyphs">PR</text>
<path d="M342.9 542.3H367.5" stroke="#111" stroke-width="1"/>
<path d="M377.4 522.3H388.1" stroke="#8a5cf0" stroke-width="1.2"/>
<path d="M393.4 522.3H404.1" stroke="#8a5cf0" stroke-width="1.2"/>
<text x="381.5" y="535.8" font-size="8.6" text-anchor="middle" textLength="13.2" lengthAdjust="spacingAndGlyphs">WT</text>
<text x="398.4" y="535.8" font-size="8.6" text-anchor="middle" textLength="10.2" lengthAdjust="spacingAndGlyphs">PR</text>
<path d="M378.9 542.3H403.6" stroke="#111" stroke-width="1"/>
<path d="M413.0 522.3H423.8" stroke="#c6b6f6" stroke-width="1.2"/>
<path d="M428.7 522.3H439.5" stroke="#c6b6f6" stroke-width="1.2"/>
<text x="417.5" y="535.8" font-size="8.6" text-anchor="middle" textLength="13.2" lengthAdjust="spacingAndGlyphs">WT</text>
<text x="433.8" y="535.8" font-size="8.6" text-anchor="middle" textLength="10.2" lengthAdjust="spacingAndGlyphs">PR</text>
<path d="M414.9 542.3H439.0" stroke="#111" stroke-width="1"/>
<path d="M448.6 522.3H459.4" stroke="#ee5ee8" stroke-width="1.2"/>
<path d="M464.5 522.3H475.3" stroke="#ee5ee8" stroke-width="1.2"/>
<text x="452.8" y="535.8" font-size="8.6" text-anchor="middle" textLength="13.2" lengthAdjust="spacingAndGlyphs">WT</text>
<text x="469.6" y="535.8" font-size="8.6" text-anchor="middle" textLength="10.2" lengthAdjust="spacingAndGlyphs">PR</text>
<path d="M450.2 542.3H474.8" stroke="#111" stroke-width="1"/>
<text x="36.8" y="534.4" font-size="8.2" textLength="52.2" lengthAdjust="spacingAndGlyphs">Bone marrow:</text>
<text x="37.7" y="560.2" font-size="8.2" textLength="31.7" lengthAdjust="spacingAndGlyphs">Lineage:</text>
<path d="M118.5 486.7h0m7.1-3.1h0m-.1-3.5h0m.4-3.8h0m-5 10.8h0m1.4-2.9h0m-.3 3.8h0m-3.1-2.9h0m8.3-3.2h0m-4 1.1h0m-3.4 1.1h0m-.6 7.6h0m6.9-10h0m-5.1 4.4h0m5.7-2.5h0m-2.1 .6h0m3.3-1.8h0m-6.2 4h0m-3.6-3.6h0m-.3 12.7h0m3.9-20.7h0m5.4 5.9h0m.6-3.9h0m-.5 15.2h0m-.2-.4h0m-1-9.6h0m-7.5 15.2h0m6.3-14.2h0m-.3 6.7h0m1-.6h0m-6.9-8.5h0m5.1 9.1h0m-.8-10.6h0m-2 11.1h0m2.5 1.4h0m-3.2-2.9h0m7.4-9.8h0m-4 13.4h0m.3-4.9h0m1.8-9.9h0m3 10.5h0m-.9 2.4h0m-1.3-15.3h0m-6.8 5.8h0m1.7 5.3h0m4.7 11.9h0m-2.8-12.2h0m-5.3-.8h0m9.1-3.8h0m1.2 10.1h0m-1-6.6h0m1.4-7.9h0m-3.3 5.1h0m1.2-4.5h0m-6.7-2.4h0m-1.9 9.1h0m5.7 10.7h0m.1-8h0m-.6 .7h0m1.1 9h0m-2.7-11.3h0m5.5-10.3h0m-3.8 2.2h0m-3.2 8.9h0m7.4-3.5h0m-3.1 3.2h0m-.9-1h0m2.4-6.5h0m-5.8 12.1h0m6.3-8.5h0m-1.7 2.8h0m2.3-2.2h0m-8.8 15.3h0m4.4-.3h0m-.2-19.3h0m5.3 11.4h0m-2 7.1h0m-.3 1.1h0m-1.6-14.2h0m4.1-5.4h0m-4.7 10.7h0m1.3 5h0m-1.9-13.9h0m1.9 9.1h0m1.4-1.5h0m-2.8-2.6h0m-2.8 8h0m1.4-14.9h0m5.7 6.7h0m-6.3-4.4h0m-3.2 8.1h0m10.7 8.7h0m-8.1-9.7h0m3.4 9h0m1.1-16.4h0m.1 8.1h0m-4.3-13.7h0m-2.5 20.4h0m2.7-8.1h0m4.4-12h0m-5.5 18.8h0m-.6-2.6h0m-.2-2.7h0m-.2-13.7h0m6 4.6h0m-2.6-.4h0m1 18h0m-5.1-21.3h0m-.4 13.6h0m6.6 10.1h0m-6.2-6.5h0m-.1-5.1h0m7 1.5h0m.8 2.9h0m-3.7-6h0m-3.9-5.2h0m5.1 3.9h0m-.1 14.1h0m4-15.8h0m-7.5 11.3h0m.1-3h0m.1-17.2h0m8.4 15.1h0m-8.2 .1h0m-2.2-1.9h0m4.5-12.6h0m-.7 22.6h0m-.4-17.8h0m3.5 16.1h0m-1.2-7.3h0m-3.6-2.9h0m4.1-4.2h0m.5 13.5h0m-.7-11.1h0m-2.8 13.5h0m-.7-9.7h0m7.5 11.2h0m-3.9-3.6h0m-5.2-17.2h0m4.6 4.2h0m2.9 9.7h0m-3.9 0h0m-2.3 1.6h0m3.1 5.2h0m-.1-13.1h0m-4.4 1.4h0m7.3-.4h0m-4.9 10.1h0m1.6-6.3h0m-4-1.3h0m7.1-6.2h0m.4 6.5h0m-1-5.2h0m3.4 8.4h0m-.9-5.5h0m-6.3 6.6h0m-2.9-.6h0m9.9-8.2h0m-.7-6.8h0m-8.1 14.3h0m5.9-8.4h0m-7.5-.6h0m9.4 15.5h0m-.8-3.3h0m-3 .8h0m.9-15.8h0m-4.6-4.3h0m6 3h0m-4.4 7.7h0m3.7 6.5h0m-.4 .2h0m-2-9.2h0m-2.3 6h0m-.1-2h0m-.5 10.2h0m.9-11.5h0m1.4 11.3h0m5.1-18.4h0m-7.7 3.7h0m6.3 1.2h0m-.7 12.8h0m1.5-14.7h0m-5.1-1.1h0m1.8 3h0m-5-3.9h0m-.4 7.2h0m9-3.5h0m.8 1.8h0m.5 1h0m-4.6 5.8h0m-2.2-7.8h0m6.8 8.3h0m-5.1 3.6h0m-.2-10.3h0m-2.7-5.2h0m6.4 8.8h0m-6.2-11.2h0m3.1-1.9h0m0-.3h0m1.8 19.8h0m-2.3 .1h0m-.8-1.8h0m-1.7-.6h0m1.7-11.6h0m5.2 .9h0m-9.4 11.1h0m9.2-11.9h0m1 12h0m-.5-13.2h0m-3.9-5.9h0m-2.6 6.3h0m2.9 .1h0m-4.1 6.2h0m4.9 9.7h0m2.5-7.6h0m-8.7-7.4h0m3-8.5h0m-.7 22.1h0m4-16.6h0m2.9 10.3h0m-8.3 8.3h0m2.8-21.7h0m5.6 2.5h0m-1.2 11.7h0m-9.2-5.2h0m.3 6.9h0m.9-1.2h0m5.4 4.7h0m1.8-22.4h0m-2.2 17.4h0m-6.2-3.2h0m7.7-8.4h0m.7-4.9h0m-6.4 13.7h0m7.7 2.5h0m-4.5-7.1h0m-1.3-.6h0m.9 .9h0m4.5-1.5h0m-8.2-4.3h0m-.7 12.6h0m.6-12.1h0m6.9 19.7h0m-1.6-17h0m-5.3 12.4h0m3.2 3.6h0m-1.3-20.6h0m2.1 19.1h0m-.8-19.9h0m-4.2 8.7h0m6.7-8.7h0m2.3 11.2h0m.1-3.1h0m-5.6 8.7h0m2-18.4h0m-4.8 21.6h0m4.1-4.5h0m.1-5.7h0m-2 5.1h0m-.5-15.8h0m.7 14h0m6.3 5.4h0m-8.2-15.5h0m6.7 14.3h0m2.6 1.5h0m-1.2-7.7h0m-1.9 .7h0m.7 8.4h0m-6.9-14.6h0m2.4-4.4h0m-3.4 9.7h0m.4 5.2h0m4.1-2.7h0m.9-7.5h0m2.7 9.3h0m-5.8-7.6h0m7.3 10.3h0m-4.9-12.6h0m2-.7h0m-5.4 2h0m5.2 13.6h0m-6.3-20.8h0m7.7 10.4h0m-2.9 1h0m4.3-4.9h0m-5.3 12h0m4.8-14.2h0m.6-5.9h0m-4.9 23.7h0m6.4-6.3h0m-1.1 5.4h0m-.5-22h0m-7 24h0m4-15.3h0m-5.6 12.2h0m8.4-7.5h0m-.5 8.8h0m-8-7.1h0m6.5-1.4h0m-1 2h0m.9-12.4h0m-1.7 13.2h0m-2.9-3.1h0m6.6-4.7h0m1.8-4.1h0m-1.6 3.4h0m-4.9 10.7h0m4.6-2.6h0m1.5-6.1h0m-3 6.9h0m-6.8 4.9h0m8.8-16.5h0m-8.2 3.6h0m5.5-5.1h0m.1 4.6h0m3.3 9.5h0m-7-16.4h0m-2 4.7h0m7-.5h0m.1 11.7h0" stroke="#3a50ee" stroke-width="1" stroke-linecap="round"/>
<path d="M139.5 477.7h0m4.2 7.4h0m-3.6-.4h0m-3.5-9.3h0m6.1 4h0m-2.3-5.8h0m-3.8 19.9h0m5-1.3h0m-4.6 0h0m8.5-1.1h0m-8-7.4h0m8.7 .9h0m-2.8 8.5h0m1.8-17.5h0m-2.4 2h0m-4.5 14.8h0m7.2-11.8h0m-3.8-5.9h0m-.5 1.8h0m2.3 6.2h0m-5.1-10h0m1.9 17.8h0m2 .6h0m2.6-16h0m-.3 4.6h0m0 1.8h0m-8.7 5.3h0m8-9.4h0m-5.5 19.8h0m4.5-19.4h0m-2.2 2.9h0m.9 7.2h0m4-9h0m-5-3.7h0m5.6 10.3h0m-5-7.1h0m-.1 3.3h0m-4.8 9.5h0m-.5-21.7h0m3.4 16.3h0m4-9.7h0m-3.7-4.4h0m1 16.7h0m-1.9-6.7h0m3.8 9.2h0m3.1-22.7h0m-2.5 23.8h0m-3.2-4.5h0m4.6-6.9h0m-3.4 13h0m-1.7-2.2h0m4.6 4.7h0m-6.6-22.9h0m4 10.3h0m-5.4-2.8h0m5.7 14.9h0m1.4-27.3h0m1.8 25h0m-4-23.6h0m-2.3-.8h0m3.2 22.8h0m4.3-20.6h0m-10.1 11.6h0m1.4-1.9h0m6.4-7.8h0m-4.2 17h0m.4-18.6h0m-1 24.1h0m4.5-26.9h0m-4.5 5.7h0m3.3 11h0m-5.7 6.6h0m5-6.4h0m-.6-10.8h0m-4.4 2h0m3.3 16.2h0m5.9-5.9h0m-2.5-5.4h0m-.5-12.4h0m1.9 10h0m1.5-3h0m-.5 7.2h0m-1.5-4.4h0m1.4 2.6h0m-2.6-13.3h0m-2.2-.2h0m-3.8 7.6h0m9.3 14.9h0m-4.9-5.9h0m.2 8.7h0m-3.4-6h0m2.5-.3h0m-3.3-15.8h0m3.6 8.9h0m1.2-9.1h0m-5.2 19.2h0m-.8-21.1h0m8.8 8.8h0m-8.2-9.7h0m8.6 20.2h0m-8.2 6.7h0m9.4-13.5h0m-1.9-5.2h0m1-1.9h0m-2.3 .1h0m-7.6-.2h0m6.3 20.2h0m-5.8-21.5h0m5.9 3.1h0m4.5 7.3h0m-5.6-9.1h0m-1.5 6.3h0m7.2 5.6h0m-.8-7.3h0m-2.5 4h0m3.2 .5h0m-9.7 6.3h0m3.2-13.6h0m4.8 3h0m-9-3h0m2 4.8h0m5.8-12.8h0m-.5 18.1h0m-3.2-2.5h0m2 3.7h0m-4.7-5.3h0m3.9-14.2h0m-4.9 20.7h0m1.2-1.7h0m-.9 4.4h0m9.2-14.2h0m-5 4.9h0m3.8 .5h0m-1.3 2h0m-.9 9.7h0m-6.6-3.8h0m2.1-12.5h0m5.7 14.3h0m-.9-12.7h0m1.2-10.9h0m-4.8 16h0m-1.2-11.9h0m1.7-2.5h0m-1.6 20.4h0m.5-10h0m-2.4 7.8h0m3.7-16.4h0m4.6-3.5h0m1.9 28.7h0m-8.5-17.4h0m.5-3.4h0m6.6-4.5h0m-8.7 2h0m2.6-.3h0m-2-4.4h0m6.7 9.6h0m-7.8 8.6h0m5.7-4.7h0m5 9.2h0m-5.7-11.5h0m2.9 2.4h0m-2 8.8h0m-4.1-13.8h0m9 8.8h0m-7.4-7.4h0m3.5 13.7h0m-2.2-9.9h0m-3.4-9.1h0m.8 8.4h0m1.7-8.3h0m1.7-.8h0m2.5 15.4h0m2.1-17.7h0m-1.9-.3h0m-2.6 1.6h0m5-1.6h0m-10.6 5.1h0m7.4-3.4h0m1.3 3.3h0m.9 13.5h0m-.4-9.5h0m-2.2 9.9h0m-6.8-4h0m8.8-11.6h0m-1.6-5.3h0m-3.8 5.5h0m-3 9.6h0m8.5-2.3h0m-4-11.6h0m-1.4 13.1h0m5.8-7.3h0m.5 .1h0m-3.7-1.6h0m.8-4.1h0m3.6-1.5h0m-6.5 13h0m-2.9-3.7h0m6.5 .5h0m-5.6 14.2h0m7.5-22.2h0m-3-2.1h0m1.2 3.7h0m-6.9-2.5h0m1.7-1.6h0m1.2 12.3h0m6.5-.5h0m-2.4 10.9h0m-7.6-7.5h0m4.4-13.1h0m4 12.8h0m-5-.6h0m4.3 2.7h0m2.5-1.9h0m-.4 .9h0m-3-.7h0m-2.3-7h0m-1.3-4.9h0m3.4 6.3h0m-5-4.8h0m6 1.3h0" stroke="#43d143" stroke-width="1" stroke-linecap="round"/>
<path d="M154.3 472.7h0m6.2 9.5h0m-.2-9.5h0m-1.1-3.8h0m-8 1.1h0m-.7 3.2h0m6.7-3.4h0m-2.7 4.9h0m3.3 13.7h0m-3.7-13.9h0m3.5 3.2h0m3.2 4.9h0m-3.7 3.7h0m2.2-13h0m-6.6 2.7h0m1.5 9.1h0m3.4-2.9h0m-2.5-13h0m4.4 5.2h0m-.1-.6h0m-7.7 9.8h0m3.7-8.5h0m-3.9-.6h0m5 9.1h0m2.5-3.9h0m-6.1-10.3h0m7.9 9.3h0m-9 3.8h0m.8-13.4h0m3.6-1.3h0m-3.6 2.7h0m.2 11.5h0m3.1-4.6h0m1.1 17.4h0m-.8-12.4h0m-3.7-6h0m8.3 13.9h0m-4.5-14.5h0m1.5 6h0m-7.1-4.2h0m8.9-6.7h0m-4-.5h0m-1.9 18.5h0m4.3-13.7h0m2.6-2.1h0m-7.9 16.3h0m7.6-16.1h0m-2 8.7h0m-4.2-12.4h0m1 1.1h0m3.4 4.8h0m-8-8.9h0m6.9 4.2h0m2.8 24.2h0m-1.6-13.8h0m2.5-3.5h0m-8.1-9.3h0m7.3 9.2h0m0 1.4h0m-5.3-6h0m4.2 19h0m-1.4-8.9h0m3.2-14h0m.6 3.6h0m-2-4.2h0m-2.3 2.3h0m-1.9-1.3h0m-1.9 7h0m.3-1.3h0m4.5-7.1h0m2 .9h0m-2.7 18.5h0m-5.7-14.7h0m3.3-7.9h0m3 14h0m-2.7-.7h0m-2.4-12h0m-1.9-2.3h0m.7 9.6h0m5.4 3.8h0m-6.6-9.6h0m.6 23.6h0m-.8-11.2h0m3.4-9.3h0m5.8 22.1h0m-5.9-8.3h0m-2-9.1h0m3.5 20h0m-2.6-19.9h0m6 11.5h0m-6.8-12.2h0m4.1-9.9h0m3.9 14.8h0m-1.8-.7h0m.9 4.9h0m.9-18.9h0m-4.6 27.9h0m-.4-23.1h0m3.2 20.4h0m2.8-18.6h0m-3.8-4.3h0m-5.5 2.5h0m8.4 25h0m-6.2-29h0m4.3 7.5h0m-6.5-.2h0m1.8-8.8h0m-1.1 24.2h0m9.3-6h0m-7 13.5h0m6.1-21.8h0m-.2-4.6h0m-9.7 18.5h0m.9-8.6h0m5.5-6.5h0m-3.6-2.8h0m1-1.9h0m4.5 28.4h0m1-10.5h0m-1.4-7.4h0m-1.6 1.7h0m-1.2 13.3h0m1.2-3.3h0m-1.1-1h0m-4.6-24.9h0m6.9 12.5h0m-3.7-11.7h0m-2.5 14.6h0m7-7.7h0m-8 8h0m5.3 4.3h0m-2.5-3.8h0m3.1 8.1h0m.5-22.6h0m-2.6 1.3h0m6.1 18.3h0m-3-11.9h0m-6.8-7.1h0m6.4-.9h0m-4.6 10.4h0m2.8-1.7h0m-2.5-9.4h0m6.7 5.5h0m-9-6.9h0m10.4 .3h0m-1.1 4.4h0m1.2 15h0m-4.8-8.8h0m1.7 7.4h0m-4.4-19h0m5.6 9.7h0m2 4.7h0m-6.8 8.7h0m2.2-1.6h0m1.6-11.2h0m-6.7-3.9h0m6.1 4.9h0m-6.1-3.5h0m4.2-.4h0m1.3 .4h0m-4.4 1.1h0m2.9 5.8h0m-2.7 4.4h0m-2.1 .2h0m3.5-13.4h0m3.5 6.4h0m-3 1.2h0m3.1 11.1h0m-5.3-12h0m3.5-1.6h0m-3.5-3.8h0m6.4 2.3h0m-2.4 4.1h0m-3.1-.4h0m1.3-7.4h0m-3.7 2.6h0m7.5 12.3h0m-8.2-12.4h0m8.4 10.2h0m-3.8-4.7h0m-3.5 3.5h0m9.1-6.3h0m-8.5 6.9h0m4.3-11.1h0m3.4 4.8h0m-1.2-2.7h0m-2.2-6.6h0m-1.9 12.2h0m1.4 .3h0m-1.2-9.2h0m1.6 2.5h0m-2.5 8.1h0m-2.6-5.4h0m3.5-6.7h0m-.8-3.3h0m-3.4 11.4h0m7.2 9.4h0m-1.1 10.9h0m-4.9-28.3h0m3.3-1.6h0m-.4 13.9h0m4.9-3.8h0m-5.7 3.1h0m4-4h0m-2.9-2.3h0m.7-7.4h0m2.9 6.2h0m2.5 2.1h0m-8.4-3.6h0m-1.7 5.5h0m4.7-11.5h0m-2.9 3.4h0m5.3 9.3h0m-7.4-6.1h0m-.1 8.3h0m4.8 6.5h0m.9 1.2h0m2.4-2.9h0m2.2-10.6h0m-7.3 17.9h0m1.8-3.3h0m-.7-9.4h0m-2.7-4.2h0m.5-7.4h0m7.4 4.7h0m-7.4-3.3h0m4.3 6h0m-3.2 3.1h0m6.6-5.2h0m1.1-2.7h0m-9.9-3.2h0m-.1 9.5h0m.6 1.2h0m1-.4h0m2.5-12.9h0m-3.9 11.1h0m4.5-9.6h0m5.2 20.2h0m-1-2.6h0m-.3-17.6h0m1.3 3.7h0m-10-5.4h0m5.8 7.3h0m4.3 3.8h0m-5.3 6.6h0m2.8-4h0m1.4-3.7h0m-.8 4h0m-7.6 2.2h0m4 .7h0m2.3-10.9h0m-7.3 8.7h0m4 4.3h0m3.7-.1h0m-6.3-15.9h0m5.2 .3h0m1.8 22.8h0m-7.9-15.5h0m8.4-7.5h0m-7.7 28.4h0m-1.6-27.9h0m1.2 7.7h0m4.4 16.4h0m-4.1-24.9h0m7.2 5.8h0m-3.9-2.2h0m-.8 .4h0m-2.3 1.2h0m3.8-7.8h0m4.5 21.3h0m-4.5-17.4h0m3.3-1.6h0m-6.9 15.7h0m7.1-11h0m-.6 2.4h0m1.6 17.6h0m-3.8 3.7h0m3.3-30.7h0m-8.6 17.9h0m7.3-14.6h0m-5 21.6h0m-2.6 8.4h0m6-12h0m-3.5-18.9h0m2 13.2h0m5.8-.6h0m-5.4-13.5h0m2.7 2.8h0m-4.3-.9h0m-1.5 6.5h0m1.7-4.6h0m-1.3-1.7h0m5.9 8.5h0m-.4 8.1h0m-6.4-10h0m-1.1-7.7h0m5.7 18.6h0m-5.7-1.5h0m2.7 3.4h0m.3-14.9h0m1.5 15.2h0m2.2-23.1h0m-4.8 23.6h0m6.1 1.9h0m-4.4-18.8h0m5.6 11.4h0m-9.9-2.9h0m7.7 4.7h0m-2.3-13.3h0m-2 4.3h0m6.5 6.9h0m-3.7-14.8h0m-6.2 1.6h0m1.3 12.3h0m7.2-15.5h0m-5.2 14.1h0m3.7 7.1h0m3.2-16.3h0m-8.9-.8h0m-.8-.7h0m1.5 9.8h0m.2-1.9h0m.3-7.7h0m-.2 3.3h0m3.3 9.6h0m5.1-12.3h0m-8.1 13.1h0m1.8 6.4h0m-4.6-19.4h0m6 4.7h0m4.8-2.6h0m-7.9 4.9h0m6.3-3.8h0m-8.3-.9h0m.2-8.3h0m2.3 20.9h0m2.7-3.8h0m1.5-5.9h0m-1.3-5.7h0m2.5 7.2h0m-4.4-2.3h0m3.1-1.1h0m-7-6.5h0m3.9 22.1h0m3.5 .5h0m-7.6-14.3h0m9.4 5.7h0m-9.1-11h0m7.9 2.5h0m1.1-1.6h0m-5.3 6.3h0m5.1-8.6h0m-3 15.7h0m-5.5-7.2h0m8.2-7.6h0m-7.3 6.4h0m5.4 3.6h0m-6.4-6.8h0m4 3.7h0m1.2-10h0m1.3 1.9h0m-6.5 9h0m9.3 7.1h0m-5.1-12.8h0m-.4 1.9h0m4.4 19.4h0m-7.6-21.5h0m8.1-5.7h0m-1.7 12.8h0m-.3-11.1h0m2.8 9.9h0m-6.6-10.6h0m5.7-1.7h0m-3.3 5h0m-.4 19.2h0m5.2-23.1h0m-4.4 14.4h0m-.5-2.5h0m-2.6-8.5h0m5.7 11.4h0m-7.3-2.5h0m2.4-11.7h0m6.8 2.2h0m-2.3 21.6h0m-8-13.7h0m4.7 20.5h0m4.5-31.8h0m-.4 8.5h0m-.8 2.3h0m-3.5 13.3h0m3.6-22.3h0m1.3 22.6h0m-.6-20.6h0m1.5 26.7h0m-3.4-26.1h0m2.6 15.1h0m-7.6-19h0m.4 12.2h0m3.8 9.5h0m2.5-13.4h0m-5.4 14.2h0m1.5 8.2h0m-.1-30h0m-.3 .5h0m5 3.6h0m.4-4h0m-5.5 3.5h0m3.3 1.3h0m-5.9 11.3h0m-.2 1.4h0m-.1-9.7h0m3.5-4.9h0m-2.4 5.6h0m1.7 12.3h0m-2.3-20.7h0m-1.2 20.1h0m6.5-13.5h0m-6 13.2h0m6.1 .7h0m2.1-7.4h0m-8.2 11.7h0m-.9-12.4h0m3.4-.2h0m5.1-11.2h0m-4.1-3.7h0m-2.8 9.2h0m0 4.8h0m-1.5 10.8h0m.8-4h0m6.5-7.3h0m-7.9-7.7h0m6.1 9h0m-3.6-7.7h0m.8-2.3h0m1.7-2.9h0m-4.3 21.7h0m7-11.8h0m-.4 .2h0m-1.7-8.8h0m1.9 20.5h0m2.3-18.4h0m-7 0h0m5.9 10.7h0m-3.4-7.3h0m-4 19h0m8.3 1.5h0m-4-17.6h0m4.8 1.8h0m-.5-10.5h0m-2.5 7.3h0m2.1 3.8h0m-4.3-9.3h0m1.8 3.1h0m2-3.5h0m1.4 12.6h0m-6.8-14.3h0m5.6 14.6h0m-5.9-7.2h0m1.2-8.2h0m-2.1 14.1h0m2.3 2.8h0m1.4-1.2h0m1-.7h0m3.3-8.6h0m-3.8 16.3h0m-1.2-4.9h0m5.2-2.4h0m-.5 5.2h0m-6.9-.8h0m5.2-16.9h0m-.9 15.3h0m1.1-2.5h0m-6.1-14h0m7.2 1.9h0m-.1 14.7h0m-3.8-8.4h0m1.4 9.7h0m-2.3-15.3h0m-4.7-1.9h0m8.3 .5h0m-8 7.7h0m8-6.9h0m-4 22.8h0m-.4-6.1h0m-.4 1.7h0m-2.6-16.6h0m4.3 3.7h0m-1.9-1.8h0m4.5-8.3h0m1.6-.5h0m-8.7 6h0m6.4-3.9h0m0 3.5h0m.7 10.4h0m-1.1 7.4h0m-.1 1.5h0m-6.6-12.4h0m8.8-5.8h0m.4 1.8h0m-8.7-.5h0m7.2 15.8h0m1.6-22.3h0m-7.6 12.7h0m4.2 5.1h0m-3-7.1h0m-.6 19.8h0m.5-11.9h0m-.6-1.6h0m6.2-8.5h0m-1.4 6.1h0m1.5-3.4h0m-3.7-.3h0m2.5-12.3h0m-3.2 2.9h0m-4.2 2.5h0m4.9 3.2h0m0-9.3h0m5.1 19h0m-2.5-6.9h0m-6.2-12h0m-1.7 17.8h0m3.4-10.3h0m-.9 20.7h0m7.4-12.4h0m-4.6-13h0m.8 17.7h0m-.6-1.2h0m4.4-15.4h0m-3.9 5.1h0m-5.1-4.1h0m7.5 17.1h0m-2-3.8h0m3.2-12.4h0m-7-4.7h0m.4 21.6h0m2-3.7h0m.9-17.6h0m-5.9 2.7h0m8.3 6.2h0m-6.9-9.6h0m4.5 4.6h0m-3.7-2.6h0m8.5 1h0m-9.5 9.5h0m2.7-6.4h0m4.9-4h0m.1 10.3h0m-5.9-5.5h0m-1 4.6h0m2.5 10.5h0m-1.4 9.5h0m-2.8-27.5h0m1.4 4.9h0m4.7 6.5h0m-6.1 7.2h0m4-19.4h0m2.5 14.2h0m-3.5-16.8h0m-3.1 16.5h0m3.8 8.3h0m.4-18.1h0m-2.2 10.2h0m7.3-4.9h0m-1.1-13.2h0m0 12.6h0m-2.7-4.9h0m1.8 15h0m2.8-15.7h0m-6.9 12.4h0m5.9-10.6h0m-6.1-3.2h0m6.7 8.6h0m-7 7.8h0m-.2-17.4h0m2.6 27.5h0m-1.8 1.5h0m-.5-4.8h0m-.1-23.3h0m7.1 21.5h0m-9.4-23.4h0m2.9 20.4h0m3.1-8.7h0m-4.4-6.7h0m2-.6h0m.8 8.8h0m.8-11.3h0m-3.5 19.9h0m7.8 3.3h0m-1.9-21.7h0m-2.3 15.5h0m-3.3-13.5h0m1.7-8.8h0m3.9 20.2h0m-1.2-12h0m2.8-4.5h0m-4.8 7h0m2.6 20.8h0m-6.3-1.7h0m7.5-28.2h0m-2.7 6.2h0m0 10.1h0m3-9.2h0m-8.7 18.2h0m9.1-5.6h0m.7-6.2h0m-3.6 1.9h0m-3.9-16.5h0m2.9 6.4h0m3.9 19.7h0m-5.4 3.1h0m3-1.3h0m-1.4-19.9h0m.5 3.4h0m-2.6 .7h0m4.6 6.6h0m-4.7-15.7h0m0 10.1h0m7.1-5.1h0m-6.3-6.5h0m-3.9 4.9h0m6.5 7.1h0m3.5-14.2h0m-2 19.1h0m-3.2-8.2h0m-1.4 .2h0m1.4 14.9h0m-1.9-21.2h0m5-.1h0m-4.4-4.8h0m3.2 3.2h0m-.1 1.6h0m2.9-1.7h0m.1 16.1h0m-4.8-5.5h0m2.3 6.8h0m2-8.1h0m-7.3-8.7h0m-1.9 4.7h0m9.4 9.5h0m-7.7-8.4h0m2.2 9.3h0m4.6-17.8h0m-2.7 9.4h0m.1 2.5h0m4.5-10.1h0m-4.7 1.3h0m-1.5 13.5h0m.5-6.6h0m2-7.9h0m.7 26.6h0m2.9-14.6h0m.3-14.2h0m-9.2 3.9h0m.5 10.8h0m5.3 11.5h0m-5.4-22.9h0m-1.5 11.6h0m.7-10h0m6.4 6.3h0m-.2-3.5h0m-3-4.6h0m-2.6 21.9h0m6.6-16.5h0m.6-6.7h0m1 17.9h0m.1-4.1h0m-4.1 9h0m-3.2-4.6h0m4.2-2.4h0m.8 13.2h0m3-29.9h0m-.9 24.3h0m0-8.4h0m.6-1.9h0m-5.3-11.1h0m-.6-2.6h0m5.3 15.1h0m-3.7-7.4h0m-1.9-3.7h0m2.6 13.6h0m1.8 9.8h0m-2-21.5h0m-2.3 4.3h0m.8-2.1h0m2.5 2.8h0m-4.5-2.9h0m.1-7.7h0m6.8 11h0m-8-1.9h0m5.9 7.7h0m-7.9 1.6h0m1.2 1.3h0m.2-20.5h0m4 2.9h0m-1.4 23.3h0m1.8-23.9h0m-.6 13.3h0m-2.2-17.1h0m5.5 7.9h0m-5.2 0h0m7.4-5.1h0m-5.5-2.2h0m1.4 19.6h0m-2.3 1.7h0m.6-17.8h0m-4.9-1h0m3.1 2.9h0m6.2 20.1h0m-8-12.8h0m8.2-11.2h0m1 18.2h0m-.1-5.3h0m-8.7 14.5h0m8-14.2h0m-5.4 15.2h0m.1-26.9h0m-1.2 12.9h0m5.5 1.2h0m-2.1-5.7h0m-6.4 8h0m8.2-14.6h0m-1.2 2.9h0m-4.7-2.1h0m-1.7-4.2h0m2.6 2.3h0m-1.6 6h0m8.1-8.5h0m-9.2 4.8h0m6.4 1.1h0m-1.4 1.3h0m0-5.8h0m3.7 8.2h0m-5.6-4.6h0m-3.4 17.7h0m10.3-18.6h0m-5.2 19.7h0m-4.3-23.5h0m7.6 1.6h0m-7 2.3h0m8.6 3.5h0m-7.2 11.8h0m-1.5-9.1h0m3.7-6.5h0m1.2 16.1h0m-.5-17.2h0m1 1.6h0m3.1 15.9h0m-7.2-10.2h0m3.6-1.5h0m2.2-4.3h0m-6.2 16.5h0m5.5 3.7h0m-5.9 1.5h0m8-19.5h0m-9.2 4.6h0m-1 13.5h0m10.8-16.6h0m-2.3 3.5h0m1.6-6.8h0m-1.8-3.7h0m-2.3 .8h0m2.5-3.4h0m-.7 .6h0m-1.4 10.9h0m-5.5-11h0m4.3 25.8h0m-5.3-16.5h0m6.9-7.2h0m-3.4 5.5h0m6.6 .8h0m-6.8 8h0m1-16.1h0m3.2 7.1h0m2.7 14.3h0m-8.5 2.6h0m.6-5.1h0m4.4-1.4h0m0-18.2h0m-1.1 14.6h0m5.1-10.8h0m-6.5 .6h0m-2.7-3.9h0m.8 .3h0m7.9 13.9h0m-8.1-6.6h0m3-6.2h0m1.3 9.8h0m1.6-8.5h0m-7.3 17.5h0m3.2-14.8h0m4.6 14.6h0m-8.6-.9h0m9.5-15.3h0m-6.7-4.2h0m3.4 10.7h0m-2-3h0m-3.7 2.2h0m1.8-3.2h0m1.5 17.2h0m2.5-15.3h0m-.1 11h0m-2.1-11.5h0m-1.4-4.8h0m4 18.6h0m.7-11.5h0m-1.7 2.6h0m-2.3 4.7h0m7.1-13.2h0m-8.9 9.8h0m5.5-8h0m2 .3h0m-2.9 16.3h0m-.3-17.6h0m-1.5 19.3h0m-1.9 8.8h0m6.8-20.8h0m-8.1-9.4h0m5.2 7.7h0m-1.8 8.7h0m.1-13.3h0m5.3 4.5h0m-9.3 2.1h0m2.2 0h0m5.1-6.5h0m1.6 11.7h0m-7.9-2.7h0m6.1-14.4h0m-6.1 8.5h0m3.7-.3h0m2.6 3.9h0m1-7.4h0m-2-4.2h0m-.8 .4h0m2.9 .6h0m-8 10.1h0m8-5.9h0m-.5-3h0m-4.6-2h0m.3 19.9h0m-4.3-18.4h0m1 13.5h0m9.3-15.8h0m-3.5 10.6h0m1.5 9.8h0m-.6-18.3h0m1 17.4h0m.2-11.1h0m.1-6h0m-5.4 31.1h0m5.6-21.6h0" stroke="#43d143" stroke-width="1" stroke-linecap="round"/>
<path d="M190.9 499.2h0m3-7.9h0m1.1 .7h0m-4.6 .2h0m2.5-5.6h0m-5.7 .6h0m5 9.6h0m-1.1-4.6h0m-4 5h0m7.5-14.9h0m-2.8 14.1h0m-.6-13h0m-2.1 2.5h0m2.9 13h0m.5-6.3h0m-2.4 1.7h0m6.2-4.5h0m-10.3 8.8h0m9.1-8.7h0m-8.7 7.2h0m6-6h0m-5.4 5.2h0m5.2-3.2h0m1.6 4.4h0m-1.8 .1h0m2-1.7h0m-1.6-1.9h0m-4.8 3.5h0m-1.3-3.6h0m10.3-1.7h0m-1.9 6.1h0m-1.1-.5h0m2.9-10.8h0m-8.1 10.5h0m8.3-3.7h0m-4.5 4.4h0m3.1-8h0m.9 4.4h0m-6.1-5.6h0m5.5 9.2h0m-7.1-3.7h0m1.7-5.1h0m-.9-4h0m.9 10.5h0m2.8 .5h0" stroke="#f0303c" stroke-width="1" stroke-linecap="round"/>
<path d="M170.6 497.9h0m2.4 0h0m2.6 0h0m2.7 0h0" stroke="#f0303c" stroke-width="1" stroke-linecap="round"/>
<path d="M208.9 472.2h0m-2.1-3.1h0m4.9 24.9h0m1.6-20.2h0m-2.7-.1h0m-1.9 23.3h0m1-26.7h0m-3.5 12.1h0m6.6 .5h0m-2.2 2.1h0m1.6-7.2h0m-3.1-2.6h0m-3.1 6.1h0m3.6 8.8h0m-2.1-17.5h0m4 7h0m-5.7-10.7h0m-1.1 5.9h0m8.9 6.3h0m-1.1-3.1h0m-5.9 10.7h0m6.1-15.1h0m1.3-3.8h0m-5.6 .4h0m5 13.6h0m-8.5-10.4h0m.3 11.2h0m5.1-16h0m-6.3 1.3h0m7.8 24.4h0m1.1-23.8h0m-6.6 3.8h0m-1.3 10h0m7-10h0m-6.6 12.7h0m5.2-1.7h0m2.6-12h0m-7.7 15.3h0m3.2-.1h0m4.5-19.9h0m1.8 10.3h0m-.1-6.9h0m-2.1 7.8h0m-.7 8.2h0m-.8 2.4h0m-5.7-6.8h0m2.8-8.4h0m6.1 11.4h0m-3.4-15.6h0m-.2-2.3h0m-3.2 12.7h0m.2 11.1h0m-1-7.8h0m5.7 .2h0m-6.4-3.7h0m3.5 15.7h0m5.3-19.7h0m-4.7 9.3h0m-3.4-8.7h0m4.2 15.8h0m-2-1.3h0m1.2-3.1h0m.4-.8h0m1 7.1h0m-4.3-5.8h0m3-2.4h0m-5.8-2.4h0m5.4 10.3h0m4.4-22.4h0m-2.7 12.8h0m-2.2 5h0m-3-18.2h0m3.7-2.6h0m2 12.7h0m-6.4-.5h0m2.9-9.4h0m-1.1 2.8h0m7.3 9.7h0m-3.5-4h0m-2.8 .2h0m-4.1-6.7h0m-.2 19.4h0m10.8-10.5h0m-8.1 .7h0m1.3 5.5h0m-3.9-10.1h0m2.5 14.7h0m4.1-16.8h0m-6.6-1.5h0m10.1-7.2h0m-2.8 24.2h0m-4.8-13.1h0m-.9-10.9h0m1 22.5h0m1.1 3.5h0m2.2-17h0m-3.9 9.1h0m-.3-10.4h0m4.7-.9h0m1 6.4h0m.9 1.2h0m-3.9-1.7h0m1.1 3.2h0m1.4-12h0m-1.5-1.9h0m1.9 4.7h0m-4.1 16.8h0m3.5-15.2h0m2.2 15.7h0m-5.6 .6h0" stroke="#111111" stroke-width="1" stroke-linecap="round"/>
<path d="M225.7 473.9h0m2.1 11.3h0m-4.3-19.7h0m-.6 20.6h0m5.1-17.7h0m1.5-.7h0m-5.3 2.2h0m2.8 .4h0m-3.1 6.7h0m-1.8 13.3h0m1.1-14.3h0m3.1 .9h0m-4.6 2.6h0m5-14.2h0m-1.7 21.6h0m-.3-15.3h0m5.7 10.2h0m-2 1.2h0m-1.7-14.4h0m-4-2h0m2.3 .3h0m-3.2 11.3h0m4.8-10.5h0m-5.7-3h0m7 .7h0m-3.3 10.2h0m5.9 5.3h0m-7-6.6h0m3.3-2.4h0m-6.8 3.9h0m7.3 11h0m1.1-6.8h0m-4-.7h0m4.7-9.3h0m-.8 5.6h0m-8.1 2.7h0m1.5-1.1h0m3.6-8.7h0m3.9 15.3h0m1.1-8.2h0m-4.6-5.2h0m-.2 21.8h0m-1.8-21.7h0m-1.3 8.3h0m5.5 7.7h0m-3.1-7.6h0m5.8 4.6h0m-2-17.8h0m-.5 21.6h0m-1.6-20.8h0m2.9 23.6h0m-2.4-13.1h0m-.5-6.9h0m-2.3 16.1h0m.6-8.1h0m2.4-4.4h0m-.4 4.6h0m1.6 7.6h0m-4.3-15.2h0m-2.2 12.6h0m7.3-6.3h0m-3-1.2h0m-.4-8.5h0m3.6 15.3h0m-6-16.4h0m-1.2 9.8h0m2.1-4.2h0m-1 5.8h0m2.4-8.2h0m-1.1 13.1h0m-.2 11.2h0m-3.6-7.7h0m-.5-6.2h0m1.3-7.9h0m6.7 19.3h0m-4.3-7.8h0m1.2-8.9h0m-4.8 8.4h0m4.2-10.2h0m-3.3 14.2h0m4.1-18.4h0m-2 .8h0m2.2-4.1h0m4.9 8.2h0m-5.4-6.7h0m5.8 11.4h0m-6.1-6.6h0m5.4 1.6h0m-3.9 14.1h0m1.6-21.7h0m-1.6 2.3h0m-3.2-1.3h0m-3.1 24.7h0m10.2-8.1h0m-8.8-2.7h0m1.9-11.2h0m6.4 19h0m-6.4 .4h0m4.6 4h0m-.2-20.6h0m2.6 20.1h0m-8.5-11.1h0m.2-4.8h0m-.8 .3h0m-.6-3.4h0m.5 4.1h0m5.1-2h0m-2.8 .4h0m6.7 11.3h0m.8-12.3h0m-.7-2h0m-5.1 8.5h0m3.6 1.3h0m-3.2 4.5h0m2.8 .8h0m-5.4-7.1h0m-.5 .6h0m1.5-6.2h0m1.4-3.4h0m5.4-1.6h0m-7.7 12.2h0m-.2-5.6h0m0-6.6h0m4.4 1.9h0m-6.8 1.7h0m7-.5h0m-1.5-8.1h0m-3.7 27.1h0m1.2-23h0m2 22.9h0m-3.6-16.2h0m.9-4.8h0m3.9 3.2h0m2.2-1.5h0m1.6-7.5h0m-3.6 .7h0m-5.9 8h0m1.2 3.6h0m2.1-8.9h0m-4 .5h0m5.8 16.8h0m-1.9-5h0m4.2 9.9h0m-7.6-19.1h0m7.6-4h0m-5.4-2.4h0m2.8 17.6h0m.7-6.8h0m-3.7 13h0m5.3-15.1h0m-6.2 24.4h0m.6-27.4h0m.9 12.3h0m2.5 .6h0m2.4 4.5h0m0-9h0m-3-12.7h0m4.9 13.6h0m-2.1 1.1h0m-5.9-14.3h0m-1.9 17.8h0m3.4-.8h0m-.4-4.9h0m7.1-1.3h0m-9.8-10h0m2 25.3h0m1.2-24.2h0m5.4-1.5h0m-6.8 17.4h0m1.6-13.6h0m5.7 22.1h0m-3-7.2h0m-3-16.1h0m7.2-4.2h0m-3.8 3.6h0m-2.8-1.2h0m2.9 19.6h0m-3.9-8h0m2.1 14.1h0m-2-28.2h0m-.7 12h0m2.1 12.8h0m1.7 4.5h0m-3-21.4h0m-3.1-3.7h0m5.2-1.2h0m-2.3-1.3h0m-.6 6.3h0m4-3h0m-4.3 8.4h0m3.6-14h0m-.8 8.9h0m2.8 9.7h0m2.5-17h0m-7.6 26.2h0m-1.5-9.6h0m1.5-15.6h0m7.2-1.4h0m-8.1-1.1h0m4.5 2h0m1.1 20.4h0m-5.7-13h0m4.8-4.3h0m3 4.2h0m-2.1-7.4h0m1.6 17.9h0m-3.8-11.1h0m-3.3-2.3h0m-.7 10.6h0m3-13.3h0m-4.3 5.3h0m1.9-5.3h0m2.7-3.5h0m5.7 8.9h0m-2.1 7.8h0m2.5-3.6h0m-1.3-3.8h0m-1.6-6.5h0m-6.5 6.3h0m-1.5 9.8h0m7.8-16.4h0m1.9 13.4h0m1.2-14.9h0m-5.7 11.1h0m3.7 1.9h0m.7 1.2h0m-3.5 3.1h0m-4.6-6.6h0m8.8 8.7h0m.4-21.1h0m-1.8 30.9h0m-4.8-20h0m.4-1.4h0m-1.9-1.8h0m3.9-.2h0m1.7 14h0m1.6-2.7h0m-3.7 1.8h0m3.5-15.4h0m.6 5.4h0m-6.3 5.3h0m.3-8.9h0m4.5 3.7h0m-3.6-2h0m-4.2 4.5h0m9.5-11.6h0m-8.3 10.2h0m-.1 2.8h0m5.2-3.7h0m-.2 .4h0m-4.5-1.5h0m1.9 19h0m5-19.6h0m-.6 12.5h0m2.1-10h0m-7.6-6.2h0m-1.9 5.4h0m7.8 1.7h0m-6.1-7h0m4.2 19.5h0m1-5.4h0m-6.9-16.8h0m-.5 26.2h0m7.7-27.7h0m.7 23.8h0m-5.2-22.9h0m-2.2-2.2h0m6.5 17.6h0m-3.2-9.9h0m3.9 6.6h0m-6.8-6.7h0m3.7-5h0m-1.1 14.6h0m1.8 6.6h0m3.5-3.5h0m-1.8-10.3h0m-3.3-1.2h0m-3.8-3.9h0m8.1 5.3h0m1-2.8h0m-9 .6h0m-1.2 6.2h0m6.6-9.3h0m2.5 10.8h0m.8-4.6h0m-8.6-9.8h0m7.6 13.2h0m1.6-12h0m-3.8 .7h0m.7 3.6h0m-3.5-5.1h0m-1.2 9.1h0m-.2-4.1h0m1.9-6.8h0m.4 2.1h0m.4 16.4h0m5.4-5.3h0m-5.3-12.6h0m3.6 10.3h0m-6.2-8.8h0m-2.4 6.9h0m4.5 2.5h0m-4.7 4.6h0m1.8-11.6h0m-.1 1.1h0m-.3 25.6h0m9.1-27.2h0m-7.5 4.8h0m7-1.8h0m-6.6 8.8h0m5.9-11.3h0m-2.3 1.8h0m-6.5 12.4h0m10-12.8h0m-2.4-1.8h0m-3 7.2h0m3.7-2.2h0m-1.7 15h0m-2.8-17.3h0m.5 4.2h0m-.5 12.7h0m-2.8-22.1h0m6.9 23.9h0m-1.1 4.6h0m3.2-21.3h0m-8.2-6.9h0m5 14.1h0m-3.2-14.3h0m-2.7 16.6h0m4.6-17.6h0m-3.3 11.7h0m7.4-12.4h0m-6.8 5.2h0m5.3-.8h0m-3.9-3.5h0m-2.3 16.7h0m1.3 6.7h0m-.3-22.8h0m7.1 6.2h0m-3.1-7.6h0m-1.9 7.3h0m2.2 9.7h0m2.6-4.3h0m-6.5-9.3h0m3.4-3h0m-2.7 27h0m.2-3.9h0m-2.5-11.6h0m.5-5.2h0m8 3.1h0m-6-8.3h0m3.4 23.3h0m-4.8-24.2h0m5.8 13.3h0m-5.3-9.5h0m-2 18.9h0m4.5 5.3h0m1.1-18.3h0m-3.1-5.2h0m4 7.1h0m.1-2.3h0m-.3 10.6h0m.8 7.8h0m-8.5-9.1h0m6.1-11.4h0m2.6 15.6h0m-7.1-3.3h0m8.1-1.1h0m-2.9 .3h0m2.2 7.9h0m.9-22.9h0m-2.2 11.2h0m-5.1-12.8h0m-.3 2.8h0m3 13.5h0m-4.9-13.4h0m2.5 8.7h0m2.5-9.8h0m-5.9 5.4h0m8.9 3.1h0m-.4-9.1h0m-4.4-2.9h0m2.4 25.9h0m-.7-11.1h0m1-10.5h0m-2.6-4.8h0m2.4 7.6h0m-5.1 1.2h0m-1.2-.9h0m9.6 10.6h0m-.4-14.3h0m-3.9 2.5h0m-3.4-4.8h0m3.5-1.3h0m3.7 27h0m-6.2-6.9h0m1.3-19.8h0m4.3 8.8h0m-8.2 2.9h0m7.2 1.5h0m3 5.7h0m-6.9-10.6h0m2.4-7.2h0m-5.1 5.3h0m7.6 4.4h0m-7.1 6.2h0m-.1-5.9h0m6.7 14.6h0m-7.7-.8h0m4.2-20.3h0m3.5 17.3h0m-6-11.6h0m1.4-9.8h0m5.5 5.7h0m-4.5 14.9h0m-1.6-20.8h0m2.9 16.3h0m-2.4-11.3h0m1.2 21.9h0m-1.8-19.7h0m.3 6.4h0m5.4-6.6h0m-.5-5.9h0m-2.4 11.6h0m3.9-3.7h0m-8.4-9.8h0m2.8 5.5h0m4.1 17.1h0m-.8-20h0m-1.4 4.1h0m-5.8-.7h0m.7-1.7h0m-.4 5.5h0m7.6 1.8h0m-7.8-2.7h0m4.1 9.5h0m3.7-11.3h0m-5.2 4.1h0m1.6-11h0m3.9 13.3h0m-4.8-8.1h0m.4-5h0m2.1 16.9h0m3.7 12.6h0m-10.1-29.5h0m7.1 15h0m-1.3-12h0m4.9 12.1h0m-7.9-14.3h0m3.1 27h0m4.6-4.2h0m-8-18.4h0m.6 5.6h0m-.1-11.2h0m-3 1.1h0m1.3 22.1h0m1-10.1h0m2.6-11.4h0m4.4 25.4h0m-8.8-19.6h0m-.1-2.4h0m3.5 9.1h0m-3-2.9h0m9.7-4.2h0m-1.1 11.5h0m-2.2 5.4h0m-6.8-8.4h0m.1-10.7h0m7.3-.5h0m-2.2 16h0m-5.5-9.4h0m5.4 9h0m-2.4-11.1h0m-.5-1.2h0m.8 .8h0m2.2-8h0m-1.6 4.5h0m-3.2 19h0m7.9-4.6h0m-6.7-17.5h0m8.7 1.4h0m-1.5 23.9h0m0-17.9h0m-5-5.7h0m1.3 .9h0m.3 5.1h0m-4.7-.6h0m.4 1.9h0m7.6-6.8h0m-4.4 5.2h0m-2.9-1.8h0m3.1-3.6h0m-1.6 5.2h0m4.5-1.2h0m1.2 3.8h0m-4.7 17.1h0m-2.5-29.6h0m.3 12.1h0m3.2-5.4h0m-3.6 1.3h0m.3 6h0m7.5 2.2h0m-1.8-15.3h0m2.1-.8h0m-3.9 13.3h0m-.3 .2h0m-1.8 4.7h0m-.9-17.2h0m.3 15h0m-3.2-5h0m6.8 10.8h0m-1.6 8.4h0m0-4.8h0m-3.8-21.1h0m-.5 1.1h0m5.6 3.4h0m4.5 17.3h0m-7-.7h0m1.8-13.2h0m-4.9-5.6h0m2.3 22.5h0m7.8-17.8h0m-8.4 13h0m.4-24.2h0m6.9 10.5h0m-6.4 9.6h0m5.6-17.7h0m-6.1 14.7h0m2.4-2.7h0m-.7-8.2h0m-4.3 21h0m7.7-22.4h0m-2.4 8.9h0m-5.5 16.1h0m8.1-10.9h0m-1.1-6.8h0m-1 15.2h0m1.8-16.8h0m-6.8-3.3h0m.7 15h0m5.9-.2h0m2.5-2.2h0m.4-10.3h0m-2.2-4.3h0m2.2 6.4h0m-7 11.1h0m-.4-17.7h0m2.1 1.9h0m1.4-5.6h0m-3.2 3.5h0m-2.5 10.4h0m9.3 3.4h0m-5.9-5.9h0m3.8-1.2h0m.3 5h0m-6.1 7.5h0m3.6-2.9h0m5-17.5h0m-.4 19.9h0m-3.6-9h0m1.7-8.2h0m-4.9 10.9h0m5.5 1.1h0m.1 3.3h0m-1.8-6.9h0m2.9 12.1h0m-7.4-17.5h0m0-2.1h0m5.3 .9h0m-.9 20.8h0m3.1-9.9h0m-6.3-7.5h0m3.4 8.6h0m-1.3 3.6h0m3.9-8.2h0m-4.4 3.1h0m-5.9-1.2h0m9.2-8.8h0m-2.3-9h0m-6.6 15h0m.6-4.8h0m.6-7.5h0m1.6 12.3h0m-.2 4.6h0m4.4-9.6h0m-3.2 2.5h0m-1.9 5.1h0m-1.8-17.6h0m8.9 9.8h0m.1-2.1h0m-4.7-4.1h0m5.1 21.5h0m-8.2 3.5h0m.2-10.8h0m7.1-10.2h0m-3.5 25.4h0m-3.1-30.7h0m4 9.1h0m-2.3 12.7h0m-2.4-8.8h0m4.5 3.9h0m-2.9 5.1h0m-.2-1.6h0m6.8-1.4h0m-2.5-12.8h0m-3.8 13.5h0m.2 8.2h0m-3.3-12h0m10.2-7.8h0m-1.8 9.2h0m.8 2h0m-5-.7h0m5-18.8h0m-5.7 1.4h0m-1.1 6.5h0m7.4 .8h0m-6 1.3h0m2.2-6.7h0m.5-3.6h0m1.9 16.9h0m-4-16.3h0m3.6 3.4h0m-5.3 2.7h0m-1.2 5.1h0m4.1-7h0m-1.2 12.6h0m-.2-15h0m-2.3 11.2h0m6.9-12.4h0m1.3 6.3h0m-5.3-1.3h0m-1.1 19.8h0m-3.2-4.9h0m6.7-18.4h0m-6.3-.5h0m6.4-3.2h0m-6 7.1h0m1.6 .4h0m6-1.4h0m.8-5.4h0m.8 9.1h0m-2-7h0m.7 16.1h0m-2.3 2.2h0m-4.4-21h0m5.5 2.9h0m-3.2 23h0m1.2-2.1h0m-2.1-14.6h0m4.3-.9h0m-5.8-6.5h0m4.7 17.8h0m-3.2-20.2h0m-2 25.4h0m1.2-19.3h0m.5 3.8h0m3.5 14.2h0m1.6-12.3h0m1 6.3h0m-6.9-18.3h0m2.1 19.3h0m3.2-18.2h0m-1.9 2.4h0m-6.3 2.7h0m4.9 13.8h0m-2.9-16.3h0m6.6 12.9h0m-7.2 6.7h0m1.8-19.7h0m2 27.6h0m3.4-28.1h0m-8.1-3.1h0m1.8 25.4h0m-2.7-20.6h0m10.1-1.2h0m-10.1 8.6h0m3.1 9.9h0m-1.3-12.5h0m8 14.1h0m-6.8-.2h0m-.8-4.4h0m7.9-12.5h0m-1.3 11h0m-2.7-7.9h0m-2.1 15.4h0m4.3-10.9h0m1.9 8.8h0m-7.4 1.1h0m-.1-7.6h0m-2.7-16.3h0m5.1 24.3h0m-4.9-16h0m7.2-.8h0m-7.5 10.8h0m1.2-13.9h0m6.2 6.2h0m-3.2-10.2h0m5.1 2.8h0m1.6 11.8h0m-5.9-5.6h0m2.3-.9h0m-3.7-3.1h0m1-3.3h0m-3 23.1h0m-.3-11.7h0m1-6.3h0m7.2-3.7h0m-1.5 9.7h0m-3.5-7.2h0m1.3 .9h0m-1.2-5.6h0m-2.7 13.2h0m6.5 14.8h0m-2.2-27h0m3.9 29.3h0m-4.4-11.3h0m1.6-11.4h0m3.6-.7h0m-6.3 13.8h0m-3.7-.6h0m9.1-19.9h0m-7.8 13.5h0m.4 .6h0m3.2-1.3h0m3.8-3.1h0m1.2-5.6h0m-5.3 0h0m-1.8 9.1h0m-1.3-10.2h0m2.5 11.3h0m2.3-8.3h0m1.6-.1h0m-5.3-7.3h0m-1.2 5h0m-2.1 0h0m7.3 3.8h0m1.3-1.2h0m1.6 20.8h0m-3-24.1h0m-3.2 2.8h0m-1.9-4h0m-.3 12.8h0m4-1.7h0m.7 3h0m-1.1-3.2h0m5.4-8.6h0m-9.7-4.6h0m.6 4.7h0m7.7-5.2h0m-7.5 6.2h0m8.2-6.1h0m-3.7 12.1h0m-.6-.4h0m.7 12.1h0m.6-14.1h0m-.6 6h0m-2.6-5.1h0m2.6-5.4h0m.1-5.4h0m-6.5 20.3h0m7.3-13.1h0m3.4-1.4h0m-3.4 8h0m-5.1 2.4h0m8.6 0h0m-2.6-8.7h0m.7 6h0m-1.8 10.2h0m2.1-11.6h0m.6-8.3h0m-9.7 5.3h0m1.4-7h0m2.8 9.5h0m.2-8.2h0m-2 5h0m2.9 22.4h0m4-15.1h0m.4-12.7h0m-2.1 16.4h0m.6-9.2h0m-7.6-6.5h0m6 14.9h0m.4-17.5h0m-.1 18.1h0m-4.7-10.4h0m3.2 3h0m-2.1-4.1h0m3.7 3.8h0m.8-8.6h0m-6.7 7.9h0m1.8 1.9h0m-.8-2.8h0m1.8-6.7h0m-1.5 8.6h0m5.4 .7h0m-3.3-4.8h0m1.8-6.2h0m1.6 13.8h0m-2.8-11.9h0m5.1 8.4h0m-.8-9.9h0m.1 16.3h0m-6.2-9.2h0m3.2 11.2h0m3.1-17.3h0m0 3.2h0m-6.5 4.6h0m1.9 11.7h0m2.9-13.6h0m.5 3.5h0m.9 6.6h0m-2.8-4.5h0m2.8 9.9h0m.5-5.1h0m-4.2-16.8h0m-.7 13h0m4.1-9.8h0m-.1 16.7h0m-2.7-1.7h0m-.3-3.5h0m4.9-6.5h0m-8.1 .3h0m7.8 10.9h0m-6.4-6.6h0m-2-3.4h0m.4-11.9h0m1.8 2.5h0m-2.9 9.8h0m2.5 10.8h0m6.7-4.1h0m-4.9-8.1h0m-.8 .9h0m-4.2-10.3h0m4.3 4.3h0m1.8 1.6h0m-4.6 5h0m2 11.4h0m-3.8 1.6h0m6.1-24.9h0m-.8 6.1h0m-.5 5.1h0m-4.8 18.6h0m4.5-25.9h0m-1.8 17.8h0m2.6-11.9h0m1.3 10.3h0m-6.4 7h0m-.4-23.3h0m-.4 2.4h0m3.5 26.6h0m6.6-23.4h0m-4.1 7.2h0m-3.3-12.4h0m3 6.7h0m-.2-.2h0m5.4-3.2h0m-2.3 22.9h0m-8.4-6.7h0m3.6-18.6h0m3.3 3.3h0m-3.5 18.4h0m2.3-14.9h0m-5.4-1.6h0m2.3-3.3h0m7.8-5.1h0m-2 7.3h0m-3.3 5.5h0m-2.5 12.8h0m.9-18.6h0m-.9-9.2h0m2 28.3h0m-4.1-14.8h0m9.3 8.2h0m-7.9-3h0m6.5-19.3h0m-5.9 6.3h0m.4 15.1h0m5.9-13h0m-6.4 20.7h0m-.1-15.8h0m4.6 2.3h0m1.4-4.8h0m-4.6-4.9h0m1.7 3.7h0m-2.5 12.2h0m5.4-9.4h0m-7.7-4.6h0m1.7-2.8h0m-.4 2.3h0m-.5-5.8h0m-1.1 .5h0m.1 5.3h0m5-4.9h0m3.6 13.3h0m-8.2 5.7h0m-.2 4h0m5.5-19.8h0m-5 9.7h0m2.9 4.3h0m-2-3.3h0m5.2 5.2h0m-5.8-1.5h0m2.3-5.8h0m6.9-2.5h0m-2.9 9.6h0m.2-20.6h0m-4 10.1h0m1.5 3.4h0m-4.5-3.8h0m7.9-4h0m-7.4 5.7h0m4.1-4.5h0m-4.8-2.3h0m-.7-5.4h0m2.4 .9h0m3.5 13.7h0m-5.6 1.3h0m-.5-7.1h0m9.8 .8h0m-1 .7h0m-8.1-7.8h0m1.6 3.4h0m4.9-2.7h0m-5-1.1h0m4.2 5.6h0m-2.1-7.1h0m.2 9.5h0m-4.4 .1h0m1.3-8.1h0m8.4 6.2h0m-6.9 9.8h0m3.3 1.4h0m4.7-.5h0m-5-.5h0m-5.4-7.2h0m.4-10.8h0m1.2 8.1h0m1.9 10.3h0m-3.8-17.5h0m9.2 3.6h0m-9.4-4.1h0m2.4 .4h0m-1.6 3.2h0m5 14.8h0m-3.7-3.2h0m1.5 1.7h0m4.1 6h0m-7.5-.4h0m7.2-20.6h0m-5.9 .5h0" stroke="#111111" stroke-width="1" stroke-linecap="round"/>
<path d="M329.5 475.5h0m-4.7 10.1h0m1.2-7.7h0m.4 4h0m5.5 11.2h0m-10.3-9.9h0m2.9-3.1h0m5.8 3.4h0m.7 2.8h0m-6.4-8.6h0m7.3 5.7h0m-1.2-1.4h0m1.2 6.8h0m-6.8 .3h0m2.1-2.4h0m4.3-10.9h0m.8 2.2h0m-10.4 .6h0m3.4 11.2h0m-2.9-4.9h0m7.7 5.2h0m-4.5-2.9h0" stroke="#6aaaf0" stroke-width="1" stroke-linecap="round"/>
<path d="M315 485.2h0m-8 3.6h0m9-4.5h0m-6.5 3.5h0" stroke="#6aaaf0" stroke-width="1" stroke-linecap="round"/>
<path d="M360 491h0m1.3-.6h0" stroke="#a06060" stroke-width="1" stroke-linecap="round"/>
<path d="M394 481.7h0m9.2 9.4h0m-3.7-4.2h0m-5.5 .5h0m5 1.4h0m-1.6-5.6h0m-3.1-1.7h0m5.1 .7h0m-.6 7.5h0m-.6-.9h0m.7 .7h0m4.6-7.7h0" stroke="#a88cf0" stroke-width="1" stroke-linecap="round"/>
<path d="M435.6 490.5h0m.6-7.1h0m-2.8-3.3h0m-1.3 7.2h0" stroke="#d0c4f8" stroke-width="1" stroke-linecap="round"/>
<path d="M139.8 458.7H156.5" stroke="#111" stroke-width="1.3"/>
<text x="144.6" y="461.9" font-size="11.0" font-weight="bold" textLength="11.6" lengthAdjust="spacingAndGlyphs">***</text>
<path d="M173.5 458.7H190.4" stroke="#111" stroke-width="1.3"/>
<text x="178.3" y="461.9" font-size="11.0" font-weight="bold" textLength="7.7" lengthAdjust="spacingAndGlyphs">**</text>
<path d="M210 458.7H227" stroke="#111" stroke-width="1.3"/>
<text x="211.0" y="461.9" font-size="11.0" font-weight="bold" textLength="15.3" lengthAdjust="spacingAndGlyphs">****</text>
<text x="103.0" y="564.9" font-size="8.2" fill="#3d52ee" stroke="#3d52ee" stroke-width="0.22" text-anchor="middle" transform="rotate(-45 103.0 564.9)">PML-RARA</text>
<text x="110.8" y="570.7" font-size="8.2" fill="#3d52ee" stroke="#3d52ee" stroke-width="0.22" text-anchor="middle" transform="rotate(-45 110.8 570.7)">specific</text>
<text x="133.8" y="566.4" font-size="8.2" fill="#43c943" stroke="#43c943" stroke-width="0.22" text-anchor="middle" transform="rotate(-45 133.8 566.4)">Early stem &amp;</text>
<text x="142.0" y="573.1" font-size="8.2" fill="#43c943" stroke="#43c943" stroke-width="0.22" text-anchor="middle" transform="rotate(-45 142.0 573.1)">progenitors</text>
<text x="180.9" y="557.9" font-size="8.2" fill="#ee2a34" stroke="#ee2a34" stroke-width="0.22" text-anchor="middle" transform="rotate(-45 180.9 557.9)">GMPs</text>
<text x="198.8" y="567.9" font-size="8.2" fill="#111" text-anchor="middle" transform="rotate(-45 198.8 567.9)">Ctsg+ myeloid</text>
<text x="206.0" y="576.4" font-size="8.2" fill="#111" text-anchor="middle" transform="rotate(-45 206.0 576.4)">progenitors</text>
<text x="239.8" y="563.8" font-size="8.2" fill="#93c1ea" stroke="#93c1ea" stroke-width="0.22" text-anchor="middle" transform="rotate(-45 239.8 563.8)">Monocytes</text>
<text x="270.7" y="566.9" font-size="8.2" fill="#f4ad6a" stroke="#f4ad6a" stroke-width="0.22" text-anchor="middle" transform="rotate(-45 270.7 566.9)">Macrophages</text>
<text x="306.4" y="564.8" font-size="8.2" fill="#3a8fe6" stroke="#3a8fe6" stroke-width="0.22" text-anchor="middle" transform="rotate(-45 306.4 564.8)">Neutrophils</text>
<text x="336.8" y="568.7" font-size="8.2" fill="#7c3030" stroke="#7c3030" stroke-width="0.22" text-anchor="middle" transform="rotate(-45 336.8 568.7)">Dendritic cells</text>
<text x="376.4" y="565.7" font-size="8.2" fill="#8a5cf0" stroke="#8a5cf0" stroke-width="0.22" text-anchor="middle" transform="rotate(-45 376.4 565.7)">Progenitor B</text>
<text x="419.1" y="561.0" font-size="8.2" fill="#c6b6f6" stroke="#c6b6f6" stroke-width="0.22" text-anchor="middle" transform="rotate(-45 419.1 561.0)">Mature B</text>
<text x="460.6" y="557.4" font-size="8.2" fill="#ee5ee8" stroke="#ee5ee8" stroke-width="0.22" text-anchor="middle" transform="rotate(-45 460.6 557.4)">T cells</text>
<path d="M0.6 0V600M0 0.6H520M519.2 0V600M0 599.1H520" stroke="#000" stroke-width="1.6" fill="none"/>
</svg></body></html>
